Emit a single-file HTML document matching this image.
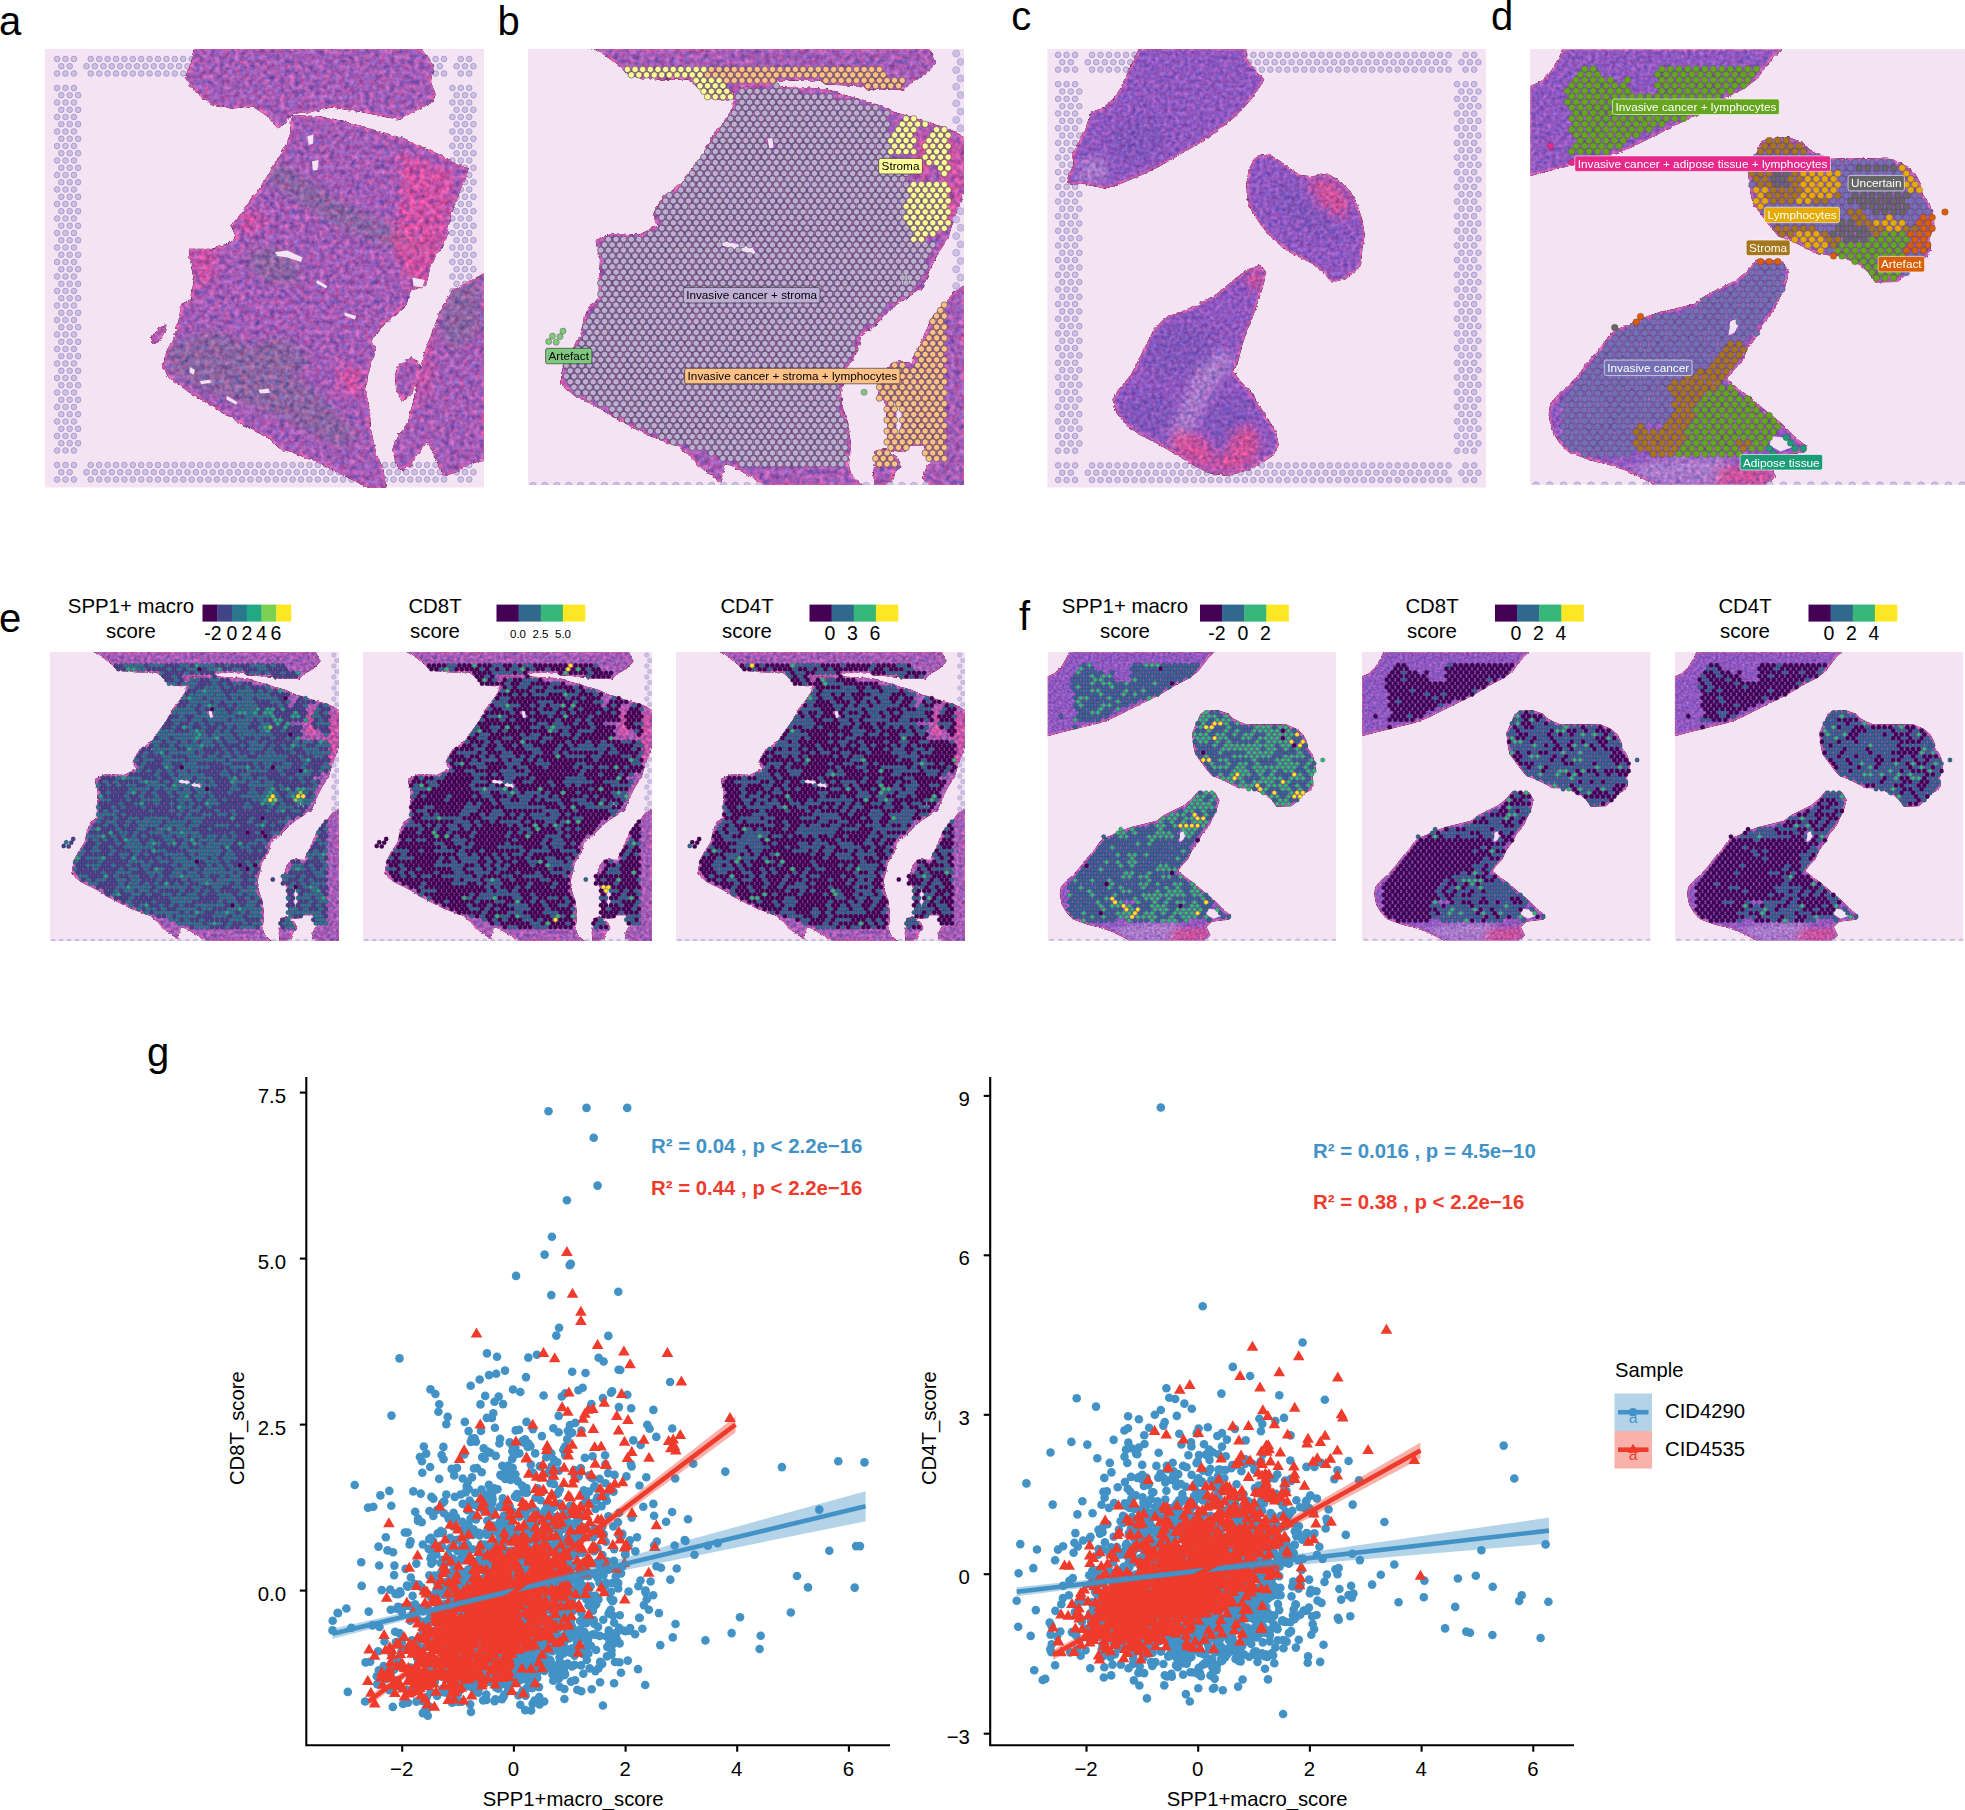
<!DOCTYPE html><html><head><meta charset="utf-8"><title>figure</title><style>html,body{margin:0;padding:0;background:#fff}svg{display:block}</style></head><body><svg width="1965" height="1810" viewBox="0 0 1965 1810" font-family="'Liberation Sans', sans-serif">
<defs>
<filter id="tis" x="-2%" y="-2%" width="104%" height="104%" color-interpolation-filters="sRGB">
<feTurbulence type="fractalNoise" baseFrequency="0.2" numOctaves="2" seed="4" result="n"/>
<feDisplacementMap in="SourceGraphic" in2="n" scale="4" xChannelSelector="R" yChannelSelector="B" result="d"/>
<feColorMatrix in="n" type="matrix" values="0.8 0.7 0 0 -0.25  0 0.9 0 0 0.05  -0.15 0.5 0 0 0.325  0 0 0 0 1" result="c"/>
<feComposite in="d" in2="c" operator="arithmetic" k1="1" k2="0.5" k3="0" k4="0"/>
</filter>
<filter id="tis2" x="-2%" y="-2%" width="104%" height="104%" color-interpolation-filters="sRGB">
<feTurbulence type="fractalNoise" baseFrequency="0.25" numOctaves="2" seed="9" result="n"/>
<feDisplacementMap in="SourceGraphic" in2="n" scale="3" xChannelSelector="R" yChannelSelector="B" result="d"/>
<feColorMatrix in="n" type="matrix" values="0.6 0.6 0 0 -0.1  0 0.8 0 0 0.1  -0.1 0.4 0 0 0.35  0 0 0 0 1" result="c"/>
<feComposite in="d" in2="c" operator="arithmetic" k1="1" k2="0.5" k3="0" k4="0"/>
</filter>
<filter id="bl" x="-10%" y="-10%" width="120%" height="120%"><feGaussianBlur stdDeviation="5"/></filter>
<marker id="mf" markerUnits="userSpaceOnUse" markerWidth="7.6" markerHeight="7.6" refX="3.8" refY="3.8"><circle cx="3.8" cy="3.8" r="2.8" fill="#cdc2e4" stroke="#a595cc" stroke-width="0.9"/></marker>
<marker id="mg" markerUnits="userSpaceOnUse" markerWidth="9" markerHeight="9" refX="4.5" refY="4.5"><circle cx="4.5" cy="4.5" r="3.5" fill="#cbbfe3" stroke="#b3a4d6" stroke-width="0.8"/></marker>
<marker id="m1" markerUnits="userSpaceOnUse" markerWidth="8.3" markerHeight="8.3" refX="4.15" refY="4.15"><circle cx="4.15" cy="4.15" r="3.15" fill="#BEAED4" stroke="#2a2a2a" stroke-width="0.5"/></marker>
<marker id="m2" markerUnits="userSpaceOnUse" markerWidth="8.3" markerHeight="8.3" refX="4.15" refY="4.15"><circle cx="4.15" cy="4.15" r="3.15" fill="#FFFF99" stroke="#2a2a2a" stroke-width="0.5"/></marker>
<marker id="m3" markerUnits="userSpaceOnUse" markerWidth="8.3" markerHeight="8.3" refX="4.15" refY="4.15"><circle cx="4.15" cy="4.15" r="3.15" fill="#FDC086" stroke="#2a2a2a" stroke-width="0.5"/></marker>
<marker id="n0" markerUnits="userSpaceOnUse" markerWidth="8.6" markerHeight="8.6" refX="4.3" refY="4.3"><circle cx="4.3" cy="4.3" r="3.3" fill="#66A61E" stroke="#333" stroke-width="0.25"/></marker>
<marker id="n1" markerUnits="userSpaceOnUse" markerWidth="8.6" markerHeight="8.6" refX="4.3" refY="4.3"><circle cx="4.3" cy="4.3" r="3.3" fill="#A6761D" stroke="#333" stroke-width="0.25"/></marker>
<marker id="n2" markerUnits="userSpaceOnUse" markerWidth="8.6" markerHeight="8.6" refX="4.3" refY="4.3"><circle cx="4.3" cy="4.3" r="3.3" fill="#7570B3" stroke="#333" stroke-width="0.25"/></marker>
<marker id="n3" markerUnits="userSpaceOnUse" markerWidth="8.6" markerHeight="8.6" refX="4.3" refY="4.3"><circle cx="4.3" cy="4.3" r="3.3" fill="#666666" stroke="#333" stroke-width="0.25"/></marker>
<marker id="n4" markerUnits="userSpaceOnUse" markerWidth="8.6" markerHeight="8.6" refX="4.3" refY="4.3"><circle cx="4.3" cy="4.3" r="3.3" fill="#E6AB02" stroke="#333" stroke-width="0.25"/></marker>
<marker id="n5" markerUnits="userSpaceOnUse" markerWidth="8.6" markerHeight="8.6" refX="4.3" refY="4.3"><circle cx="4.3" cy="4.3" r="3.3" fill="#D95F02" stroke="#333" stroke-width="0.25"/></marker>
<marker id="n6" markerUnits="userSpaceOnUse" markerWidth="8.6" markerHeight="8.6" refX="4.3" refY="4.3"><circle cx="4.3" cy="4.3" r="3.3" fill="#E7298A" stroke="#333" stroke-width="0.25"/></marker>
<marker id="n7" markerUnits="userSpaceOnUse" markerWidth="8.6" markerHeight="8.6" refX="4.3" refY="4.3"><circle cx="4.3" cy="4.3" r="3.3" fill="#1B9E77" stroke="#333" stroke-width="0.25"/></marker>
<marker id="v60" markerUnits="userSpaceOnUse" markerWidth="8.6" markerHeight="8.6" refX="4.3" refY="4.3"><circle cx="4.3" cy="4.3" r="3.3" fill="#440154" stroke="#1a1030" stroke-width="0.3"/></marker>
<marker id="v61" markerUnits="userSpaceOnUse" markerWidth="8.6" markerHeight="8.6" refX="4.3" refY="4.3"><circle cx="4.3" cy="4.3" r="3.3" fill="#414487" stroke="#1a1030" stroke-width="0.3"/></marker>
<marker id="v62" markerUnits="userSpaceOnUse" markerWidth="8.6" markerHeight="8.6" refX="4.3" refY="4.3"><circle cx="4.3" cy="4.3" r="3.3" fill="#2A788E" stroke="#1a1030" stroke-width="0.3"/></marker>
<marker id="v63" markerUnits="userSpaceOnUse" markerWidth="8.6" markerHeight="8.6" refX="4.3" refY="4.3"><circle cx="4.3" cy="4.3" r="3.3" fill="#22A884" stroke="#1a1030" stroke-width="0.3"/></marker>
<marker id="v64" markerUnits="userSpaceOnUse" markerWidth="8.6" markerHeight="8.6" refX="4.3" refY="4.3"><circle cx="4.3" cy="4.3" r="3.3" fill="#7AD151" stroke="#1a1030" stroke-width="0.3"/></marker>
<marker id="v65" markerUnits="userSpaceOnUse" markerWidth="8.6" markerHeight="8.6" refX="4.3" refY="4.3"><circle cx="4.3" cy="4.3" r="3.3" fill="#FDE725" stroke="#1a1030" stroke-width="0.3"/></marker>
<marker id="v40" markerUnits="userSpaceOnUse" markerWidth="8.6" markerHeight="8.6" refX="4.3" refY="4.3"><circle cx="4.3" cy="4.3" r="3.3" fill="#440154" stroke="#1a1030" stroke-width="0.3"/></marker>
<marker id="v41" markerUnits="userSpaceOnUse" markerWidth="8.6" markerHeight="8.6" refX="4.3" refY="4.3"><circle cx="4.3" cy="4.3" r="3.3" fill="#31688E" stroke="#1a1030" stroke-width="0.3"/></marker>
<marker id="v42" markerUnits="userSpaceOnUse" markerWidth="8.6" markerHeight="8.6" refX="4.3" refY="4.3"><circle cx="4.3" cy="4.3" r="3.3" fill="#35B779" stroke="#1a1030" stroke-width="0.3"/></marker>
<marker id="v43" markerUnits="userSpaceOnUse" markerWidth="8.6" markerHeight="8.6" refX="4.3" refY="4.3"><circle cx="4.3" cy="4.3" r="3.3" fill="#FDE725" stroke="#1a1030" stroke-width="0.3"/></marker>
<marker id="gb" markerUnits="userSpaceOnUse" markerWidth="10.6" markerHeight="10.6" refX="5.3" refY="5.3"><circle cx="5.3" cy="5.3" r="4.3" fill="#4292C6"/></marker>
<marker id="gr" markerUnits="userSpaceOnUse" markerWidth="12" markerHeight="12" refX="6" refY="6.3"><path d="M6,0.3L11.8,10.3H0.2Z" fill="#EF3B2C"/></marker>
<style>polyline{fill:none;stroke:none}.mf{marker:url(#mf)}.mg{marker:url(#mg)}.m1{marker:url(#m1)}.m2{marker:url(#m2)}.m3{marker:url(#m3)}.n0{marker:url(#n0)}.n1{marker:url(#n1)}.n2{marker:url(#n2)}.n3{marker:url(#n3)}.n4{marker:url(#n4)}.n5{marker:url(#n5)}.n6{marker:url(#n6)}.n7{marker:url(#n7)}.v60{marker:url(#v60)}.v61{marker:url(#v61)}.v62{marker:url(#v62)}.v63{marker:url(#v63)}.v64{marker:url(#v64)}.v65{marker:url(#v65)}.v40{marker:url(#v40)}.v41{marker:url(#v41)}.v42{marker:url(#v42)}.v43{marker:url(#v43)}.gb{marker:url(#gb)}.gr{marker:url(#gr)}</style>
</defs>
<text x="-1" y="35" font-size="40">a</text>
<text x="497.5" y="35" font-size="40">b</text>
<text x="1011.2" y="30" font-size="40">c</text>
<text x="1491" y="30" font-size="40">d</text>
<text x="-1" y="632" font-size="40">e</text>
<text x="1019" y="629.5" font-size="40">f</text>
<text x="147" y="1065.7" font-size="40">g</text>
<clipPath id="cpa"><rect x="45" y="49" width="439" height="438.5"/></clipPath>
<rect x="45" y="49" width="439" height="438.5" fill="#f4e3f2"/>
<g clip-path="url(#cpa)">
<polyline class="mf" points="57.1,59 65.5,59 73.9,59 90.7,59 99.2,59 107.6,59 116,59 124.4,59 132.8,59 141.2,59 149.6,59 158,59 166.4,59 174.8,59 183.2,59 191.7,59 200.1,59 208.5,59 216.9,59 225.3,59 233.7,59 242.1,59 250.5,59 258.9,59 267.4,59 275.8,59 284.2,59 292.6,59 301,59 309.4,59 317.8,59 326.2,59 334.6,59 343,59 351.5,59 359.9,59 368.3,59 376.7,59 385.1,59 393.5,59 401.9,59 410.3,59 418.7,59 427.1,59 435.6,59 444,59 460.8,59 469.2,59 61.3,66.2 69.7,66.2 86.5,66.2 94.9,66.2 103.4,66.2 111.8,66.2 120.2,66.2 128.6,66.2 137,66.2 145.4,66.2 153.8,66.2 162.2,66.2 170.6,66.2 179,66.2 187.5,66.2 195.9,66.2 204.3,66.2 212.7,66.2 221.1,66.2 229.5,66.2 237.9,66.2 246.3,66.2 254.7,66.2 263.1,66.2 271.6,66.2 280,66.2 288.4,66.2 296.8,66.2 305.2,66.2 313.6,66.2 322,66.2 330.4,66.2 338.8,66.2 347.2,66.2 355.7,66.2 364.1,66.2 372.5,66.2 380.9,66.2 389.3,66.2 397.7,66.2 406.1,66.2 414.5,66.2 422.9,66.2 431.3,66.2 439.8,66.2 456.6,66.2 465,66.2 473.4,66.2 57.1,73.5 65.5,73.5 73.9,73.5 90.7,73.5 99.2,73.5 107.6,73.5 116,73.5 124.4,73.5 132.8,73.5 141.2,73.5 149.6,73.5 158,73.5 166.4,73.5 174.8,73.5 183.2,73.5 191.7,73.5 200.1,73.5 208.5,73.5 216.9,73.5 225.3,73.5 233.7,73.5 242.1,73.5 250.5,73.5 258.9,73.5 267.4,73.5 275.8,73.5 284.2,73.5 292.6,73.5 301,73.5 309.4,73.5 317.8,73.5 326.2,73.5 334.6,73.5 343,73.5 351.5,73.5 359.9,73.5 368.3,73.5 376.7,73.5 385.1,73.5 393.5,73.5 401.9,73.5 410.3,73.5 418.7,73.5 427.1,73.5 435.6,73.5 444,73.5 460.8,73.5 469.2,73.5 57.1,88 65.5,88 73.9,88 452.4,88 460.8,88 469.2,88 61.3,95.2 69.7,95.2 78.1,95.2 456.6,95.2 465,95.2 473.4,95.2 57.1,102.5 65.5,102.5 73.9,102.5 452.4,102.5 460.8,102.5 469.2,102.5 61.3,109.8 69.7,109.8 78.1,109.8 456.6,109.8 465,109.8 473.4,109.8 57.1,117 65.5,117 73.9,117 452.4,117 460.8,117 469.2,117 61.3,124.2 69.7,124.2 78.1,124.2 456.6,124.2 465,124.2 473.4,124.2 57.1,131.5 65.5,131.5 73.9,131.5 452.4,131.5 460.8,131.5 469.2,131.5 61.3,138.8 69.7,138.8 78.1,138.8 456.6,138.8 465,138.8 473.4,138.8 57.1,146 65.5,146 73.9,146 452.4,146 460.8,146 469.2,146 61.3,153.2 69.7,153.2 78.1,153.2 456.6,153.2 465,153.2 473.4,153.2 57.1,160.5 65.5,160.5 73.9,160.5 452.4,160.5 460.8,160.5 469.2,160.5 61.3,167.8 69.7,167.8 78.1,167.8 456.6,167.8 465,167.8 473.4,167.8 57.1,175 65.5,175 73.9,175 452.4,175 460.8,175 469.2,175 61.3,182.2 69.7,182.2 78.1,182.2 456.6,182.2 465,182.2 473.4,182.2 57.1,189.5 65.5,189.5 73.9,189.5 452.4,189.5 460.8,189.5 469.2,189.5 61.3,196.8 69.7,196.8 78.1,196.8 456.6,196.8 465,196.8 473.4,196.8 57.1,204 65.5,204 73.9,204 452.4,204 460.8,204 469.2,204 61.3,211.2 69.7,211.2 78.1,211.2 456.6,211.2 465,211.2 473.4,211.2 57.1,218.5 65.5,218.5 73.9,218.5 452.4,218.5 460.8,218.5 469.2,218.5 61.3,225.8 69.7,225.8 78.1,225.8 456.6,225.8 465,225.8 473.4,225.8 57.1,233 65.5,233 73.9,233 452.4,233 460.8,233 469.2,233 61.3,240.2 69.7,240.2 78.1,240.2 456.6,240.2 465,240.2 473.4,240.2 57.1,247.5 65.5,247.5 73.9,247.5 452.4,247.5 460.8,247.5 469.2,247.5 61.3,254.8 69.7,254.8 78.1,254.8 456.6,254.8 465,254.8 473.4,254.8 57.1,262 65.5,262 73.9,262 452.4,262 460.8,262 469.2,262 61.3,269.2 69.7,269.2 78.1,269.2 456.6,269.2 465,269.2 473.4,269.2 57.1,276.5 65.5,276.5 73.9,276.5 452.4,276.5 460.8,276.5 469.2,276.5 61.3,283.8 69.7,283.8 78.1,283.8 456.6,283.8 465,283.8 473.4,283.8 57.1,291 65.5,291 73.9,291 452.4,291 460.8,291 469.2,291 61.3,298.2 69.7,298.2 78.1,298.2 456.6,298.2 465,298.2 473.4,298.2 57.1,305.5 65.5,305.5 73.9,305.5 452.4,305.5 460.8,305.5 469.2,305.5 61.3,312.8 69.7,312.8 78.1,312.8 456.6,312.8 465,312.8 473.4,312.8 57.1,320 65.5,320 73.9,320 452.4,320 460.8,320 469.2,320 61.3,327.2 69.7,327.2 78.1,327.2 456.6,327.2 465,327.2 473.4,327.2 57.1,334.5 65.5,334.5 73.9,334.5 452.4,334.5 460.8,334.5 469.2,334.5 61.3,341.8 69.7,341.8 78.1,341.8 456.6,341.8 465,341.8 473.4,341.8 57.1,349 65.5,349 73.9,349 452.4,349 460.8,349 469.2,349 61.3,356.2 69.7,356.2 78.1,356.2 456.6,356.2 465,356.2 473.4,356.2 57.1,363.5 65.5,363.5 73.9,363.5 452.4,363.5 460.8,363.5 469.2,363.5 61.3,370.8 69.7,370.8 78.1,370.8 456.6,370.8 465,370.8 473.4,370.8 57.1,378 65.5,378 73.9,378 452.4,378 460.8,378 469.2,378 61.3,385.2 69.7,385.2 78.1,385.2 456.6,385.2 465,385.2 473.4,385.2 57.1,392.5 65.5,392.5 73.9,392.5 452.4,392.5 460.8,392.5 469.2,392.5 61.3,399.8 69.7,399.8 78.1,399.8 456.6,399.8 465,399.8 473.4,399.8 57.1,407 65.5,407 73.9,407 452.4,407 460.8,407 469.2,407 61.3,414.2 69.7,414.2 78.1,414.2 456.6,414.2 465,414.2 473.4,414.2 57.1,421.5 65.5,421.5 73.9,421.5 452.4,421.5 460.8,421.5 469.2,421.5 61.3,428.8 69.7,428.8 78.1,428.8 456.6,428.8 465,428.8 473.4,428.8 57.1,436 65.5,436 73.9,436 452.4,436 460.8,436 469.2,436 61.3,443.2 69.7,443.2 78.1,443.2 456.6,443.2 465,443.2 473.4,443.2 57.1,450.5 65.5,450.5 73.9,450.5 452.4,450.5 460.8,450.5 469.2,450.5 57.1,465 65.5,465 73.9,465 90.7,465 99.2,465 107.6,465 116,465 124.4,465 132.8,465 141.2,465 149.6,465 158,465 166.4,465 174.8,465 183.2,465 191.7,465 200.1,465 208.5,465 216.9,465 225.3,465 233.7,465 242.1,465 250.5,465 258.9,465 267.4,465 275.8,465 284.2,465 292.6,465 301,465 309.4,465 317.8,465 326.2,465 334.6,465 343,465 351.5,465 359.9,465 368.3,465 376.7,465 385.1,465 393.5,465 401.9,465 410.3,465 418.7,465 427.1,465 435.6,465 444,465 460.8,465 469.2,465 61.3,472.2 69.7,472.2 86.5,472.2 94.9,472.2 103.4,472.2 111.8,472.2 120.2,472.2 128.6,472.2 137,472.2 145.4,472.2 153.8,472.2 162.2,472.2 170.6,472.2 179,472.2 187.5,472.2 195.9,472.2 204.3,472.2 212.7,472.2 221.1,472.2 229.5,472.2 237.9,472.2 246.3,472.2 254.7,472.2 263.1,472.2 271.6,472.2 280,472.2 288.4,472.2 296.8,472.2 305.2,472.2 313.6,472.2 322,472.2 330.4,472.2 338.8,472.2 347.2,472.2 355.7,472.2 364.1,472.2 372.5,472.2 380.9,472.2 389.3,472.2 397.7,472.2 406.1,472.2 414.5,472.2 422.9,472.2 431.3,472.2 439.8,472.2 456.6,472.2 465,472.2 473.4,472.2 57.1,479.5 65.5,479.5 73.9,479.5 90.7,479.5 99.2,479.5 107.6,479.5 116,479.5 124.4,479.5 132.8,479.5 141.2,479.5 149.6,479.5 158,479.5 166.4,479.5 174.8,479.5 183.2,479.5 191.7,479.5 200.1,479.5 208.5,479.5 216.9,479.5 225.3,479.5 233.7,479.5 242.1,479.5 250.5,479.5 258.9,479.5 267.4,479.5 275.8,479.5 284.2,479.5 292.6,479.5 301,479.5 309.4,479.5 317.8,479.5 326.2,479.5 334.6,479.5 343,479.5 351.5,479.5 359.9,479.5 368.3,479.5 376.7,479.5 385.1,479.5 393.5,479.5 401.9,479.5 410.3,479.5 418.7,479.5 427.1,479.5 435.6,479.5 444,479.5 460.8,479.5 469.2,479.5"/>
<g id="tA" filter="url(#tis)"><clipPath id="tAc"><path d="M194.9,48.7 192.4,62.5 186.2,77.5 194.9,90 209.9,102.5 232.4,107.5 252.4,105 267.4,115 277.4,126.2 284.9,122.5 291.1,112.5 307.4,111.2 332.3,106.2 369.8,112.5 399.8,118.7 409.8,112.5 429.8,102.5 434.8,95 429.8,82.5 432.3,65 419.8,48.7ZM292.4,116.2 319.9,117.5 344.8,122.5 369.8,130 404.8,140 432.3,152.4 467.3,169.9 462.3,184.9 454.8,199.9 449.8,214.9 444.8,239.9 429.8,264.9 424.8,284.9 409.8,289.9 404.8,304.9 379.8,327.4 369.8,339.9 374.8,349.8 367.3,372.3 364.8,389.8 368.6,409.8 369.8,429.8 374.8,452.3 382.3,469.8 384.8,487.3 369.8,487.3 344.8,474.8 319.9,462.3 294.9,452.3 282.4,449.8 269.9,437.3 244.9,424.8 219.9,409.8 194.9,394.8 169.9,377.3 163.7,367.3 167.4,352.3 174.9,337.4 179.9,319.9 182.4,304.9 192.4,299.9 194.9,279.9 191.2,259.9 189.9,249.9 209.9,249.9 227.4,244.9 237.4,237.4 232.4,226.2 244.9,209.9 259.9,189.9 272.4,169.9 284.9,149.9 291.1,135ZM484,274.9 469.8,282.4 454.8,289.9 444.8,304.9 439.8,314.9 432.3,334.9 424.8,354.8 419.8,374.8 414.8,399.8 409.8,419.8 404.8,429.8 397.3,437.3 393.6,449.8 397.3,464.8 402.3,469.8 409.8,464.8 419.8,449.8 427.3,439.8 432.3,449.8 439.8,464.8 444.8,474.8 459.8,469.8 469.8,462.3 484,459.8ZM399.8,364.8 412.3,358.6 418.6,364.8 417.3,379.8 409.8,394.8 402.3,399.8 397.3,389.8 396.1,374.8ZM152.4,337.4 159.9,327.4 164.9,326.1 163.7,332.4 157.4,341.1 153.7,342.3Z"/></clipPath><path d="M194.9,48.7 192.4,62.5 186.2,77.5 194.9,90 209.9,102.5 232.4,107.5 252.4,105 267.4,115 277.4,126.2 284.9,122.5 291.1,112.5 307.4,111.2 332.3,106.2 369.8,112.5 399.8,118.7 409.8,112.5 429.8,102.5 434.8,95 429.8,82.5 432.3,65 419.8,48.7ZM292.4,116.2 319.9,117.5 344.8,122.5 369.8,130 404.8,140 432.3,152.4 467.3,169.9 462.3,184.9 454.8,199.9 449.8,214.9 444.8,239.9 429.8,264.9 424.8,284.9 409.8,289.9 404.8,304.9 379.8,327.4 369.8,339.9 374.8,349.8 367.3,372.3 364.8,389.8 368.6,409.8 369.8,429.8 374.8,452.3 382.3,469.8 384.8,487.3 369.8,487.3 344.8,474.8 319.9,462.3 294.9,452.3 282.4,449.8 269.9,437.3 244.9,424.8 219.9,409.8 194.9,394.8 169.9,377.3 163.7,367.3 167.4,352.3 174.9,337.4 179.9,319.9 182.4,304.9 192.4,299.9 194.9,279.9 191.2,259.9 189.9,249.9 209.9,249.9 227.4,244.9 237.4,237.4 232.4,226.2 244.9,209.9 259.9,189.9 272.4,169.9 284.9,149.9 291.1,135ZM484,274.9 469.8,282.4 454.8,289.9 444.8,304.9 439.8,314.9 432.3,334.9 424.8,354.8 419.8,374.8 414.8,399.8 409.8,419.8 404.8,429.8 397.3,437.3 393.6,449.8 397.3,464.8 402.3,469.8 409.8,464.8 419.8,449.8 427.3,439.8 432.3,449.8 439.8,464.8 444.8,474.8 459.8,469.8 469.8,462.3 484,459.8ZM399.8,364.8 412.3,358.6 418.6,364.8 417.3,379.8 409.8,394.8 402.3,399.8 397.3,389.8 396.1,374.8ZM152.4,337.4 159.9,327.4 164.9,326.1 163.7,332.4 157.4,341.1 153.7,342.3Z" fill="#a25cb6" stroke="#c45cb0" stroke-width="2.5"/><g clip-path="url(#tAc)" filter="url(#bl)"><path d="M263.4,169.3 284.3,163 338.9,200.8 391.4,225.9 431.3,242.7 427.1,255.3 380.9,244.8 328.4,221.7 275.9,188.2Z" fill="#7d6a94" opacity=".6"/><path d="M166.8,345.6 213,330.9 267.5,351.9 317.9,393.9 359.9,435.9 338.9,446.3 275.9,414.9 213,393.9 171,372.9Z" fill="#7d6a94" opacity=".6"/><path d="M250.8,251.1 275.9,246.9 301.1,263.7 296.9,284.7 267.5,280.5 248.7,267.9Z" fill="#7d6a94" opacity=".6"/><path d="M255,341.4 284.3,337.2 309.5,356.1 301.1,372.9 271.7,364.5Z" fill="#7d6a94" opacity=".6"/><path d="M443.9,288.9 480,276.3 480,330.9 454.4,351.9 439.7,330.9Z" fill="#7d6a94" opacity=".6"/><path d="M397.7,152.5 454.4,169.3 448.1,225.9 429.2,284.7 412.4,288.9 391.4,246.9 401.9,194.5Z" fill="#d9509f" opacity=".75"/><path d="M192,251.1 219.3,246.9 213,278.4 196.2,288.9Z" fill="#d9509f" opacity=".75"/><path d="M238.2,217.5 259.2,209.2 267.5,225.9 242.4,234.3Z" fill="#d9509f" opacity=".75"/><path d="M338.9,362.4 364.1,372.9 359.9,398.1 338.9,389.7Z" fill="#d9509f" opacity=".75"/><path d="M420.8,341.4 431.3,330.9 429.2,383.4 418.7,414.9Z" fill="#d9509f" opacity=".75"/></g></g><g id="tAh"><path d="M307.4,136.2 313.6,134.5 312.9,143.7 308.6,144.9Z" fill="#f4e3f2"/><path d="M311.9,161.2 318.6,159.9 317.4,169.9 312.9,170.4Z" fill="#f4e3f2"/><path d="M274.9,251.9 287.4,250.4 302.4,257.4 301.1,261.9 287.4,257.4 277.4,256.1Z" fill="#f4e3f2"/><path d="M317.4,279.9 327.3,286.1 326.1,288.6 316.1,282.9Z" fill="#f4e3f2"/><path d="M344.8,312.4 356.1,316.1 354.8,319.4 344.3,315.4Z" fill="#f4e3f2"/><path d="M189.9,367.3 194.9,369.8 193.7,374.8 189.4,372.3Z" fill="#f4e3f2"/><path d="M199.9,381.1 209.9,379.8 211.2,382.8 201.2,384.3Z" fill="#f4e3f2"/><path d="M258.6,389.8 268.6,388.6 269.9,392.8 259.9,393.6Z" fill="#f4e3f2"/><path d="M227.4,396.1 237.4,402.3 236.1,404.8 226.1,399.3Z" fill="#f4e3f2"/><path d="M412.3,277.4 424.8,279.9 422.3,287.4 413.6,286.1Z" fill="#f4e3f2"/></g>
</g>
<clipPath id="cpc"><rect x="1047.5" y="49" width="438.5" height="438.5"/></clipPath>
<rect x="1047.5" y="49" width="438.5" height="438.5" fill="#f4e3f2"/>
<g clip-path="url(#cpc)">
<polyline class="mf" points="1058.1,54.9 1066.6,54.9 1075.1,54.9 1092.1,54.9 1100.5,54.9 1109,54.9 1117.5,54.9 1126,54.9 1134.5,54.9 1143,54.9 1151.5,54.9 1160,54.9 1168.5,54.9 1177,54.9 1185.4,54.9 1193.9,54.9 1202.4,54.9 1210.9,54.9 1219.4,54.9 1227.9,54.9 1236.4,54.9 1244.9,54.9 1253.4,54.9 1261.9,54.9 1270.3,54.9 1278.8,54.9 1287.3,54.9 1295.8,54.9 1304.3,54.9 1312.8,54.9 1321.3,54.9 1329.8,54.9 1338.3,54.9 1346.8,54.9 1355.2,54.9 1363.7,54.9 1372.2,54.9 1380.7,54.9 1389.2,54.9 1397.7,54.9 1406.2,54.9 1414.7,54.9 1423.2,54.9 1431.7,54.9 1440.1,54.9 1448.6,54.9 1465.6,54.9 1474.1,54.9 1062.3,62.2 1070.8,62.2 1087.8,62.2 1096.3,62.2 1104.8,62.2 1113.3,62.2 1121.8,62.2 1130.3,62.2 1138.8,62.2 1147.2,62.2 1155.7,62.2 1164.2,62.2 1172.7,62.2 1181.2,62.2 1189.7,62.2 1198.2,62.2 1206.7,62.2 1215.2,62.2 1223.7,62.2 1232.1,62.2 1240.6,62.2 1249.1,62.2 1257.6,62.2 1266.1,62.2 1274.6,62.2 1283.1,62.2 1291.6,62.2 1300.1,62.2 1308.6,62.2 1317,62.2 1325.5,62.2 1334,62.2 1342.5,62.2 1351,62.2 1359.5,62.2 1368,62.2 1376.5,62.2 1385,62.2 1393.5,62.2 1401.9,62.2 1410.4,62.2 1418.9,62.2 1427.4,62.2 1435.9,62.2 1444.4,62.2 1461.4,62.2 1469.9,62.2 1478.4,62.2 1058.1,69.6 1066.6,69.6 1075.1,69.6 1092.1,69.6 1100.5,69.6 1109,69.6 1117.5,69.6 1126,69.6 1134.5,69.6 1143,69.6 1151.5,69.6 1160,69.6 1168.5,69.6 1177,69.6 1185.4,69.6 1193.9,69.6 1202.4,69.6 1210.9,69.6 1219.4,69.6 1227.9,69.6 1236.4,69.6 1244.9,69.6 1253.4,69.6 1261.9,69.6 1270.3,69.6 1278.8,69.6 1287.3,69.6 1295.8,69.6 1304.3,69.6 1312.8,69.6 1321.3,69.6 1329.8,69.6 1338.3,69.6 1346.8,69.6 1355.2,69.6 1363.7,69.6 1372.2,69.6 1380.7,69.6 1389.2,69.6 1397.7,69.6 1406.2,69.6 1414.7,69.6 1423.2,69.6 1431.7,69.6 1440.1,69.6 1448.6,69.6 1465.6,69.6 1474.1,69.6 1058.1,84.2 1066.6,84.2 1075.1,84.2 1457.1,84.2 1465.6,84.2 1474.1,84.2 1062.3,91.5 1070.8,91.5 1079.3,91.5 1461.4,91.5 1469.9,91.5 1478.4,91.5 1058.1,98.9 1066.6,98.9 1075.1,98.9 1457.1,98.9 1465.6,98.9 1474.1,98.9 1062.3,106.2 1070.8,106.2 1079.3,106.2 1461.4,106.2 1469.9,106.2 1478.4,106.2 1058.1,113.5 1066.6,113.5 1075.1,113.5 1457.1,113.5 1465.6,113.5 1474.1,113.5 1062.3,120.9 1070.8,120.9 1079.3,120.9 1461.4,120.9 1469.9,120.9 1478.4,120.9 1058.1,128.2 1066.6,128.2 1075.1,128.2 1457.1,128.2 1465.6,128.2 1474.1,128.2 1062.3,135.5 1070.8,135.5 1079.3,135.5 1461.4,135.5 1469.9,135.5 1478.4,135.5 1058.1,142.9 1066.6,142.9 1075.1,142.9 1457.1,142.9 1465.6,142.9 1474.1,142.9 1062.3,150.2 1070.8,150.2 1079.3,150.2 1461.4,150.2 1469.9,150.2 1478.4,150.2 1058.1,157.5 1066.6,157.5 1075.1,157.5 1457.1,157.5 1465.6,157.5 1474.1,157.5 1062.3,164.8 1070.8,164.8 1079.3,164.8 1461.4,164.8 1469.9,164.8 1478.4,164.8 1058.1,172.2 1066.6,172.2 1075.1,172.2 1457.1,172.2 1465.6,172.2 1474.1,172.2 1062.3,179.5 1070.8,179.5 1079.3,179.5 1461.4,179.5 1469.9,179.5 1478.4,179.5 1058.1,186.8 1066.6,186.8 1075.1,186.8 1457.1,186.8 1465.6,186.8 1474.1,186.8 1062.3,194.2 1070.8,194.2 1079.3,194.2 1461.4,194.2 1469.9,194.2 1478.4,194.2 1058.1,201.5 1066.6,201.5 1075.1,201.5 1457.1,201.5 1465.6,201.5 1474.1,201.5 1062.3,208.8 1070.8,208.8 1079.3,208.8 1461.4,208.8 1469.9,208.8 1478.4,208.8 1058.1,216.2 1066.6,216.2 1075.1,216.2 1457.1,216.2 1465.6,216.2 1474.1,216.2 1062.3,223.5 1070.8,223.5 1079.3,223.5 1461.4,223.5 1469.9,223.5 1478.4,223.5 1058.1,230.8 1066.6,230.8 1075.1,230.8 1457.1,230.8 1465.6,230.8 1474.1,230.8 1062.3,238.2 1070.8,238.2 1079.3,238.2 1461.4,238.2 1469.9,238.2 1478.4,238.2 1058.1,245.5 1066.6,245.5 1075.1,245.5 1457.1,245.5 1465.6,245.5 1474.1,245.5 1062.3,252.8 1070.8,252.8 1079.3,252.8 1461.4,252.8 1469.9,252.8 1478.4,252.8 1058.1,260.1 1066.6,260.1 1075.1,260.1 1457.1,260.1 1465.6,260.1 1474.1,260.1 1062.3,267.5 1070.8,267.5 1079.3,267.5 1461.4,267.5 1469.9,267.5 1478.4,267.5 1058.1,274.8 1066.6,274.8 1075.1,274.8 1457.1,274.8 1465.6,274.8 1474.1,274.8 1062.3,282.1 1070.8,282.1 1079.3,282.1 1461.4,282.1 1469.9,282.1 1478.4,282.1 1058.1,289.5 1066.6,289.5 1075.1,289.5 1457.1,289.5 1465.6,289.5 1474.1,289.5 1062.3,296.8 1070.8,296.8 1079.3,296.8 1461.4,296.8 1469.9,296.8 1478.4,296.8 1058.1,304.1 1066.6,304.1 1075.1,304.1 1457.1,304.1 1465.6,304.1 1474.1,304.1 1062.3,311.4 1070.8,311.4 1079.3,311.4 1461.4,311.4 1469.9,311.4 1478.4,311.4 1058.1,318.8 1066.6,318.8 1075.1,318.8 1457.1,318.8 1465.6,318.8 1474.1,318.8 1062.3,326.1 1070.8,326.1 1079.3,326.1 1461.4,326.1 1469.9,326.1 1478.4,326.1 1058.1,333.4 1066.6,333.4 1075.1,333.4 1457.1,333.4 1465.6,333.4 1474.1,333.4 1062.3,340.8 1070.8,340.8 1079.3,340.8 1461.4,340.8 1469.9,340.8 1478.4,340.8 1058.1,348.1 1066.6,348.1 1075.1,348.1 1457.1,348.1 1465.6,348.1 1474.1,348.1 1062.3,355.4 1070.8,355.4 1079.3,355.4 1461.4,355.4 1469.9,355.4 1478.4,355.4 1058.1,362.8 1066.6,362.8 1075.1,362.8 1457.1,362.8 1465.6,362.8 1474.1,362.8 1062.3,370.1 1070.8,370.1 1079.3,370.1 1461.4,370.1 1469.9,370.1 1478.4,370.1 1058.1,377.4 1066.6,377.4 1075.1,377.4 1457.1,377.4 1465.6,377.4 1474.1,377.4 1062.3,384.8 1070.8,384.8 1079.3,384.8 1461.4,384.8 1469.9,384.8 1478.4,384.8 1058.1,392.1 1066.6,392.1 1075.1,392.1 1457.1,392.1 1465.6,392.1 1474.1,392.1 1062.3,399.4 1070.8,399.4 1079.3,399.4 1461.4,399.4 1469.9,399.4 1478.4,399.4 1058.1,406.7 1066.6,406.7 1075.1,406.7 1457.1,406.7 1465.6,406.7 1474.1,406.7 1062.3,414.1 1070.8,414.1 1079.3,414.1 1461.4,414.1 1469.9,414.1 1478.4,414.1 1058.1,421.4 1066.6,421.4 1075.1,421.4 1457.1,421.4 1465.6,421.4 1474.1,421.4 1062.3,428.7 1070.8,428.7 1079.3,428.7 1461.4,428.7 1469.9,428.7 1478.4,428.7 1058.1,436.1 1066.6,436.1 1075.1,436.1 1457.1,436.1 1465.6,436.1 1474.1,436.1 1062.3,443.4 1070.8,443.4 1079.3,443.4 1461.4,443.4 1469.9,443.4 1478.4,443.4 1058.1,450.7 1066.6,450.7 1075.1,450.7 1457.1,450.7 1465.6,450.7 1474.1,450.7 1058.1,465.4 1066.6,465.4 1075.1,465.4 1092.1,465.4 1100.5,465.4 1109,465.4 1117.5,465.4 1126,465.4 1134.5,465.4 1143,465.4 1151.5,465.4 1160,465.4 1168.5,465.4 1177,465.4 1185.4,465.4 1193.9,465.4 1202.4,465.4 1210.9,465.4 1219.4,465.4 1227.9,465.4 1236.4,465.4 1244.9,465.4 1253.4,465.4 1261.9,465.4 1270.3,465.4 1278.8,465.4 1287.3,465.4 1295.8,465.4 1304.3,465.4 1312.8,465.4 1321.3,465.4 1329.8,465.4 1338.3,465.4 1346.8,465.4 1355.2,465.4 1363.7,465.4 1372.2,465.4 1380.7,465.4 1389.2,465.4 1397.7,465.4 1406.2,465.4 1414.7,465.4 1423.2,465.4 1431.7,465.4 1440.1,465.4 1448.6,465.4 1465.6,465.4 1474.1,465.4 1062.3,472.7 1070.8,472.7 1087.8,472.7 1096.3,472.7 1104.8,472.7 1113.3,472.7 1121.8,472.7 1130.3,472.7 1138.8,472.7 1147.2,472.7 1155.7,472.7 1164.2,472.7 1172.7,472.7 1181.2,472.7 1189.7,472.7 1198.2,472.7 1206.7,472.7 1215.2,472.7 1223.7,472.7 1232.1,472.7 1240.6,472.7 1249.1,472.7 1257.6,472.7 1266.1,472.7 1274.6,472.7 1283.1,472.7 1291.6,472.7 1300.1,472.7 1308.6,472.7 1317,472.7 1325.5,472.7 1334,472.7 1342.5,472.7 1351,472.7 1359.5,472.7 1368,472.7 1376.5,472.7 1385,472.7 1393.5,472.7 1401.9,472.7 1410.4,472.7 1418.9,472.7 1427.4,472.7 1435.9,472.7 1444.4,472.7 1461.4,472.7 1469.9,472.7 1478.4,472.7 1058.1,480 1066.6,480 1075.1,480 1092.1,480 1100.5,480 1109,480 1117.5,480 1126,480 1134.5,480 1143,480 1151.5,480 1160,480 1168.5,480 1177,480 1185.4,480 1193.9,480 1202.4,480 1210.9,480 1219.4,480 1227.9,480 1236.4,480 1244.9,480 1253.4,480 1261.9,480 1270.3,480 1278.8,480 1287.3,480 1295.8,480 1304.3,480 1312.8,480 1321.3,480 1329.8,480 1338.3,480 1346.8,480 1355.2,480 1363.7,480 1372.2,480 1380.7,480 1389.2,480 1397.7,480 1406.2,480 1414.7,480 1423.2,480 1431.7,480 1440.1,480 1448.6,480 1465.6,480 1474.1,480"/>
<g id="tC" filter="url(#tis2)"><clipPath id="tCc"><path d="M1139.9,49.2 1244.9,49.2 1246.1,60 1257.4,75 1263.6,78.7 1254.9,92.5 1244.9,105 1232.4,117.5 1219.9,127.5 1204.9,138.7 1189.9,147.4 1174.9,156.2 1159.9,164.9 1144.9,172.4 1129.9,178.7 1117.5,183.7 1105,187.4 1092.5,184.9 1082.5,182.4 1070,183.7 1068.7,177.4 1075,164.9 1073.7,154.9 1080,142.4 1087.5,127.5 1091.2,112.5 1102.5,110 1115,98.7 1122.4,87.5 1127.4,75 1133.7,62.5ZM1261.1,155.4 1269.9,156.2 1279.9,162.4 1289.9,169.9 1299.9,176.2 1312.4,177.4 1327.3,174.9 1339.8,182.4 1349.8,192.4 1356.1,204.9 1361.1,219.9 1363.6,234.9 1361.1,249.9 1359.8,264.9 1352.3,272.4 1342.3,278.6 1332.3,281.1 1324.8,272.4 1312.4,262.4 1297.4,254.9 1284.9,247.4 1272.4,237.4 1262.4,224.9 1253.6,212.4 1248.6,199.9 1247.4,184.9 1249.9,169.9 1254.9,159.9ZM1259.9,266.1 1264.9,272.4 1262.4,284.9 1257.4,299.9 1252.4,314.9 1246.1,329.9 1241.1,344.8 1237.4,359.8 1232.4,372.3 1239.9,382.3 1249.9,392.3 1257.4,404.8 1267.4,419.8 1274.9,432.3 1277.4,444.8 1272.4,454.8 1259.9,462.3 1244.9,469.8 1227.4,474.8 1209.9,472.3 1194.9,464.8 1182.4,457.3 1169.9,449.8 1157.4,442.3 1142.4,434.8 1127.4,424.8 1117.5,412.3 1113.7,399.8 1120,389.8 1132.4,374.8 1139.9,359.8 1147.4,344.8 1154.9,329.9 1167.4,317.4 1182.4,312.4 1199.9,304.9 1217.4,294.9 1232.4,282.4 1244.9,272.4Z"/></clipPath><path d="M1139.9,49.2 1244.9,49.2 1246.1,60 1257.4,75 1263.6,78.7 1254.9,92.5 1244.9,105 1232.4,117.5 1219.9,127.5 1204.9,138.7 1189.9,147.4 1174.9,156.2 1159.9,164.9 1144.9,172.4 1129.9,178.7 1117.5,183.7 1105,187.4 1092.5,184.9 1082.5,182.4 1070,183.7 1068.7,177.4 1075,164.9 1073.7,154.9 1080,142.4 1087.5,127.5 1091.2,112.5 1102.5,110 1115,98.7 1122.4,87.5 1127.4,75 1133.7,62.5ZM1261.1,155.4 1269.9,156.2 1279.9,162.4 1289.9,169.9 1299.9,176.2 1312.4,177.4 1327.3,174.9 1339.8,182.4 1349.8,192.4 1356.1,204.9 1361.1,219.9 1363.6,234.9 1361.1,249.9 1359.8,264.9 1352.3,272.4 1342.3,278.6 1332.3,281.1 1324.8,272.4 1312.4,262.4 1297.4,254.9 1284.9,247.4 1272.4,237.4 1262.4,224.9 1253.6,212.4 1248.6,199.9 1247.4,184.9 1249.9,169.9 1254.9,159.9ZM1259.9,266.1 1264.9,272.4 1262.4,284.9 1257.4,299.9 1252.4,314.9 1246.1,329.9 1241.1,344.8 1237.4,359.8 1232.4,372.3 1239.9,382.3 1249.9,392.3 1257.4,404.8 1267.4,419.8 1274.9,432.3 1277.4,444.8 1272.4,454.8 1259.9,462.3 1244.9,469.8 1227.4,474.8 1209.9,472.3 1194.9,464.8 1182.4,457.3 1169.9,449.8 1157.4,442.3 1142.4,434.8 1127.4,424.8 1117.5,412.3 1113.7,399.8 1120,389.8 1132.4,374.8 1139.9,359.8 1147.4,344.8 1154.9,329.9 1167.4,317.4 1182.4,312.4 1199.9,304.9 1217.4,294.9 1232.4,282.4 1244.9,272.4Z" fill="#8f58c0" stroke="#c45cb0" stroke-width="2.5"/><g clip-path="url(#tCc)" filter="url(#bl)"><path d="M1277.4,187.4 1294.9,184.9 1307.4,199.9 1319.9,214.9 1339.8,229.9 1344.8,239.9 1324.8,237.4 1302.4,224.9 1284.9,212.4 1274.9,199.9Z" fill="#7a55b8" opacity=".6"/><path d="M1154.9,332.4 1194.9,322.4 1214.9,339.9 1209.9,364.8 1189.9,374.8 1159.9,374.8 1144.9,359.8Z" fill="#7a55b8" opacity=".6"/><path d="M1209.9,404.8 1239.9,394.8 1257.4,414.8 1244.9,439.8 1219.9,449.8 1202.4,429.8Z" fill="#7a55b8" opacity=".6"/><path d="M1120,399.8 1159.9,389.8 1179.9,414.8 1159.9,437.3 1129.9,424.8Z" fill="#7a55b8" opacity=".6"/><path d="M1110,132.5 1149.9,115 1169.9,135 1144.9,159.9 1115,164.9Z" fill="#7a55b8" opacity=".6"/><path d="M1194.9,372.3 1224.9,347.3 1234.9,359.8 1209.9,394.8 1194.9,424.8 1179.9,449.8 1167.4,444.8 1179.9,409.8Z" fill="#b994d2" opacity=".55"/><path d="M1085,157.4 1105,157.4 1107.5,179.9 1090,182.4 1073.7,179.9Z" fill="#b994d2" opacity=".55"/><path d="M1234.9,429.8 1252.4,424.8 1259.9,439.8 1257.4,459.8 1239.9,469.8 1219.9,472.3 1209.9,464.8 1227.4,449.8Z" fill="#e0508f" opacity=".75"/><path d="M1252.4,267.4 1263.6,271.1 1259.9,289.9 1252.4,289.9 1244.9,279.9Z" fill="#e0508f" opacity=".75"/><path d="M1307.4,179.9 1332.3,179.9 1349.8,199.9 1344.8,219.9 1319.9,204.9Z" fill="#e0508f" opacity=".75"/><path d="M1174.9,429.8 1199.9,434.8 1214.9,449.8 1209.9,469.8 1189.9,462.3 1169.9,447.3Z" fill="#e0508f" opacity=".75"/></g></g>
</g>
<clipPath id="cpb"><rect x="528" y="49" width="436" height="436"/></clipPath>
<rect x="528" y="49" width="436" height="436" fill="#f4e3f2"/>
<g clip-path="url(#cpb)">
<g id="tB" filter="url(#tis)"><clipPath id="tBc"><path d="M596.3,49.2 609.9,57.5 623.1,68.2 630,76 661.1,78.6 688.8,78.6 699.2,87.3 711.3,97.6 726.9,99.7 733.8,89.3 740.7,85 773.6,83.3 777.1,79.8 820.3,79 825.5,83.3 863.6,85 868.8,88.5 903.4,88.5 910.3,81.5 924.2,73.8 934.6,63 927.6,49.2ZM734.7,89.3 775.4,84.1 780.5,87.3 825.5,89.9 837.6,94.2 856.7,99.4 884.4,108 899.9,114.9 906.9,116.7 927.6,123.6 946.7,128.8 963.1,137.4 963.5,189.9 958.5,204.9 952.3,219.9 947.3,237.4 937.3,252.4 928.5,269.9 924.8,279.9 921.3,287.4 894.1,304.9 877.1,321.6 859.6,336.6 857.1,350.1 846.1,367.1 844.3,377.8 839.8,395.3 842.3,410.3 847.3,425.3 849.8,445.3 847.8,464.8 849.8,474.8 859.8,484.8 764.9,484.8 749.9,474.8 732.4,464.8 724.9,462.3 719.9,479.8 704.9,469.8 689.9,454.8 679.9,446 649.9,434.8 624.9,422.3 600,407.3 575,394.8 562.5,383.6 562.5,369.3 571.2,351.8 581.2,336.9 585,319.4 590,306.4 600,299.9 600,279.9 601.2,259.9 597,241.4 612.4,234.4 639.9,235.7 658.9,226.2 653.9,214.9 663.9,197.4 673.9,190.7 686.4,179.4 696.4,164.4 706.4,150.7 713.9,135.7 723.9,123.2 733.9,108.7ZM963.7,285.8 954.4,292.8 948.6,300.9 941.7,307.9 933.6,317.1 928.9,326.4 925.4,334.5 922,345 916.1,354.3 912.7,363.6 904.5,363.6 898.7,361.2 888.3,368.2 881.3,384.4 879,396 884.8,400.7 888.3,407.7 887.1,419.3 888.3,430.9 889.5,442.5 892.9,449.4 902.2,450.6 910.3,444.8 925.4,444.8 926.6,454.1 931.2,461 926.6,470.3 924.3,479.6 926.6,484.8 963.7,484.8ZM876.7,451.8 884.8,450.6 896.4,457.6 899.9,465.7 894.1,470.3 892.9,477.3 889.5,484.8 875.5,484.8 874.4,471.5 876.7,461Z"/></clipPath><path d="M596.3,49.2 609.9,57.5 623.1,68.2 630,76 661.1,78.6 688.8,78.6 699.2,87.3 711.3,97.6 726.9,99.7 733.8,89.3 740.7,85 773.6,83.3 777.1,79.8 820.3,79 825.5,83.3 863.6,85 868.8,88.5 903.4,88.5 910.3,81.5 924.2,73.8 934.6,63 927.6,49.2ZM734.7,89.3 775.4,84.1 780.5,87.3 825.5,89.9 837.6,94.2 856.7,99.4 884.4,108 899.9,114.9 906.9,116.7 927.6,123.6 946.7,128.8 963.1,137.4 963.5,189.9 958.5,204.9 952.3,219.9 947.3,237.4 937.3,252.4 928.5,269.9 924.8,279.9 921.3,287.4 894.1,304.9 877.1,321.6 859.6,336.6 857.1,350.1 846.1,367.1 844.3,377.8 839.8,395.3 842.3,410.3 847.3,425.3 849.8,445.3 847.8,464.8 849.8,474.8 859.8,484.8 764.9,484.8 749.9,474.8 732.4,464.8 724.9,462.3 719.9,479.8 704.9,469.8 689.9,454.8 679.9,446 649.9,434.8 624.9,422.3 600,407.3 575,394.8 562.5,383.6 562.5,369.3 571.2,351.8 581.2,336.9 585,319.4 590,306.4 600,299.9 600,279.9 601.2,259.9 597,241.4 612.4,234.4 639.9,235.7 658.9,226.2 653.9,214.9 663.9,197.4 673.9,190.7 686.4,179.4 696.4,164.4 706.4,150.7 713.9,135.7 723.9,123.2 733.9,108.7ZM963.7,285.8 954.4,292.8 948.6,300.9 941.7,307.9 933.6,317.1 928.9,326.4 925.4,334.5 922,345 916.1,354.3 912.7,363.6 904.5,363.6 898.7,361.2 888.3,368.2 881.3,384.4 879,396 884.8,400.7 888.3,407.7 887.1,419.3 888.3,430.9 889.5,442.5 892.9,449.4 902.2,450.6 910.3,444.8 925.4,444.8 926.6,454.1 931.2,461 926.6,470.3 924.3,479.6 926.6,484.8 963.7,484.8ZM876.7,451.8 884.8,450.6 896.4,457.6 899.9,465.7 894.1,470.3 892.9,477.3 889.5,484.8 875.5,484.8 874.4,471.5 876.7,461Z" fill="#a25cb6" stroke="#c45cb0" stroke-width="2.5"/><g clip-path="url(#tBc)" filter="url(#bl)"><path d="M914.8,132.5 929.8,135 929.8,179.9 914.8,179.9Z" fill="#d9509f" opacity=".75"/><path d="M944.8,135 963.5,144.9 963.5,189.9 949.8,229.9 944.8,214.9Z" fill="#d9509f" opacity=".75"/></g></g><g id="tBh"><path d="M767.4,138.7 772.4,137.5 773.6,147.4 769.4,148.7Z" fill="#f4e3f2"/><path d="M718.6,239.9 734.9,243.6 752.4,247.4 757.4,254.9 747.4,252.4 732.4,248.6 719.9,244.9Z" fill="#f4e3f2"/><path d="M899.8,272.4 909.8,274.9 912.3,283.6 902.3,284.9Z" fill="#f4e3f2"/><path d="M893.5,403 899.9,404.8 901.6,413.5 901.1,425.1 898.2,434.3 895.8,435.5 896.4,425.1 896.4,413.5Z" fill="#f4e3f2"/><polyline class="mg" points="533,485.7 544.9,485.7 556.8,485.7 568.7,485.7 580.6,485.7 592.5,485.7 604.4,485.7 616.3,485.7 628.2,485.7 640.1,485.7 652,485.7 663.9,485.7 675.8,485.7 687.7,485.7 699.6,485.7 711.5,485.7 723.4,485.7 735.3,485.7 747.2,485.7 759.1,485.7 866.2,485.7 890,485.7 901.9,485.7 913.8,485.7 925.7,485.7 956.2,53.5 960.6,61.8 956.2,70.1 960.6,78.4 956.2,86.7 960.6,95 956.2,103.3 960.6,111.6 956.2,119.9 960.6,128.2 960.6,211.2 956.2,219.5 960.6,227.8 956.2,236.1 960.6,244.4 956.2,252.7 960.6,261 956.2,269.3 960.6,277.6 956.2,285.9"/></g>
<polyline class="m1" points="776.3,85.8 742,91.3 749.6,91.3 757.2,91.3 764.9,91.3 772.5,91.3 780.1,91.3 787.8,91.3 795.4,91.3 738.2,96.8 745.8,96.8 753.4,96.8 761.1,96.8 768.7,96.8 776.3,96.8 784,96.8 791.6,96.8 799.2,96.8 806.9,96.8 814.5,96.8 822.1,96.8 829.8,96.8 742,102.3 749.6,102.3 757.2,102.3 764.9,102.3 772.5,102.3 780.1,102.3 787.8,102.3 795.4,102.3 803,102.3 810.7,102.3 818.3,102.3 825.9,102.3 833.6,102.3 841.2,102.3 848.8,102.3 856.5,102.3 738.2,107.8 745.8,107.8 753.4,107.8 761.1,107.8 768.7,107.8 776.3,107.8 784,107.8 791.6,107.8 799.2,107.8 806.9,107.8 814.5,107.8 822.1,107.8 829.8,107.8 837.4,107.8 845,107.8 852.7,107.8 860.3,107.8 867.9,107.8 875.6,107.8 734.3,113.2 742,113.2 749.6,113.2 757.2,113.2 764.9,113.2 772.5,113.2 780.1,113.2 787.8,113.2 795.4,113.2 803,113.2 810.7,113.2 818.3,113.2 825.9,113.2 833.6,113.2 841.2,113.2 848.8,113.2 856.5,113.2 864.1,113.2 871.7,113.2 879.4,113.2 887,113.2 730.5,118.7 738.2,118.7 745.8,118.7 753.4,118.7 761.1,118.7 768.7,118.7 776.3,118.7 784,118.7 791.6,118.7 799.2,118.7 806.9,118.7 814.5,118.7 822.1,118.7 829.8,118.7 837.4,118.7 845,118.7 852.7,118.7 860.3,118.7 867.9,118.7 875.6,118.7 883.2,118.7 726.7,124.2 734.3,124.2 742,124.2 749.6,124.2 757.2,124.2 764.9,124.2 772.5,124.2 780.1,124.2 787.8,124.2 795.4,124.2 803,124.2 810.7,124.2 818.3,124.2 825.9,124.2 833.6,124.2 841.2,124.2 848.8,124.2 856.5,124.2 864.1,124.2 871.7,124.2 879.4,124.2 887,124.2 722.9,129.7 730.5,129.7 738.2,129.7 745.8,129.7 753.4,129.7 761.1,129.7 768.7,129.7 776.3,129.7 784,129.7 791.6,129.7 799.2,129.7 806.9,129.7 814.5,129.7 822.1,129.7 829.8,129.7 837.4,129.7 845,129.7 852.7,129.7 860.3,129.7 867.9,129.7 875.6,129.7 883.2,129.7 719.1,135.2 726.7,135.2 734.3,135.2 742,135.2 749.6,135.2 757.2,135.2 764.9,135.2 772.5,135.2 780.1,135.2 787.8,135.2 795.4,135.2 803,135.2 810.7,135.2 818.3,135.2 825.9,135.2 833.6,135.2 841.2,135.2 848.8,135.2 856.5,135.2 864.1,135.2 871.7,135.2 879.4,135.2 887,135.2 715.3,140.6 722.9,140.6 730.5,140.6 738.2,140.6 745.8,140.6 753.4,140.6 761.1,140.6 776.3,140.6 784,140.6 791.6,140.6 799.2,140.6 806.9,140.6 814.5,140.6 822.1,140.6 829.8,140.6 837.4,140.6 845,140.6 852.7,140.6 860.3,140.6 867.9,140.6 875.6,140.6 883.2,140.6 711.4,146.1 719.1,146.1 726.7,146.1 734.3,146.1 742,146.1 749.6,146.1 757.2,146.1 764.9,146.1 780.1,146.1 787.8,146.1 795.4,146.1 803,146.1 810.7,146.1 818.3,146.1 825.9,146.1 833.6,146.1 841.2,146.1 848.8,146.1 856.5,146.1 864.1,146.1 871.7,146.1 879.4,146.1 887,146.1 707.6,151.6 715.3,151.6 722.9,151.6 730.5,151.6 738.2,151.6 745.8,151.6 753.4,151.6 761.1,151.6 768.7,151.6 776.3,151.6 784,151.6 791.6,151.6 799.2,151.6 806.9,151.6 814.5,151.6 822.1,151.6 829.8,151.6 837.4,151.6 845,151.6 852.7,151.6 860.3,151.6 867.9,151.6 875.6,151.6 883.2,151.6 703.8,157.1 711.4,157.1 719.1,157.1 726.7,157.1 734.3,157.1 742,157.1 749.6,157.1 757.2,157.1 764.9,157.1 772.5,157.1 780.1,157.1 787.8,157.1 795.4,157.1 803,157.1 810.7,157.1 818.3,157.1 825.9,157.1 833.6,157.1 841.2,157.1 848.8,157.1 856.5,157.1 864.1,157.1 871.7,157.1 879.4,157.1 887,157.1 700,162.6 707.6,162.6 715.3,162.6 722.9,162.6 730.5,162.6 738.2,162.6 745.8,162.6 753.4,162.6 761.1,162.6 768.7,162.6 776.3,162.6 784,162.6 791.6,162.6 799.2,162.6 806.9,162.6 814.5,162.6 822.1,162.6 829.8,162.6 837.4,162.6 845,162.6 852.7,162.6 860.3,162.6 867.9,162.6 875.6,162.6 883.2,162.6 890.8,162.6 898.5,162.6 906.1,162.6 696.2,168 703.8,168 711.4,168 719.1,168 726.7,168 734.3,168 742,168 749.6,168 757.2,168 764.9,168 772.5,168 780.1,168 787.8,168 795.4,168 803,168 810.7,168 818.3,168 825.9,168 833.6,168 841.2,168 848.8,168 856.5,168 864.1,168 871.7,168 879.4,168 887,168 894.6,168 902.3,168 692.3,173.5 700,173.5 707.6,173.5 715.3,173.5 722.9,173.5 730.5,173.5 738.2,173.5 745.8,173.5 753.4,173.5 761.1,173.5 768.7,173.5 776.3,173.5 784,173.5 791.6,173.5 799.2,173.5 806.9,173.5 814.5,173.5 822.1,173.5 829.8,173.5 837.4,173.5 845,173.5 852.7,173.5 860.3,173.5 867.9,173.5 875.6,173.5 883.2,173.5 890.8,173.5 898.5,173.5 906.1,173.5 688.5,179 696.2,179 703.8,179 711.4,179 719.1,179 726.7,179 734.3,179 742,179 749.6,179 757.2,179 764.9,179 772.5,179 780.1,179 787.8,179 795.4,179 803,179 810.7,179 818.3,179 825.9,179 833.6,179 841.2,179 848.8,179 856.5,179 864.1,179 871.7,179 879.4,179 887,179 894.6,179 902.3,179 684.7,184.5 692.3,184.5 700,184.5 707.6,184.5 715.3,184.5 722.9,184.5 730.5,184.5 738.2,184.5 745.8,184.5 753.4,184.5 761.1,184.5 768.7,184.5 776.3,184.5 784,184.5 791.6,184.5 799.2,184.5 806.9,184.5 814.5,184.5 822.1,184.5 829.8,184.5 837.4,184.5 845,184.5 852.7,184.5 860.3,184.5 867.9,184.5 875.6,184.5 883.2,184.5 890.8,184.5 898.5,184.5 906.1,184.5 680.9,190 688.5,190 696.2,190 703.8,190 711.4,190 719.1,190 726.7,190 734.3,190 742,190 749.6,190 757.2,190 764.9,190 772.5,190 780.1,190 787.8,190 795.4,190 803,190 810.7,190 818.3,190 825.9,190 833.6,190 841.2,190 848.8,190 856.5,190 864.1,190 871.7,190 879.4,190 887,190 894.6,190 902.3,190 669.4,195.4 677.1,195.4 684.7,195.4 692.3,195.4 700,195.4 707.6,195.4 715.3,195.4 722.9,195.4 730.5,195.4 738.2,195.4 745.8,195.4 753.4,195.4 761.1,195.4 768.7,195.4 776.3,195.4 784,195.4 791.6,195.4 799.2,195.4 806.9,195.4 814.5,195.4 822.1,195.4 829.8,195.4 837.4,195.4 845,195.4 852.7,195.4 860.3,195.4 867.9,195.4 875.6,195.4 883.2,195.4 890.8,195.4 898.5,195.4 906.1,195.4 665.6,200.9 673.3,200.9 680.9,200.9 688.5,200.9 696.2,200.9 703.8,200.9 711.4,200.9 719.1,200.9 726.7,200.9 734.3,200.9 742,200.9 749.6,200.9 757.2,200.9 764.9,200.9 772.5,200.9 780.1,200.9 787.8,200.9 795.4,200.9 803,200.9 810.7,200.9 818.3,200.9 825.9,200.9 833.6,200.9 841.2,200.9 848.8,200.9 856.5,200.9 864.1,200.9 871.7,200.9 879.4,200.9 887,200.9 894.6,200.9 902.3,200.9 661.8,206.4 669.4,206.4 677.1,206.4 684.7,206.4 692.3,206.4 700,206.4 707.6,206.4 715.3,206.4 722.9,206.4 730.5,206.4 738.2,206.4 745.8,206.4 753.4,206.4 761.1,206.4 768.7,206.4 776.3,206.4 784,206.4 791.6,206.4 799.2,206.4 806.9,206.4 814.5,206.4 822.1,206.4 829.8,206.4 837.4,206.4 845,206.4 852.7,206.4 860.3,206.4 867.9,206.4 875.6,206.4 883.2,206.4 890.8,206.4 898.5,206.4 658,211.9 665.6,211.9 673.3,211.9 680.9,211.9 688.5,211.9 696.2,211.9 703.8,211.9 711.4,211.9 719.1,211.9 726.7,211.9 734.3,211.9 742,211.9 749.6,211.9 757.2,211.9 764.9,211.9 772.5,211.9 780.1,211.9 787.8,211.9 795.4,211.9 803,211.9 810.7,211.9 818.3,211.9 825.9,211.9 833.6,211.9 841.2,211.9 848.8,211.9 856.5,211.9 864.1,211.9 871.7,211.9 879.4,211.9 887,211.9 894.6,211.9 902.3,211.9 661.8,217.4 669.4,217.4 677.1,217.4 684.7,217.4 692.3,217.4 700,217.4 707.6,217.4 715.3,217.4 722.9,217.4 730.5,217.4 738.2,217.4 745.8,217.4 753.4,217.4 761.1,217.4 768.7,217.4 776.3,217.4 784,217.4 791.6,217.4 799.2,217.4 806.9,217.4 814.5,217.4 822.1,217.4 829.8,217.4 837.4,217.4 845,217.4 852.7,217.4 860.3,217.4 867.9,217.4 875.6,217.4 883.2,217.4 890.8,217.4 898.5,217.4 665.6,222.8 673.3,222.8 680.9,222.8 688.5,222.8 696.2,222.8 703.8,222.8 711.4,222.8 719.1,222.8 726.7,222.8 734.3,222.8 742,222.8 749.6,222.8 757.2,222.8 764.9,222.8 772.5,222.8 780.1,222.8 787.8,222.8 795.4,222.8 803,222.8 810.7,222.8 818.3,222.8 825.9,222.8 833.6,222.8 841.2,222.8 848.8,222.8 856.5,222.8 864.1,222.8 871.7,222.8 879.4,222.8 887,222.8 894.6,222.8 902.3,222.8 661.8,228.3 669.4,228.3 677.1,228.3 684.7,228.3 692.3,228.3 700,228.3 707.6,228.3 715.3,228.3 722.9,228.3 730.5,228.3 738.2,228.3 745.8,228.3 753.4,228.3 761.1,228.3 768.7,228.3 776.3,228.3 784,228.3 791.6,228.3 799.2,228.3 806.9,228.3 814.5,228.3 822.1,228.3 829.8,228.3 837.4,228.3 845,228.3 852.7,228.3 860.3,228.3 867.9,228.3 875.6,228.3 883.2,228.3 890.8,228.3 898.5,228.3 906.1,228.3 650.4,233.8 658,233.8 665.6,233.8 673.3,233.8 680.9,233.8 688.5,233.8 696.2,233.8 703.8,233.8 711.4,233.8 719.1,233.8 726.7,233.8 734.3,233.8 742,233.8 749.6,233.8 757.2,233.8 764.9,233.8 772.5,233.8 780.1,233.8 787.8,233.8 795.4,233.8 803,233.8 810.7,233.8 818.3,233.8 825.9,233.8 833.6,233.8 841.2,233.8 848.8,233.8 856.5,233.8 864.1,233.8 871.7,233.8 879.4,233.8 887,233.8 894.6,233.8 902.3,233.8 909.9,233.8 608.4,239.3 616,239.3 623.6,239.3 631.3,239.3 638.9,239.3 646.5,239.3 654.2,239.3 661.8,239.3 669.4,239.3 677.1,239.3 684.7,239.3 692.3,239.3 700,239.3 707.6,239.3 715.3,239.3 722.9,239.3 730.5,239.3 738.2,239.3 745.8,239.3 753.4,239.3 761.1,239.3 768.7,239.3 776.3,239.3 784,239.3 791.6,239.3 799.2,239.3 806.9,239.3 814.5,239.3 822.1,239.3 829.8,239.3 837.4,239.3 845,239.3 852.7,239.3 860.3,239.3 867.9,239.3 875.6,239.3 883.2,239.3 890.8,239.3 898.5,239.3 906.1,239.3 604.6,244.8 612.2,244.8 619.8,244.8 627.5,244.8 635.1,244.8 642.7,244.8 650.4,244.8 658,244.8 665.6,244.8 673.3,244.8 680.9,244.8 688.5,244.8 696.2,244.8 703.8,244.8 711.4,244.8 719.1,244.8 742,244.8 749.6,244.8 757.2,244.8 764.9,244.8 772.5,244.8 780.1,244.8 787.8,244.8 795.4,244.8 803,244.8 810.7,244.8 818.3,244.8 825.9,244.8 833.6,244.8 841.2,244.8 848.8,244.8 856.5,244.8 864.1,244.8 871.7,244.8 879.4,244.8 887,244.8 894.6,244.8 902.3,244.8 909.9,244.8 917.6,244.8 925.2,244.8 932.8,244.8 600.7,250.2 608.4,250.2 616,250.2 623.6,250.2 631.3,250.2 638.9,250.2 646.5,250.2 654.2,250.2 661.8,250.2 669.4,250.2 677.1,250.2 684.7,250.2 692.3,250.2 700,250.2 707.6,250.2 715.3,250.2 722.9,250.2 730.5,250.2 738.2,250.2 761.1,250.2 768.7,250.2 776.3,250.2 784,250.2 791.6,250.2 799.2,250.2 806.9,250.2 814.5,250.2 822.1,250.2 829.8,250.2 837.4,250.2 845,250.2 852.7,250.2 860.3,250.2 867.9,250.2 875.6,250.2 883.2,250.2 890.8,250.2 898.5,250.2 906.1,250.2 913.7,250.2 921.4,250.2 929,250.2 604.6,255.7 612.2,255.7 619.8,255.7 627.5,255.7 635.1,255.7 642.7,255.7 650.4,255.7 658,255.7 665.6,255.7 673.3,255.7 680.9,255.7 688.5,255.7 696.2,255.7 703.8,255.7 711.4,255.7 719.1,255.7 726.7,255.7 734.3,255.7 742,255.7 749.6,255.7 757.2,255.7 764.9,255.7 772.5,255.7 780.1,255.7 787.8,255.7 795.4,255.7 803,255.7 810.7,255.7 818.3,255.7 825.9,255.7 833.6,255.7 841.2,255.7 848.8,255.7 856.5,255.7 864.1,255.7 871.7,255.7 879.4,255.7 887,255.7 894.6,255.7 902.3,255.7 909.9,255.7 917.6,255.7 925.2,255.7 608.4,261.2 616,261.2 623.6,261.2 631.3,261.2 638.9,261.2 646.5,261.2 654.2,261.2 661.8,261.2 669.4,261.2 677.1,261.2 684.7,261.2 692.3,261.2 700,261.2 707.6,261.2 715.3,261.2 722.9,261.2 730.5,261.2 738.2,261.2 745.8,261.2 753.4,261.2 761.1,261.2 768.7,261.2 776.3,261.2 784,261.2 791.6,261.2 799.2,261.2 806.9,261.2 814.5,261.2 822.1,261.2 829.8,261.2 837.4,261.2 845,261.2 852.7,261.2 860.3,261.2 867.9,261.2 875.6,261.2 883.2,261.2 890.8,261.2 898.5,261.2 906.1,261.2 913.7,261.2 921.4,261.2 604.6,266.7 612.2,266.7 619.8,266.7 627.5,266.7 635.1,266.7 642.7,266.7 650.4,266.7 658,266.7 665.6,266.7 673.3,266.7 680.9,266.7 688.5,266.7 696.2,266.7 703.8,266.7 711.4,266.7 719.1,266.7 726.7,266.7 734.3,266.7 742,266.7 749.6,266.7 757.2,266.7 764.9,266.7 772.5,266.7 780.1,266.7 787.8,266.7 795.4,266.7 803,266.7 810.7,266.7 818.3,266.7 825.9,266.7 833.6,266.7 841.2,266.7 848.8,266.7 856.5,266.7 864.1,266.7 871.7,266.7 879.4,266.7 887,266.7 894.6,266.7 902.3,266.7 909.9,266.7 917.6,266.7 925.2,266.7 608.4,272.2 616,272.2 623.6,272.2 631.3,272.2 638.9,272.2 646.5,272.2 654.2,272.2 661.8,272.2 669.4,272.2 677.1,272.2 684.7,272.2 692.3,272.2 700,272.2 707.6,272.2 715.3,272.2 722.9,272.2 730.5,272.2 738.2,272.2 745.8,272.2 753.4,272.2 761.1,272.2 768.7,272.2 776.3,272.2 784,272.2 791.6,272.2 799.2,272.2 806.9,272.2 814.5,272.2 822.1,272.2 829.8,272.2 837.4,272.2 845,272.2 852.7,272.2 860.3,272.2 867.9,272.2 875.6,272.2 883.2,272.2 890.8,272.2 898.5,272.2 906.1,272.2 913.7,272.2 921.4,272.2 604.6,277.6 612.2,277.6 619.8,277.6 627.5,277.6 635.1,277.6 642.7,277.6 650.4,277.6 658,277.6 665.6,277.6 673.3,277.6 680.9,277.6 688.5,277.6 696.2,277.6 703.8,277.6 711.4,277.6 719.1,277.6 726.7,277.6 734.3,277.6 742,277.6 749.6,277.6 757.2,277.6 764.9,277.6 772.5,277.6 780.1,277.6 787.8,277.6 795.4,277.6 803,277.6 810.7,277.6 818.3,277.6 825.9,277.6 833.6,277.6 841.2,277.6 848.8,277.6 856.5,277.6 864.1,277.6 871.7,277.6 879.4,277.6 887,277.6 894.6,277.6 902.3,277.6 909.9,277.6 917.6,277.6 600.7,283.1 608.4,283.1 616,283.1 623.6,283.1 631.3,283.1 638.9,283.1 646.5,283.1 654.2,283.1 661.8,283.1 669.4,283.1 677.1,283.1 684.7,283.1 692.3,283.1 700,283.1 707.6,283.1 715.3,283.1 722.9,283.1 730.5,283.1 738.2,283.1 745.8,283.1 753.4,283.1 761.1,283.1 768.7,283.1 776.3,283.1 784,283.1 791.6,283.1 799.2,283.1 806.9,283.1 814.5,283.1 822.1,283.1 829.8,283.1 837.4,283.1 845,283.1 852.7,283.1 860.3,283.1 867.9,283.1 875.6,283.1 883.2,283.1 890.8,283.1 898.5,283.1 906.1,283.1 913.7,283.1 604.6,288.6 612.2,288.6 619.8,288.6 627.5,288.6 635.1,288.6 642.7,288.6 650.4,288.6 658,288.6 665.6,288.6 673.3,288.6 680.9,288.6 688.5,288.6 696.2,288.6 703.8,288.6 711.4,288.6 719.1,288.6 726.7,288.6 734.3,288.6 742,288.6 749.6,288.6 757.2,288.6 764.9,288.6 772.5,288.6 780.1,288.6 787.8,288.6 795.4,288.6 803,288.6 810.7,288.6 818.3,288.6 825.9,288.6 833.6,288.6 841.2,288.6 848.8,288.6 856.5,288.6 864.1,288.6 871.7,288.6 879.4,288.6 887,288.6 894.6,288.6 902.3,288.6 909.9,288.6 600.7,294.1 608.4,294.1 616,294.1 623.6,294.1 631.3,294.1 638.9,294.1 646.5,294.1 654.2,294.1 661.8,294.1 669.4,294.1 677.1,294.1 684.7,294.1 692.3,294.1 700,294.1 707.6,294.1 715.3,294.1 722.9,294.1 730.5,294.1 738.2,294.1 745.8,294.1 753.4,294.1 761.1,294.1 768.7,294.1 776.3,294.1 784,294.1 791.6,294.1 799.2,294.1 806.9,294.1 814.5,294.1 822.1,294.1 829.8,294.1 837.4,294.1 845,294.1 852.7,294.1 860.3,294.1 867.9,294.1 875.6,294.1 883.2,294.1 890.8,294.1 898.5,294.1 906.1,294.1 604.6,299.6 612.2,299.6 619.8,299.6 627.5,299.6 635.1,299.6 642.7,299.6 650.4,299.6 658,299.6 665.6,299.6 673.3,299.6 680.9,299.6 688.5,299.6 696.2,299.6 703.8,299.6 711.4,299.6 719.1,299.6 726.7,299.6 734.3,299.6 742,299.6 749.6,299.6 757.2,299.6 764.9,299.6 772.5,299.6 780.1,299.6 787.8,299.6 795.4,299.6 803,299.6 810.7,299.6 818.3,299.6 825.9,299.6 833.6,299.6 841.2,299.6 848.8,299.6 856.5,299.6 864.1,299.6 871.7,299.6 879.4,299.6 887,299.6 894.6,299.6 600.7,305 608.4,305 616,305 623.6,305 631.3,305 638.9,305 646.5,305 654.2,305 661.8,305 669.4,305 677.1,305 684.7,305 692.3,305 700,305 707.6,305 715.3,305 722.9,305 730.5,305 738.2,305 745.8,305 753.4,305 761.1,305 768.7,305 776.3,305 784,305 791.6,305 799.2,305 806.9,305 814.5,305 822.1,305 829.8,305 837.4,305 845,305 852.7,305 860.3,305 867.9,305 875.6,305 883.2,305 596.9,310.5 604.6,310.5 612.2,310.5 619.8,310.5 627.5,310.5 635.1,310.5 642.7,310.5 650.4,310.5 658,310.5 665.6,310.5 673.3,310.5 680.9,310.5 688.5,310.5 696.2,310.5 703.8,310.5 711.4,310.5 719.1,310.5 726.7,310.5 734.3,310.5 742,310.5 749.6,310.5 757.2,310.5 764.9,310.5 772.5,310.5 780.1,310.5 787.8,310.5 795.4,310.5 803,310.5 810.7,310.5 818.3,310.5 825.9,310.5 833.6,310.5 841.2,310.5 848.8,310.5 856.5,310.5 864.1,310.5 871.7,310.5 879.4,310.5 593.1,316 600.7,316 608.4,316 616,316 623.6,316 631.3,316 638.9,316 646.5,316 654.2,316 661.8,316 669.4,316 677.1,316 684.7,316 692.3,316 700,316 707.6,316 715.3,316 722.9,316 730.5,316 738.2,316 745.8,316 753.4,316 761.1,316 768.7,316 776.3,316 784,316 791.6,316 799.2,316 806.9,316 814.5,316 822.1,316 829.8,316 837.4,316 845,316 852.7,316 860.3,316 867.9,316 875.6,316 589.3,321.5 596.9,321.5 604.6,321.5 612.2,321.5 619.8,321.5 627.5,321.5 635.1,321.5 642.7,321.5 650.4,321.5 658,321.5 665.6,321.5 673.3,321.5 680.9,321.5 688.5,321.5 696.2,321.5 703.8,321.5 711.4,321.5 719.1,321.5 726.7,321.5 734.3,321.5 742,321.5 749.6,321.5 757.2,321.5 764.9,321.5 772.5,321.5 780.1,321.5 787.8,321.5 795.4,321.5 803,321.5 810.7,321.5 818.3,321.5 825.9,321.5 833.6,321.5 841.2,321.5 848.8,321.5 856.5,321.5 864.1,321.5 871.7,321.5 585.5,327 593.1,327 600.7,327 608.4,327 616,327 623.6,327 631.3,327 638.9,327 646.5,327 654.2,327 661.8,327 669.4,327 677.1,327 684.7,327 692.3,327 700,327 707.6,327 715.3,327 722.9,327 730.5,327 738.2,327 745.8,327 753.4,327 761.1,327 768.7,327 776.3,327 784,327 791.6,327 799.2,327 806.9,327 814.5,327 822.1,327 829.8,327 837.4,327 845,327 852.7,327 860.3,327 589.3,332.4 596.9,332.4 604.6,332.4 612.2,332.4 619.8,332.4 627.5,332.4 635.1,332.4 642.7,332.4 650.4,332.4 658,332.4 665.6,332.4 673.3,332.4 680.9,332.4 688.5,332.4 696.2,332.4 703.8,332.4 711.4,332.4 719.1,332.4 726.7,332.4 734.3,332.4 742,332.4 749.6,332.4 757.2,332.4 764.9,332.4 772.5,332.4 780.1,332.4 787.8,332.4 795.4,332.4 803,332.4 810.7,332.4 818.3,332.4 825.9,332.4 833.6,332.4 841.2,332.4 848.8,332.4 856.5,332.4 585.5,337.9 593.1,337.9 600.7,337.9 608.4,337.9 616,337.9 623.6,337.9 631.3,337.9 638.9,337.9 646.5,337.9 654.2,337.9 661.8,337.9 669.4,337.9 677.1,337.9 684.7,337.9 692.3,337.9 700,337.9 707.6,337.9 715.3,337.9 722.9,337.9 730.5,337.9 738.2,337.9 745.8,337.9 753.4,337.9 761.1,337.9 768.7,337.9 776.3,337.9 784,337.9 791.6,337.9 799.2,337.9 806.9,337.9 814.5,337.9 822.1,337.9 829.8,337.9 837.4,337.9 845,337.9 852.7,337.9 581.7,343.4 589.3,343.4 596.9,343.4 604.6,343.4 612.2,343.4 619.8,343.4 627.5,343.4 635.1,343.4 642.7,343.4 650.4,343.4 658,343.4 665.6,343.4 673.3,343.4 680.9,343.4 688.5,343.4 696.2,343.4 703.8,343.4 711.4,343.4 719.1,343.4 726.7,343.4 734.3,343.4 742,343.4 749.6,343.4 757.2,343.4 764.9,343.4 772.5,343.4 780.1,343.4 787.8,343.4 795.4,343.4 803,343.4 810.7,343.4 818.3,343.4 825.9,343.4 833.6,343.4 841.2,343.4 848.8,343.4 577.8,348.9 585.5,348.9 593.1,348.9 600.7,348.9 608.4,348.9 616,348.9 623.6,348.9 631.3,348.9 638.9,348.9 646.5,348.9 654.2,348.9 661.8,348.9 669.4,348.9 677.1,348.9 684.7,348.9 692.3,348.9 700,348.9 707.6,348.9 715.3,348.9 722.9,348.9 730.5,348.9 738.2,348.9 745.8,348.9 753.4,348.9 761.1,348.9 768.7,348.9 776.3,348.9 784,348.9 791.6,348.9 799.2,348.9 806.9,348.9 814.5,348.9 822.1,348.9 829.8,348.9 837.4,348.9 845,348.9 852.7,348.9 574,354.4 581.7,354.4 589.3,354.4 596.9,354.4 604.6,354.4 612.2,354.4 619.8,354.4 627.5,354.4 635.1,354.4 642.7,354.4 650.4,354.4 658,354.4 665.6,354.4 673.3,354.4 680.9,354.4 688.5,354.4 696.2,354.4 703.8,354.4 711.4,354.4 719.1,354.4 726.7,354.4 734.3,354.4 742,354.4 749.6,354.4 757.2,354.4 764.9,354.4 772.5,354.4 780.1,354.4 787.8,354.4 795.4,354.4 803,354.4 810.7,354.4 818.3,354.4 825.9,354.4 833.6,354.4 841.2,354.4 848.8,354.4 570.2,359.8 577.8,359.8 585.5,359.8 593.1,359.8 600.7,359.8 608.4,359.8 616,359.8 623.6,359.8 631.3,359.8 638.9,359.8 646.5,359.8 654.2,359.8 661.8,359.8 669.4,359.8 677.1,359.8 684.7,359.8 692.3,359.8 700,359.8 707.6,359.8 715.3,359.8 722.9,359.8 730.5,359.8 738.2,359.8 745.8,359.8 753.4,359.8 761.1,359.8 768.7,359.8 776.3,359.8 784,359.8 791.6,359.8 799.2,359.8 806.9,359.8 814.5,359.8 822.1,359.8 829.8,359.8 837.4,359.8 845,359.8 566.4,365.3 574,365.3 581.7,365.3 589.3,365.3 596.9,365.3 604.6,365.3 612.2,365.3 619.8,365.3 627.5,365.3 635.1,365.3 642.7,365.3 650.4,365.3 658,365.3 665.6,365.3 673.3,365.3 680.9,365.3 688.5,365.3 696.2,365.3 703.8,365.3 711.4,365.3 719.1,365.3 726.7,365.3 734.3,365.3 742,365.3 749.6,365.3 757.2,365.3 764.9,365.3 772.5,365.3 780.1,365.3 787.8,365.3 795.4,365.3 803,365.3 810.7,365.3 818.3,365.3 825.9,365.3 833.6,365.3 841.2,365.3 570.2,370.8 577.8,370.8 585.5,370.8 593.1,370.8 600.7,370.8 608.4,370.8 616,370.8 623.6,370.8 631.3,370.8 638.9,370.8 646.5,370.8 654.2,370.8 661.8,370.8 669.4,370.8 677.1,370.8 684.7,370.8 692.3,370.8 700,370.8 707.6,370.8 715.3,370.8 722.9,370.8 730.5,370.8 738.2,370.8 745.8,370.8 753.4,370.8 761.1,370.8 768.7,370.8 776.3,370.8 784,370.8 791.6,370.8 799.2,370.8 806.9,370.8 814.5,370.8 822.1,370.8 829.8,370.8 837.4,370.8 566.4,376.3 574,376.3 581.7,376.3 589.3,376.3 596.9,376.3 604.6,376.3 612.2,376.3 619.8,376.3 627.5,376.3 635.1,376.3 642.7,376.3 650.4,376.3 658,376.3 665.6,376.3 673.3,376.3 680.9,376.3 688.5,376.3 696.2,376.3 703.8,376.3 711.4,376.3 719.1,376.3 726.7,376.3 734.3,376.3 742,376.3 749.6,376.3 757.2,376.3 764.9,376.3 772.5,376.3 780.1,376.3 787.8,376.3 795.4,376.3 803,376.3 810.7,376.3 818.3,376.3 825.9,376.3 833.6,376.3 841.2,376.3 570.2,381.8 577.8,381.8 585.5,381.8 593.1,381.8 600.7,381.8 608.4,381.8 616,381.8 623.6,381.8 631.3,381.8 638.9,381.8 646.5,381.8 654.2,381.8 661.8,381.8 669.4,381.8 677.1,381.8 684.7,381.8 692.3,381.8 700,381.8 707.6,381.8 715.3,381.8 722.9,381.8 730.5,381.8 738.2,381.8 745.8,381.8 753.4,381.8 761.1,381.8 768.7,381.8 776.3,381.8 784,381.8 791.6,381.8 799.2,381.8 806.9,381.8 814.5,381.8 822.1,381.8 829.8,381.8 837.4,381.8 574,387.2 581.7,387.2 589.3,387.2 596.9,387.2 604.6,387.2 612.2,387.2 619.8,387.2 627.5,387.2 635.1,387.2 642.7,387.2 650.4,387.2 658,387.2 665.6,387.2 673.3,387.2 680.9,387.2 688.5,387.2 696.2,387.2 703.8,387.2 711.4,387.2 719.1,387.2 726.7,387.2 734.3,387.2 742,387.2 749.6,387.2 757.2,387.2 764.9,387.2 772.5,387.2 780.1,387.2 787.8,387.2 795.4,387.2 803,387.2 810.7,387.2 818.3,387.2 825.9,387.2 833.6,387.2 577.8,392.7 585.5,392.7 593.1,392.7 600.7,392.7 608.4,392.7 616,392.7 623.6,392.7 631.3,392.7 638.9,392.7 646.5,392.7 654.2,392.7 661.8,392.7 669.4,392.7 677.1,392.7 684.7,392.7 692.3,392.7 700,392.7 707.6,392.7 715.3,392.7 722.9,392.7 730.5,392.7 738.2,392.7 745.8,392.7 753.4,392.7 761.1,392.7 768.7,392.7 776.3,392.7 784,392.7 791.6,392.7 799.2,392.7 806.9,392.7 814.5,392.7 822.1,392.7 829.8,392.7 837.4,392.7 589.3,398.2 596.9,398.2 604.6,398.2 612.2,398.2 619.8,398.2 627.5,398.2 635.1,398.2 642.7,398.2 650.4,398.2 658,398.2 665.6,398.2 673.3,398.2 680.9,398.2 688.5,398.2 696.2,398.2 703.8,398.2 711.4,398.2 719.1,398.2 726.7,398.2 734.3,398.2 742,398.2 749.6,398.2 757.2,398.2 764.9,398.2 772.5,398.2 780.1,398.2 787.8,398.2 795.4,398.2 803,398.2 810.7,398.2 818.3,398.2 825.9,398.2 833.6,398.2 600.7,403.7 608.4,403.7 616,403.7 623.6,403.7 631.3,403.7 638.9,403.7 646.5,403.7 654.2,403.7 661.8,403.7 669.4,403.7 677.1,403.7 684.7,403.7 692.3,403.7 700,403.7 707.6,403.7 715.3,403.7 722.9,403.7 730.5,403.7 738.2,403.7 745.8,403.7 753.4,403.7 761.1,403.7 768.7,403.7 776.3,403.7 784,403.7 791.6,403.7 799.2,403.7 806.9,403.7 814.5,403.7 822.1,403.7 829.8,403.7 837.4,403.7 612.2,409.2 619.8,409.2 627.5,409.2 635.1,409.2 642.7,409.2 650.4,409.2 658,409.2 665.6,409.2 673.3,409.2 680.9,409.2 688.5,409.2 696.2,409.2 703.8,409.2 711.4,409.2 719.1,409.2 726.7,409.2 734.3,409.2 742,409.2 749.6,409.2 757.2,409.2 764.9,409.2 772.5,409.2 780.1,409.2 787.8,409.2 795.4,409.2 803,409.2 810.7,409.2 818.3,409.2 825.9,409.2 833.6,409.2 616,414.6 623.6,414.6 631.3,414.6 638.9,414.6 646.5,414.6 654.2,414.6 661.8,414.6 669.4,414.6 677.1,414.6 684.7,414.6 692.3,414.6 700,414.6 707.6,414.6 715.3,414.6 722.9,414.6 730.5,414.6 738.2,414.6 745.8,414.6 753.4,414.6 761.1,414.6 768.7,414.6 776.3,414.6 784,414.6 791.6,414.6 799.2,414.6 806.9,414.6 814.5,414.6 822.1,414.6 829.8,414.6 837.4,414.6 627.5,420.1 635.1,420.1 642.7,420.1 650.4,420.1 658,420.1 665.6,420.1 673.3,420.1 680.9,420.1 688.5,420.1 696.2,420.1 703.8,420.1 711.4,420.1 719.1,420.1 726.7,420.1 734.3,420.1 742,420.1 749.6,420.1 757.2,420.1 764.9,420.1 772.5,420.1 780.1,420.1 787.8,420.1 795.4,420.1 803,420.1 810.7,420.1 818.3,420.1 825.9,420.1 833.6,420.1 841.2,420.1 638.9,425.6 646.5,425.6 654.2,425.6 661.8,425.6 669.4,425.6 677.1,425.6 684.7,425.6 692.3,425.6 700,425.6 707.6,425.6 715.3,425.6 722.9,425.6 730.5,425.6 738.2,425.6 745.8,425.6 753.4,425.6 761.1,425.6 768.7,425.6 776.3,425.6 784,425.6 791.6,425.6 799.2,425.6 806.9,425.6 814.5,425.6 822.1,425.6 829.8,425.6 837.4,425.6 845,425.6 650.4,431.1 658,431.1 665.6,431.1 673.3,431.1 680.9,431.1 688.5,431.1 696.2,431.1 703.8,431.1 711.4,431.1 719.1,431.1 726.7,431.1 734.3,431.1 742,431.1 749.6,431.1 757.2,431.1 764.9,431.1 772.5,431.1 780.1,431.1 787.8,431.1 795.4,431.1 803,431.1 810.7,431.1 818.3,431.1 825.9,431.1 833.6,431.1 841.2,431.1 661.8,436.6 669.4,436.6 677.1,436.6 684.7,436.6 692.3,436.6 700,436.6 707.6,436.6 715.3,436.6 722.9,436.6 730.5,436.6 738.2,436.6 745.8,436.6 753.4,436.6 761.1,436.6 768.7,436.6 776.3,436.6 784,436.6 791.6,436.6 799.2,436.6 806.9,436.6 814.5,436.6 822.1,436.6 829.8,436.6 837.4,436.6 845,436.6 673.3,442 680.9,442 688.5,442 696.2,442 703.8,442 711.4,442 719.1,442 726.7,442 734.3,442 742,442 749.6,442 757.2,442 764.9,442 772.5,442 780.1,442 787.8,442 795.4,442 803,442 810.7,442 818.3,442 825.9,442 833.6,442 841.2,442 692.3,447.5 700,447.5 707.6,447.5 715.3,447.5 722.9,447.5 730.5,447.5 738.2,447.5 745.8,447.5 753.4,447.5 761.1,447.5 768.7,447.5 776.3,447.5 784,447.5 791.6,447.5 799.2,447.5 806.9,447.5 814.5,447.5 822.1,447.5 829.8,447.5 837.4,447.5 845,447.5 711.4,453 719.1,453 726.7,453 734.3,453 742,453 749.6,453 757.2,453 764.9,453 772.5,453 780.1,453 787.8,453 795.4,453 803,453 810.7,453 818.3,453 825.9,453 833.6,453 841.2,453 722.9,458.5 730.5,458.5 738.2,458.5 745.8,458.5 753.4,458.5 761.1,458.5 768.7,458.5 776.3,458.5 784,458.5 791.6,458.5 799.2,458.5 806.9,458.5 814.5,458.5 822.1,458.5 829.8,458.5 837.4,458.5 845,458.5 742,464 749.6,464 757.2,464 764.9,464 772.5,464 780.1,464 787.8,464 795.4,464 803,464 810.7,464 818.3,464 825.9,464 833.6,464 841.2,464"/>
<polyline class="m2" points="627.5,69.4 635.1,69.4 642.7,69.4 650.4,69.4 658,69.4 665.6,69.4 673.3,69.4 680.9,69.4 688.5,69.4 696.2,69.4 703.8,69.4 631.3,74.9 638.9,74.9 646.5,74.9 654.2,74.9 661.8,74.9 669.4,74.9 677.1,74.9 684.7,74.9 692.3,74.9 700,74.9 696.2,80.4 703.8,80.4 711.4,80.4 719.1,80.4 700,85.8 707.6,85.8 715.3,85.8 722.9,85.8 703.8,91.3 711.4,91.3 719.1,91.3 726.7,91.3 707.6,96.8 715.3,96.8 722.9,96.8 730.5,96.8 906.1,118.7 913.7,118.7 902.3,124.2 909.9,124.2 917.6,124.2 925.2,124.2 898.5,129.7 906.1,129.7 913.7,129.7 936.6,129.7 944.3,129.7 894.6,135.2 902.3,135.2 909.9,135.2 932.8,135.2 940.5,135.2 948.1,135.2 890.8,140.6 898.5,140.6 906.1,140.6 913.7,140.6 929,140.6 936.6,140.6 944.3,140.6 894.6,146.1 902.3,146.1 909.9,146.1 925.2,146.1 932.8,146.1 940.5,146.1 948.1,146.1 890.8,151.6 898.5,151.6 906.1,151.6 913.7,151.6 929,151.6 936.6,151.6 944.3,151.6 925.2,157.1 932.8,157.1 940.5,157.1 948.1,157.1 929,162.6 936.6,162.6 944.3,162.6 940.5,168 948.1,168 944.3,173.5 913.7,184.5 921.4,184.5 929,184.5 936.6,184.5 944.3,184.5 909.9,190 917.6,190 925.2,190 932.8,190 940.5,190 948.1,190 913.7,195.4 921.4,195.4 929,195.4 936.6,195.4 944.3,195.4 909.9,200.9 917.6,200.9 925.2,200.9 932.8,200.9 940.5,200.9 948.1,200.9 906.1,206.4 913.7,206.4 921.4,206.4 929,206.4 936.6,206.4 944.3,206.4 909.9,211.9 917.6,211.9 925.2,211.9 932.8,211.9 940.5,211.9 948.1,211.9 906.1,217.4 913.7,217.4 921.4,217.4 929,217.4 936.6,217.4 944.3,217.4 909.9,222.8 917.6,222.8 925.2,222.8 932.8,222.8 940.5,222.8 948.1,222.8 913.7,228.3 921.4,228.3 929,228.3 936.6,228.3 944.3,228.3 917.6,233.8 925.2,233.8 932.8,233.8 913.7,239.3 921.4,239.3"/>
<polyline class="m3" points="711.4,69.4 719.1,69.4 726.7,69.4 734.3,69.4 742,69.4 749.6,69.4 757.2,69.4 764.9,69.4 772.5,69.4 780.1,69.4 787.8,69.4 795.4,69.4 803,69.4 810.7,69.4 818.3,69.4 825.9,69.4 833.6,69.4 841.2,69.4 848.8,69.4 856.5,69.4 864.1,69.4 871.7,69.4 879.4,69.4 707.6,74.9 715.3,74.9 722.9,74.9 730.5,74.9 738.2,74.9 745.8,74.9 753.4,74.9 761.1,74.9 768.7,74.9 776.3,74.9 784,74.9 791.6,74.9 799.2,74.9 806.9,74.9 814.5,74.9 822.1,74.9 829.8,74.9 837.4,74.9 845,74.9 852.7,74.9 860.3,74.9 867.9,74.9 875.6,74.9 883.2,74.9 726.7,80.4 734.3,80.4 742,80.4 749.6,80.4 757.2,80.4 764.9,80.4 772.5,80.4 825.9,80.4 833.6,80.4 841.2,80.4 848.8,80.4 856.5,80.4 864.1,80.4 871.7,80.4 879.4,80.4 887,80.4 894.6,80.4 902.3,80.4 867.9,85.8 875.6,85.8 883.2,85.8 890.8,85.8 898.5,85.8 944.3,305 940.5,310.5 936.6,316 944.3,316 932.8,321.5 940.5,321.5 936.6,327 944.3,327 932.8,332.4 940.5,332.4 929,337.9 936.6,337.9 944.3,337.9 925.2,343.4 932.8,343.4 940.5,343.4 921.4,348.9 929,348.9 936.6,348.9 944.3,348.9 917.6,354.4 925.2,354.4 932.8,354.4 940.5,354.4 921.4,359.8 929,359.8 936.6,359.8 944.3,359.8 894.6,365.3 902.3,365.3 917.6,365.3 925.2,365.3 932.8,365.3 940.5,365.3 898.5,370.8 906.1,370.8 913.7,370.8 921.4,370.8 929,370.8 936.6,370.8 944.3,370.8 894.6,376.3 902.3,376.3 909.9,376.3 917.6,376.3 925.2,376.3 932.8,376.3 940.5,376.3 890.8,381.8 898.5,381.8 906.1,381.8 913.7,381.8 921.4,381.8 929,381.8 936.6,381.8 944.3,381.8 879.4,387.2 887,387.2 894.6,387.2 902.3,387.2 909.9,387.2 917.6,387.2 925.2,387.2 932.8,387.2 940.5,387.2 883.2,392.7 890.8,392.7 898.5,392.7 906.1,392.7 913.7,392.7 921.4,392.7 929,392.7 936.6,392.7 944.3,392.7 879.4,398.2 887,398.2 894.6,398.2 902.3,398.2 909.9,398.2 917.6,398.2 925.2,398.2 932.8,398.2 940.5,398.2 890.8,403.7 898.5,403.7 906.1,403.7 913.7,403.7 921.4,403.7 929,403.7 936.6,403.7 944.3,403.7 887,409.2 894.6,409.2 902.3,409.2 909.9,409.2 917.6,409.2 925.2,409.2 932.8,409.2 940.5,409.2 890.8,414.6 906.1,414.6 913.7,414.6 921.4,414.6 929,414.6 936.6,414.6 944.3,414.6 887,420.1 894.6,420.1 902.3,420.1 909.9,420.1 917.6,420.1 925.2,420.1 932.8,420.1 940.5,420.1 890.8,425.6 906.1,425.6 913.7,425.6 921.4,425.6 929,425.6 936.6,425.6 944.3,425.6 887,431.1 894.6,431.1 902.3,431.1 909.9,431.1 917.6,431.1 925.2,431.1 932.8,431.1 940.5,431.1 890.8,436.6 898.5,436.6 906.1,436.6 913.7,436.6 921.4,436.6 929,436.6 936.6,436.6 944.3,436.6 887,442 894.6,442 902.3,442 909.9,442 917.6,442 925.2,442 932.8,442 940.5,442 890.8,447.5 898.5,447.5 906.1,447.5 929,447.5 936.6,447.5 944.3,447.5 879.4,453 887,453 925.2,453 932.8,453 940.5,453 875.6,458.5 883.2,458.5 890.8,458.5 929,458.5 936.6,458.5 944.3,458.5 879.4,464 887,464 894.6,464"/>
<circle cx="548.7" cy="341.6" r="3.05" fill="#7FC97F" stroke="#333" stroke-width=".35"/>
<circle cx="552.5" cy="336.1" r="3.05" fill="#7FC97F" stroke="#333" stroke-width=".35"/>
<circle cx="556.2" cy="342.3" r="3.05" fill="#7FC97F" stroke="#333" stroke-width=".35"/>
<circle cx="560" cy="336.6" r="3.05" fill="#7FC97F" stroke="#333" stroke-width=".35"/>
<circle cx="563" cy="331.1" r="3.05" fill="#7FC97F" stroke="#333" stroke-width=".35"/>
<circle cx="864.1" cy="392.3" r="3.05" fill="#7FC97F" stroke="#333" stroke-width=".35"/>
</g>
<rect x="878.7" y="158.4" width="43.7" height="15.5" rx="2" fill="#FFFF99" stroke="#222" stroke-width=".6"/><text x="900.5" y="170.4" font-size="11.75" text-anchor="middle" fill="#000">Stroma</text>
<rect x="683.3" y="287.4" width="136.7" height="15.5" rx="2" fill="#BEAED4" stroke="#222" stroke-width=".6"/><text x="751.6" y="299.3" font-size="11.75" text-anchor="middle" fill="#000">Invasive cancer + stroma</text>
<rect x="545.6" y="348.3" width="46.3" height="15.5" rx="2" fill="#7FC97F" stroke="#222" stroke-width=".6"/><text x="568.7" y="360.3" font-size="11.75" text-anchor="middle" fill="#000">Artefact</text>
<rect x="684.6" y="368.3" width="215.4" height="15.5" rx="2" fill="#FDC086" stroke="#222" stroke-width=".6"/><text x="792.4" y="380.3" font-size="11.75" text-anchor="middle" fill="#000">Invasive cancer + stroma + lymphocytes</text>
<clipPath id="cpd"><rect x="1530.2" y="49.2" width="434.8" height="435.5"/></clipPath>
<rect x="1530.2" y="49.2" width="434.8" height="435.5" fill="#f4e3f2"/>
<g clip-path="url(#cpd)">
<g id="tD" filter="url(#tis2)"><clipPath id="tDc"><path d="M1564,49.2 1780.1,49.2 1773.9,55 1763.9,67.5 1756.4,77.5 1743.9,87.5 1723.9,97.5 1698.9,112.5 1673.9,125 1648.9,137.5 1628.9,147.4 1608.9,154.9 1588.9,159.9 1569,164.9 1549,169.9 1530.2,174.9 1530.2,87.5 1541.5,82.5 1551.5,72.5 1559,60ZM1757.5,153.9 1761.1,144.4 1768.3,139 1787.4,138.4 1801.8,143.2 1808.9,150.3 1818.5,155.1 1830.5,159.9 1849.6,159.3 1890.2,159.9 1904.6,165.9 1914.2,174.2 1920.1,185 1921.3,194.6 1928.5,204.1 1932.1,216.1 1933.3,225.7 1928.5,237.6 1929.7,250.8 1926.1,256.8 1916.6,261.5 1907,272.3 1897.4,280.7 1875.9,281.3 1869.9,272.3 1860.4,263.9 1849.6,259.2 1837.6,254.4 1825.7,253.2 1818.5,253.2 1806.5,247.2 1792.2,240 1779,235.2 1770.7,225.7 1761.1,212.5 1753.9,202.9 1751.5,192.2 1750.3,180.2 1749.1,173.1 1752.7,163.5ZM1757.5,260.7 1781.9,262.2 1788,272.9 1783.4,288.2 1777.3,300.4 1772.7,311.1 1762.1,323.3 1756,335.5 1746.8,347.7 1740.7,361.5 1731.5,370.6 1725.4,379.8 1733.1,385.9 1751.4,399.6 1765.1,411.8 1780.4,424 1792.6,436.3 1804.8,446.9 1803.3,451.5 1789.5,453.1 1777.3,454.6 1768.2,463.7 1774.3,476 1765.1,485.1 1656.7,485.1 1646,479 1627.7,469.8 1609.4,463.7 1591.1,459.2 1569.7,451.5 1560.5,442.4 1552.9,430.2 1549.8,414.9 1551.4,404.2 1560.5,393.5 1571.2,384.4 1581.9,372.1 1591.1,359.9 1601.8,347.7 1609.4,337 1615.5,330.9 1627.7,326.3 1639.9,320.2 1656.7,314.1 1676.6,309.5 1694.9,305 1707.1,295.8 1722.4,288.2 1737.6,280.5 1748.3,271.4Z"/></clipPath><path d="M1564,49.2 1780.1,49.2 1773.9,55 1763.9,67.5 1756.4,77.5 1743.9,87.5 1723.9,97.5 1698.9,112.5 1673.9,125 1648.9,137.5 1628.9,147.4 1608.9,154.9 1588.9,159.9 1569,164.9 1549,169.9 1530.2,174.9 1530.2,87.5 1541.5,82.5 1551.5,72.5 1559,60ZM1757.5,153.9 1761.1,144.4 1768.3,139 1787.4,138.4 1801.8,143.2 1808.9,150.3 1818.5,155.1 1830.5,159.9 1849.6,159.3 1890.2,159.9 1904.6,165.9 1914.2,174.2 1920.1,185 1921.3,194.6 1928.5,204.1 1932.1,216.1 1933.3,225.7 1928.5,237.6 1929.7,250.8 1926.1,256.8 1916.6,261.5 1907,272.3 1897.4,280.7 1875.9,281.3 1869.9,272.3 1860.4,263.9 1849.6,259.2 1837.6,254.4 1825.7,253.2 1818.5,253.2 1806.5,247.2 1792.2,240 1779,235.2 1770.7,225.7 1761.1,212.5 1753.9,202.9 1751.5,192.2 1750.3,180.2 1749.1,173.1 1752.7,163.5ZM1757.5,260.7 1781.9,262.2 1788,272.9 1783.4,288.2 1777.3,300.4 1772.7,311.1 1762.1,323.3 1756,335.5 1746.8,347.7 1740.7,361.5 1731.5,370.6 1725.4,379.8 1733.1,385.9 1751.4,399.6 1765.1,411.8 1780.4,424 1792.6,436.3 1804.8,446.9 1803.3,451.5 1789.5,453.1 1777.3,454.6 1768.2,463.7 1774.3,476 1765.1,485.1 1656.7,485.1 1646,479 1627.7,469.8 1609.4,463.7 1591.1,459.2 1569.7,451.5 1560.5,442.4 1552.9,430.2 1549.8,414.9 1551.4,404.2 1560.5,393.5 1571.2,384.4 1581.9,372.1 1591.1,359.9 1601.8,347.7 1609.4,337 1615.5,330.9 1627.7,326.3 1639.9,320.2 1656.7,314.1 1676.6,309.5 1694.9,305 1707.1,295.8 1722.4,288.2 1737.6,280.5 1748.3,271.4Z" fill="#8f58c0" stroke="#c45cb0" stroke-width="2.5"/><g clip-path="url(#tDc)" filter="url(#bl)"><path d="M1627.7,469.8 1646,460.7 1682.7,457.6 1728.5,456.1 1728.5,485.1 1656.7,485.1 1646,479Z" fill="#bd98d2" opacity=".55"/><path d="M1720.8,466.8 1768.2,463.7 1774.3,476 1765.1,485.1 1713.2,485.1Z" fill="#e0508f" opacity=".75"/></g></g><g id="tDh"><path d="M1730,321.8 1737.6,317.2 1739.2,323.3 1734.6,332.4 1728.5,335.5Z" fill="#f4e3f2"/><path d="M1771.2,436.3 1786.5,437.8 1792.6,446.9 1780.4,451.5 1769.7,445.4Z" fill="#f4e3f2"/><polyline class="mg" points="1536,485.3 1549.8,485.3 1563.5,485.3 1577.2,485.3 1591,485.3 1604.8,485.3 1618.5,485.3 1632.2,485.3 1646,485.3 1769.8,485.3 1783.5,485.3 1797.2,485.3 1811,485.3 1824.8,485.3 1838.5,485.3 1852.2,485.3 1866,485.3 1879.8,485.3 1893.5,485.3 1907.2,485.3 1921,485.3 1934.8,485.3 1948.5,485.3 1962.2,485.3"/></g>
<polyline class="n0" points="1584.7,69 1593.3,69 1661.9,69 1670.5,69 1679.1,69 1687.6,69 1696.2,69 1704.8,69 1713.4,69 1722,69 1730.5,69 1739.1,69 1747.7,69 1756.3,69 1580.4,74.5 1589,74.5 1597.5,74.5 1657.6,74.5 1666.2,74.5 1674.8,74.5 1683.4,74.5 1691.9,74.5 1700.5,74.5 1709.1,74.5 1717.7,74.5 1726.2,74.5 1734.8,74.5 1743.4,74.5 1752,74.5 1576.1,80 1584.7,80 1593.3,80 1601.8,80 1610.4,80 1627.6,80 1661.9,80 1670.5,80 1679.1,80 1687.6,80 1696.2,80 1704.8,80 1713.4,80 1722,80 1730.5,80 1739.1,80 1747.7,80 1571.8,85.5 1580.4,85.5 1589,85.5 1597.5,85.5 1606.1,85.5 1614.7,85.5 1623.3,85.5 1657.6,85.5 1666.2,85.5 1674.8,85.5 1683.4,85.5 1691.9,85.5 1700.5,85.5 1709.1,85.5 1717.7,85.5 1726.2,85.5 1734.8,85.5 1743.4,85.5 1567.5,91 1576.1,91 1584.7,91 1593.3,91 1601.8,91 1610.4,91 1619,91 1627.6,91 1661.9,91 1670.5,91 1679.1,91 1687.6,91 1696.2,91 1704.8,91 1713.4,91 1722,91 1730.5,91 1571.8,96.5 1580.4,96.5 1589,96.5 1597.5,96.5 1606.1,96.5 1614.7,96.5 1623.3,96.5 1631.9,96.5 1640.5,96.5 1649,96.5 1657.6,96.5 1666.2,96.5 1674.8,96.5 1683.4,96.5 1691.9,96.5 1700.5,96.5 1709.1,96.5 1717.7,96.5 1567.5,102 1576.1,102 1584.7,102 1593.3,102 1601.8,102 1610.4,102 1619,102 1627.6,102 1636.2,102 1644.7,102 1653.3,102 1661.9,102 1670.5,102 1679.1,102 1687.6,102 1696.2,102 1704.8,102 1713.4,102 1571.8,107.5 1580.4,107.5 1589,107.5 1597.5,107.5 1606.1,107.5 1614.7,107.5 1623.3,107.5 1631.9,107.5 1640.5,107.5 1649,107.5 1657.6,107.5 1666.2,107.5 1674.8,107.5 1683.4,107.5 1691.9,107.5 1700.5,107.5 1576.1,113 1584.7,113 1593.3,113 1601.8,113 1610.4,113 1619,113 1627.6,113 1636.2,113 1644.7,113 1653.3,113 1661.9,113 1670.5,113 1679.1,113 1687.6,113 1696.2,113 1571.8,118.5 1580.4,118.5 1589,118.5 1597.5,118.5 1606.1,118.5 1614.7,118.5 1623.3,118.5 1631.9,118.5 1640.5,118.5 1649,118.5 1657.6,118.5 1666.2,118.5 1674.8,118.5 1683.4,118.5 1576.1,124 1584.7,124 1593.3,124 1601.8,124 1610.4,124 1619,124 1627.6,124 1636.2,124 1644.7,124 1653.3,124 1661.9,124 1571.8,129.5 1580.4,129.5 1589,129.5 1597.5,129.5 1606.1,129.5 1614.7,129.5 1623.3,129.5 1631.9,129.5 1640.5,129.5 1649,129.5 1576.1,135 1584.7,135 1593.3,135 1601.8,135 1610.4,135 1619,135 1627.6,135 1636.2,135 1580.4,140.5 1589,140.5 1597.5,140.5 1606.1,140.5 1614.7,140.5 1623.3,140.5 1576.1,146 1584.7,146 1593.3,146 1601.8,146 1610.4,146 1619,146 1571.8,151.5 1580.4,151.5 1589,151.5 1597.5,151.5 1606.1,151.5 1885,234 1893.6,234 1902.1,234 1872.1,239.5 1880.7,239.5 1889.3,239.5 1897.9,239.5 1906.4,239.5 1842.1,245 1850.7,245 1859.2,245 1867.8,245 1876.4,245 1885,245 1893.6,245 1902.1,245 1837.8,250.5 1846.4,250.5 1855,250.5 1863.5,250.5 1872.1,250.5 1880.7,250.5 1889.3,250.5 1897.9,250.5 1842.1,256 1850.7,256 1859.2,256 1867.8,256 1876.4,256 1885,256 1893.6,256 1902.1,256 1855,261.5 1863.5,261.5 1872.1,261.5 1880.7,261.5 1889.3,261.5 1897.9,261.5 1867.8,267 1876.4,267 1885,267 1893.6,267 1902.1,267 1872.1,272.5 1880.7,272.5 1889.3,272.5 1897.9,272.5 1876.4,278 1885,278 1893.6,278 1722,388 1730.5,388 1709.1,393.5 1717.7,393.5 1726.2,393.5 1734.8,393.5 1704.8,399 1713.4,399 1722,399 1730.5,399 1739.1,399 1747.7,399 1700.5,404.5 1709.1,404.5 1717.7,404.5 1726.2,404.5 1734.8,404.5 1743.4,404.5 1752,404.5 1696.2,410 1704.8,410 1713.4,410 1722,410 1730.5,410 1739.1,410 1747.7,410 1756.3,410 1700.5,415.5 1709.1,415.5 1717.7,415.5 1726.2,415.5 1734.8,415.5 1743.4,415.5 1752,415.5 1760.6,415.5 1769.2,415.5 1696.2,421 1704.8,421 1713.4,421 1722,421 1730.5,421 1739.1,421 1747.7,421 1756.3,421 1764.9,421 1773.4,421 1691.9,426.5 1700.5,426.5 1709.1,426.5 1717.7,426.5 1726.2,426.5 1734.8,426.5 1743.4,426.5 1752,426.5 1760.6,426.5 1769.2,426.5 1777.7,426.5 1687.6,432 1696.2,432 1704.8,432 1713.4,432 1722,432 1730.5,432 1739.1,432 1747.7,432 1756.3,432 1764.9,432 1773.4,432 1691.9,437.5 1700.5,437.5 1709.1,437.5 1717.7,437.5 1726.2,437.5 1734.8,437.5 1743.4,437.5 1752,437.5 1760.6,437.5 1769.2,437.5 1687.6,443 1696.2,443 1704.8,443 1713.4,443 1722,443 1730.5,443 1756.3,443 1764.9,443 1683.4,448.5 1691.9,448.5 1700.5,448.5 1709.1,448.5 1717.7,448.5 1726.2,448.5 1734.8,448.5 1752,448.5 1760.6,448.5 1679.1,454 1687.6,454 1696.2,454 1704.8,454 1713.4,454 1722,454 1730.5,454 1739.1,454"/>
<polyline class="n1" points="1769.2,140.5 1777.7,140.5 1786.3,140.5 1764.9,146 1773.4,146 1782,146 1790.6,146 1799.2,146 1760.6,151.5 1769.2,151.5 1777.7,151.5 1786.3,151.5 1794.9,151.5 1803.5,151.5 1752,173.5 1760.6,173.5 1769.2,173.5 1794.9,173.5 1756.3,179 1764.9,179 1790.6,179 1799.2,179 1760.6,184.5 1769.2,184.5 1794.9,184.5 1773.4,190 1782,190 1790.6,190 1799.2,190 1769.2,195.5 1777.7,195.5 1786.3,195.5 1794.9,195.5 1837.8,195.5 1773.4,201 1782,201 1790.6,201 1816.3,201 1824.9,201 1850.7,212 1859.2,212 1855,217.5 1863.5,217.5 1859.2,223 1867.8,223 1777.7,228.5 1786.3,228.5 1794.9,228.5 1803.5,228.5 1812.1,228.5 1872.1,228.5 1880.7,228.5 1906.4,228.5 1915,228.5 1782,234 1790.6,234 1824.9,234 1876.4,234 1829.2,239.5 1837.8,239.5 1833.5,245 1730.5,344 1739.1,344 1726.2,349.5 1734.8,349.5 1743.4,349.5 1722,355 1730.5,355 1739.1,355 1717.7,360.5 1726.2,360.5 1734.8,360.5 1713.4,366 1722,366 1730.5,366 1700.5,371.5 1709.1,371.5 1717.7,371.5 1726.2,371.5 1687.6,377 1696.2,377 1704.8,377 1713.4,377 1722,377 1674.8,382.5 1683.4,382.5 1691.9,382.5 1700.5,382.5 1709.1,382.5 1717.7,382.5 1670.5,388 1679.1,388 1687.6,388 1696.2,388 1704.8,388 1713.4,388 1674.8,393.5 1683.4,393.5 1691.9,393.5 1700.5,393.5 1679.1,399 1687.6,399 1696.2,399 1674.8,404.5 1683.4,404.5 1691.9,404.5 1679.1,410 1687.6,410 1674.8,415.5 1683.4,415.5 1691.9,415.5 1670.5,421 1679.1,421 1687.6,421 1640.5,426.5 1666.2,426.5 1674.8,426.5 1683.4,426.5 1636.2,432 1644.7,432 1653.3,432 1661.9,432 1670.5,432 1679.1,432 1640.5,437.5 1649,437.5 1657.6,437.5 1666.2,437.5 1674.8,437.5 1683.4,437.5 1636.2,443 1644.7,443 1653.3,443 1661.9,443 1670.5,443 1679.1,443 1739.1,443 1747.7,443 1640.5,448.5 1649,448.5 1657.6,448.5 1666.2,448.5 1674.8,448.5 1743.4,448.5 1653.3,454 1661.9,454 1670.5,454"/>
<polyline class="n2" points="1756.3,157 1764.9,157 1773.4,157 1782,157 1790.6,157 1799.2,157 1807.8,157 1816.3,157 1760.6,162.5 1769.2,162.5 1777.7,162.5 1786.3,162.5 1794.9,162.5 1803.5,162.5 1812.1,162.5 1820.6,162.5 1829.2,162.5 1837.8,162.5 1846.4,162.5 1855,162.5 1863.5,162.5 1872.1,162.5 1880.7,162.5 1889.3,162.5 1756.3,168 1764.9,168 1773.4,168 1782,168 1790.6,168 1799.2,168 1807.8,168 1816.3,168 1824.9,168 1833.5,168 1842.1,168 1850.7,168 1846.4,173.5 1855,173.5 1863.5,173.5 1872.1,173.5 1880.7,173.5 1889.3,173.5 1897.9,173.5 1842.1,179 1850.7,179 1859.2,179 1867.8,179 1876.4,179 1885,179 1893.6,179 1902.1,179 1752,184.5 1846.4,184.5 1855,184.5 1863.5,184.5 1872.1,184.5 1880.7,184.5 1889.3,184.5 1897.9,184.5 1842.1,190 1850.7,190 1859.2,190 1867.8,190 1876.4,190 1885,190 1893.6,190 1902.1,190 1846.4,195.5 1915,195.5 1833.5,201 1842.1,201 1910.7,201 1919.3,201 1769.2,206.5 1777.7,206.5 1786.3,206.5 1794.9,206.5 1803.5,206.5 1812.1,206.5 1820.6,206.5 1829.2,206.5 1837.8,206.5 1846.4,206.5 1855,206.5 1915,206.5 1923.6,206.5 1764.9,212 1773.4,212 1782,212 1790.6,212 1799.2,212 1807.8,212 1816.3,212 1824.9,212 1833.5,212 1842.1,212 1867.8,212 1910.7,212 1919.3,212 1927.9,212 1769.2,217.5 1777.7,217.5 1786.3,217.5 1794.9,217.5 1803.5,217.5 1812.1,217.5 1820.6,217.5 1829.2,217.5 1837.8,217.5 1846.4,217.5 1872.1,217.5 1880.7,217.5 1897.9,217.5 1906.4,217.5 1915,217.5 1773.4,223 1782,223 1790.6,223 1799.2,223 1807.8,223 1816.3,223 1824.9,223 1833.5,223 1910.7,223 1820.6,228.5 1829.2,228.5 1829.2,250.5 1910.7,256 1919.3,256 1906.4,261.5 1915,261.5 1756.3,267 1764.9,267 1773.4,267 1782,267 1910.7,267 1752,272.5 1760.6,272.5 1769.2,272.5 1777.7,272.5 1906.4,272.5 1747.7,278 1756.3,278 1764.9,278 1773.4,278 1782,278 1743.4,283.5 1752,283.5 1760.6,283.5 1769.2,283.5 1777.7,283.5 1730.5,289 1739.1,289 1747.7,289 1756.3,289 1764.9,289 1773.4,289 1782,289 1717.7,294.5 1726.2,294.5 1734.8,294.5 1743.4,294.5 1752,294.5 1760.6,294.5 1769.2,294.5 1777.7,294.5 1704.8,300 1713.4,300 1722,300 1730.5,300 1739.1,300 1747.7,300 1756.3,300 1764.9,300 1773.4,300 1700.5,305.5 1709.1,305.5 1717.7,305.5 1726.2,305.5 1734.8,305.5 1743.4,305.5 1752,305.5 1760.6,305.5 1769.2,305.5 1687.6,311 1696.2,311 1704.8,311 1713.4,311 1722,311 1730.5,311 1739.1,311 1747.7,311 1756.3,311 1764.9,311 1657.6,316.5 1666.2,316.5 1674.8,316.5 1683.4,316.5 1691.9,316.5 1700.5,316.5 1709.1,316.5 1717.7,316.5 1726.2,316.5 1734.8,316.5 1743.4,316.5 1752,316.5 1760.6,316.5 1644.7,322 1653.3,322 1661.9,322 1670.5,322 1679.1,322 1687.6,322 1696.2,322 1704.8,322 1713.4,322 1722,322 1739.1,322 1747.7,322 1756.3,322 1631.9,327.5 1640.5,327.5 1649,327.5 1657.6,327.5 1666.2,327.5 1674.8,327.5 1683.4,327.5 1691.9,327.5 1700.5,327.5 1709.1,327.5 1717.7,327.5 1726.2,327.5 1743.4,327.5 1752,327.5 1619,333 1627.6,333 1636.2,333 1644.7,333 1653.3,333 1661.9,333 1670.5,333 1679.1,333 1687.6,333 1696.2,333 1704.8,333 1713.4,333 1722,333 1739.1,333 1747.7,333 1756.3,333 1614.7,338.5 1623.3,338.5 1631.9,338.5 1640.5,338.5 1649,338.5 1657.6,338.5 1666.2,338.5 1674.8,338.5 1683.4,338.5 1691.9,338.5 1700.5,338.5 1709.1,338.5 1717.7,338.5 1726.2,338.5 1734.8,338.5 1743.4,338.5 1610.4,344 1619,344 1627.6,344 1636.2,344 1644.7,344 1653.3,344 1661.9,344 1670.5,344 1679.1,344 1687.6,344 1696.2,344 1704.8,344 1713.4,344 1722,344 1606.1,349.5 1614.7,349.5 1623.3,349.5 1631.9,349.5 1640.5,349.5 1649,349.5 1657.6,349.5 1666.2,349.5 1674.8,349.5 1683.4,349.5 1691.9,349.5 1700.5,349.5 1709.1,349.5 1717.7,349.5 1601.8,355 1610.4,355 1619,355 1627.6,355 1636.2,355 1644.7,355 1653.3,355 1661.9,355 1670.5,355 1679.1,355 1687.6,355 1696.2,355 1704.8,355 1713.4,355 1597.5,360.5 1606.1,360.5 1614.7,360.5 1623.3,360.5 1631.9,360.5 1640.5,360.5 1649,360.5 1657.6,360.5 1666.2,360.5 1674.8,360.5 1683.4,360.5 1691.9,360.5 1700.5,360.5 1709.1,360.5 1593.3,366 1601.8,366 1610.4,366 1619,366 1627.6,366 1636.2,366 1644.7,366 1653.3,366 1661.9,366 1670.5,366 1679.1,366 1687.6,366 1696.2,366 1704.8,366 1589,371.5 1597.5,371.5 1606.1,371.5 1614.7,371.5 1623.3,371.5 1631.9,371.5 1640.5,371.5 1649,371.5 1657.6,371.5 1666.2,371.5 1674.8,371.5 1683.4,371.5 1691.9,371.5 1584.7,377 1593.3,377 1601.8,377 1610.4,377 1619,377 1627.6,377 1636.2,377 1644.7,377 1653.3,377 1661.9,377 1670.5,377 1679.1,377 1580.4,382.5 1589,382.5 1597.5,382.5 1606.1,382.5 1614.7,382.5 1623.3,382.5 1631.9,382.5 1640.5,382.5 1649,382.5 1657.6,382.5 1666.2,382.5 1576.1,388 1584.7,388 1593.3,388 1601.8,388 1610.4,388 1619,388 1627.6,388 1636.2,388 1644.7,388 1653.3,388 1661.9,388 1571.8,393.5 1580.4,393.5 1589,393.5 1597.5,393.5 1606.1,393.5 1614.7,393.5 1623.3,393.5 1631.9,393.5 1640.5,393.5 1649,393.5 1657.6,393.5 1666.2,393.5 1567.5,399 1576.1,399 1584.7,399 1593.3,399 1601.8,399 1610.4,399 1619,399 1627.6,399 1636.2,399 1644.7,399 1653.3,399 1661.9,399 1670.5,399 1563.2,404.5 1571.8,404.5 1580.4,404.5 1589,404.5 1597.5,404.5 1606.1,404.5 1614.7,404.5 1623.3,404.5 1631.9,404.5 1640.5,404.5 1649,404.5 1657.6,404.5 1666.2,404.5 1567.5,410 1576.1,410 1584.7,410 1593.3,410 1601.8,410 1610.4,410 1619,410 1627.6,410 1636.2,410 1644.7,410 1653.3,410 1661.9,410 1670.5,410 1563.2,415.5 1571.8,415.5 1580.4,415.5 1589,415.5 1597.5,415.5 1606.1,415.5 1614.7,415.5 1623.3,415.5 1631.9,415.5 1640.5,415.5 1649,415.5 1657.6,415.5 1666.2,415.5 1567.5,421 1576.1,421 1584.7,421 1593.3,421 1601.8,421 1610.4,421 1619,421 1627.6,421 1636.2,421 1644.7,421 1653.3,421 1661.9,421 1563.2,426.5 1571.8,426.5 1580.4,426.5 1589,426.5 1597.5,426.5 1606.1,426.5 1614.7,426.5 1623.3,426.5 1631.9,426.5 1567.5,432 1576.1,432 1584.7,432 1593.3,432 1601.8,432 1610.4,432 1619,432 1627.6,432 1563.2,437.5 1571.8,437.5 1580.4,437.5 1589,437.5 1597.5,437.5 1606.1,437.5 1614.7,437.5 1623.3,437.5 1631.9,437.5 1567.5,443 1576.1,443 1584.7,443 1593.3,443 1601.8,443 1610.4,443 1619,443 1627.6,443 1571.8,448.5 1580.4,448.5 1589,448.5 1597.5,448.5 1606.1,448.5 1614.7,448.5 1623.3,448.5 1631.9,448.5 1584.7,454 1593.3,454 1601.8,454 1610.4,454 1619,454 1627.6,454"/>
<polyline class="n3" points="1859.2,168 1867.8,168 1876.4,168 1885,168 1893.6,168 1777.7,173.5 1786.3,173.5 1773.4,179 1782,179 1777.7,184.5 1786.3,184.5 1855,195.5 1863.5,195.5 1872.1,195.5 1880.7,195.5 1889.3,195.5 1897.9,195.5 1906.4,195.5 1850.7,201 1859.2,201 1867.8,201 1876.4,201 1885,201 1893.6,201 1902.1,201 1863.5,206.5 1872.1,206.5 1880.7,206.5 1889.3,206.5 1897.9,206.5 1906.4,206.5 1876.4,212 1885,212 1893.6,212 1902.1,212 1842.1,223 1850.7,223 1837.8,228.5 1846.4,228.5 1855,228.5 1863.5,228.5 1833.5,234 1842.1,234 1850.7,234 1859.2,234 1867.8,234 1846.4,239.5 1855,239.5 1863.5,239.5 1614.7,327.5"/>
<polyline class="n4" points="1902.1,168 1803.5,173.5 1812.1,173.5 1820.6,173.5 1829.2,173.5 1837.8,173.5 1906.4,173.5 1807.8,179 1816.3,179 1824.9,179 1833.5,179 1910.7,179 1803.5,184.5 1812.1,184.5 1820.6,184.5 1829.2,184.5 1837.8,184.5 1906.4,184.5 1915,184.5 1756.3,190 1764.9,190 1807.8,190 1816.3,190 1824.9,190 1833.5,190 1910.7,190 1919.3,190 1760.6,195.5 1803.5,195.5 1812.1,195.5 1820.6,195.5 1829.2,195.5 1756.3,201 1764.9,201 1799.2,201 1807.8,201 1760.6,206.5 1889.3,217.5 1876.4,223 1885,223 1893.6,223 1902.1,223 1889.3,228.5 1897.9,228.5 1799.2,234 1807.8,234 1816.3,234 1794.9,239.5 1803.5,239.5 1812.1,239.5 1820.6,239.5 1807.8,245 1816.3,245 1824.9,245 1820.6,250.5"/>
<polyline class="n5" points="1923.6,217.5 1932.2,217.5 1919.3,223 1927.9,223 1923.6,228.5 1932.2,228.5 1910.7,234 1919.3,234 1927.9,234 1915,239.5 1923.6,239.5 1910.7,245 1919.3,245 1927.9,245 1906.4,250.5 1915,250.5 1923.6,250.5 1945,212 1833.5,256 1760.6,261.5 1769.2,261.5 1777.7,261.5 1640.5,316.5 1636.2,322"/>
<polyline class="n6" points="1550.4,146 1571.8,162.5"/>
<polyline class="n7" points="1786.3,437.5 1790.6,443 1794.9,448.5 1803.5,448.5 1769.2,448.5 1773.4,454"/>
</g>
<rect x="1612.5" y="99" width="166.8" height="15.5" rx="2" fill="#66A61E" stroke="#fff" stroke-width=".6"/><text x="1695.9" y="110.9" font-size="11.8" text-anchor="middle" fill="#fff">Invasive cancer + lymphocytes</text>
<rect x="1574.8" y="155.9" width="255.7" height="15.5" rx="2" fill="#E7298A" stroke="#fff" stroke-width=".6"/><text x="1702.6" y="167.9" font-size="11.8" text-anchor="middle" fill="#fff">Invasive cancer + adipose tissue + lymphocytes</text>
<rect x="1848.1" y="175.4" width="56.3" height="15.5" rx="2" fill="#666666" stroke="#fff" stroke-width=".6"/><text x="1876.3" y="187.4" font-size="11.8" text-anchor="middle" fill="#fff">Uncertain</text>
<rect x="1764.6" y="207.2" width="74.9" height="15.5" rx="2" fill="#E6AB02" stroke="#fff" stroke-width=".6"/><text x="1802.1" y="219.1" font-size="11.8" text-anchor="middle" fill="#fff">Lymphocytes</text>
<rect x="1746.2" y="240.1" width="43.8" height="15.5" rx="2" fill="#A6761D" stroke="#fff" stroke-width=".6"/><text x="1768.1" y="252.1" font-size="11.8" text-anchor="middle" fill="#fff">Stroma</text>
<rect x="1878.1" y="256.4" width="46.5" height="15.5" rx="2" fill="#D95F02" stroke="#fff" stroke-width=".6"/><text x="1901.3" y="268.3" font-size="11.8" text-anchor="middle" fill="#fff">Artefact</text>
<rect x="1604.3" y="360.1" width="87.8" height="15.5" rx="2" fill="#7570B3" stroke="#fff" stroke-width=".6"/><text x="1648.2" y="372" font-size="11.8" text-anchor="middle" fill="#fff">Invasive cancer</text>
<rect x="1740.1" y="454.5" width="82.5" height="15.5" rx="2" fill="#1B9E77" stroke="#fff" stroke-width=".6"/><text x="1781.3" y="466.5" font-size="11.8" text-anchor="middle" fill="#fff">Adipose tissue</text>
<g transform="translate(50,652) scale(0.662844) translate(-528,-49)"><g clip-path="url(#cpb)"><rect x="528" y="49" width="440" height="440" fill="#f4e3f2"/><use href="#tB"/><use href="#tBh"/><polyline class="v60" points="753.4,74.9 883.2,118.7 772.5,135.2 890.8,173.5 726.7,222.8 864.1,222.8 906.1,228.3 764.9,255.7 848.8,299.6 825.9,321.5 848.8,321.5 852.7,327 749.6,365.3 814.5,370.8 837.4,370.8 825.9,376.3 898.5,403.7 803,431.1"/><polyline class="v61" points="627.5,69.4 635.1,69.4 673.3,69.4 703.8,69.4 711.4,69.4 719.1,69.4 742,69.4 780.1,69.4 787.8,69.4 803,69.4 810.7,69.4 818.3,69.4 825.9,69.4 856.5,69.4 871.7,69.4 879.4,69.4 631.3,74.9 638.9,74.9 677.1,74.9 684.7,74.9 692.3,74.9 700,74.9 715.3,74.9 730.5,74.9 761.1,74.9 791.6,74.9 799.2,74.9 822.1,74.9 829.8,74.9 837.4,74.9 860.3,74.9 867.9,74.9 875.6,74.9 883.2,74.9 703.8,80.4 711.4,80.4 719.1,80.4 726.7,80.4 742,80.4 757.2,80.4 764.9,80.4 772.5,80.4 825.9,80.4 848.8,80.4 864.1,80.4 871.7,80.4 887,80.4 894.6,80.4 700,85.8 707.6,85.8 722.9,85.8 776.3,85.8 867.9,85.8 875.6,85.8 883.2,85.8 890.8,85.8 898.5,85.8 703.8,91.3 711.4,91.3 726.7,91.3 757.2,91.3 764.9,91.3 787.8,91.3 795.4,91.3 722.9,96.8 753.4,96.8 761.1,96.8 768.7,96.8 784,96.8 799.2,96.8 822.1,96.8 829.8,96.8 749.6,102.3 757.2,102.3 787.8,102.3 803,102.3 810.7,102.3 818.3,102.3 833.6,102.3 841.2,102.3 848.8,102.3 738.2,107.8 745.8,107.8 791.6,107.8 799.2,107.8 806.9,107.8 837.4,107.8 852.7,107.8 867.9,107.8 734.3,113.2 795.4,113.2 864.1,113.2 871.7,113.2 879.4,113.2 887,113.2 761.1,118.7 799.2,118.7 814.5,118.7 837.4,118.7 875.6,118.7 906.1,118.7 726.7,124.2 734.3,124.2 772.5,124.2 787.8,124.2 841.2,124.2 848.8,124.2 856.5,124.2 879.4,124.2 902.3,124.2 909.9,124.2 917.6,124.2 925.2,124.2 722.9,129.7 730.5,129.7 753.4,129.7 784,129.7 791.6,129.7 806.9,129.7 845,129.7 852.7,129.7 860.3,129.7 867.9,129.7 883.2,129.7 898.5,129.7 906.1,129.7 936.6,129.7 749.6,135.2 764.9,135.2 795.4,135.2 803,135.2 848.8,135.2 871.7,135.2 887,135.2 894.6,135.2 902.3,135.2 909.9,135.2 940.5,135.2 948.1,135.2 753.4,140.6 799.2,140.6 845,140.6 867.9,140.6 875.6,140.6 883.2,140.6 890.8,140.6 906.1,140.6 913.7,140.6 936.6,140.6 711.4,146.1 719.1,146.1 734.3,146.1 742,146.1 810.7,146.1 818.3,146.1 871.7,146.1 879.4,146.1 887,146.1 909.9,146.1 940.5,146.1 948.1,146.1 707.6,151.6 738.2,151.6 761.1,151.6 799.2,151.6 837.4,151.6 852.7,151.6 860.3,151.6 883.2,151.6 890.8,151.6 898.5,151.6 906.1,151.6 929,151.6 944.3,151.6 703.8,157.1 711.4,157.1 726.7,157.1 734.3,157.1 749.6,157.1 764.9,157.1 780.1,157.1 787.8,157.1 833.6,157.1 841.2,157.1 864.1,157.1 879.4,157.1 925.2,157.1 700,162.6 707.6,162.6 722.9,162.6 745.8,162.6 753.4,162.6 768.7,162.6 776.3,162.6 791.6,162.6 806.9,162.6 829.8,162.6 837.4,162.6 867.9,162.6 875.6,162.6 890.8,162.6 898.5,162.6 906.1,162.6 929,162.6 936.6,162.6 944.3,162.6 719.1,168 726.7,168 734.3,168 764.9,168 772.5,168 787.8,168 803,168 841.2,168 864.1,168 871.7,168 887,168 894.6,168 902.3,168 940.5,168 948.1,168 768.7,173.5 806.9,173.5 867.9,173.5 875.6,173.5 883.2,173.5 898.5,173.5 906.1,173.5 688.5,179 711.4,179 787.8,179 810.7,179 825.9,179 833.6,179 848.8,179 856.5,179 871.7,179 879.4,179 894.6,179 700,184.5 722.9,184.5 738.2,184.5 753.4,184.5 776.3,184.5 791.6,184.5 814.5,184.5 822.1,184.5 845,184.5 860.3,184.5 867.9,184.5 875.6,184.5 883.2,184.5 890.8,184.5 906.1,184.5 929,184.5 680.9,190 696.2,190 703.8,190 719.1,190 780.1,190 795.4,190 803,190 810.7,190 825.9,190 856.5,190 871.7,190 887,190 917.6,190 925.2,190 669.4,195.4 677.1,195.4 722.9,195.4 730.5,195.4 761.1,195.4 768.7,195.4 776.3,195.4 784,195.4 799.2,195.4 814.5,195.4 822.1,195.4 852.7,195.4 867.9,195.4 875.6,195.4 898.5,195.4 906.1,195.4 936.6,195.4 944.3,195.4 665.6,200.9 680.9,200.9 703.8,200.9 749.6,200.9 764.9,200.9 772.5,200.9 787.8,200.9 803,200.9 818.3,200.9 825.9,200.9 841.2,200.9 848.8,200.9 871.7,200.9 879.4,200.9 887,200.9 902.3,200.9 909.9,200.9 661.8,206.4 677.1,206.4 684.7,206.4 692.3,206.4 715.3,206.4 722.9,206.4 730.5,206.4 761.1,206.4 784,206.4 806.9,206.4 829.8,206.4 837.4,206.4 890.8,206.4 898.5,206.4 913.7,206.4 921.4,206.4 944.3,206.4 665.6,211.9 688.5,211.9 696.2,211.9 734.3,211.9 795.4,211.9 887,211.9 894.6,211.9 902.3,211.9 925.2,211.9 932.8,211.9 940.5,211.9 948.1,211.9 661.8,217.4 677.1,217.4 684.7,217.4 692.3,217.4 715.3,217.4 722.9,217.4 753.4,217.4 761.1,217.4 768.7,217.4 776.3,217.4 784,217.4 806.9,217.4 814.5,217.4 822.1,217.4 829.8,217.4 845,217.4 867.9,217.4 875.6,217.4 898.5,217.4 906.1,217.4 921.4,217.4 929,217.4 936.6,217.4 673.3,222.8 680.9,222.8 688.5,222.8 696.2,222.8 719.1,222.8 772.5,222.8 780.1,222.8 787.8,222.8 795.4,222.8 833.6,222.8 848.8,222.8 894.6,222.8 902.3,222.8 917.6,222.8 925.2,222.8 932.8,222.8 669.4,228.3 684.7,228.3 700,228.3 715.3,228.3 738.2,228.3 753.4,228.3 761.1,228.3 768.7,228.3 776.3,228.3 784,228.3 799.2,228.3 814.5,228.3 822.1,228.3 860.3,228.3 867.9,228.3 883.2,228.3 890.8,228.3 898.5,228.3 929,228.3 944.3,228.3 650.4,233.8 658,233.8 665.6,233.8 673.3,233.8 680.9,233.8 696.2,233.8 703.8,233.8 719.1,233.8 764.9,233.8 772.5,233.8 780.1,233.8 803,233.8 810.7,233.8 833.6,233.8 841.2,233.8 848.8,233.8 856.5,233.8 864.1,233.8 871.7,233.8 887,233.8 894.6,233.8 925.2,233.8 932.8,233.8 608.4,239.3 616,239.3 623.6,239.3 669.4,239.3 677.1,239.3 684.7,239.3 700,239.3 707.6,239.3 745.8,239.3 776.3,239.3 784,239.3 791.6,239.3 814.5,239.3 837.4,239.3 860.3,239.3 867.9,239.3 875.6,239.3 883.2,239.3 898.5,239.3 913.7,239.3 921.4,239.3 604.6,244.8 619.8,244.8 635.1,244.8 642.7,244.8 650.4,244.8 658,244.8 696.2,244.8 711.4,244.8 742,244.8 764.9,244.8 780.1,244.8 787.8,244.8 795.4,244.8 825.9,244.8 848.8,244.8 871.7,244.8 879.4,244.8 887,244.8 894.6,244.8 902.3,244.8 917.6,244.8 932.8,244.8 608.4,250.2 623.6,250.2 638.9,250.2 661.8,250.2 669.4,250.2 707.6,250.2 784,250.2 791.6,250.2 799.2,250.2 814.5,250.2 822.1,250.2 867.9,250.2 883.2,250.2 890.8,250.2 898.5,250.2 906.1,250.2 913.7,250.2 921.4,250.2 604.6,255.7 612.2,255.7 619.8,255.7 627.5,255.7 635.1,255.7 642.7,255.7 680.9,255.7 696.2,255.7 726.7,255.7 742,255.7 772.5,255.7 780.1,255.7 787.8,255.7 795.4,255.7 818.3,255.7 825.9,255.7 841.2,255.7 848.8,255.7 871.7,255.7 894.6,255.7 608.4,261.2 623.6,261.2 631.3,261.2 638.9,261.2 661.8,261.2 677.1,261.2 692.3,261.2 700,261.2 715.3,261.2 745.8,261.2 776.3,261.2 784,261.2 791.6,261.2 806.9,261.2 814.5,261.2 822.1,261.2 845,261.2 875.6,261.2 883.2,261.2 921.4,261.2 612.2,266.7 619.8,266.7 627.5,266.7 635.1,266.7 650.4,266.7 658,266.7 673.3,266.7 680.9,266.7 696.2,266.7 703.8,266.7 719.1,266.7 742,266.7 764.9,266.7 780.1,266.7 787.8,266.7 795.4,266.7 803,266.7 810.7,266.7 879.4,266.7 917.6,266.7 623.6,272.2 631.3,272.2 638.9,272.2 654.2,272.2 661.8,272.2 700,272.2 707.6,272.2 715.3,272.2 745.8,272.2 761.1,272.2 784,272.2 799.2,272.2 806.9,272.2 814.5,272.2 822.1,272.2 829.8,272.2 883.2,272.2 890.8,272.2 604.6,277.6 612.2,277.6 619.8,277.6 627.5,277.6 642.7,277.6 650.4,277.6 673.3,277.6 680.9,277.6 696.2,277.6 703.8,277.6 719.1,277.6 734.3,277.6 749.6,277.6 757.2,277.6 787.8,277.6 795.4,277.6 803,277.6 810.7,277.6 818.3,277.6 833.6,277.6 841.2,277.6 871.7,277.6 887,277.6 894.6,277.6 608.4,283.1 616,283.1 631.3,283.1 646.5,283.1 654.2,283.1 661.8,283.1 677.1,283.1 684.7,283.1 692.3,283.1 700,283.1 707.6,283.1 715.3,283.1 745.8,283.1 761.1,283.1 776.3,283.1 784,283.1 791.6,283.1 799.2,283.1 806.9,283.1 814.5,283.1 837.4,283.1 845,283.1 852.7,283.1 867.9,283.1 898.5,283.1 906.1,283.1 913.7,283.1 604.6,288.6 619.8,288.6 635.1,288.6 642.7,288.6 650.4,288.6 658,288.6 665.6,288.6 673.3,288.6 688.5,288.6 696.2,288.6 703.8,288.6 719.1,288.6 734.3,288.6 757.2,288.6 764.9,288.6 772.5,288.6 787.8,288.6 795.4,288.6 810.7,288.6 818.3,288.6 825.9,288.6 833.6,288.6 841.2,288.6 848.8,288.6 864.1,288.6 887,288.6 909.9,288.6 631.3,294.1 646.5,294.1 654.2,294.1 661.8,294.1 669.4,294.1 677.1,294.1 684.7,294.1 692.3,294.1 700,294.1 707.6,294.1 715.3,294.1 730.5,294.1 745.8,294.1 753.4,294.1 776.3,294.1 799.2,294.1 814.5,294.1 822.1,294.1 829.8,294.1 837.4,294.1 845,294.1 852.7,294.1 860.3,294.1 867.9,294.1 875.6,294.1 883.2,294.1 890.8,294.1 898.5,294.1 906.1,294.1 612.2,299.6 619.8,299.6 635.1,299.6 642.7,299.6 665.6,299.6 711.4,299.6 719.1,299.6 726.7,299.6 764.9,299.6 772.5,299.6 780.1,299.6 787.8,299.6 795.4,299.6 810.7,299.6 818.3,299.6 825.9,299.6 841.2,299.6 856.5,299.6 864.1,299.6 871.7,299.6 879.4,299.6 894.6,299.6 608.4,305 631.3,305 638.9,305 654.2,305 700,305 738.2,305 761.1,305 768.7,305 776.3,305 784,305 791.6,305 799.2,305 806.9,305 814.5,305 822.1,305 837.4,305 845,305 860.3,305 867.9,305 944.3,305 596.9,310.5 604.6,310.5 619.8,310.5 635.1,310.5 650.4,310.5 658,310.5 696.2,310.5 734.3,310.5 757.2,310.5 764.9,310.5 772.5,310.5 803,310.5 818.3,310.5 825.9,310.5 833.6,310.5 856.5,310.5 871.7,310.5 879.4,310.5 940.5,310.5 608.4,316 616,316 623.6,316 638.9,316 646.5,316 654.2,316 677.1,316 684.7,316 715.3,316 745.8,316 753.4,316 761.1,316 776.3,316 784,316 791.6,316 799.2,316 806.9,316 814.5,316 822.1,316 829.8,316 837.4,316 845,316 852.7,316 860.3,316 867.9,316 875.6,316 936.6,316 589.3,321.5 596.9,321.5 604.6,321.5 612.2,321.5 627.5,321.5 650.4,321.5 665.6,321.5 673.3,321.5 703.8,321.5 757.2,321.5 764.9,321.5 772.5,321.5 780.1,321.5 787.8,321.5 795.4,321.5 810.7,321.5 818.3,321.5 833.6,321.5 856.5,321.5 940.5,321.5 616,327 631.3,327 646.5,327 661.8,327 677.1,327 684.7,327 692.3,327 715.3,327 738.2,327 761.1,327 784,327 799.2,327 814.5,327 822.1,327 829.8,327 837.4,327 845,327 860.3,327 936.6,327 944.3,327 589.3,332.4 604.6,332.4 619.8,332.4 635.1,332.4 665.6,332.4 673.3,332.4 688.5,332.4 696.2,332.4 719.1,332.4 726.7,332.4 749.6,332.4 780.1,332.4 810.7,332.4 818.3,332.4 825.9,332.4 833.6,332.4 856.5,332.4 940.5,332.4 585.5,337.9 593.1,337.9 608.4,337.9 616,337.9 623.6,337.9 638.9,337.9 669.4,337.9 700,337.9 722.9,337.9 738.2,337.9 761.1,337.9 806.9,337.9 822.1,337.9 845,337.9 929,337.9 581.7,343.4 589.3,343.4 604.6,343.4 612.2,343.4 627.5,343.4 635.1,343.4 688.5,343.4 696.2,343.4 703.8,343.4 711.4,343.4 719.1,343.4 742,343.4 749.6,343.4 787.8,343.4 803,343.4 810.7,343.4 833.6,343.4 841.2,343.4 848.8,343.4 925.2,343.4 932.8,343.4 940.5,343.4 585.5,348.9 608.4,348.9 616,348.9 631.3,348.9 638.9,348.9 646.5,348.9 669.4,348.9 677.1,348.9 707.6,348.9 715.3,348.9 722.9,348.9 730.5,348.9 791.6,348.9 806.9,348.9 814.5,348.9 822.1,348.9 837.4,348.9 852.7,348.9 921.4,348.9 936.6,348.9 581.7,354.4 589.3,354.4 596.9,354.4 604.6,354.4 612.2,354.4 627.5,354.4 650.4,354.4 665.6,354.4 680.9,354.4 688.5,354.4 696.2,354.4 734.3,354.4 749.6,354.4 787.8,354.4 810.7,354.4 818.3,354.4 825.9,354.4 833.6,354.4 841.2,354.4 848.8,354.4 577.8,359.8 616,359.8 623.6,359.8 631.3,359.8 646.5,359.8 661.8,359.8 669.4,359.8 677.1,359.8 684.7,359.8 700,359.8 707.6,359.8 738.2,359.8 768.7,359.8 784,359.8 814.5,359.8 822.1,359.8 829.8,359.8 837.4,359.8 845,359.8 929,359.8 944.3,359.8 574,365.3 581.7,365.3 589.3,365.3 596.9,365.3 612.2,365.3 619.8,365.3 627.5,365.3 635.1,365.3 642.7,365.3 673.3,365.3 688.5,365.3 711.4,365.3 757.2,365.3 787.8,365.3 803,365.3 810.7,365.3 818.3,365.3 833.6,365.3 894.6,365.3 902.3,365.3 917.6,365.3 925.2,365.3 932.8,365.3 570.2,370.8 577.8,370.8 608.4,370.8 616,370.8 631.3,370.8 638.9,370.8 654.2,370.8 661.8,370.8 684.7,370.8 692.3,370.8 700,370.8 707.6,370.8 722.9,370.8 753.4,370.8 761.1,370.8 776.3,370.8 791.6,370.8 806.9,370.8 822.1,370.8 913.7,370.8 929,370.8 936.6,370.8 574,376.3 581.7,376.3 589.3,376.3 604.6,376.3 612.2,376.3 619.8,376.3 627.5,376.3 642.7,376.3 665.6,376.3 680.9,376.3 703.8,376.3 711.4,376.3 742,376.3 757.2,376.3 795.4,376.3 818.3,376.3 841.2,376.3 917.6,376.3 932.8,376.3 570.2,381.8 577.8,381.8 585.5,381.8 593.1,381.8 600.7,381.8 616,381.8 623.6,381.8 654.2,381.8 661.8,381.8 669.4,381.8 700,381.8 707.6,381.8 730.5,381.8 753.4,381.8 806.9,381.8 822.1,381.8 837.4,381.8 890.8,381.8 898.5,381.8 906.1,381.8 913.7,381.8 921.4,381.8 944.3,381.8 589.3,387.2 596.9,387.2 604.6,387.2 619.8,387.2 635.1,387.2 642.7,387.2 665.6,387.2 673.3,387.2 688.5,387.2 703.8,387.2 757.2,387.2 772.5,387.2 780.1,387.2 795.4,387.2 818.3,387.2 825.9,387.2 833.6,387.2 902.3,387.2 917.6,387.2 925.2,387.2 577.8,392.7 593.1,392.7 616,392.7 623.6,392.7 646.5,392.7 669.4,392.7 677.1,392.7 684.7,392.7 700,392.7 707.6,392.7 715.3,392.7 722.9,392.7 738.2,392.7 776.3,392.7 822.1,392.7 890.8,392.7 898.5,392.7 913.7,392.7 929,392.7 936.6,392.7 944.3,392.7 604.6,398.2 612.2,398.2 619.8,398.2 627.5,398.2 642.7,398.2 665.6,398.2 680.9,398.2 696.2,398.2 711.4,398.2 726.7,398.2 742,398.2 749.6,398.2 803,398.2 818.3,398.2 825.9,398.2 833.6,398.2 879.4,398.2 887,398.2 902.3,398.2 917.6,398.2 600.7,403.7 608.4,403.7 616,403.7 623.6,403.7 684.7,403.7 738.2,403.7 761.1,403.7 768.7,403.7 791.6,403.7 799.2,403.7 822.1,403.7 906.1,403.7 936.6,403.7 944.3,403.7 612.2,409.2 619.8,409.2 635.1,409.2 658,409.2 680.9,409.2 696.2,409.2 703.8,409.2 711.4,409.2 719.1,409.2 734.3,409.2 742,409.2 757.2,409.2 772.5,409.2 787.8,409.2 795.4,409.2 803,409.2 810.7,409.2 887,409.2 894.6,409.2 909.9,409.2 917.6,409.2 940.5,409.2 616,414.6 638.9,414.6 646.5,414.6 669.4,414.6 684.7,414.6 692.3,414.6 715.3,414.6 730.5,414.6 753.4,414.6 768.7,414.6 776.3,414.6 806.9,414.6 822.1,414.6 890.8,414.6 906.1,414.6 944.3,414.6 627.5,420.1 635.1,420.1 642.7,420.1 658,420.1 665.6,420.1 673.3,420.1 680.9,420.1 688.5,420.1 696.2,420.1 703.8,420.1 757.2,420.1 764.9,420.1 772.5,420.1 780.1,420.1 810.7,420.1 818.3,420.1 833.6,420.1 894.6,420.1 925.2,420.1 638.9,425.6 654.2,425.6 661.8,425.6 669.4,425.6 677.1,425.6 692.3,425.6 700,425.6 707.6,425.6 745.8,425.6 753.4,425.6 761.1,425.6 768.7,425.6 776.3,425.6 791.6,425.6 814.5,425.6 822.1,425.6 845,425.6 890.8,425.6 906.1,425.6 913.7,425.6 929,425.6 658,431.1 680.9,431.1 688.5,431.1 703.8,431.1 719.1,431.1 734.3,431.1 742,431.1 795.4,431.1 818.3,431.1 841.2,431.1 887,431.1 894.6,431.1 902.3,431.1 925.2,431.1 940.5,431.1 669.4,436.6 692.3,436.6 707.6,436.6 715.3,436.6 753.4,436.6 776.3,436.6 784,436.6 791.6,436.6 906.1,436.6 921.4,436.6 929,436.6 944.3,436.6 680.9,442 726.7,442 742,442 764.9,442 772.5,442 810.7,442 825.9,442 940.5,442 692.3,447.5 700,447.5 715.3,447.5 753.4,447.5 761.1,447.5 768.7,447.5 799.2,447.5 822.1,447.5 898.5,447.5 906.1,447.5 944.3,447.5 726.7,453 742,453 749.6,453 764.9,453 772.5,453 780.1,453 787.8,453 795.4,453 825.9,453 833.6,453 841.2,453 879.4,453 925.2,453 761.1,458.5 791.6,458.5 806.9,458.5 814.5,458.5 829.8,458.5 875.6,458.5 742,464 772.5,464 780.1,464 787.8,464 803,464 810.7,464 841.2,464 879.4,464 548.7,341.6 556.2,342.3 560,336.6 563,331.1 864.1,392.3"/><polyline class="v62" points="642.7,69.4 650.4,69.4 658,69.4 665.6,69.4 680.9,69.4 688.5,69.4 696.2,69.4 726.7,69.4 734.3,69.4 757.2,69.4 764.9,69.4 772.5,69.4 795.4,69.4 833.6,69.4 841.2,69.4 848.8,69.4 864.1,69.4 661.8,74.9 669.4,74.9 707.6,74.9 722.9,74.9 738.2,74.9 745.8,74.9 768.7,74.9 776.3,74.9 806.9,74.9 814.5,74.9 845,74.9 852.7,74.9 696.2,80.4 734.3,80.4 749.6,80.4 833.6,80.4 841.2,80.4 856.5,80.4 879.4,80.4 715.3,85.8 719.1,91.3 742,91.3 749.6,91.3 772.5,91.3 780.1,91.3 707.6,96.8 715.3,96.8 730.5,96.8 738.2,96.8 745.8,96.8 776.3,96.8 791.6,96.8 806.9,96.8 814.5,96.8 742,102.3 764.9,102.3 772.5,102.3 780.1,102.3 795.4,102.3 825.9,102.3 856.5,102.3 753.4,107.8 768.7,107.8 776.3,107.8 784,107.8 814.5,107.8 822.1,107.8 829.8,107.8 845,107.8 860.3,107.8 742,113.2 749.6,113.2 757.2,113.2 764.9,113.2 772.5,113.2 780.1,113.2 787.8,113.2 803,113.2 810.7,113.2 818.3,113.2 825.9,113.2 833.6,113.2 841.2,113.2 848.8,113.2 856.5,113.2 730.5,118.7 745.8,118.7 753.4,118.7 768.7,118.7 776.3,118.7 784,118.7 791.6,118.7 806.9,118.7 822.1,118.7 829.8,118.7 845,118.7 852.7,118.7 860.3,118.7 867.9,118.7 913.7,118.7 742,124.2 749.6,124.2 757.2,124.2 764.9,124.2 780.1,124.2 795.4,124.2 803,124.2 810.7,124.2 818.3,124.2 825.9,124.2 833.6,124.2 864.1,124.2 871.7,124.2 887,124.2 738.2,129.7 745.8,129.7 761.1,129.7 776.3,129.7 799.2,129.7 814.5,129.7 822.1,129.7 829.8,129.7 837.4,129.7 875.6,129.7 913.7,129.7 944.3,129.7 719.1,135.2 726.7,135.2 734.3,135.2 742,135.2 757.2,135.2 780.1,135.2 787.8,135.2 810.7,135.2 818.3,135.2 825.9,135.2 833.6,135.2 932.8,135.2 715.3,140.6 722.9,140.6 730.5,140.6 738.2,140.6 745.8,140.6 761.1,140.6 776.3,140.6 784,140.6 791.6,140.6 806.9,140.6 829.8,140.6 929,140.6 944.3,140.6 726.7,146.1 749.6,146.1 757.2,146.1 764.9,146.1 780.1,146.1 787.8,146.1 795.4,146.1 803,146.1 825.9,146.1 833.6,146.1 841.2,146.1 848.8,146.1 856.5,146.1 925.2,146.1 932.8,146.1 715.3,151.6 722.9,151.6 730.5,151.6 745.8,151.6 753.4,151.6 768.7,151.6 776.3,151.6 784,151.6 791.6,151.6 806.9,151.6 814.5,151.6 822.1,151.6 829.8,151.6 845,151.6 936.6,151.6 719.1,157.1 742,157.1 757.2,157.1 772.5,157.1 795.4,157.1 803,157.1 810.7,157.1 818.3,157.1 825.9,157.1 848.8,157.1 856.5,157.1 932.8,157.1 940.5,157.1 948.1,157.1 715.3,162.6 738.2,162.6 761.1,162.6 784,162.6 799.2,162.6 814.5,162.6 822.1,162.6 845,162.6 696.2,168 703.8,168 711.4,168 742,168 757.2,168 780.1,168 795.4,168 810.7,168 818.3,168 825.9,168 833.6,168 848.8,168 879.4,168 692.3,173.5 700,173.5 707.6,173.5 715.3,173.5 722.9,173.5 730.5,173.5 738.2,173.5 745.8,173.5 761.1,173.5 776.3,173.5 784,173.5 791.6,173.5 799.2,173.5 814.5,173.5 822.1,173.5 829.8,173.5 837.4,173.5 845,173.5 852.7,173.5 860.3,173.5 944.3,173.5 696.2,179 703.8,179 719.1,179 726.7,179 734.3,179 742,179 757.2,179 764.9,179 772.5,179 795.4,179 803,179 818.3,179 841.2,179 864.1,179 887,179 684.7,184.5 692.3,184.5 707.6,184.5 715.3,184.5 730.5,184.5 745.8,184.5 761.1,184.5 768.7,184.5 784,184.5 799.2,184.5 806.9,184.5 829.8,184.5 837.4,184.5 852.7,184.5 898.5,184.5 913.7,184.5 921.4,184.5 944.3,184.5 688.5,190 711.4,190 726.7,190 734.3,190 742,190 749.6,190 764.9,190 772.5,190 787.8,190 818.3,190 833.6,190 841.2,190 848.8,190 864.1,190 879.4,190 902.3,190 909.9,190 932.8,190 940.5,190 948.1,190 684.7,195.4 692.3,195.4 700,195.4 707.6,195.4 715.3,195.4 745.8,195.4 753.4,195.4 791.6,195.4 806.9,195.4 829.8,195.4 837.4,195.4 845,195.4 860.3,195.4 883.2,195.4 890.8,195.4 913.7,195.4 921.4,195.4 929,195.4 673.3,200.9 688.5,200.9 711.4,200.9 719.1,200.9 726.7,200.9 734.3,200.9 742,200.9 757.2,200.9 780.1,200.9 795.4,200.9 810.7,200.9 833.6,200.9 856.5,200.9 864.1,200.9 894.6,200.9 917.6,200.9 925.2,200.9 932.8,200.9 940.5,200.9 948.1,200.9 669.4,206.4 700,206.4 707.6,206.4 738.2,206.4 745.8,206.4 753.4,206.4 768.7,206.4 776.3,206.4 791.6,206.4 799.2,206.4 814.5,206.4 822.1,206.4 845,206.4 852.7,206.4 860.3,206.4 867.9,206.4 875.6,206.4 883.2,206.4 906.1,206.4 929,206.4 936.6,206.4 658,211.9 673.3,211.9 680.9,211.9 703.8,211.9 711.4,211.9 719.1,211.9 726.7,211.9 742,211.9 749.6,211.9 757.2,211.9 764.9,211.9 772.5,211.9 780.1,211.9 787.8,211.9 803,211.9 810.7,211.9 818.3,211.9 825.9,211.9 833.6,211.9 841.2,211.9 848.8,211.9 856.5,211.9 864.1,211.9 871.7,211.9 879.4,211.9 909.9,211.9 669.4,217.4 700,217.4 707.6,217.4 730.5,217.4 738.2,217.4 745.8,217.4 791.6,217.4 799.2,217.4 837.4,217.4 852.7,217.4 860.3,217.4 883.2,217.4 890.8,217.4 913.7,217.4 944.3,217.4 665.6,222.8 711.4,222.8 734.3,222.8 742,222.8 749.6,222.8 757.2,222.8 764.9,222.8 803,222.8 810.7,222.8 818.3,222.8 841.2,222.8 856.5,222.8 871.7,222.8 879.4,222.8 887,222.8 909.9,222.8 940.5,222.8 948.1,222.8 661.8,228.3 677.1,228.3 692.3,228.3 707.6,228.3 722.9,228.3 730.5,228.3 745.8,228.3 791.6,228.3 806.9,228.3 829.8,228.3 837.4,228.3 845,228.3 852.7,228.3 875.6,228.3 921.4,228.3 936.6,228.3 688.5,233.8 711.4,233.8 726.7,233.8 734.3,233.8 742,233.8 749.6,233.8 757.2,233.8 787.8,233.8 795.4,233.8 818.3,233.8 825.9,233.8 879.4,233.8 902.3,233.8 909.9,233.8 917.6,233.8 631.3,239.3 646.5,239.3 654.2,239.3 661.8,239.3 692.3,239.3 715.3,239.3 722.9,239.3 730.5,239.3 738.2,239.3 753.4,239.3 761.1,239.3 768.7,239.3 799.2,239.3 822.1,239.3 829.8,239.3 845,239.3 852.7,239.3 890.8,239.3 906.1,239.3 612.2,244.8 627.5,244.8 665.6,244.8 680.9,244.8 688.5,244.8 703.8,244.8 719.1,244.8 749.6,244.8 757.2,244.8 772.5,244.8 810.7,244.8 818.3,244.8 833.6,244.8 841.2,244.8 856.5,244.8 864.1,244.8 909.9,244.8 925.2,244.8 600.7,250.2 616,250.2 631.3,250.2 646.5,250.2 654.2,250.2 677.1,250.2 684.7,250.2 692.3,250.2 700,250.2 722.9,250.2 730.5,250.2 738.2,250.2 761.1,250.2 768.7,250.2 776.3,250.2 806.9,250.2 829.8,250.2 837.4,250.2 845,250.2 852.7,250.2 860.3,250.2 875.6,250.2 929,250.2 650.4,255.7 658,255.7 665.6,255.7 673.3,255.7 688.5,255.7 703.8,255.7 711.4,255.7 719.1,255.7 734.3,255.7 749.6,255.7 757.2,255.7 803,255.7 810.7,255.7 833.6,255.7 856.5,255.7 879.4,255.7 917.6,255.7 925.2,255.7 616,261.2 646.5,261.2 669.4,261.2 684.7,261.2 707.6,261.2 722.9,261.2 730.5,261.2 738.2,261.2 753.4,261.2 761.1,261.2 768.7,261.2 799.2,261.2 829.8,261.2 837.4,261.2 852.7,261.2 867.9,261.2 890.8,261.2 898.5,261.2 913.7,261.2 642.7,266.7 665.6,266.7 688.5,266.7 711.4,266.7 726.7,266.7 749.6,266.7 757.2,266.7 772.5,266.7 818.3,266.7 825.9,266.7 833.6,266.7 841.2,266.7 848.8,266.7 871.7,266.7 887,266.7 925.2,266.7 608.4,272.2 616,272.2 646.5,272.2 669.4,272.2 677.1,272.2 684.7,272.2 692.3,272.2 722.9,272.2 730.5,272.2 738.2,272.2 753.4,272.2 768.7,272.2 776.3,272.2 791.6,272.2 837.4,272.2 845,272.2 875.6,272.2 913.7,272.2 921.4,272.2 635.1,277.6 658,277.6 688.5,277.6 711.4,277.6 726.7,277.6 742,277.6 772.5,277.6 780.1,277.6 825.9,277.6 856.5,277.6 879.4,277.6 902.3,277.6 909.9,277.6 917.6,277.6 600.7,283.1 623.6,283.1 638.9,283.1 669.4,283.1 730.5,283.1 738.2,283.1 753.4,283.1 768.7,283.1 822.1,283.1 829.8,283.1 860.3,283.1 875.6,283.1 883.2,283.1 890.8,283.1 612.2,288.6 627.5,288.6 680.9,288.6 711.4,288.6 726.7,288.6 742,288.6 749.6,288.6 780.1,288.6 803,288.6 856.5,288.6 871.7,288.6 894.6,288.6 902.3,288.6 600.7,294.1 608.4,294.1 616,294.1 623.6,294.1 638.9,294.1 722.9,294.1 738.2,294.1 761.1,294.1 768.7,294.1 784,294.1 791.6,294.1 806.9,294.1 604.6,299.6 627.5,299.6 650.4,299.6 658,299.6 673.3,299.6 680.9,299.6 688.5,299.6 696.2,299.6 703.8,299.6 734.3,299.6 742,299.6 749.6,299.6 757.2,299.6 833.6,299.6 887,299.6 600.7,305 616,305 623.6,305 646.5,305 661.8,305 669.4,305 677.1,305 684.7,305 692.3,305 707.6,305 715.3,305 722.9,305 730.5,305 745.8,305 753.4,305 829.8,305 852.7,305 875.6,305 883.2,305 612.2,310.5 627.5,310.5 642.7,310.5 665.6,310.5 673.3,310.5 680.9,310.5 688.5,310.5 703.8,310.5 711.4,310.5 719.1,310.5 726.7,310.5 742,310.5 749.6,310.5 780.1,310.5 787.8,310.5 795.4,310.5 810.7,310.5 841.2,310.5 864.1,310.5 593.1,316 631.3,316 661.8,316 669.4,316 692.3,316 700,316 722.9,316 730.5,316 738.2,316 768.7,316 944.3,316 635.1,321.5 642.7,321.5 658,321.5 680.9,321.5 688.5,321.5 696.2,321.5 711.4,321.5 719.1,321.5 734.3,321.5 742,321.5 749.6,321.5 803,321.5 841.2,321.5 864.1,321.5 871.7,321.5 932.8,321.5 585.5,327 593.1,327 600.7,327 623.6,327 638.9,327 654.2,327 669.4,327 700,327 707.6,327 722.9,327 730.5,327 745.8,327 753.4,327 768.7,327 776.3,327 791.6,327 806.9,327 596.9,332.4 612.2,332.4 627.5,332.4 650.4,332.4 658,332.4 680.9,332.4 703.8,332.4 711.4,332.4 734.3,332.4 757.2,332.4 764.9,332.4 772.5,332.4 787.8,332.4 795.4,332.4 803,332.4 841.2,332.4 848.8,332.4 932.8,332.4 600.7,337.9 631.3,337.9 646.5,337.9 654.2,337.9 661.8,337.9 677.1,337.9 692.3,337.9 707.6,337.9 730.5,337.9 753.4,337.9 768.7,337.9 776.3,337.9 784,337.9 791.6,337.9 799.2,337.9 829.8,337.9 837.4,337.9 852.7,337.9 936.6,337.9 944.3,337.9 596.9,343.4 619.8,343.4 642.7,343.4 650.4,343.4 658,343.4 665.6,343.4 673.3,343.4 680.9,343.4 726.7,343.4 734.3,343.4 757.2,343.4 764.9,343.4 772.5,343.4 780.1,343.4 818.3,343.4 825.9,343.4 577.8,348.9 593.1,348.9 600.7,348.9 623.6,348.9 654.2,348.9 661.8,348.9 692.3,348.9 700,348.9 738.2,348.9 745.8,348.9 753.4,348.9 761.1,348.9 768.7,348.9 776.3,348.9 784,348.9 799.2,348.9 829.8,348.9 845,348.9 929,348.9 944.3,348.9 574,354.4 619.8,354.4 635.1,354.4 642.7,354.4 658,354.4 673.3,354.4 703.8,354.4 711.4,354.4 719.1,354.4 726.7,354.4 742,354.4 757.2,354.4 764.9,354.4 772.5,354.4 780.1,354.4 795.4,354.4 803,354.4 917.6,354.4 925.2,354.4 932.8,354.4 585.5,359.8 593.1,359.8 600.7,359.8 638.9,359.8 692.3,359.8 715.3,359.8 722.9,359.8 730.5,359.8 745.8,359.8 753.4,359.8 761.1,359.8 776.3,359.8 791.6,359.8 799.2,359.8 806.9,359.8 921.4,359.8 936.6,359.8 566.4,365.3 604.6,365.3 650.4,365.3 658,365.3 665.6,365.3 680.9,365.3 696.2,365.3 703.8,365.3 719.1,365.3 726.7,365.3 734.3,365.3 742,365.3 764.9,365.3 772.5,365.3 780.1,365.3 795.4,365.3 825.9,365.3 841.2,365.3 940.5,365.3 585.5,370.8 593.1,370.8 600.7,370.8 623.6,370.8 646.5,370.8 669.4,370.8 677.1,370.8 715.3,370.8 730.5,370.8 738.2,370.8 745.8,370.8 768.7,370.8 784,370.8 799.2,370.8 829.8,370.8 898.5,370.8 906.1,370.8 921.4,370.8 944.3,370.8 566.4,376.3 596.9,376.3 635.1,376.3 650.4,376.3 658,376.3 673.3,376.3 696.2,376.3 719.1,376.3 726.7,376.3 734.3,376.3 749.6,376.3 764.9,376.3 772.5,376.3 780.1,376.3 787.8,376.3 803,376.3 810.7,376.3 833.6,376.3 894.6,376.3 909.9,376.3 925.2,376.3 940.5,376.3 608.4,381.8 631.3,381.8 638.9,381.8 646.5,381.8 677.1,381.8 684.7,381.8 692.3,381.8 715.3,381.8 722.9,381.8 738.2,381.8 745.8,381.8 761.1,381.8 768.7,381.8 776.3,381.8 784,381.8 791.6,381.8 799.2,381.8 814.5,381.8 829.8,381.8 929,381.8 936.6,381.8 574,387.2 581.7,387.2 627.5,387.2 650.4,387.2 658,387.2 680.9,387.2 696.2,387.2 711.4,387.2 719.1,387.2 734.3,387.2 742,387.2 749.6,387.2 764.9,387.2 787.8,387.2 803,387.2 810.7,387.2 879.4,387.2 887,387.2 894.6,387.2 909.9,387.2 932.8,387.2 940.5,387.2 585.5,392.7 600.7,392.7 608.4,392.7 631.3,392.7 638.9,392.7 654.2,392.7 661.8,392.7 692.3,392.7 730.5,392.7 745.8,392.7 753.4,392.7 761.1,392.7 768.7,392.7 784,392.7 791.6,392.7 799.2,392.7 806.9,392.7 814.5,392.7 829.8,392.7 837.4,392.7 883.2,392.7 906.1,392.7 921.4,392.7 589.3,398.2 596.9,398.2 635.1,398.2 650.4,398.2 658,398.2 673.3,398.2 688.5,398.2 719.1,398.2 734.3,398.2 757.2,398.2 772.5,398.2 780.1,398.2 787.8,398.2 795.4,398.2 810.7,398.2 894.6,398.2 909.9,398.2 925.2,398.2 932.8,398.2 940.5,398.2 631.3,403.7 638.9,403.7 654.2,403.7 661.8,403.7 669.4,403.7 677.1,403.7 692.3,403.7 700,403.7 707.6,403.7 715.3,403.7 722.9,403.7 730.5,403.7 745.8,403.7 753.4,403.7 776.3,403.7 784,403.7 806.9,403.7 814.5,403.7 829.8,403.7 837.4,403.7 890.8,403.7 913.7,403.7 929,403.7 627.5,409.2 642.7,409.2 650.4,409.2 665.6,409.2 673.3,409.2 688.5,409.2 726.7,409.2 749.6,409.2 764.9,409.2 780.1,409.2 818.3,409.2 825.9,409.2 833.6,409.2 902.3,409.2 925.2,409.2 623.6,414.6 654.2,414.6 661.8,414.6 677.1,414.6 700,414.6 707.6,414.6 722.9,414.6 738.2,414.6 745.8,414.6 761.1,414.6 784,414.6 791.6,414.6 799.2,414.6 814.5,414.6 829.8,414.6 837.4,414.6 913.7,414.6 921.4,414.6 929,414.6 936.6,414.6 650.4,420.1 711.4,420.1 719.1,420.1 726.7,420.1 734.3,420.1 742,420.1 749.6,420.1 787.8,420.1 795.4,420.1 803,420.1 825.9,420.1 841.2,420.1 887,420.1 902.3,420.1 909.9,420.1 917.6,420.1 932.8,420.1 646.5,425.6 684.7,425.6 715.3,425.6 722.9,425.6 730.5,425.6 738.2,425.6 784,425.6 799.2,425.6 806.9,425.6 829.8,425.6 837.4,425.6 921.4,425.6 936.6,425.6 944.3,425.6 650.4,431.1 665.6,431.1 696.2,431.1 711.4,431.1 726.7,431.1 749.6,431.1 757.2,431.1 764.9,431.1 772.5,431.1 780.1,431.1 787.8,431.1 810.7,431.1 825.9,431.1 833.6,431.1 909.9,431.1 917.6,431.1 932.8,431.1 661.8,436.6 677.1,436.6 684.7,436.6 700,436.6 722.9,436.6 730.5,436.6 738.2,436.6 745.8,436.6 761.1,436.6 768.7,436.6 799.2,436.6 806.9,436.6 822.1,436.6 829.8,436.6 837.4,436.6 845,436.6 890.8,436.6 898.5,436.6 913.7,436.6 936.6,436.6 673.3,442 688.5,442 696.2,442 703.8,442 711.4,442 719.1,442 734.3,442 757.2,442 780.1,442 787.8,442 803,442 818.3,442 833.6,442 841.2,442 887,442 894.6,442 902.3,442 909.9,442 917.6,442 925.2,442 932.8,442 707.6,447.5 722.9,447.5 730.5,447.5 738.2,447.5 745.8,447.5 776.3,447.5 784,447.5 791.6,447.5 806.9,447.5 814.5,447.5 829.8,447.5 837.4,447.5 845,447.5 890.8,447.5 929,447.5 936.6,447.5 711.4,453 719.1,453 734.3,453 757.2,453 803,453 810.7,453 818.3,453 887,453 932.8,453 940.5,453 722.9,458.5 730.5,458.5 738.2,458.5 745.8,458.5 753.4,458.5 768.7,458.5 784,458.5 799.2,458.5 822.1,458.5 837.4,458.5 845,458.5 883.2,458.5 890.8,458.5 929,458.5 936.6,458.5 944.3,458.5 749.6,464 757.2,464 764.9,464 795.4,464 818.3,464 825.9,464 833.6,464 887,464 894.6,464 552.5,336.1"/><polyline class="v63" points="749.6,69.4 646.5,74.9 654.2,74.9 784,74.9 902.3,80.4 761.1,107.8 875.6,107.8 738.2,118.7 768.7,129.7 841.2,135.2 856.5,135.2 864.1,135.2 879.4,135.2 814.5,140.6 822.1,140.6 837.4,140.6 852.7,140.6 860.3,140.6 898.5,140.6 864.1,146.1 894.6,146.1 902.3,146.1 867.9,151.6 875.6,151.6 913.7,151.6 871.7,157.1 887,157.1 730.5,162.6 852.7,162.6 883.2,162.6 749.6,168 856.5,168 753.4,173.5 749.6,179 780.1,179 902.3,179 936.6,184.5 757.2,190 894.6,190 738.2,195.4 696.2,200.9 917.6,211.9 703.8,222.8 825.9,222.8 913.7,228.3 638.9,239.3 806.9,239.3 673.3,244.8 803,244.8 715.3,250.2 864.1,255.7 887,255.7 902.3,255.7 909.9,255.7 654.2,261.2 860.3,261.2 604.6,266.7 734.3,266.7 856.5,266.7 894.6,266.7 852.7,272.2 906.1,272.2 665.6,277.6 764.9,277.6 848.8,277.6 864.1,277.6 722.9,283.1 879.4,288.6 803,299.6 848.8,310.5 600.7,316 707.6,316 619.8,321.5 726.7,321.5 608.4,327 642.7,332.4 742,332.4 684.7,337.9 715.3,337.9 745.8,337.9 814.5,337.9 795.4,343.4 684.7,348.9 940.5,354.4 570.2,359.8 608.4,359.8 654.2,359.8 688.5,376.3 902.3,376.3 612.2,387.2 726.7,387.2 703.8,398.2 764.9,398.2 646.5,403.7 921.4,403.7 932.8,409.2 631.3,414.6 940.5,420.1 673.3,431.1 814.5,436.6 749.6,442 795.4,442 776.3,458.5"/><polyline class="v64" points="860.3,162.6 906.1,261.2 867.9,272.2 898.5,272.2"/><polyline class="v65" points="864.1,266.7 902.3,266.7 909.9,266.7 860.3,272.2"/></g></g>
<g transform="translate(363,652) scale(0.662844) translate(-528,-49)"><g clip-path="url(#cpb)"><rect x="528" y="49" width="440" height="440" fill="#f4e3f2"/><use href="#tB"/><use href="#tBh"/><polyline class="v40" points="627.5,69.4 635.1,69.4 642.7,69.4 650.4,69.4 673.3,69.4 680.9,69.4 688.5,69.4 703.8,69.4 711.4,69.4 719.1,69.4 742,69.4 749.6,69.4 764.9,69.4 787.8,69.4 795.4,69.4 803,69.4 810.7,69.4 818.3,69.4 825.9,69.4 833.6,69.4 848.8,69.4 856.5,69.4 864.1,69.4 871.7,69.4 631.3,74.9 638.9,74.9 669.4,74.9 677.1,74.9 684.7,74.9 692.3,74.9 700,74.9 715.3,74.9 730.5,74.9 745.8,74.9 776.3,74.9 791.6,74.9 799.2,74.9 814.5,74.9 822.1,74.9 829.8,74.9 845,74.9 860.3,74.9 875.6,74.9 883.2,74.9 696.2,80.4 703.8,80.4 711.4,80.4 719.1,80.4 757.2,80.4 772.5,80.4 825.9,80.4 841.2,80.4 848.8,80.4 856.5,80.4 864.1,80.4 879.4,80.4 887,80.4 894.6,80.4 902.3,80.4 700,85.8 707.6,85.8 722.9,85.8 776.3,85.8 875.6,85.8 883.2,85.8 890.8,85.8 898.5,85.8 703.8,91.3 719.1,91.3 742,91.3 757.2,91.3 764.9,91.3 795.4,91.3 707.6,96.8 715.3,96.8 722.9,96.8 730.5,96.8 738.2,96.8 753.4,96.8 761.1,96.8 784,96.8 791.6,96.8 799.2,96.8 806.9,96.8 829.8,96.8 742,102.3 757.2,102.3 780.1,102.3 803,102.3 818.3,102.3 825.9,102.3 833.6,102.3 841.2,102.3 856.5,102.3 753.4,107.8 761.1,107.8 768.7,107.8 776.3,107.8 791.6,107.8 799.2,107.8 837.4,107.8 845,107.8 860.3,107.8 734.3,113.2 742,113.2 749.6,113.2 764.9,113.2 780.1,113.2 810.7,113.2 818.3,113.2 825.9,113.2 856.5,113.2 864.1,113.2 871.7,113.2 887,113.2 730.5,118.7 753.4,118.7 761.1,118.7 768.7,118.7 776.3,118.7 784,118.7 791.6,118.7 799.2,118.7 806.9,118.7 814.5,118.7 822.1,118.7 829.8,118.7 845,118.7 852.7,118.7 867.9,118.7 875.6,118.7 883.2,118.7 913.7,118.7 749.6,124.2 757.2,124.2 764.9,124.2 772.5,124.2 780.1,124.2 787.8,124.2 818.3,124.2 825.9,124.2 833.6,124.2 841.2,124.2 856.5,124.2 864.1,124.2 871.7,124.2 902.3,124.2 909.9,124.2 917.6,124.2 925.2,124.2 722.9,129.7 768.7,129.7 776.3,129.7 791.6,129.7 806.9,129.7 837.4,129.7 852.7,129.7 860.3,129.7 867.9,129.7 875.6,129.7 883.2,129.7 898.5,129.7 913.7,129.7 944.3,129.7 726.7,135.2 734.3,135.2 757.2,135.2 764.9,135.2 772.5,135.2 780.1,135.2 787.8,135.2 803,135.2 810.7,135.2 825.9,135.2 833.6,135.2 848.8,135.2 864.1,135.2 871.7,135.2 879.4,135.2 887,135.2 902.3,135.2 909.9,135.2 932.8,135.2 940.5,135.2 715.3,140.6 722.9,140.6 730.5,140.6 738.2,140.6 745.8,140.6 761.1,140.6 776.3,140.6 791.6,140.6 822.1,140.6 837.4,140.6 852.7,140.6 860.3,140.6 867.9,140.6 875.6,140.6 890.8,140.6 898.5,140.6 913.7,140.6 929,140.6 936.6,140.6 944.3,140.6 711.4,146.1 749.6,146.1 757.2,146.1 764.9,146.1 780.1,146.1 787.8,146.1 795.4,146.1 803,146.1 818.3,146.1 825.9,146.1 841.2,146.1 848.8,146.1 856.5,146.1 864.1,146.1 879.4,146.1 887,146.1 894.6,146.1 902.3,146.1 909.9,146.1 925.2,146.1 932.8,146.1 940.5,146.1 948.1,146.1 715.3,151.6 722.9,151.6 730.5,151.6 745.8,151.6 761.1,151.6 768.7,151.6 776.3,151.6 791.6,151.6 799.2,151.6 806.9,151.6 814.5,151.6 829.8,151.6 837.4,151.6 845,151.6 860.3,151.6 875.6,151.6 883.2,151.6 890.8,151.6 898.5,151.6 906.1,151.6 913.7,151.6 929,151.6 936.6,151.6 944.3,151.6 703.8,157.1 711.4,157.1 719.1,157.1 726.7,157.1 734.3,157.1 742,157.1 749.6,157.1 757.2,157.1 764.9,157.1 772.5,157.1 780.1,157.1 787.8,157.1 810.7,157.1 833.6,157.1 841.2,157.1 856.5,157.1 864.1,157.1 879.4,157.1 887,157.1 925.2,157.1 932.8,157.1 707.6,162.6 715.3,162.6 738.2,162.6 753.4,162.6 768.7,162.6 776.3,162.6 799.2,162.6 845,162.6 852.7,162.6 860.3,162.6 867.9,162.6 883.2,162.6 890.8,162.6 898.5,162.6 906.1,162.6 929,162.6 936.6,162.6 944.3,162.6 711.4,168 719.1,168 734.3,168 749.6,168 757.2,168 764.9,168 772.5,168 780.1,168 787.8,168 795.4,168 803,168 825.9,168 841.2,168 848.8,168 879.4,168 887,168 894.6,168 902.3,168 948.1,168 700,173.5 722.9,173.5 730.5,173.5 738.2,173.5 745.8,173.5 753.4,173.5 761.1,173.5 776.3,173.5 799.2,173.5 806.9,173.5 814.5,173.5 822.1,173.5 845,173.5 860.3,173.5 867.9,173.5 875.6,173.5 883.2,173.5 890.8,173.5 898.5,173.5 906.1,173.5 944.3,173.5 688.5,179 696.2,179 719.1,179 726.7,179 734.3,179 757.2,179 764.9,179 795.4,179 818.3,179 825.9,179 833.6,179 841.2,179 856.5,179 864.1,179 871.7,179 879.4,179 887,179 894.6,179 692.3,184.5 700,184.5 707.6,184.5 722.9,184.5 738.2,184.5 745.8,184.5 753.4,184.5 761.1,184.5 776.3,184.5 784,184.5 791.6,184.5 806.9,184.5 814.5,184.5 822.1,184.5 829.8,184.5 845,184.5 852.7,184.5 860.3,184.5 875.6,184.5 883.2,184.5 898.5,184.5 906.1,184.5 913.7,184.5 936.6,184.5 680.9,190 688.5,190 703.8,190 719.1,190 726.7,190 742,190 749.6,190 764.9,190 787.8,190 795.4,190 803,190 810.7,190 818.3,190 833.6,190 848.8,190 879.4,190 909.9,190 917.6,190 925.2,190 932.8,190 669.4,195.4 677.1,195.4 684.7,195.4 692.3,195.4 715.3,195.4 722.9,195.4 745.8,195.4 753.4,195.4 761.1,195.4 768.7,195.4 799.2,195.4 806.9,195.4 814.5,195.4 829.8,195.4 837.4,195.4 898.5,195.4 913.7,195.4 921.4,195.4 929,195.4 944.3,195.4 665.6,200.9 703.8,200.9 719.1,200.9 726.7,200.9 734.3,200.9 757.2,200.9 764.9,200.9 772.5,200.9 780.1,200.9 803,200.9 810.7,200.9 825.9,200.9 841.2,200.9 848.8,200.9 856.5,200.9 864.1,200.9 871.7,200.9 879.4,200.9 894.6,200.9 917.6,200.9 925.2,200.9 932.8,200.9 940.5,200.9 661.8,206.4 669.4,206.4 677.1,206.4 692.3,206.4 700,206.4 715.3,206.4 730.5,206.4 761.1,206.4 776.3,206.4 791.6,206.4 799.2,206.4 806.9,206.4 814.5,206.4 829.8,206.4 867.9,206.4 890.8,206.4 898.5,206.4 906.1,206.4 913.7,206.4 936.6,206.4 665.6,211.9 673.3,211.9 680.9,211.9 688.5,211.9 703.8,211.9 734.3,211.9 749.6,211.9 772.5,211.9 787.8,211.9 803,211.9 810.7,211.9 818.3,211.9 825.9,211.9 833.6,211.9 841.2,211.9 848.8,211.9 856.5,211.9 864.1,211.9 871.7,211.9 887,211.9 894.6,211.9 902.3,211.9 909.9,211.9 917.6,211.9 925.2,211.9 948.1,211.9 661.8,217.4 684.7,217.4 715.3,217.4 722.9,217.4 730.5,217.4 738.2,217.4 768.7,217.4 776.3,217.4 784,217.4 814.5,217.4 822.1,217.4 829.8,217.4 837.4,217.4 845,217.4 867.9,217.4 875.6,217.4 883.2,217.4 890.8,217.4 898.5,217.4 906.1,217.4 913.7,217.4 921.4,217.4 929,217.4 665.6,222.8 673.3,222.8 680.9,222.8 688.5,222.8 696.2,222.8 719.1,222.8 726.7,222.8 734.3,222.8 742,222.8 757.2,222.8 780.1,222.8 787.8,222.8 795.4,222.8 810.7,222.8 818.3,222.8 825.9,222.8 833.6,222.8 841.2,222.8 856.5,222.8 879.4,222.8 902.3,222.8 917.6,222.8 932.8,222.8 940.5,222.8 948.1,222.8 669.4,228.3 677.1,228.3 700,228.3 707.6,228.3 715.3,228.3 722.9,228.3 730.5,228.3 761.1,228.3 768.7,228.3 784,228.3 791.6,228.3 799.2,228.3 806.9,228.3 814.5,228.3 822.1,228.3 829.8,228.3 837.4,228.3 845,228.3 852.7,228.3 867.9,228.3 875.6,228.3 883.2,228.3 890.8,228.3 898.5,228.3 906.1,228.3 913.7,228.3 921.4,228.3 929,228.3 936.6,228.3 944.3,228.3 658,233.8 665.6,233.8 673.3,233.8 680.9,233.8 688.5,233.8 719.1,233.8 734.3,233.8 780.1,233.8 787.8,233.8 795.4,233.8 803,233.8 810.7,233.8 818.3,233.8 825.9,233.8 833.6,233.8 841.2,233.8 848.8,233.8 864.1,233.8 871.7,233.8 879.4,233.8 894.6,233.8 902.3,233.8 909.9,233.8 925.2,233.8 608.4,239.3 623.6,239.3 631.3,239.3 654.2,239.3 661.8,239.3 669.4,239.3 677.1,239.3 684.7,239.3 692.3,239.3 707.6,239.3 715.3,239.3 722.9,239.3 730.5,239.3 738.2,239.3 761.1,239.3 768.7,239.3 776.3,239.3 791.6,239.3 799.2,239.3 806.9,239.3 814.5,239.3 822.1,239.3 829.8,239.3 867.9,239.3 875.6,239.3 883.2,239.3 890.8,239.3 898.5,239.3 906.1,239.3 921.4,239.3 604.6,244.8 612.2,244.8 619.8,244.8 642.7,244.8 650.4,244.8 658,244.8 665.6,244.8 673.3,244.8 680.9,244.8 688.5,244.8 719.1,244.8 757.2,244.8 764.9,244.8 787.8,244.8 795.4,244.8 803,244.8 818.3,244.8 825.9,244.8 879.4,244.8 887,244.8 917.6,244.8 925.2,244.8 600.7,250.2 623.6,250.2 646.5,250.2 654.2,250.2 661.8,250.2 669.4,250.2 677.1,250.2 684.7,250.2 700,250.2 707.6,250.2 715.3,250.2 730.5,250.2 738.2,250.2 761.1,250.2 768.7,250.2 776.3,250.2 784,250.2 791.6,250.2 799.2,250.2 806.9,250.2 822.1,250.2 829.8,250.2 845,250.2 860.3,250.2 867.9,250.2 875.6,250.2 883.2,250.2 890.8,250.2 898.5,250.2 635.1,255.7 642.7,255.7 650.4,255.7 658,255.7 665.6,255.7 673.3,255.7 680.9,255.7 688.5,255.7 749.6,255.7 764.9,255.7 772.5,255.7 780.1,255.7 787.8,255.7 803,255.7 810.7,255.7 818.3,255.7 825.9,255.7 833.6,255.7 841.2,255.7 848.8,255.7 856.5,255.7 864.1,255.7 879.4,255.7 894.6,255.7 902.3,255.7 909.9,255.7 917.6,255.7 925.2,255.7 616,261.2 623.6,261.2 631.3,261.2 638.9,261.2 646.5,261.2 654.2,261.2 661.8,261.2 669.4,261.2 677.1,261.2 684.7,261.2 692.3,261.2 700,261.2 722.9,261.2 730.5,261.2 768.7,261.2 799.2,261.2 814.5,261.2 822.1,261.2 837.4,261.2 845,261.2 860.3,261.2 867.9,261.2 875.6,261.2 883.2,261.2 890.8,261.2 898.5,261.2 612.2,266.7 627.5,266.7 635.1,266.7 642.7,266.7 650.4,266.7 665.6,266.7 673.3,266.7 680.9,266.7 688.5,266.7 703.8,266.7 726.7,266.7 734.3,266.7 742,266.7 757.2,266.7 787.8,266.7 810.7,266.7 825.9,266.7 833.6,266.7 841.2,266.7 848.8,266.7 856.5,266.7 871.7,266.7 887,266.7 894.6,266.7 902.3,266.7 608.4,272.2 616,272.2 623.6,272.2 631.3,272.2 638.9,272.2 646.5,272.2 661.8,272.2 669.4,272.2 677.1,272.2 684.7,272.2 692.3,272.2 700,272.2 707.6,272.2 715.3,272.2 730.5,272.2 753.4,272.2 761.1,272.2 784,272.2 799.2,272.2 829.8,272.2 837.4,272.2 867.9,272.2 875.6,272.2 883.2,272.2 898.5,272.2 906.1,272.2 913.7,272.2 604.6,277.6 612.2,277.6 619.8,277.6 627.5,277.6 635.1,277.6 642.7,277.6 650.4,277.6 658,277.6 665.6,277.6 673.3,277.6 680.9,277.6 696.2,277.6 711.4,277.6 719.1,277.6 734.3,277.6 780.1,277.6 787.8,277.6 795.4,277.6 803,277.6 810.7,277.6 818.3,277.6 833.6,277.6 841.2,277.6 848.8,277.6 879.4,277.6 894.6,277.6 917.6,277.6 600.7,283.1 608.4,283.1 616,283.1 638.9,283.1 646.5,283.1 654.2,283.1 661.8,283.1 669.4,283.1 677.1,283.1 707.6,283.1 715.3,283.1 722.9,283.1 730.5,283.1 738.2,283.1 806.9,283.1 814.5,283.1 822.1,283.1 837.4,283.1 852.7,283.1 860.3,283.1 906.1,283.1 913.7,283.1 604.6,288.6 627.5,288.6 635.1,288.6 642.7,288.6 650.4,288.6 658,288.6 665.6,288.6 673.3,288.6 703.8,288.6 711.4,288.6 719.1,288.6 742,288.6 749.6,288.6 757.2,288.6 764.9,288.6 772.5,288.6 780.1,288.6 787.8,288.6 795.4,288.6 825.9,288.6 833.6,288.6 841.2,288.6 856.5,288.6 864.1,288.6 871.7,288.6 879.4,288.6 887,288.6 894.6,288.6 608.4,294.1 616,294.1 631.3,294.1 646.5,294.1 654.2,294.1 661.8,294.1 669.4,294.1 692.3,294.1 700,294.1 715.3,294.1 745.8,294.1 761.1,294.1 776.3,294.1 806.9,294.1 829.8,294.1 845,294.1 852.7,294.1 860.3,294.1 867.9,294.1 875.6,294.1 883.2,294.1 890.8,294.1 898.5,294.1 604.6,299.6 612.2,299.6 680.9,299.6 688.5,299.6 696.2,299.6 703.8,299.6 734.3,299.6 742,299.6 749.6,299.6 757.2,299.6 772.5,299.6 780.1,299.6 825.9,299.6 833.6,299.6 841.2,299.6 864.1,299.6 871.7,299.6 879.4,299.6 887,299.6 894.6,299.6 608.4,305 616,305 623.6,305 631.3,305 638.9,305 646.5,305 654.2,305 661.8,305 692.3,305 707.6,305 715.3,305 730.5,305 768.7,305 784,305 791.6,305 799.2,305 822.1,305 845,305 860.3,305 867.9,305 875.6,305 883.2,305 944.3,305 619.8,310.5 635.1,310.5 650.4,310.5 673.3,310.5 696.2,310.5 711.4,310.5 719.1,310.5 726.7,310.5 734.3,310.5 742,310.5 757.2,310.5 772.5,310.5 780.1,310.5 795.4,310.5 810.7,310.5 833.6,310.5 841.2,310.5 848.8,310.5 856.5,310.5 864.1,310.5 871.7,310.5 879.4,310.5 940.5,310.5 593.1,316 600.7,316 608.4,316 623.6,316 631.3,316 646.5,316 654.2,316 677.1,316 692.3,316 700,316 707.6,316 715.3,316 722.9,316 730.5,316 738.2,316 745.8,316 753.4,316 761.1,316 784,316 799.2,316 806.9,316 814.5,316 829.8,316 845,316 860.3,316 867.9,316 875.6,316 936.6,316 944.3,316 589.3,321.5 596.9,321.5 604.6,321.5 619.8,321.5 627.5,321.5 642.7,321.5 650.4,321.5 665.6,321.5 673.3,321.5 680.9,321.5 688.5,321.5 703.8,321.5 711.4,321.5 719.1,321.5 726.7,321.5 734.3,321.5 742,321.5 757.2,321.5 772.5,321.5 787.8,321.5 795.4,321.5 803,321.5 810.7,321.5 818.3,321.5 833.6,321.5 841.2,321.5 848.8,321.5 856.5,321.5 864.1,321.5 871.7,321.5 932.8,321.5 940.5,321.5 585.5,327 593.1,327 600.7,327 608.4,327 616,327 623.6,327 631.3,327 646.5,327 661.8,327 677.1,327 684.7,327 700,327 707.6,327 715.3,327 722.9,327 730.5,327 738.2,327 753.4,327 761.1,327 768.7,327 784,327 791.6,327 799.2,327 829.8,327 845,327 852.7,327 860.3,327 936.6,327 944.3,327 589.3,332.4 604.6,332.4 627.5,332.4 635.1,332.4 642.7,332.4 650.4,332.4 658,332.4 688.5,332.4 696.2,332.4 703.8,332.4 711.4,332.4 719.1,332.4 726.7,332.4 734.3,332.4 742,332.4 749.6,332.4 764.9,332.4 772.5,332.4 780.1,332.4 787.8,332.4 795.4,332.4 810.7,332.4 833.6,332.4 841.2,332.4 848.8,332.4 856.5,332.4 940.5,332.4 585.5,337.9 593.1,337.9 600.7,337.9 608.4,337.9 616,337.9 623.6,337.9 631.3,337.9 654.2,337.9 661.8,337.9 684.7,337.9 700,337.9 707.6,337.9 715.3,337.9 722.9,337.9 730.5,337.9 738.2,337.9 753.4,337.9 761.1,337.9 768.7,337.9 776.3,337.9 784,337.9 791.6,337.9 806.9,337.9 837.4,337.9 852.7,337.9 581.7,343.4 589.3,343.4 596.9,343.4 604.6,343.4 612.2,343.4 619.8,343.4 627.5,343.4 635.1,343.4 642.7,343.4 658,343.4 665.6,343.4 673.3,343.4 696.2,343.4 703.8,343.4 711.4,343.4 719.1,343.4 726.7,343.4 772.5,343.4 780.1,343.4 787.8,343.4 795.4,343.4 810.7,343.4 833.6,343.4 841.2,343.4 848.8,343.4 925.2,343.4 940.5,343.4 600.7,348.9 608.4,348.9 623.6,348.9 631.3,348.9 669.4,348.9 684.7,348.9 692.3,348.9 700,348.9 715.3,348.9 722.9,348.9 730.5,348.9 738.2,348.9 745.8,348.9 753.4,348.9 761.1,348.9 776.3,348.9 814.5,348.9 822.1,348.9 852.7,348.9 921.4,348.9 936.6,348.9 944.3,348.9 574,354.4 581.7,354.4 596.9,354.4 604.6,354.4 612.2,354.4 619.8,354.4 627.5,354.4 635.1,354.4 642.7,354.4 650.4,354.4 658,354.4 665.6,354.4 688.5,354.4 703.8,354.4 711.4,354.4 719.1,354.4 734.3,354.4 749.6,354.4 772.5,354.4 787.8,354.4 795.4,354.4 803,354.4 810.7,354.4 818.3,354.4 825.9,354.4 833.6,354.4 841.2,354.4 917.6,354.4 932.8,354.4 577.8,359.8 608.4,359.8 616,359.8 623.6,359.8 631.3,359.8 638.9,359.8 654.2,359.8 669.4,359.8 707.6,359.8 722.9,359.8 738.2,359.8 753.4,359.8 761.1,359.8 768.7,359.8 784,359.8 791.6,359.8 799.2,359.8 822.1,359.8 829.8,359.8 845,359.8 929,359.8 936.6,359.8 944.3,359.8 566.4,365.3 574,365.3 581.7,365.3 589.3,365.3 596.9,365.3 604.6,365.3 612.2,365.3 619.8,365.3 627.5,365.3 635.1,365.3 650.4,365.3 658,365.3 673.3,365.3 703.8,365.3 711.4,365.3 726.7,365.3 742,365.3 749.6,365.3 764.9,365.3 772.5,365.3 803,365.3 833.6,365.3 894.6,365.3 917.6,365.3 925.2,365.3 932.8,365.3 940.5,365.3 570.2,370.8 577.8,370.8 593.1,370.8 600.7,370.8 608.4,370.8 616,370.8 623.6,370.8 631.3,370.8 684.7,370.8 692.3,370.8 707.6,370.8 722.9,370.8 738.2,370.8 753.4,370.8 761.1,370.8 768.7,370.8 776.3,370.8 791.6,370.8 799.2,370.8 898.5,370.8 906.1,370.8 921.4,370.8 929,370.8 936.6,370.8 944.3,370.8 581.7,376.3 596.9,376.3 604.6,376.3 619.8,376.3 627.5,376.3 635.1,376.3 642.7,376.3 650.4,376.3 658,376.3 680.9,376.3 711.4,376.3 726.7,376.3 749.6,376.3 757.2,376.3 764.9,376.3 772.5,376.3 780.1,376.3 787.8,376.3 795.4,376.3 803,376.3 818.3,376.3 825.9,376.3 894.6,376.3 917.6,376.3 925.2,376.3 932.8,376.3 940.5,376.3 570.2,381.8 577.8,381.8 593.1,381.8 608.4,381.8 616,381.8 623.6,381.8 631.3,381.8 646.5,381.8 654.2,381.8 661.8,381.8 684.7,381.8 692.3,381.8 722.9,381.8 738.2,381.8 745.8,381.8 753.4,381.8 768.7,381.8 776.3,381.8 784,381.8 799.2,381.8 806.9,381.8 837.4,381.8 890.8,381.8 921.4,381.8 929,381.8 944.3,381.8 574,387.2 581.7,387.2 596.9,387.2 612.2,387.2 635.1,387.2 642.7,387.2 696.2,387.2 711.4,387.2 719.1,387.2 726.7,387.2 734.3,387.2 757.2,387.2 764.9,387.2 803,387.2 810.7,387.2 818.3,387.2 825.9,387.2 879.4,387.2 887,387.2 894.6,387.2 902.3,387.2 909.9,387.2 917.6,387.2 925.2,387.2 932.8,387.2 940.5,387.2 577.8,392.7 585.5,392.7 593.1,392.7 600.7,392.7 608.4,392.7 616,392.7 623.6,392.7 631.3,392.7 638.9,392.7 646.5,392.7 654.2,392.7 661.8,392.7 677.1,392.7 707.6,392.7 738.2,392.7 745.8,392.7 761.1,392.7 768.7,392.7 776.3,392.7 784,392.7 791.6,392.7 814.5,392.7 822.1,392.7 829.8,392.7 837.4,392.7 883.2,392.7 898.5,392.7 906.1,392.7 921.4,392.7 929,392.7 936.6,392.7 589.3,398.2 596.9,398.2 604.6,398.2 612.2,398.2 627.5,398.2 635.1,398.2 642.7,398.2 650.4,398.2 658,398.2 688.5,398.2 696.2,398.2 711.4,398.2 742,398.2 749.6,398.2 757.2,398.2 764.9,398.2 772.5,398.2 787.8,398.2 795.4,398.2 803,398.2 810.7,398.2 825.9,398.2 833.6,398.2 879.4,398.2 887,398.2 894.6,398.2 902.3,398.2 917.6,398.2 925.2,398.2 932.8,398.2 940.5,398.2 600.7,403.7 608.4,403.7 623.6,403.7 631.3,403.7 638.9,403.7 646.5,403.7 654.2,403.7 661.8,403.7 669.4,403.7 677.1,403.7 684.7,403.7 692.3,403.7 700,403.7 707.6,403.7 722.9,403.7 738.2,403.7 745.8,403.7 753.4,403.7 768.7,403.7 784,403.7 791.6,403.7 799.2,403.7 806.9,403.7 822.1,403.7 829.8,403.7 837.4,403.7 906.1,403.7 913.7,403.7 921.4,403.7 929,403.7 936.6,403.7 944.3,403.7 612.2,409.2 642.7,409.2 650.4,409.2 658,409.2 665.6,409.2 673.3,409.2 680.9,409.2 688.5,409.2 696.2,409.2 703.8,409.2 711.4,409.2 726.7,409.2 749.6,409.2 764.9,409.2 772.5,409.2 780.1,409.2 787.8,409.2 795.4,409.2 803,409.2 810.7,409.2 818.3,409.2 825.9,409.2 833.6,409.2 887,409.2 917.6,409.2 932.8,409.2 623.6,414.6 631.3,414.6 638.9,414.6 646.5,414.6 654.2,414.6 661.8,414.6 669.4,414.6 677.1,414.6 684.7,414.6 700,414.6 768.7,414.6 776.3,414.6 791.6,414.6 799.2,414.6 806.9,414.6 814.5,414.6 822.1,414.6 829.8,414.6 837.4,414.6 890.8,414.6 906.1,414.6 913.7,414.6 929,414.6 936.6,414.6 635.1,420.1 642.7,420.1 650.4,420.1 658,420.1 665.6,420.1 673.3,420.1 696.2,420.1 734.3,420.1 742,420.1 749.6,420.1 772.5,420.1 780.1,420.1 795.4,420.1 803,420.1 825.9,420.1 841.2,420.1 902.3,420.1 909.9,420.1 940.5,420.1 638.9,425.6 646.5,425.6 661.8,425.6 669.4,425.6 677.1,425.6 684.7,425.6 692.3,425.6 707.6,425.6 715.3,425.6 722.9,425.6 745.8,425.6 753.4,425.6 768.7,425.6 776.3,425.6 791.6,425.6 806.9,425.6 814.5,425.6 822.1,425.6 829.8,425.6 845,425.6 890.8,425.6 921.4,425.6 929,425.6 936.6,425.6 650.4,431.1 658,431.1 665.6,431.1 673.3,431.1 680.9,431.1 696.2,431.1 703.8,431.1 711.4,431.1 726.7,431.1 734.3,431.1 742,431.1 780.1,431.1 787.8,431.1 795.4,431.1 810.7,431.1 818.3,431.1 841.2,431.1 887,431.1 894.6,431.1 902.3,431.1 909.9,431.1 925.2,431.1 932.8,431.1 661.8,436.6 669.4,436.6 677.1,436.6 684.7,436.6 707.6,436.6 722.9,436.6 738.2,436.6 745.8,436.6 753.4,436.6 784,436.6 791.6,436.6 799.2,436.6 814.5,436.6 822.1,436.6 829.8,436.6 837.4,436.6 890.8,436.6 906.1,436.6 913.7,436.6 921.4,436.6 929,436.6 944.3,436.6 673.3,442 680.9,442 688.5,442 696.2,442 703.8,442 719.1,442 726.7,442 734.3,442 742,442 772.5,442 780.1,442 787.8,442 795.4,442 825.9,442 833.6,442 841.2,442 887,442 894.6,442 902.3,442 909.9,442 925.2,442 932.8,442 940.5,442 700,447.5 715.3,447.5 722.9,447.5 753.4,447.5 784,447.5 791.6,447.5 799.2,447.5 806.9,447.5 837.4,447.5 890.8,447.5 898.5,447.5 906.1,447.5 719.1,453 734.3,453 749.6,453 757.2,453 764.9,453 787.8,453 803,453 810.7,453 825.9,453 833.6,453 841.2,453 879.4,453 940.5,453 722.9,458.5 738.2,458.5 745.8,458.5 753.4,458.5 761.1,458.5 768.7,458.5 776.3,458.5 799.2,458.5 814.5,458.5 822.1,458.5 829.8,458.5 845,458.5 875.6,458.5 929,458.5 742,464 764.9,464 772.5,464 780.1,464 810.7,464 818.3,464 825.9,464 833.6,464 841.2,464 887,464 894.6,464 548.7,341.6 552.5,336.1 556.2,342.3 560,336.6 563,331.1"/><polyline class="v41" points="658,69.4 665.6,69.4 726.7,69.4 734.3,69.4 757.2,69.4 772.5,69.4 780.1,69.4 879.4,69.4 646.5,74.9 661.8,74.9 707.6,74.9 722.9,74.9 738.2,74.9 753.4,74.9 761.1,74.9 784,74.9 806.9,74.9 867.9,74.9 726.7,80.4 734.3,80.4 742,80.4 749.6,80.4 764.9,80.4 871.7,80.4 715.3,85.8 867.9,85.8 726.7,91.3 749.6,91.3 772.5,91.3 780.1,91.3 787.8,91.3 745.8,96.8 768.7,96.8 776.3,96.8 814.5,96.8 822.1,96.8 749.6,102.3 764.9,102.3 772.5,102.3 787.8,102.3 795.4,102.3 810.7,102.3 848.8,102.3 738.2,107.8 784,107.8 806.9,107.8 814.5,107.8 822.1,107.8 829.8,107.8 852.7,107.8 867.9,107.8 875.6,107.8 757.2,113.2 772.5,113.2 787.8,113.2 795.4,113.2 803,113.2 841.2,113.2 848.8,113.2 879.4,113.2 738.2,118.7 745.8,118.7 837.4,118.7 860.3,118.7 906.1,118.7 726.7,124.2 734.3,124.2 742,124.2 795.4,124.2 803,124.2 810.7,124.2 848.8,124.2 879.4,124.2 887,124.2 730.5,129.7 738.2,129.7 753.4,129.7 761.1,129.7 784,129.7 799.2,129.7 814.5,129.7 822.1,129.7 906.1,129.7 936.6,129.7 719.1,135.2 742,135.2 749.6,135.2 795.4,135.2 818.3,135.2 841.2,135.2 856.5,135.2 894.6,135.2 948.1,135.2 753.4,140.6 784,140.6 799.2,140.6 806.9,140.6 814.5,140.6 829.8,140.6 845,140.6 883.2,140.6 906.1,140.6 719.1,146.1 726.7,146.1 742,146.1 810.7,146.1 871.7,146.1 707.6,151.6 738.2,151.6 753.4,151.6 784,151.6 822.1,151.6 852.7,151.6 867.9,151.6 795.4,157.1 803,157.1 818.3,157.1 825.9,157.1 848.8,157.1 871.7,157.1 940.5,157.1 948.1,157.1 700,162.6 722.9,162.6 730.5,162.6 761.1,162.6 784,162.6 791.6,162.6 806.9,162.6 822.1,162.6 829.8,162.6 837.4,162.6 875.6,162.6 696.2,168 726.7,168 742,168 818.3,168 833.6,168 856.5,168 864.1,168 871.7,168 940.5,168 692.3,173.5 707.6,173.5 715.3,173.5 768.7,173.5 784,173.5 791.6,173.5 829.8,173.5 837.4,173.5 852.7,173.5 703.8,179 711.4,179 742,179 749.6,179 772.5,179 780.1,179 787.8,179 803,179 810.7,179 848.8,179 684.7,184.5 715.3,184.5 730.5,184.5 799.2,184.5 837.4,184.5 867.9,184.5 890.8,184.5 921.4,184.5 929,184.5 944.3,184.5 696.2,190 711.4,190 734.3,190 757.2,190 772.5,190 780.1,190 825.9,190 841.2,190 856.5,190 864.1,190 871.7,190 887,190 894.6,190 902.3,190 940.5,190 948.1,190 700,195.4 707.6,195.4 730.5,195.4 738.2,195.4 776.3,195.4 784,195.4 791.6,195.4 822.1,195.4 845,195.4 852.7,195.4 860.3,195.4 867.9,195.4 875.6,195.4 883.2,195.4 890.8,195.4 906.1,195.4 936.6,195.4 673.3,200.9 680.9,200.9 688.5,200.9 696.2,200.9 711.4,200.9 742,200.9 749.6,200.9 787.8,200.9 795.4,200.9 818.3,200.9 833.6,200.9 887,200.9 902.3,200.9 909.9,200.9 948.1,200.9 684.7,206.4 707.6,206.4 722.9,206.4 738.2,206.4 745.8,206.4 753.4,206.4 768.7,206.4 784,206.4 837.4,206.4 845,206.4 852.7,206.4 860.3,206.4 875.6,206.4 883.2,206.4 921.4,206.4 929,206.4 944.3,206.4 658,211.9 696.2,211.9 711.4,211.9 719.1,211.9 726.7,211.9 742,211.9 757.2,211.9 764.9,211.9 780.1,211.9 795.4,211.9 879.4,211.9 940.5,211.9 669.4,217.4 692.3,217.4 700,217.4 707.6,217.4 745.8,217.4 753.4,217.4 761.1,217.4 791.6,217.4 799.2,217.4 806.9,217.4 852.7,217.4 860.3,217.4 936.6,217.4 944.3,217.4 703.8,222.8 711.4,222.8 749.6,222.8 764.9,222.8 772.5,222.8 803,222.8 848.8,222.8 864.1,222.8 871.7,222.8 887,222.8 894.6,222.8 925.2,222.8 661.8,228.3 684.7,228.3 692.3,228.3 738.2,228.3 745.8,228.3 753.4,228.3 776.3,228.3 860.3,228.3 650.4,233.8 696.2,233.8 703.8,233.8 711.4,233.8 726.7,233.8 742,233.8 749.6,233.8 757.2,233.8 764.9,233.8 772.5,233.8 856.5,233.8 887,233.8 917.6,233.8 932.8,233.8 616,239.3 638.9,239.3 646.5,239.3 700,239.3 745.8,239.3 753.4,239.3 784,239.3 837.4,239.3 845,239.3 852.7,239.3 860.3,239.3 627.5,244.8 635.1,244.8 696.2,244.8 703.8,244.8 711.4,244.8 742,244.8 749.6,244.8 772.5,244.8 780.1,244.8 810.7,244.8 833.6,244.8 841.2,244.8 848.8,244.8 856.5,244.8 864.1,244.8 871.7,244.8 894.6,244.8 902.3,244.8 909.9,244.8 932.8,244.8 608.4,250.2 631.3,250.2 638.9,250.2 692.3,250.2 722.9,250.2 814.5,250.2 837.4,250.2 852.7,250.2 906.1,250.2 913.7,250.2 921.4,250.2 929,250.2 604.6,255.7 612.2,255.7 619.8,255.7 696.2,255.7 703.8,255.7 719.1,255.7 726.7,255.7 734.3,255.7 757.2,255.7 871.7,255.7 608.4,261.2 707.6,261.2 715.3,261.2 738.2,261.2 745.8,261.2 761.1,261.2 776.3,261.2 784,261.2 791.6,261.2 806.9,261.2 852.7,261.2 906.1,261.2 921.4,261.2 604.6,266.7 619.8,266.7 658,266.7 696.2,266.7 711.4,266.7 719.1,266.7 749.6,266.7 764.9,266.7 772.5,266.7 780.1,266.7 795.4,266.7 803,266.7 818.3,266.7 864.1,266.7 879.4,266.7 909.9,266.7 917.6,266.7 654.2,272.2 722.9,272.2 738.2,272.2 745.8,272.2 768.7,272.2 776.3,272.2 791.6,272.2 806.9,272.2 814.5,272.2 822.1,272.2 845,272.2 852.7,272.2 860.3,272.2 890.8,272.2 921.4,272.2 688.5,277.6 703.8,277.6 726.7,277.6 742,277.6 749.6,277.6 757.2,277.6 764.9,277.6 772.5,277.6 825.9,277.6 856.5,277.6 864.1,277.6 871.7,277.6 902.3,277.6 909.9,277.6 623.6,283.1 631.3,283.1 684.7,283.1 692.3,283.1 700,283.1 745.8,283.1 753.4,283.1 761.1,283.1 768.7,283.1 776.3,283.1 784,283.1 791.6,283.1 799.2,283.1 829.8,283.1 867.9,283.1 875.6,283.1 883.2,283.1 890.8,283.1 898.5,283.1 612.2,288.6 619.8,288.6 680.9,288.6 688.5,288.6 696.2,288.6 726.7,288.6 734.3,288.6 803,288.6 810.7,288.6 818.3,288.6 848.8,288.6 902.3,288.6 909.9,288.6 600.7,294.1 623.6,294.1 638.9,294.1 677.1,294.1 684.7,294.1 707.6,294.1 722.9,294.1 730.5,294.1 738.2,294.1 753.4,294.1 768.7,294.1 784,294.1 791.6,294.1 799.2,294.1 814.5,294.1 822.1,294.1 837.4,294.1 906.1,294.1 619.8,299.6 627.5,299.6 635.1,299.6 650.4,299.6 658,299.6 665.6,299.6 673.3,299.6 711.4,299.6 719.1,299.6 726.7,299.6 764.9,299.6 787.8,299.6 795.4,299.6 803,299.6 810.7,299.6 818.3,299.6 848.8,299.6 856.5,299.6 600.7,305 669.4,305 677.1,305 684.7,305 700,305 722.9,305 738.2,305 745.8,305 753.4,305 761.1,305 776.3,305 806.9,305 814.5,305 829.8,305 596.9,310.5 604.6,310.5 612.2,310.5 627.5,310.5 642.7,310.5 658,310.5 665.6,310.5 680.9,310.5 688.5,310.5 703.8,310.5 749.6,310.5 764.9,310.5 803,310.5 825.9,310.5 616,316 638.9,316 661.8,316 669.4,316 684.7,316 768.7,316 776.3,316 822.1,316 837.4,316 852.7,316 612.2,321.5 658,321.5 696.2,321.5 749.6,321.5 764.9,321.5 780.1,321.5 825.9,321.5 669.4,327 692.3,327 745.8,327 806.9,327 814.5,327 822.1,327 837.4,327 596.9,332.4 612.2,332.4 619.8,332.4 665.6,332.4 673.3,332.4 680.9,332.4 757.2,332.4 803,332.4 818.3,332.4 825.9,332.4 932.8,332.4 638.9,337.9 646.5,337.9 669.4,337.9 677.1,337.9 692.3,337.9 745.8,337.9 799.2,337.9 814.5,337.9 822.1,337.9 829.8,337.9 845,337.9 929,337.9 944.3,337.9 650.4,343.4 680.9,343.4 688.5,343.4 734.3,343.4 742,343.4 749.6,343.4 757.2,343.4 764.9,343.4 803,343.4 818.3,343.4 825.9,343.4 932.8,343.4 577.8,348.9 585.5,348.9 593.1,348.9 616,348.9 638.9,348.9 646.5,348.9 654.2,348.9 661.8,348.9 677.1,348.9 707.6,348.9 768.7,348.9 784,348.9 791.6,348.9 799.2,348.9 806.9,348.9 829.8,348.9 837.4,348.9 845,348.9 929,348.9 589.3,354.4 673.3,354.4 680.9,354.4 696.2,354.4 726.7,354.4 742,354.4 757.2,354.4 764.9,354.4 780.1,354.4 848.8,354.4 925.2,354.4 940.5,354.4 570.2,359.8 585.5,359.8 593.1,359.8 600.7,359.8 646.5,359.8 661.8,359.8 677.1,359.8 684.7,359.8 692.3,359.8 700,359.8 715.3,359.8 730.5,359.8 745.8,359.8 776.3,359.8 806.9,359.8 814.5,359.8 837.4,359.8 921.4,359.8 642.7,365.3 665.6,365.3 680.9,365.3 688.5,365.3 696.2,365.3 719.1,365.3 734.3,365.3 757.2,365.3 780.1,365.3 787.8,365.3 810.7,365.3 818.3,365.3 825.9,365.3 841.2,365.3 902.3,365.3 585.5,370.8 638.9,370.8 646.5,370.8 654.2,370.8 661.8,370.8 669.4,370.8 677.1,370.8 700,370.8 715.3,370.8 730.5,370.8 745.8,370.8 784,370.8 814.5,370.8 822.1,370.8 829.8,370.8 837.4,370.8 913.7,370.8 566.4,376.3 574,376.3 589.3,376.3 612.2,376.3 665.6,376.3 673.3,376.3 688.5,376.3 696.2,376.3 703.8,376.3 719.1,376.3 734.3,376.3 742,376.3 810.7,376.3 833.6,376.3 841.2,376.3 902.3,376.3 909.9,376.3 585.5,381.8 600.7,381.8 638.9,381.8 669.4,381.8 677.1,381.8 700,381.8 707.6,381.8 715.3,381.8 730.5,381.8 761.1,381.8 791.6,381.8 814.5,381.8 822.1,381.8 829.8,381.8 898.5,381.8 906.1,381.8 913.7,381.8 589.3,387.2 604.6,387.2 619.8,387.2 627.5,387.2 650.4,387.2 658,387.2 665.6,387.2 673.3,387.2 680.9,387.2 688.5,387.2 703.8,387.2 742,387.2 749.6,387.2 772.5,387.2 780.1,387.2 787.8,387.2 795.4,387.2 833.6,387.2 669.4,392.7 684.7,392.7 692.3,392.7 700,392.7 715.3,392.7 730.5,392.7 753.4,392.7 799.2,392.7 806.9,392.7 890.8,392.7 944.3,392.7 619.8,398.2 665.6,398.2 673.3,398.2 680.9,398.2 703.8,398.2 719.1,398.2 726.7,398.2 734.3,398.2 780.1,398.2 818.3,398.2 909.9,398.2 616,403.7 715.3,403.7 730.5,403.7 761.1,403.7 776.3,403.7 814.5,403.7 619.8,409.2 627.5,409.2 635.1,409.2 719.1,409.2 734.3,409.2 742,409.2 757.2,409.2 902.3,409.2 909.9,409.2 925.2,409.2 940.5,409.2 616,414.6 692.3,414.6 707.6,414.6 715.3,414.6 722.9,414.6 730.5,414.6 738.2,414.6 745.8,414.6 753.4,414.6 761.1,414.6 784,414.6 921.4,414.6 944.3,414.6 627.5,420.1 688.5,420.1 703.8,420.1 711.4,420.1 719.1,420.1 757.2,420.1 764.9,420.1 787.8,420.1 810.7,420.1 818.3,420.1 833.6,420.1 887,420.1 894.6,420.1 917.6,420.1 925.2,420.1 654.2,425.6 700,425.6 730.5,425.6 738.2,425.6 784,425.6 799.2,425.6 837.4,425.6 906.1,425.6 913.7,425.6 944.3,425.6 688.5,431.1 719.1,431.1 749.6,431.1 757.2,431.1 764.9,431.1 772.5,431.1 803,431.1 825.9,431.1 833.6,431.1 917.6,431.1 940.5,431.1 692.3,436.6 700,436.6 715.3,436.6 730.5,436.6 761.1,436.6 768.7,436.6 776.3,436.6 806.9,436.6 845,436.6 898.5,436.6 936.6,436.6 711.4,442 749.6,442 757.2,442 764.9,442 803,442 810.7,442 818.3,442 917.6,442 692.3,447.5 707.6,447.5 738.2,447.5 745.8,447.5 768.7,447.5 776.3,447.5 814.5,447.5 829.8,447.5 929,447.5 936.6,447.5 944.3,447.5 711.4,453 726.7,453 742,453 772.5,453 780.1,453 795.4,453 887,453 925.2,453 932.8,453 730.5,458.5 784,458.5 791.6,458.5 837.4,458.5 883.2,458.5 890.8,458.5 936.6,458.5 944.3,458.5 749.6,464 757.2,464 787.8,464 795.4,464 803,464 879.4,464 864.1,392.3"/><polyline class="v42" points="696.2,69.4 654.2,74.9 768.7,74.9 852.7,74.9 833.6,80.4 711.4,91.3 745.8,107.8 833.6,113.2 745.8,129.7 829.8,129.7 845,129.7 734.3,146.1 833.6,146.1 745.8,162.6 814.5,162.6 703.8,168 810.7,168 902.3,179 768.7,184.5 822.1,206.4 932.8,211.9 677.1,217.4 909.9,222.8 913.7,239.3 616,250.2 627.5,255.7 711.4,255.7 742,255.7 795.4,255.7 887,255.7 753.4,261.2 829.8,261.2 913.7,261.2 925.2,266.7 887,277.6 845,283.1 642.7,299.6 837.4,305 852.7,305 787.8,310.5 818.3,310.5 791.6,316 635.1,321.5 638.9,327 654.2,327 776.3,327 936.6,337.9 795.4,365.3 806.9,370.8 936.6,381.8 722.9,392.7 913.7,392.7 680.9,420.1 726.7,420.1 932.8,420.1 761.1,425.6 730.5,447.5 761.1,447.5 822.1,447.5 845,447.5 806.9,458.5"/><polyline class="v43" points="841.2,69.4 837.4,74.9 890.8,403.7 898.5,403.7 894.6,409.2 818.3,453"/></g></g>
<g transform="translate(676,652) scale(0.662844) translate(-528,-49)"><g clip-path="url(#cpb)"><rect x="528" y="49" width="440" height="440" fill="#f4e3f2"/><use href="#tB"/><use href="#tBh"/><polyline class="v40" points="627.5,69.4 650.4,69.4 665.6,69.4 673.3,69.4 680.9,69.4 688.5,69.4 696.2,69.4 749.6,69.4 757.2,69.4 764.9,69.4 772.5,69.4 787.8,69.4 795.4,69.4 803,69.4 810.7,69.4 818.3,69.4 833.6,69.4 841.2,69.4 848.8,69.4 856.5,69.4 879.4,69.4 631.3,74.9 638.9,74.9 654.2,74.9 661.8,74.9 677.1,74.9 684.7,74.9 692.3,74.9 700,74.9 715.3,74.9 722.9,74.9 738.2,74.9 753.4,74.9 768.7,74.9 776.3,74.9 784,74.9 791.6,74.9 799.2,74.9 806.9,74.9 814.5,74.9 829.8,74.9 837.4,74.9 852.7,74.9 860.3,74.9 867.9,74.9 703.8,80.4 726.7,80.4 734.3,80.4 772.5,80.4 825.9,80.4 833.6,80.4 841.2,80.4 879.4,80.4 887,80.4 894.6,80.4 902.3,80.4 707.6,85.8 722.9,85.8 776.3,85.8 875.6,85.8 890.8,85.8 703.8,91.3 711.4,91.3 726.7,91.3 742,91.3 772.5,91.3 780.1,91.3 787.8,91.3 795.4,91.3 707.6,96.8 715.3,96.8 730.5,96.8 738.2,96.8 745.8,96.8 784,96.8 791.6,96.8 799.2,96.8 806.9,96.8 814.5,96.8 822.1,96.8 829.8,96.8 742,102.3 749.6,102.3 757.2,102.3 764.9,102.3 772.5,102.3 803,102.3 810.7,102.3 825.9,102.3 833.6,102.3 745.8,107.8 806.9,107.8 837.4,107.8 867.9,107.8 742,113.2 764.9,113.2 780.1,113.2 795.4,113.2 803,113.2 810.7,113.2 818.3,113.2 856.5,113.2 864.1,113.2 871.7,113.2 745.8,118.7 768.7,118.7 776.3,118.7 799.2,118.7 806.9,118.7 829.8,118.7 852.7,118.7 860.3,118.7 875.6,118.7 883.2,118.7 913.7,118.7 742,124.2 749.6,124.2 757.2,124.2 772.5,124.2 780.1,124.2 787.8,124.2 803,124.2 818.3,124.2 833.6,124.2 856.5,124.2 871.7,124.2 879.4,124.2 902.3,124.2 917.6,124.2 925.2,124.2 722.9,129.7 738.2,129.7 745.8,129.7 753.4,129.7 761.1,129.7 784,129.7 799.2,129.7 822.1,129.7 867.9,129.7 875.6,129.7 906.1,129.7 913.7,129.7 936.6,129.7 749.6,135.2 757.2,135.2 764.9,135.2 780.1,135.2 810.7,135.2 848.8,135.2 856.5,135.2 864.1,135.2 879.4,135.2 887,135.2 940.5,135.2 948.1,135.2 715.3,140.6 730.5,140.6 738.2,140.6 753.4,140.6 761.1,140.6 776.3,140.6 791.6,140.6 799.2,140.6 814.5,140.6 837.4,140.6 852.7,140.6 867.9,140.6 906.1,140.6 913.7,140.6 936.6,140.6 944.3,140.6 719.1,146.1 734.3,146.1 749.6,146.1 757.2,146.1 764.9,146.1 780.1,146.1 810.7,146.1 818.3,146.1 841.2,146.1 856.5,146.1 864.1,146.1 909.9,146.1 925.2,146.1 932.8,146.1 940.5,146.1 738.2,151.6 745.8,151.6 768.7,151.6 791.6,151.6 806.9,151.6 852.7,151.6 860.3,151.6 883.2,151.6 890.8,151.6 898.5,151.6 913.7,151.6 929,151.6 936.6,151.6 944.3,151.6 742,157.1 749.6,157.1 757.2,157.1 764.9,157.1 772.5,157.1 795.4,157.1 810.7,157.1 818.3,157.1 833.6,157.1 841.2,157.1 948.1,157.1 707.6,162.6 715.3,162.6 738.2,162.6 753.4,162.6 761.1,162.6 768.7,162.6 784,162.6 791.6,162.6 806.9,162.6 814.5,162.6 822.1,162.6 837.4,162.6 852.7,162.6 867.9,162.6 883.2,162.6 898.5,162.6 929,162.6 944.3,162.6 696.2,168 719.1,168 726.7,168 734.3,168 742,168 749.6,168 757.2,168 764.9,168 772.5,168 780.1,168 787.8,168 818.3,168 825.9,168 841.2,168 848.8,168 856.5,168 864.1,168 871.7,168 887,168 940.5,168 948.1,168 692.3,173.5 730.5,173.5 738.2,173.5 745.8,173.5 753.4,173.5 768.7,173.5 784,173.5 791.6,173.5 814.5,173.5 837.4,173.5 852.7,173.5 860.3,173.5 890.8,173.5 906.1,173.5 944.3,173.5 688.5,179 719.1,179 734.3,179 742,179 749.6,179 757.2,179 764.9,179 772.5,179 780.1,179 803,179 810.7,179 818.3,179 825.9,179 833.6,179 841.2,179 848.8,179 856.5,179 864.1,179 879.4,179 887,179 894.6,179 902.3,179 700,184.5 715.3,184.5 722.9,184.5 730.5,184.5 738.2,184.5 745.8,184.5 753.4,184.5 768.7,184.5 791.6,184.5 799.2,184.5 814.5,184.5 822.1,184.5 829.8,184.5 837.4,184.5 852.7,184.5 860.3,184.5 883.2,184.5 890.8,184.5 913.7,184.5 921.4,184.5 929,184.5 936.6,184.5 719.1,190 726.7,190 734.3,190 749.6,190 757.2,190 764.9,190 772.5,190 787.8,190 803,190 818.3,190 833.6,190 841.2,190 848.8,190 864.1,190 879.4,190 894.6,190 902.3,190 909.9,190 917.6,190 925.2,190 932.8,190 940.5,190 948.1,190 677.1,195.4 684.7,195.4 700,195.4 715.3,195.4 730.5,195.4 738.2,195.4 753.4,195.4 761.1,195.4 776.3,195.4 784,195.4 791.6,195.4 799.2,195.4 822.1,195.4 829.8,195.4 837.4,195.4 852.7,195.4 875.6,195.4 883.2,195.4 906.1,195.4 921.4,195.4 929,195.4 936.6,195.4 944.3,195.4 665.6,200.9 673.3,200.9 719.1,200.9 726.7,200.9 742,200.9 764.9,200.9 772.5,200.9 795.4,200.9 803,200.9 810.7,200.9 825.9,200.9 833.6,200.9 841.2,200.9 848.8,200.9 879.4,200.9 894.6,200.9 917.6,200.9 925.2,200.9 932.8,200.9 940.5,200.9 948.1,200.9 661.8,206.4 677.1,206.4 684.7,206.4 700,206.4 715.3,206.4 730.5,206.4 738.2,206.4 745.8,206.4 753.4,206.4 761.1,206.4 776.3,206.4 791.6,206.4 814.5,206.4 822.1,206.4 829.8,206.4 837.4,206.4 845,206.4 852.7,206.4 860.3,206.4 898.5,206.4 906.1,206.4 913.7,206.4 921.4,206.4 929,206.4 936.6,206.4 944.3,206.4 658,211.9 665.6,211.9 673.3,211.9 680.9,211.9 688.5,211.9 696.2,211.9 703.8,211.9 719.1,211.9 734.3,211.9 742,211.9 749.6,211.9 757.2,211.9 764.9,211.9 772.5,211.9 780.1,211.9 787.8,211.9 818.3,211.9 825.9,211.9 833.6,211.9 841.2,211.9 848.8,211.9 856.5,211.9 871.7,211.9 879.4,211.9 894.6,211.9 909.9,211.9 917.6,211.9 925.2,211.9 932.8,211.9 940.5,211.9 661.8,217.4 692.3,217.4 707.6,217.4 715.3,217.4 730.5,217.4 738.2,217.4 745.8,217.4 753.4,217.4 768.7,217.4 776.3,217.4 799.2,217.4 806.9,217.4 822.1,217.4 837.4,217.4 845,217.4 852.7,217.4 860.3,217.4 867.9,217.4 875.6,217.4 883.2,217.4 921.4,217.4 936.6,217.4 944.3,217.4 673.3,222.8 688.5,222.8 703.8,222.8 711.4,222.8 719.1,222.8 726.7,222.8 734.3,222.8 742,222.8 749.6,222.8 757.2,222.8 764.9,222.8 780.1,222.8 787.8,222.8 795.4,222.8 818.3,222.8 825.9,222.8 833.6,222.8 879.4,222.8 894.6,222.8 909.9,222.8 917.6,222.8 925.2,222.8 932.8,222.8 948.1,222.8 669.4,228.3 677.1,228.3 684.7,228.3 692.3,228.3 722.9,228.3 730.5,228.3 738.2,228.3 745.8,228.3 753.4,228.3 768.7,228.3 784,228.3 791.6,228.3 799.2,228.3 806.9,228.3 822.1,228.3 829.8,228.3 845,228.3 852.7,228.3 898.5,228.3 929,228.3 944.3,228.3 673.3,233.8 688.5,233.8 696.2,233.8 719.1,233.8 726.7,233.8 734.3,233.8 742,233.8 749.6,233.8 787.8,233.8 795.4,233.8 803,233.8 810.7,233.8 818.3,233.8 825.9,233.8 833.6,233.8 841.2,233.8 848.8,233.8 871.7,233.8 879.4,233.8 887,233.8 894.6,233.8 902.3,233.8 925.2,233.8 608.4,239.3 616,239.3 623.6,239.3 638.9,239.3 646.5,239.3 677.1,239.3 692.3,239.3 700,239.3 707.6,239.3 715.3,239.3 722.9,239.3 730.5,239.3 738.2,239.3 753.4,239.3 761.1,239.3 768.7,239.3 776.3,239.3 784,239.3 791.6,239.3 799.2,239.3 806.9,239.3 822.1,239.3 829.8,239.3 845,239.3 852.7,239.3 860.3,239.3 867.9,239.3 890.8,239.3 898.5,239.3 906.1,239.3 913.7,239.3 921.4,239.3 604.6,244.8 612.2,244.8 658,244.8 665.6,244.8 680.9,244.8 688.5,244.8 703.8,244.8 711.4,244.8 742,244.8 757.2,244.8 772.5,244.8 803,244.8 818.3,244.8 825.9,244.8 841.2,244.8 848.8,244.8 856.5,244.8 871.7,244.8 879.4,244.8 894.6,244.8 902.3,244.8 909.9,244.8 917.6,244.8 925.2,244.8 932.8,244.8 600.7,250.2 608.4,250.2 616,250.2 623.6,250.2 638.9,250.2 646.5,250.2 654.2,250.2 677.1,250.2 684.7,250.2 700,250.2 707.6,250.2 715.3,250.2 722.9,250.2 730.5,250.2 761.1,250.2 768.7,250.2 776.3,250.2 791.6,250.2 806.9,250.2 814.5,250.2 822.1,250.2 829.8,250.2 845,250.2 852.7,250.2 867.9,250.2 898.5,250.2 906.1,250.2 929,250.2 604.6,255.7 612.2,255.7 619.8,255.7 635.1,255.7 642.7,255.7 650.4,255.7 658,255.7 673.3,255.7 688.5,255.7 703.8,255.7 719.1,255.7 726.7,255.7 734.3,255.7 742,255.7 749.6,255.7 757.2,255.7 780.1,255.7 795.4,255.7 810.7,255.7 818.3,255.7 833.6,255.7 871.7,255.7 894.6,255.7 902.3,255.7 909.9,255.7 917.6,255.7 925.2,255.7 608.4,261.2 616,261.2 623.6,261.2 638.9,261.2 646.5,261.2 661.8,261.2 669.4,261.2 692.3,261.2 700,261.2 707.6,261.2 715.3,261.2 722.9,261.2 730.5,261.2 738.2,261.2 761.1,261.2 768.7,261.2 776.3,261.2 784,261.2 791.6,261.2 799.2,261.2 822.1,261.2 829.8,261.2 860.3,261.2 890.8,261.2 898.5,261.2 906.1,261.2 913.7,261.2 921.4,261.2 604.6,266.7 612.2,266.7 619.8,266.7 635.1,266.7 658,266.7 673.3,266.7 680.9,266.7 688.5,266.7 703.8,266.7 711.4,266.7 719.1,266.7 726.7,266.7 734.3,266.7 742,266.7 757.2,266.7 764.9,266.7 772.5,266.7 787.8,266.7 795.4,266.7 825.9,266.7 848.8,266.7 856.5,266.7 879.4,266.7 894.6,266.7 902.3,266.7 909.9,266.7 925.2,266.7 608.4,272.2 616,272.2 623.6,272.2 646.5,272.2 669.4,272.2 684.7,272.2 692.3,272.2 707.6,272.2 715.3,272.2 722.9,272.2 738.2,272.2 799.2,272.2 806.9,272.2 822.1,272.2 829.8,272.2 860.3,272.2 867.9,272.2 875.6,272.2 883.2,272.2 890.8,272.2 898.5,272.2 604.6,277.6 612.2,277.6 619.8,277.6 627.5,277.6 642.7,277.6 658,277.6 688.5,277.6 696.2,277.6 719.1,277.6 749.6,277.6 757.2,277.6 764.9,277.6 780.1,277.6 795.4,277.6 810.7,277.6 818.3,277.6 841.2,277.6 856.5,277.6 864.1,277.6 879.4,277.6 902.3,277.6 909.9,277.6 917.6,277.6 608.4,283.1 616,283.1 631.3,283.1 677.1,283.1 700,283.1 707.6,283.1 730.5,283.1 738.2,283.1 745.8,283.1 761.1,283.1 776.3,283.1 791.6,283.1 814.5,283.1 822.1,283.1 829.8,283.1 837.4,283.1 860.3,283.1 867.9,283.1 883.2,283.1 890.8,283.1 913.7,283.1 612.2,288.6 619.8,288.6 627.5,288.6 635.1,288.6 642.7,288.6 650.4,288.6 665.6,288.6 673.3,288.6 680.9,288.6 688.5,288.6 703.8,288.6 711.4,288.6 719.1,288.6 734.3,288.6 749.6,288.6 757.2,288.6 764.9,288.6 772.5,288.6 787.8,288.6 803,288.6 810.7,288.6 818.3,288.6 841.2,288.6 848.8,288.6 856.5,288.6 864.1,288.6 894.6,288.6 902.3,288.6 909.9,288.6 600.7,294.1 616,294.1 623.6,294.1 631.3,294.1 638.9,294.1 669.4,294.1 677.1,294.1 684.7,294.1 692.3,294.1 700,294.1 707.6,294.1 715.3,294.1 722.9,294.1 730.5,294.1 776.3,294.1 784,294.1 799.2,294.1 806.9,294.1 814.5,294.1 845,294.1 890.8,294.1 604.6,299.6 612.2,299.6 619.8,299.6 658,299.6 680.9,299.6 688.5,299.6 696.2,299.6 703.8,299.6 711.4,299.6 742,299.6 780.1,299.6 787.8,299.6 795.4,299.6 803,299.6 818.3,299.6 841.2,299.6 848.8,299.6 887,299.6 894.6,299.6 616,305 631.3,305 669.4,305 677.1,305 684.7,305 700,305 707.6,305 715.3,305 722.9,305 730.5,305 738.2,305 761.1,305 768.7,305 791.6,305 799.2,305 806.9,305 814.5,305 822.1,305 837.4,305 845,305 604.6,310.5 619.8,310.5 627.5,310.5 635.1,310.5 642.7,310.5 650.4,310.5 658,310.5 680.9,310.5 688.5,310.5 703.8,310.5 711.4,310.5 726.7,310.5 749.6,310.5 757.2,310.5 780.1,310.5 787.8,310.5 795.4,310.5 810.7,310.5 841.2,310.5 856.5,310.5 864.1,310.5 879.4,310.5 940.5,310.5 600.7,316 623.6,316 646.5,316 661.8,316 669.4,316 677.1,316 684.7,316 700,316 707.6,316 776.3,316 806.9,316 814.5,316 822.1,316 944.3,316 589.3,321.5 604.6,321.5 627.5,321.5 673.3,321.5 680.9,321.5 688.5,321.5 696.2,321.5 703.8,321.5 772.5,321.5 780.1,321.5 787.8,321.5 795.4,321.5 803,321.5 810.7,321.5 818.3,321.5 833.6,321.5 848.8,321.5 856.5,321.5 864.1,321.5 871.7,321.5 932.8,321.5 940.5,321.5 585.5,327 593.1,327 616,327 623.6,327 669.4,327 692.3,327 707.6,327 715.3,327 730.5,327 745.8,327 753.4,327 768.7,327 776.3,327 791.6,327 799.2,327 806.9,327 814.5,327 837.4,327 944.3,327 589.3,332.4 596.9,332.4 658,332.4 673.3,332.4 680.9,332.4 688.5,332.4 696.2,332.4 703.8,332.4 711.4,332.4 719.1,332.4 726.7,332.4 734.3,332.4 749.6,332.4 757.2,332.4 764.9,332.4 780.1,332.4 787.8,332.4 795.4,332.4 803,332.4 810.7,332.4 825.9,332.4 833.6,332.4 848.8,332.4 856.5,332.4 932.8,332.4 940.5,332.4 585.5,337.9 593.1,337.9 600.7,337.9 608.4,337.9 616,337.9 661.8,337.9 669.4,337.9 684.7,337.9 692.3,337.9 700,337.9 707.6,337.9 730.5,337.9 761.1,337.9 768.7,337.9 799.2,337.9 806.9,337.9 829.8,337.9 845,337.9 852.7,337.9 929,337.9 936.6,337.9 944.3,337.9 589.3,343.4 596.9,343.4 604.6,343.4 635.1,343.4 673.3,343.4 680.9,343.4 688.5,343.4 703.8,343.4 711.4,343.4 749.6,343.4 772.5,343.4 810.7,343.4 818.3,343.4 833.6,343.4 841.2,343.4 932.8,343.4 940.5,343.4 577.8,348.9 600.7,348.9 608.4,348.9 616,348.9 638.9,348.9 661.8,348.9 669.4,348.9 677.1,348.9 684.7,348.9 692.3,348.9 700,348.9 730.5,348.9 745.8,348.9 768.7,348.9 776.3,348.9 784,348.9 799.2,348.9 814.5,348.9 829.8,348.9 837.4,348.9 852.7,348.9 921.4,348.9 581.7,354.4 589.3,354.4 596.9,354.4 627.5,354.4 642.7,354.4 658,354.4 665.6,354.4 688.5,354.4 696.2,354.4 703.8,354.4 711.4,354.4 719.1,354.4 726.7,354.4 742,354.4 749.6,354.4 764.9,354.4 795.4,354.4 833.6,354.4 841.2,354.4 925.2,354.4 940.5,354.4 570.2,359.8 577.8,359.8 585.5,359.8 600.7,359.8 654.2,359.8 669.4,359.8 677.1,359.8 684.7,359.8 692.3,359.8 700,359.8 707.6,359.8 715.3,359.8 722.9,359.8 730.5,359.8 738.2,359.8 745.8,359.8 761.1,359.8 768.7,359.8 799.2,359.8 814.5,359.8 822.1,359.8 837.4,359.8 845,359.8 929,359.8 944.3,359.8 566.4,365.3 574,365.3 581.7,365.3 612.2,365.3 627.5,365.3 642.7,365.3 650.4,365.3 658,365.3 680.9,365.3 696.2,365.3 703.8,365.3 711.4,365.3 719.1,365.3 726.7,365.3 742,365.3 749.6,365.3 757.2,365.3 764.9,365.3 772.5,365.3 780.1,365.3 787.8,365.3 795.4,365.3 803,365.3 818.3,365.3 825.9,365.3 833.6,365.3 894.6,365.3 902.3,365.3 917.6,365.3 940.5,365.3 570.2,370.8 577.8,370.8 600.7,370.8 616,370.8 631.3,370.8 646.5,370.8 654.2,370.8 661.8,370.8 669.4,370.8 677.1,370.8 692.3,370.8 700,370.8 707.6,370.8 715.3,370.8 722.9,370.8 730.5,370.8 745.8,370.8 753.4,370.8 761.1,370.8 768.7,370.8 784,370.8 799.2,370.8 837.4,370.8 906.1,370.8 913.7,370.8 921.4,370.8 929,370.8 944.3,370.8 566.4,376.3 574,376.3 581.7,376.3 619.8,376.3 635.1,376.3 642.7,376.3 650.4,376.3 665.6,376.3 680.9,376.3 688.5,376.3 696.2,376.3 711.4,376.3 719.1,376.3 734.3,376.3 757.2,376.3 764.9,376.3 772.5,376.3 780.1,376.3 795.4,376.3 833.6,376.3 841.2,376.3 894.6,376.3 909.9,376.3 570.2,381.8 577.8,381.8 585.5,381.8 608.4,381.8 616,381.8 623.6,381.8 646.5,381.8 654.2,381.8 669.4,381.8 684.7,381.8 692.3,381.8 700,381.8 715.3,381.8 730.5,381.8 738.2,381.8 745.8,381.8 753.4,381.8 761.1,381.8 768.7,381.8 776.3,381.8 784,381.8 791.6,381.8 806.9,381.8 814.5,381.8 829.8,381.8 898.5,381.8 913.7,381.8 921.4,381.8 929,381.8 574,387.2 589.3,387.2 596.9,387.2 604.6,387.2 619.8,387.2 627.5,387.2 635.1,387.2 650.4,387.2 665.6,387.2 673.3,387.2 680.9,387.2 688.5,387.2 703.8,387.2 711.4,387.2 726.7,387.2 749.6,387.2 757.2,387.2 764.9,387.2 772.5,387.2 787.8,387.2 795.4,387.2 833.6,387.2 879.4,387.2 887,387.2 917.6,387.2 925.2,387.2 932.8,387.2 940.5,387.2 577.8,392.7 585.5,392.7 600.7,392.7 623.6,392.7 646.5,392.7 654.2,392.7 669.4,392.7 677.1,392.7 684.7,392.7 700,392.7 707.6,392.7 715.3,392.7 730.5,392.7 738.2,392.7 745.8,392.7 753.4,392.7 768.7,392.7 776.3,392.7 784,392.7 799.2,392.7 814.5,392.7 829.8,392.7 837.4,392.7 883.2,392.7 890.8,392.7 898.5,392.7 913.7,392.7 929,392.7 936.6,392.7 589.3,398.2 596.9,398.2 604.6,398.2 612.2,398.2 627.5,398.2 635.1,398.2 642.7,398.2 650.4,398.2 658,398.2 673.3,398.2 680.9,398.2 696.2,398.2 703.8,398.2 726.7,398.2 742,398.2 749.6,398.2 757.2,398.2 764.9,398.2 772.5,398.2 780.1,398.2 795.4,398.2 825.9,398.2 833.6,398.2 879.4,398.2 887,398.2 894.6,398.2 909.9,398.2 932.8,398.2 940.5,398.2 600.7,403.7 608.4,403.7 623.6,403.7 631.3,403.7 646.5,403.7 654.2,403.7 669.4,403.7 677.1,403.7 692.3,403.7 730.5,403.7 738.2,403.7 745.8,403.7 753.4,403.7 768.7,403.7 776.3,403.7 784,403.7 791.6,403.7 806.9,403.7 814.5,403.7 829.8,403.7 837.4,403.7 906.1,403.7 921.4,403.7 936.6,403.7 944.3,403.7 619.8,409.2 627.5,409.2 635.1,409.2 650.4,409.2 658,409.2 665.6,409.2 673.3,409.2 680.9,409.2 688.5,409.2 703.8,409.2 711.4,409.2 726.7,409.2 742,409.2 749.6,409.2 757.2,409.2 780.1,409.2 787.8,409.2 795.4,409.2 825.9,409.2 894.6,409.2 902.3,409.2 909.9,409.2 925.2,409.2 932.8,409.2 940.5,409.2 623.6,414.6 631.3,414.6 638.9,414.6 646.5,414.6 654.2,414.6 669.4,414.6 684.7,414.6 692.3,414.6 700,414.6 707.6,414.6 722.9,414.6 730.5,414.6 738.2,414.6 745.8,414.6 761.1,414.6 784,414.6 791.6,414.6 806.9,414.6 829.8,414.6 890.8,414.6 921.4,414.6 929,414.6 944.3,414.6 627.5,420.1 635.1,420.1 658,420.1 665.6,420.1 673.3,420.1 680.9,420.1 688.5,420.1 711.4,420.1 719.1,420.1 726.7,420.1 734.3,420.1 742,420.1 749.6,420.1 757.2,420.1 764.9,420.1 787.8,420.1 795.4,420.1 818.3,420.1 841.2,420.1 902.3,420.1 917.6,420.1 932.8,420.1 940.5,420.1 638.9,425.6 646.5,425.6 661.8,425.6 669.4,425.6 684.7,425.6 715.3,425.6 722.9,425.6 730.5,425.6 738.2,425.6 745.8,425.6 753.4,425.6 768.7,425.6 776.3,425.6 784,425.6 799.2,425.6 814.5,425.6 822.1,425.6 837.4,425.6 845,425.6 890.8,425.6 913.7,425.6 929,425.6 936.6,425.6 944.3,425.6 650.4,431.1 658,431.1 665.6,431.1 673.3,431.1 688.5,431.1 711.4,431.1 719.1,431.1 726.7,431.1 734.3,431.1 742,431.1 749.6,431.1 764.9,431.1 772.5,431.1 787.8,431.1 810.7,431.1 818.3,431.1 833.6,431.1 841.2,431.1 887,431.1 909.9,431.1 917.6,431.1 940.5,431.1 661.8,436.6 669.4,436.6 677.1,436.6 684.7,436.6 700,436.6 707.6,436.6 715.3,436.6 722.9,436.6 730.5,436.6 745.8,436.6 753.4,436.6 768.7,436.6 791.6,436.6 814.5,436.6 829.8,436.6 837.4,436.6 921.4,436.6 944.3,436.6 680.9,442 711.4,442 719.1,442 726.7,442 749.6,442 764.9,442 818.3,442 825.9,442 833.6,442 902.3,442 917.6,442 925.2,442 692.3,447.5 722.9,447.5 730.5,447.5 745.8,447.5 753.4,447.5 768.7,447.5 776.3,447.5 784,447.5 791.6,447.5 799.2,447.5 806.9,447.5 814.5,447.5 822.1,447.5 829.8,447.5 837.4,447.5 845,447.5 890.8,447.5 898.5,447.5 929,447.5 936.6,447.5 944.3,447.5 711.4,453 734.3,453 742,453 749.6,453 764.9,453 795.4,453 803,453 810.7,453 825.9,453 841.2,453 925.2,453 932.8,453 940.5,453 730.5,458.5 738.2,458.5 745.8,458.5 761.1,458.5 776.3,458.5 784,458.5 791.6,458.5 799.2,458.5 814.5,458.5 829.8,458.5 845,458.5 929,458.5 936.6,458.5 944.3,458.5 772.5,464 787.8,464 810.7,464 818.3,464 833.6,464 841.2,464 887,464 894.6,464 552.5,336.1 556.2,342.3 560,336.6 563,331.1 864.1,392.3"/><polyline class="v41" points="635.1,69.4 658,69.4 711.4,69.4 719.1,69.4 726.7,69.4 734.3,69.4 742,69.4 780.1,69.4 825.9,69.4 864.1,69.4 871.7,69.4 646.5,74.9 669.4,74.9 707.6,74.9 730.5,74.9 745.8,74.9 761.1,74.9 822.1,74.9 845,74.9 875.6,74.9 883.2,74.9 696.2,80.4 711.4,80.4 719.1,80.4 742,80.4 749.6,80.4 757.2,80.4 764.9,80.4 848.8,80.4 856.5,80.4 864.1,80.4 871.7,80.4 700,85.8 715.3,85.8 867.9,85.8 883.2,85.8 898.5,85.8 719.1,91.3 757.2,91.3 764.9,91.3 722.9,96.8 761.1,96.8 768.7,96.8 776.3,96.8 780.1,102.3 787.8,102.3 795.4,102.3 818.3,102.3 841.2,102.3 848.8,102.3 856.5,102.3 738.2,107.8 753.4,107.8 761.1,107.8 768.7,107.8 776.3,107.8 784,107.8 791.6,107.8 799.2,107.8 814.5,107.8 822.1,107.8 829.8,107.8 845,107.8 852.7,107.8 860.3,107.8 875.6,107.8 734.3,113.2 749.6,113.2 757.2,113.2 772.5,113.2 787.8,113.2 825.9,113.2 833.6,113.2 841.2,113.2 848.8,113.2 879.4,113.2 887,113.2 738.2,118.7 753.4,118.7 761.1,118.7 784,118.7 791.6,118.7 814.5,118.7 822.1,118.7 837.4,118.7 845,118.7 867.9,118.7 906.1,118.7 726.7,124.2 734.3,124.2 764.9,124.2 795.4,124.2 810.7,124.2 825.9,124.2 841.2,124.2 848.8,124.2 864.1,124.2 887,124.2 909.9,124.2 730.5,129.7 768.7,129.7 776.3,129.7 791.6,129.7 806.9,129.7 814.5,129.7 829.8,129.7 837.4,129.7 845,129.7 852.7,129.7 860.3,129.7 883.2,129.7 898.5,129.7 944.3,129.7 719.1,135.2 726.7,135.2 734.3,135.2 742,135.2 772.5,135.2 787.8,135.2 795.4,135.2 803,135.2 818.3,135.2 825.9,135.2 833.6,135.2 841.2,135.2 871.7,135.2 894.6,135.2 902.3,135.2 909.9,135.2 932.8,135.2 722.9,140.6 745.8,140.6 784,140.6 806.9,140.6 822.1,140.6 829.8,140.6 845,140.6 860.3,140.6 875.6,140.6 883.2,140.6 890.8,140.6 898.5,140.6 929,140.6 711.4,146.1 726.7,146.1 742,146.1 787.8,146.1 795.4,146.1 803,146.1 825.9,146.1 833.6,146.1 848.8,146.1 871.7,146.1 879.4,146.1 887,146.1 894.6,146.1 902.3,146.1 948.1,146.1 707.6,151.6 715.3,151.6 722.9,151.6 730.5,151.6 753.4,151.6 761.1,151.6 776.3,151.6 784,151.6 799.2,151.6 814.5,151.6 822.1,151.6 829.8,151.6 837.4,151.6 845,151.6 867.9,151.6 875.6,151.6 906.1,151.6 703.8,157.1 711.4,157.1 719.1,157.1 726.7,157.1 734.3,157.1 780.1,157.1 787.8,157.1 803,157.1 825.9,157.1 848.8,157.1 856.5,157.1 864.1,157.1 871.7,157.1 879.4,157.1 887,157.1 925.2,157.1 932.8,157.1 940.5,157.1 700,162.6 722.9,162.6 730.5,162.6 745.8,162.6 776.3,162.6 799.2,162.6 829.8,162.6 845,162.6 860.3,162.6 875.6,162.6 890.8,162.6 906.1,162.6 936.6,162.6 711.4,168 795.4,168 803,168 810.7,168 833.6,168 879.4,168 894.6,168 902.3,168 700,173.5 707.6,173.5 715.3,173.5 722.9,173.5 761.1,173.5 776.3,173.5 799.2,173.5 806.9,173.5 822.1,173.5 829.8,173.5 845,173.5 867.9,173.5 875.6,173.5 883.2,173.5 898.5,173.5 696.2,179 703.8,179 711.4,179 726.7,179 787.8,179 795.4,179 684.7,184.5 692.3,184.5 707.6,184.5 761.1,184.5 776.3,184.5 784,184.5 806.9,184.5 845,184.5 867.9,184.5 875.6,184.5 898.5,184.5 906.1,184.5 944.3,184.5 680.9,190 688.5,190 696.2,190 703.8,190 711.4,190 742,190 780.1,190 795.4,190 810.7,190 825.9,190 856.5,190 871.7,190 887,190 669.4,195.4 692.3,195.4 707.6,195.4 722.9,195.4 745.8,195.4 768.7,195.4 806.9,195.4 814.5,195.4 845,195.4 860.3,195.4 867.9,195.4 890.8,195.4 898.5,195.4 913.7,195.4 680.9,200.9 688.5,200.9 696.2,200.9 703.8,200.9 711.4,200.9 734.3,200.9 749.6,200.9 757.2,200.9 780.1,200.9 787.8,200.9 818.3,200.9 856.5,200.9 864.1,200.9 871.7,200.9 887,200.9 902.3,200.9 909.9,200.9 669.4,206.4 692.3,206.4 707.6,206.4 722.9,206.4 768.7,206.4 784,206.4 799.2,206.4 806.9,206.4 867.9,206.4 875.6,206.4 883.2,206.4 890.8,206.4 711.4,211.9 795.4,211.9 803,211.9 864.1,211.9 887,211.9 902.3,211.9 669.4,217.4 677.1,217.4 684.7,217.4 700,217.4 722.9,217.4 761.1,217.4 784,217.4 791.6,217.4 814.5,217.4 829.8,217.4 890.8,217.4 906.1,217.4 913.7,217.4 929,217.4 665.6,222.8 680.9,222.8 696.2,222.8 772.5,222.8 803,222.8 810.7,222.8 841.2,222.8 848.8,222.8 856.5,222.8 864.1,222.8 871.7,222.8 887,222.8 902.3,222.8 940.5,222.8 661.8,228.3 700,228.3 707.6,228.3 715.3,228.3 761.1,228.3 776.3,228.3 814.5,228.3 860.3,228.3 867.9,228.3 875.6,228.3 883.2,228.3 890.8,228.3 906.1,228.3 913.7,228.3 921.4,228.3 936.6,228.3 650.4,233.8 658,233.8 665.6,233.8 680.9,233.8 703.8,233.8 711.4,233.8 757.2,233.8 772.5,233.8 780.1,233.8 856.5,233.8 864.1,233.8 909.9,233.8 917.6,233.8 932.8,233.8 631.3,239.3 654.2,239.3 661.8,239.3 669.4,239.3 684.7,239.3 745.8,239.3 814.5,239.3 837.4,239.3 875.6,239.3 883.2,239.3 619.8,244.8 627.5,244.8 635.1,244.8 642.7,244.8 650.4,244.8 673.3,244.8 696.2,244.8 719.1,244.8 749.6,244.8 764.9,244.8 780.1,244.8 787.8,244.8 795.4,244.8 810.7,244.8 833.6,244.8 864.1,244.8 887,244.8 631.3,250.2 661.8,250.2 669.4,250.2 692.3,250.2 738.2,250.2 784,250.2 799.2,250.2 860.3,250.2 875.6,250.2 883.2,250.2 890.8,250.2 913.7,250.2 921.4,250.2 627.5,255.7 665.6,255.7 680.9,255.7 696.2,255.7 711.4,255.7 764.9,255.7 772.5,255.7 803,255.7 825.9,255.7 856.5,255.7 864.1,255.7 879.4,255.7 887,255.7 631.3,261.2 654.2,261.2 677.1,261.2 684.7,261.2 745.8,261.2 753.4,261.2 806.9,261.2 814.5,261.2 845,261.2 852.7,261.2 867.9,261.2 875.6,261.2 883.2,261.2 627.5,266.7 642.7,266.7 650.4,266.7 665.6,266.7 749.6,266.7 780.1,266.7 803,266.7 810.7,266.7 818.3,266.7 833.6,266.7 841.2,266.7 864.1,266.7 871.7,266.7 887,266.7 631.3,272.2 638.9,272.2 654.2,272.2 661.8,272.2 677.1,272.2 700,272.2 730.5,272.2 745.8,272.2 753.4,272.2 761.1,272.2 768.7,272.2 776.3,272.2 784,272.2 791.6,272.2 837.4,272.2 852.7,272.2 906.1,272.2 921.4,272.2 635.1,277.6 650.4,277.6 665.6,277.6 673.3,277.6 680.9,277.6 703.8,277.6 711.4,277.6 726.7,277.6 734.3,277.6 742,277.6 772.5,277.6 787.8,277.6 803,277.6 825.9,277.6 833.6,277.6 848.8,277.6 871.7,277.6 887,277.6 894.6,277.6 600.7,283.1 623.6,283.1 638.9,283.1 646.5,283.1 654.2,283.1 661.8,283.1 669.4,283.1 684.7,283.1 715.3,283.1 722.9,283.1 753.4,283.1 768.7,283.1 784,283.1 799.2,283.1 806.9,283.1 845,283.1 852.7,283.1 875.6,283.1 898.5,283.1 906.1,283.1 604.6,288.6 658,288.6 696.2,288.6 726.7,288.6 742,288.6 780.1,288.6 795.4,288.6 825.9,288.6 833.6,288.6 871.7,288.6 879.4,288.6 887,288.6 608.4,294.1 646.5,294.1 654.2,294.1 661.8,294.1 738.2,294.1 745.8,294.1 753.4,294.1 761.1,294.1 768.7,294.1 791.6,294.1 822.1,294.1 829.8,294.1 837.4,294.1 852.7,294.1 860.3,294.1 867.9,294.1 875.6,294.1 883.2,294.1 898.5,294.1 906.1,294.1 627.5,299.6 635.1,299.6 642.7,299.6 650.4,299.6 665.6,299.6 673.3,299.6 719.1,299.6 726.7,299.6 734.3,299.6 749.6,299.6 757.2,299.6 764.9,299.6 772.5,299.6 810.7,299.6 825.9,299.6 833.6,299.6 864.1,299.6 871.7,299.6 879.4,299.6 600.7,305 608.4,305 623.6,305 638.9,305 646.5,305 654.2,305 661.8,305 692.3,305 745.8,305 753.4,305 776.3,305 784,305 829.8,305 852.7,305 860.3,305 867.9,305 875.6,305 883.2,305 944.3,305 596.9,310.5 612.2,310.5 665.6,310.5 673.3,310.5 696.2,310.5 719.1,310.5 734.3,310.5 742,310.5 764.9,310.5 772.5,310.5 803,310.5 818.3,310.5 825.9,310.5 833.6,310.5 848.8,310.5 871.7,310.5 593.1,316 608.4,316 616,316 638.9,316 654.2,316 692.3,316 715.3,316 722.9,316 730.5,316 738.2,316 745.8,316 753.4,316 761.1,316 768.7,316 784,316 791.6,316 799.2,316 829.8,316 837.4,316 845,316 852.7,316 860.3,316 867.9,316 875.6,316 936.6,316 596.9,321.5 612.2,321.5 619.8,321.5 635.1,321.5 642.7,321.5 650.4,321.5 658,321.5 665.6,321.5 711.4,321.5 719.1,321.5 726.7,321.5 734.3,321.5 742,321.5 749.6,321.5 757.2,321.5 764.9,321.5 825.9,321.5 841.2,321.5 600.7,327 608.4,327 631.3,327 638.9,327 646.5,327 661.8,327 677.1,327 684.7,327 700,327 722.9,327 738.2,327 761.1,327 784,327 822.1,327 829.8,327 845,327 852.7,327 860.3,327 936.6,327 604.6,332.4 612.2,332.4 619.8,332.4 627.5,332.4 635.1,332.4 642.7,332.4 650.4,332.4 742,332.4 772.5,332.4 818.3,332.4 841.2,332.4 623.6,337.9 631.3,337.9 638.9,337.9 646.5,337.9 654.2,337.9 677.1,337.9 715.3,337.9 722.9,337.9 738.2,337.9 745.8,337.9 753.4,337.9 776.3,337.9 784,337.9 791.6,337.9 814.5,337.9 822.1,337.9 837.4,337.9 581.7,343.4 612.2,343.4 619.8,343.4 627.5,343.4 642.7,343.4 650.4,343.4 658,343.4 665.6,343.4 696.2,343.4 719.1,343.4 726.7,343.4 734.3,343.4 742,343.4 757.2,343.4 764.9,343.4 780.1,343.4 787.8,343.4 795.4,343.4 803,343.4 825.9,343.4 848.8,343.4 925.2,343.4 593.1,348.9 623.6,348.9 631.3,348.9 646.5,348.9 654.2,348.9 707.6,348.9 715.3,348.9 722.9,348.9 738.2,348.9 753.4,348.9 761.1,348.9 791.6,348.9 806.9,348.9 822.1,348.9 845,348.9 929,348.9 936.6,348.9 944.3,348.9 574,354.4 604.6,354.4 612.2,354.4 619.8,354.4 635.1,354.4 650.4,354.4 673.3,354.4 734.3,354.4 757.2,354.4 772.5,354.4 780.1,354.4 787.8,354.4 803,354.4 810.7,354.4 818.3,354.4 825.9,354.4 848.8,354.4 917.6,354.4 932.8,354.4 593.1,359.8 608.4,359.8 616,359.8 631.3,359.8 638.9,359.8 646.5,359.8 661.8,359.8 753.4,359.8 776.3,359.8 784,359.8 791.6,359.8 806.9,359.8 829.8,359.8 921.4,359.8 936.6,359.8 589.3,365.3 596.9,365.3 604.6,365.3 635.1,365.3 673.3,365.3 734.3,365.3 810.7,365.3 841.2,365.3 925.2,365.3 932.8,365.3 585.5,370.8 593.1,370.8 608.4,370.8 623.6,370.8 638.9,370.8 684.7,370.8 738.2,370.8 776.3,370.8 791.6,370.8 806.9,370.8 814.5,370.8 822.1,370.8 829.8,370.8 898.5,370.8 936.6,370.8 589.3,376.3 596.9,376.3 604.6,376.3 612.2,376.3 627.5,376.3 658,376.3 673.3,376.3 726.7,376.3 742,376.3 749.6,376.3 787.8,376.3 810.7,376.3 818.3,376.3 825.9,376.3 902.3,376.3 917.6,376.3 925.2,376.3 932.8,376.3 940.5,376.3 593.1,381.8 600.7,381.8 631.3,381.8 638.9,381.8 661.8,381.8 677.1,381.8 707.6,381.8 722.9,381.8 799.2,381.8 822.1,381.8 837.4,381.8 890.8,381.8 906.1,381.8 944.3,381.8 581.7,387.2 642.7,387.2 658,387.2 696.2,387.2 719.1,387.2 734.3,387.2 742,387.2 780.1,387.2 803,387.2 810.7,387.2 818.3,387.2 825.9,387.2 894.6,387.2 909.9,387.2 593.1,392.7 608.4,392.7 616,392.7 631.3,392.7 638.9,392.7 661.8,392.7 692.3,392.7 722.9,392.7 761.1,392.7 791.6,392.7 806.9,392.7 822.1,392.7 906.1,392.7 921.4,392.7 944.3,392.7 619.8,398.2 665.6,398.2 688.5,398.2 711.4,398.2 719.1,398.2 734.3,398.2 787.8,398.2 803,398.2 810.7,398.2 818.3,398.2 902.3,398.2 917.6,398.2 925.2,398.2 616,403.7 638.9,403.7 661.8,403.7 684.7,403.7 700,403.7 707.6,403.7 715.3,403.7 722.9,403.7 761.1,403.7 799.2,403.7 822.1,403.7 890.8,403.7 898.5,403.7 913.7,403.7 929,403.7 612.2,409.2 642.7,409.2 696.2,409.2 719.1,409.2 734.3,409.2 772.5,409.2 803,409.2 810.7,409.2 818.3,409.2 833.6,409.2 887,409.2 917.6,409.2 616,414.6 677.1,414.6 715.3,414.6 753.4,414.6 776.3,414.6 799.2,414.6 814.5,414.6 822.1,414.6 837.4,414.6 906.1,414.6 913.7,414.6 936.6,414.6 696.2,420.1 703.8,420.1 772.5,420.1 780.1,420.1 803,420.1 810.7,420.1 825.9,420.1 833.6,420.1 887,420.1 894.6,420.1 925.2,420.1 654.2,425.6 677.1,425.6 692.3,425.6 700,425.6 707.6,425.6 761.1,425.6 791.6,425.6 806.9,425.6 829.8,425.6 906.1,425.6 921.4,425.6 680.9,431.1 696.2,431.1 703.8,431.1 757.2,431.1 780.1,431.1 795.4,431.1 803,431.1 825.9,431.1 894.6,431.1 902.3,431.1 925.2,431.1 932.8,431.1 692.3,436.6 738.2,436.6 761.1,436.6 776.3,436.6 784,436.6 799.2,436.6 806.9,436.6 822.1,436.6 845,436.6 890.8,436.6 898.5,436.6 906.1,436.6 913.7,436.6 929,436.6 936.6,436.6 673.3,442 688.5,442 696.2,442 703.8,442 734.3,442 742,442 757.2,442 772.5,442 780.1,442 787.8,442 795.4,442 803,442 810.7,442 841.2,442 887,442 894.6,442 909.9,442 932.8,442 940.5,442 700,447.5 707.6,447.5 715.3,447.5 738.2,447.5 761.1,447.5 906.1,447.5 719.1,453 726.7,453 757.2,453 772.5,453 780.1,453 787.8,453 818.3,453 833.6,453 879.4,453 887,453 722.9,458.5 753.4,458.5 768.7,458.5 822.1,458.5 837.4,458.5 875.6,458.5 883.2,458.5 890.8,458.5 742,464 749.6,464 757.2,464 764.9,464 780.1,464 795.4,464 803,464 825.9,464 879.4,464 548.7,341.6"/><polyline class="v42" points="703.8,69.4 749.6,91.3 753.4,96.8 730.5,118.7 703.8,168 871.7,179 726.7,211.9 810.7,211.9 948.1,211.9 898.5,217.4 837.4,228.3 764.9,233.8 837.4,250.2 787.8,255.7 841.2,255.7 848.8,255.7 837.4,261.2 696.2,266.7 917.6,266.7 814.5,272.2 845,272.2 913.7,272.2 692.3,283.1 856.5,299.6 631.3,316 654.2,327 665.6,332.4 585.5,348.9 680.9,354.4 623.6,359.8 619.8,365.3 665.6,365.3 688.5,365.3 703.8,376.3 803,376.3 936.6,381.8 612.2,387.2 902.3,387.2 764.9,409.2 661.8,414.6 768.7,414.6 642.7,420.1 650.4,420.1 909.9,420.1 806.9,458.5"/><polyline class="v43" points="642.7,69.4 642.7,69.4"/></g></g>
<g transform="translate(1047.6,652) scale(0.663218) translate(-1530.2,-49.2)"><g clip-path="url(#cpd)"><rect x="1530.2" y="49.2" width="440" height="440" fill="#f4e3f2"/><use href="#tD"/><use href="#tDh"/><polyline class="v40" points="1700.5,74.5 1717.7,96.5 1885,168 1885,179 1902.1,190 1764.9,201 1756.3,333 1589,371.5 1717.7,382.5 1619,399 1730.5,432 1610.4,443"/><polyline class="v41" points="1584.7,69 1661.9,69 1670.5,69 1704.8,69 1713.4,69 1722,69 1730.5,69 1739.1,69 1747.7,69 1756.3,69 1589,74.5 1597.5,74.5 1657.6,74.5 1666.2,74.5 1674.8,74.5 1683.4,74.5 1691.9,74.5 1709.1,74.5 1717.7,74.5 1726.2,74.5 1734.8,74.5 1743.4,74.5 1752,74.5 1584.7,80 1593.3,80 1601.8,80 1610.4,80 1627.6,80 1661.9,80 1670.5,80 1679.1,80 1687.6,80 1696.2,80 1704.8,80 1713.4,80 1722,80 1730.5,80 1739.1,80 1747.7,80 1571.8,85.5 1580.4,85.5 1589,85.5 1606.1,85.5 1657.6,85.5 1666.2,85.5 1674.8,85.5 1683.4,85.5 1691.9,85.5 1700.5,85.5 1709.1,85.5 1717.7,85.5 1726.2,85.5 1734.8,85.5 1743.4,85.5 1567.5,91 1576.1,91 1584.7,91 1593.3,91 1619,91 1627.6,91 1670.5,91 1679.1,91 1687.6,91 1696.2,91 1704.8,91 1713.4,91 1722,91 1730.5,91 1571.8,96.5 1580.4,96.5 1589,96.5 1606.1,96.5 1631.9,96.5 1640.5,96.5 1657.6,96.5 1666.2,96.5 1674.8,96.5 1683.4,96.5 1700.5,96.5 1709.1,96.5 1567.5,102 1584.7,102 1593.3,102 1601.8,102 1610.4,102 1619,102 1636.2,102 1644.7,102 1653.3,102 1661.9,102 1670.5,102 1679.1,102 1687.6,102 1696.2,102 1704.8,102 1713.4,102 1571.8,107.5 1580.4,107.5 1589,107.5 1614.7,107.5 1623.3,107.5 1631.9,107.5 1640.5,107.5 1657.6,107.5 1666.2,107.5 1683.4,107.5 1691.9,107.5 1700.5,107.5 1576.1,113 1584.7,113 1593.3,113 1601.8,113 1619,113 1627.6,113 1636.2,113 1653.3,113 1670.5,113 1679.1,113 1687.6,113 1696.2,113 1571.8,118.5 1597.5,118.5 1606.1,118.5 1614.7,118.5 1631.9,118.5 1640.5,118.5 1649,118.5 1657.6,118.5 1666.2,118.5 1674.8,118.5 1584.7,124 1593.3,124 1601.8,124 1610.4,124 1619,124 1627.6,124 1644.7,124 1653.3,124 1661.9,124 1571.8,129.5 1589,129.5 1597.5,129.5 1606.1,129.5 1631.9,129.5 1640.5,129.5 1649,129.5 1576.1,135 1584.7,135 1593.3,135 1601.8,135 1619,135 1627.6,135 1580.4,140.5 1589,140.5 1614.7,140.5 1623.3,140.5 1777.7,140.5 1786.3,140.5 1576.1,146 1584.7,146 1593.3,146 1601.8,146 1610.4,146 1619,146 1790.6,146 1580.4,151.5 1589,151.5 1597.5,151.5 1606.1,151.5 1777.7,151.5 1756.3,157 1773.4,157 1807.8,157 1786.3,162.5 1794.9,162.5 1812.1,162.5 1820.6,162.5 1829.2,162.5 1837.8,162.5 1872.1,162.5 1756.3,168 1764.9,168 1782,168 1790.6,168 1807.8,168 1824.9,168 1833.5,168 1902.1,168 1777.7,173.5 1803.5,173.5 1820.6,173.5 1846.4,173.5 1855,173.5 1807.8,179 1816.3,179 1842.1,179 1902.1,179 1910.7,179 1752,184.5 1777.7,184.5 1794.9,184.5 1812.1,184.5 1820.6,184.5 1829.2,184.5 1837.8,184.5 1855,184.5 1906.4,184.5 1756.3,190 1764.9,190 1773.4,190 1790.6,190 1876.4,190 1919.3,190 1760.6,195.5 1769.2,195.5 1777.7,195.5 1786.3,195.5 1855,195.5 1880.7,195.5 1897.9,195.5 1915,195.5 1756.3,201 1773.4,201 1782,201 1799.2,201 1807.8,201 1816.3,201 1824.9,201 1876.4,201 1885,201 1893.6,201 1902.1,201 1919.3,201 1760.6,206.5 1777.7,206.5 1786.3,206.5 1794.9,206.5 1803.5,206.5 1872.1,206.5 1880.7,206.5 1923.6,206.5 1782,212 1807.8,212 1816.3,212 1824.9,212 1833.5,212 1850.7,212 1859.2,212 1867.8,212 1902.1,212 1910.7,212 1919.3,212 1769.2,217.5 1786.3,217.5 1794.9,217.5 1812.1,217.5 1837.8,217.5 1855,217.5 1863.5,217.5 1872.1,217.5 1915,217.5 1932.2,217.5 1773.4,223 1807.8,223 1833.5,223 1910.7,223 1927.9,223 1777.7,228.5 1786.3,228.5 1794.9,228.5 1803.5,228.5 1837.8,228.5 1863.5,228.5 1880.7,228.5 1906.4,228.5 1915,228.5 1782,234 1799.2,234 1842.1,234 1859.2,234 1876.4,234 1885,234 1893.6,234 1919.3,234 1829.2,239.5 1837.8,239.5 1846.4,239.5 1889.3,239.5 1923.6,239.5 1816.3,245 1833.5,245 1876.4,245 1902.1,245 1910.7,245 1919.3,245 1855,250.5 1897.9,250.5 1915,250.5 1842.1,256 1867.8,256 1876.4,256 1902.1,256 1919.3,256 1863.5,261.5 1880.7,261.5 1889.3,261.5 1773.4,267 1885,267 1769.2,272.5 1872.1,272.5 1897.9,272.5 1906.4,272.5 1782,278 1730.5,289 1756.3,289 1773.4,289 1782,289 1743.4,294.5 1760.6,294.5 1777.7,294.5 1730.5,300 1773.4,300 1709.1,305.5 1726.2,305.5 1743.4,305.5 1687.6,311 1713.4,311 1666.2,316.5 1674.8,316.5 1683.4,316.5 1691.9,316.5 1709.1,316.5 1717.7,316.5 1726.2,316.5 1760.6,316.5 1653.3,322 1670.5,322 1679.1,322 1687.6,322 1722,322 1756.3,322 1631.9,327.5 1657.6,327.5 1666.2,327.5 1674.8,327.5 1726.2,327.5 1752,327.5 1619,333 1627.6,333 1636.2,333 1644.7,333 1653.3,333 1661.9,333 1670.5,333 1679.1,333 1696.2,333 1704.8,333 1713.4,333 1722,333 1739.1,333 1747.7,333 1614.7,338.5 1623.3,338.5 1631.9,338.5 1640.5,338.5 1649,338.5 1657.6,338.5 1674.8,338.5 1691.9,338.5 1700.5,338.5 1709.1,338.5 1717.7,338.5 1726.2,338.5 1734.8,338.5 1743.4,338.5 1610.4,344 1619,344 1636.2,344 1644.7,344 1653.3,344 1661.9,344 1670.5,344 1679.1,344 1687.6,344 1696.2,344 1704.8,344 1713.4,344 1722,344 1730.5,344 1739.1,344 1606.1,349.5 1614.7,349.5 1623.3,349.5 1631.9,349.5 1640.5,349.5 1649,349.5 1657.6,349.5 1666.2,349.5 1674.8,349.5 1683.4,349.5 1691.9,349.5 1700.5,349.5 1709.1,349.5 1717.7,349.5 1726.2,349.5 1743.4,349.5 1601.8,355 1610.4,355 1619,355 1627.6,355 1644.7,355 1670.5,355 1687.6,355 1696.2,355 1704.8,355 1713.4,355 1722,355 1730.5,355 1739.1,355 1597.5,360.5 1606.1,360.5 1614.7,360.5 1623.3,360.5 1631.9,360.5 1640.5,360.5 1649,360.5 1666.2,360.5 1674.8,360.5 1683.4,360.5 1691.9,360.5 1700.5,360.5 1709.1,360.5 1717.7,360.5 1734.8,360.5 1593.3,366 1601.8,366 1610.4,366 1627.6,366 1644.7,366 1670.5,366 1679.1,366 1687.6,366 1696.2,366 1704.8,366 1713.4,366 1722,366 1730.5,366 1597.5,371.5 1606.1,371.5 1614.7,371.5 1623.3,371.5 1631.9,371.5 1649,371.5 1666.2,371.5 1674.8,371.5 1683.4,371.5 1691.9,371.5 1717.7,371.5 1726.2,371.5 1584.7,377 1593.3,377 1601.8,377 1619,377 1627.6,377 1636.2,377 1644.7,377 1653.3,377 1661.9,377 1670.5,377 1679.1,377 1687.6,377 1580.4,382.5 1589,382.5 1597.5,382.5 1606.1,382.5 1614.7,382.5 1623.3,382.5 1631.9,382.5 1640.5,382.5 1666.2,382.5 1674.8,382.5 1691.9,382.5 1700.5,382.5 1709.1,382.5 1576.1,388 1584.7,388 1593.3,388 1601.8,388 1610.4,388 1619,388 1627.6,388 1636.2,388 1661.9,388 1687.6,388 1696.2,388 1722,388 1580.4,393.5 1589,393.5 1606.1,393.5 1614.7,393.5 1631.9,393.5 1640.5,393.5 1649,393.5 1657.6,393.5 1666.2,393.5 1674.8,393.5 1691.9,393.5 1700.5,393.5 1709.1,393.5 1717.7,393.5 1726.2,393.5 1734.8,393.5 1567.5,399 1576.1,399 1584.7,399 1593.3,399 1601.8,399 1610.4,399 1636.2,399 1644.7,399 1653.3,399 1661.9,399 1687.6,399 1704.8,399 1713.4,399 1739.1,399 1563.2,404.5 1571.8,404.5 1589,404.5 1597.5,404.5 1606.1,404.5 1614.7,404.5 1631.9,404.5 1649,404.5 1657.6,404.5 1666.2,404.5 1683.4,404.5 1691.9,404.5 1700.5,404.5 1717.7,404.5 1734.8,404.5 1743.4,404.5 1567.5,410 1576.1,410 1584.7,410 1601.8,410 1610.4,410 1619,410 1627.6,410 1636.2,410 1661.9,410 1670.5,410 1679.1,410 1687.6,410 1704.8,410 1739.1,410 1571.8,415.5 1580.4,415.5 1589,415.5 1606.1,415.5 1614.7,415.5 1623.3,415.5 1640.5,415.5 1649,415.5 1657.6,415.5 1666.2,415.5 1743.4,415.5 1769.2,415.5 1567.5,421 1576.1,421 1584.7,421 1593.3,421 1601.8,421 1610.4,421 1636.2,421 1644.7,421 1653.3,421 1670.5,421 1704.8,421 1722,421 1730.5,421 1739.1,421 1747.7,421 1756.3,421 1773.4,421 1563.2,426.5 1571.8,426.5 1580.4,426.5 1589,426.5 1597.5,426.5 1614.7,426.5 1623.3,426.5 1674.8,426.5 1683.4,426.5 1700.5,426.5 1717.7,426.5 1743.4,426.5 1760.6,426.5 1777.7,426.5 1567.5,432 1576.1,432 1584.7,432 1593.3,432 1601.8,432 1619,432 1661.9,432 1670.5,432 1679.1,432 1713.4,432 1722,432 1739.1,432 1764.9,432 1773.4,432 1563.2,437.5 1571.8,437.5 1580.4,437.5 1589,437.5 1597.5,437.5 1606.1,437.5 1623.3,437.5 1631.9,437.5 1640.5,437.5 1674.8,437.5 1683.4,437.5 1717.7,437.5 1769.2,437.5 1567.5,443 1576.1,443 1593.3,443 1601.8,443 1619,443 1627.6,443 1670.5,443 1696.2,443 1713.4,443 1764.9,443 1571.8,448.5 1580.4,448.5 1589,448.5 1606.1,448.5 1623.3,448.5 1631.9,448.5 1700.5,448.5 1709.1,448.5 1726.2,448.5 1760.6,448.5 1593.3,454 1601.8,454 1610.4,454 1619,454 1627.6,454 1661.9,454 1670.5,454 1679.1,454 1696.2,454 1730.5,454 1550.4,146 1571.8,162.5 1760.6,261.5 1614.7,327.5 1790.6,443 1794.9,448.5 1803.5,448.5 1773.4,454"/><polyline class="v42" points="1593.3,69 1679.1,69 1687.6,69 1696.2,69 1580.4,74.5 1576.1,80 1597.5,85.5 1614.7,85.5 1623.3,85.5 1601.8,91 1610.4,91 1661.9,91 1597.5,96.5 1614.7,96.5 1623.3,96.5 1649,96.5 1691.9,96.5 1576.1,102 1627.6,102 1597.5,107.5 1606.1,107.5 1649,107.5 1674.8,107.5 1610.4,113 1644.7,113 1661.9,113 1580.4,118.5 1589,118.5 1623.3,118.5 1683.4,118.5 1576.1,124 1636.2,124 1580.4,129.5 1614.7,129.5 1623.3,129.5 1610.4,135 1636.2,135 1597.5,140.5 1606.1,140.5 1769.2,140.5 1764.9,146 1773.4,146 1782,146 1799.2,146 1571.8,151.5 1760.6,151.5 1769.2,151.5 1786.3,151.5 1794.9,151.5 1803.5,151.5 1764.9,157 1799.2,157 1816.3,157 1760.6,162.5 1803.5,162.5 1846.4,162.5 1855,162.5 1863.5,162.5 1880.7,162.5 1889.3,162.5 1773.4,168 1799.2,168 1816.3,168 1842.1,168 1850.7,168 1859.2,168 1867.8,168 1876.4,168 1893.6,168 1752,173.5 1760.6,173.5 1769.2,173.5 1786.3,173.5 1794.9,173.5 1812.1,173.5 1829.2,173.5 1837.8,173.5 1863.5,173.5 1872.1,173.5 1880.7,173.5 1889.3,173.5 1897.9,173.5 1756.3,179 1764.9,179 1773.4,179 1790.6,179 1799.2,179 1824.9,179 1833.5,179 1850.7,179 1859.2,179 1867.8,179 1876.4,179 1893.6,179 1760.6,184.5 1769.2,184.5 1786.3,184.5 1803.5,184.5 1846.4,184.5 1863.5,184.5 1872.1,184.5 1880.7,184.5 1889.3,184.5 1782,190 1799.2,190 1807.8,190 1816.3,190 1824.9,190 1833.5,190 1842.1,190 1850.7,190 1859.2,190 1867.8,190 1885,190 1893.6,190 1794.9,195.5 1803.5,195.5 1812.1,195.5 1820.6,195.5 1829.2,195.5 1837.8,195.5 1846.4,195.5 1863.5,195.5 1872.1,195.5 1889.3,195.5 1906.4,195.5 1790.6,201 1833.5,201 1842.1,201 1850.7,201 1859.2,201 1867.8,201 1910.7,201 1769.2,206.5 1812.1,206.5 1820.6,206.5 1829.2,206.5 1837.8,206.5 1846.4,206.5 1855,206.5 1863.5,206.5 1889.3,206.5 1897.9,206.5 1906.4,206.5 1915,206.5 1790.6,212 1799.2,212 1842.1,212 1876.4,212 1885,212 1893.6,212 1927.9,212 1777.7,217.5 1803.5,217.5 1820.6,217.5 1829.2,217.5 1846.4,217.5 1880.7,217.5 1889.3,217.5 1897.9,217.5 1906.4,217.5 1923.6,217.5 1782,223 1790.6,223 1799.2,223 1816.3,223 1824.9,223 1842.1,223 1850.7,223 1859.2,223 1867.8,223 1876.4,223 1885,223 1893.6,223 1902.1,223 1919.3,223 1812.1,228.5 1820.6,228.5 1829.2,228.5 1846.4,228.5 1855,228.5 1872.1,228.5 1889.3,228.5 1897.9,228.5 1923.6,228.5 1932.2,228.5 1790.6,234 1807.8,234 1824.9,234 1833.5,234 1850.7,234 1867.8,234 1910.7,234 1927.9,234 1794.9,239.5 1803.5,239.5 1820.6,239.5 1855,239.5 1863.5,239.5 1872.1,239.5 1880.7,239.5 1897.9,239.5 1906.4,239.5 1915,239.5 1807.8,245 1824.9,245 1842.1,245 1850.7,245 1859.2,245 1867.8,245 1893.6,245 1927.9,245 1820.6,250.5 1829.2,250.5 1837.8,250.5 1863.5,250.5 1872.1,250.5 1880.7,250.5 1889.3,250.5 1906.4,250.5 1923.6,250.5 1859.2,256 1885,256 1893.6,256 1910.7,256 1855,261.5 1897.9,261.5 1756.3,267 1764.9,267 1782,267 1867.8,267 1876.4,267 1893.6,267 1752,272.5 1760.6,272.5 1777.7,272.5 1880.7,272.5 1889.3,272.5 1747.7,278 1756.3,278 1764.9,278 1773.4,278 1876.4,278 1885,278 1893.6,278 1743.4,283.5 1752,283.5 1760.6,283.5 1769.2,283.5 1777.7,283.5 1739.1,289 1747.7,289 1764.9,289 1717.7,294.5 1726.2,294.5 1734.8,294.5 1769.2,294.5 1704.8,300 1713.4,300 1722,300 1739.1,300 1747.7,300 1700.5,305.5 1717.7,305.5 1734.8,305.5 1752,305.5 1760.6,305.5 1769.2,305.5 1696.2,311 1704.8,311 1722,311 1764.9,311 1657.6,316.5 1700.5,316.5 1734.8,316.5 1743.4,316.5 1752,316.5 1644.7,322 1661.9,322 1696.2,322 1704.8,322 1713.4,322 1739.1,322 1747.7,322 1640.5,327.5 1649,327.5 1683.4,327.5 1691.9,327.5 1700.5,327.5 1709.1,327.5 1717.7,327.5 1743.4,327.5 1687.6,333 1666.2,338.5 1683.4,338.5 1627.6,344 1734.8,349.5 1636.2,355 1653.3,355 1661.9,355 1679.1,355 1657.6,360.5 1726.2,360.5 1619,366 1636.2,366 1653.3,366 1661.9,366 1640.5,371.5 1657.6,371.5 1700.5,371.5 1709.1,371.5 1610.4,377 1696.2,377 1704.8,377 1713.4,377 1722,377 1649,382.5 1657.6,382.5 1683.4,382.5 1644.7,388 1653.3,388 1670.5,388 1679.1,388 1704.8,388 1713.4,388 1730.5,388 1571.8,393.5 1597.5,393.5 1623.3,393.5 1683.4,393.5 1627.6,399 1670.5,399 1679.1,399 1696.2,399 1722,399 1730.5,399 1747.7,399 1580.4,404.5 1623.3,404.5 1640.5,404.5 1674.8,404.5 1709.1,404.5 1726.2,404.5 1752,404.5 1593.3,410 1644.7,410 1653.3,410 1696.2,410 1713.4,410 1722,410 1730.5,410 1747.7,410 1756.3,410 1563.2,415.5 1597.5,415.5 1631.9,415.5 1674.8,415.5 1683.4,415.5 1691.9,415.5 1700.5,415.5 1709.1,415.5 1717.7,415.5 1726.2,415.5 1734.8,415.5 1752,415.5 1760.6,415.5 1619,421 1661.9,421 1679.1,421 1687.6,421 1696.2,421 1713.4,421 1764.9,421 1606.1,426.5 1640.5,426.5 1666.2,426.5 1691.9,426.5 1709.1,426.5 1726.2,426.5 1734.8,426.5 1752,426.5 1610.4,432 1627.6,432 1636.2,432 1653.3,432 1687.6,432 1696.2,432 1704.8,432 1747.7,432 1756.3,432 1614.7,437.5 1657.6,437.5 1691.9,437.5 1700.5,437.5 1709.1,437.5 1726.2,437.5 1734.8,437.5 1743.4,437.5 1752,437.5 1760.6,437.5 1584.7,443 1636.2,443 1644.7,443 1653.3,443 1679.1,443 1687.6,443 1704.8,443 1722,443 1730.5,443 1739.1,443 1747.7,443 1597.5,448.5 1614.7,448.5 1640.5,448.5 1649,448.5 1666.2,448.5 1674.8,448.5 1683.4,448.5 1691.9,448.5 1717.7,448.5 1734.8,448.5 1743.4,448.5 1752,448.5 1584.7,454 1653.3,454 1687.6,454 1704.8,454 1713.4,454 1722,454 1739.1,454 1945,212 1833.5,256 1769.2,261.5 1777.7,261.5 1640.5,316.5 1636.2,322 1786.3,437.5 1769.2,448.5"/><polyline class="v43" points="1782,157 1790.6,157 1769.2,162.5 1777.7,162.5 1906.4,173.5 1782,179 1897.9,184.5 1915,184.5 1910.7,190 1764.9,212 1773.4,212 1816.3,234 1902.1,234 1812.1,239.5 1885,245 1846.4,250.5 1850.7,256 1872.1,261.5 1906.4,261.5 1915,261.5 1902.1,267 1910.7,267 1752,294.5 1756.3,300 1764.9,300 1730.5,311 1739.1,311 1747.7,311 1756.3,311 1627.6,421 1631.9,426.5 1769.2,426.5 1644.7,432 1649,437.5 1666.2,437.5 1661.9,443 1756.3,443 1657.6,448.5"/></g></g>
<g transform="translate(1362,652) scale(0.663218) translate(-1530.2,-49.2)"><g clip-path="url(#cpd)"><rect x="1530.2" y="49.2" width="440" height="440" fill="#f4e3f2"/><use href="#tD"/><use href="#tDh"/><polyline class="v40" points="1584.7,69 1593.3,69 1670.5,69 1679.1,69 1687.6,69 1696.2,69 1704.8,69 1713.4,69 1722,69 1730.5,69 1739.1,69 1747.7,69 1756.3,69 1580.4,74.5 1589,74.5 1597.5,74.5 1657.6,74.5 1666.2,74.5 1674.8,74.5 1683.4,74.5 1691.9,74.5 1700.5,74.5 1709.1,74.5 1717.7,74.5 1726.2,74.5 1734.8,74.5 1743.4,74.5 1752,74.5 1576.1,80 1584.7,80 1601.8,80 1610.4,80 1627.6,80 1661.9,80 1670.5,80 1679.1,80 1687.6,80 1696.2,80 1704.8,80 1713.4,80 1722,80 1730.5,80 1739.1,80 1747.7,80 1571.8,85.5 1580.4,85.5 1589,85.5 1597.5,85.5 1606.1,85.5 1614.7,85.5 1623.3,85.5 1657.6,85.5 1666.2,85.5 1674.8,85.5 1683.4,85.5 1691.9,85.5 1700.5,85.5 1709.1,85.5 1717.7,85.5 1726.2,85.5 1734.8,85.5 1743.4,85.5 1567.5,91 1576.1,91 1584.7,91 1601.8,91 1610.4,91 1619,91 1627.6,91 1661.9,91 1670.5,91 1679.1,91 1687.6,91 1696.2,91 1704.8,91 1713.4,91 1730.5,91 1571.8,96.5 1580.4,96.5 1589,96.5 1597.5,96.5 1606.1,96.5 1614.7,96.5 1623.3,96.5 1631.9,96.5 1640.5,96.5 1649,96.5 1657.6,96.5 1666.2,96.5 1674.8,96.5 1683.4,96.5 1691.9,96.5 1700.5,96.5 1709.1,96.5 1717.7,96.5 1567.5,102 1576.1,102 1584.7,102 1593.3,102 1601.8,102 1610.4,102 1619,102 1627.6,102 1636.2,102 1644.7,102 1653.3,102 1661.9,102 1670.5,102 1679.1,102 1687.6,102 1696.2,102 1704.8,102 1713.4,102 1571.8,107.5 1580.4,107.5 1589,107.5 1597.5,107.5 1614.7,107.5 1623.3,107.5 1631.9,107.5 1640.5,107.5 1649,107.5 1657.6,107.5 1666.2,107.5 1674.8,107.5 1683.4,107.5 1691.9,107.5 1576.1,113 1584.7,113 1593.3,113 1601.8,113 1610.4,113 1619,113 1636.2,113 1644.7,113 1661.9,113 1670.5,113 1679.1,113 1687.6,113 1696.2,113 1571.8,118.5 1580.4,118.5 1589,118.5 1597.5,118.5 1606.1,118.5 1614.7,118.5 1623.3,118.5 1631.9,118.5 1649,118.5 1657.6,118.5 1666.2,118.5 1674.8,118.5 1683.4,118.5 1576.1,124 1593.3,124 1601.8,124 1610.4,124 1619,124 1627.6,124 1636.2,124 1644.7,124 1653.3,124 1661.9,124 1571.8,129.5 1580.4,129.5 1589,129.5 1597.5,129.5 1606.1,129.5 1614.7,129.5 1623.3,129.5 1631.9,129.5 1640.5,129.5 1576.1,135 1584.7,135 1593.3,135 1601.8,135 1610.4,135 1619,135 1627.6,135 1636.2,135 1580.4,140.5 1589,140.5 1597.5,140.5 1606.1,140.5 1614.7,140.5 1623.3,140.5 1777.7,140.5 1576.1,146 1584.7,146 1593.3,146 1610.4,146 1619,146 1773.4,146 1782,146 1790.6,146 1799.2,146 1571.8,151.5 1580.4,151.5 1589,151.5 1597.5,151.5 1606.1,151.5 1777.7,151.5 1794.9,151.5 1773.4,157 1782,157 1807.8,157 1760.6,162.5 1777.7,162.5 1786.3,162.5 1863.5,162.5 1889.3,162.5 1764.9,168 1816.3,168 1842.1,168 1850.7,168 1867.8,168 1885,168 1893.6,168 1902.1,168 1769.2,173.5 1777.7,173.5 1812.1,173.5 1829.2,173.5 1846.4,173.5 1897.9,173.5 1764.9,179 1773.4,179 1790.6,179 1816.3,179 1885,179 1893.6,179 1910.7,179 1752,184.5 1786.3,184.5 1820.6,184.5 1846.4,184.5 1863.5,184.5 1889.3,184.5 1897.9,184.5 1807.8,190 1824.9,190 1842.1,190 1876.4,190 1893.6,190 1820.6,195.5 1829.2,195.5 1846.4,195.5 1880.7,195.5 1897.9,195.5 1906.4,195.5 1915,195.5 1764.9,201 1782,201 1799.2,201 1807.8,201 1910.7,201 1919.3,201 1760.6,206.5 1769.2,206.5 1820.6,206.5 1837.8,206.5 1906.4,206.5 1915,206.5 1923.6,206.5 1764.9,212 1816.3,212 1833.5,212 1910.7,212 1919.3,212 1927.9,212 1769.2,217.5 1777.7,217.5 1786.3,217.5 1837.8,217.5 1846.4,217.5 1880.7,217.5 1915,217.5 1932.2,217.5 1782,223 1807.8,223 1803.5,228.5 1855,228.5 1872.1,228.5 1880.7,228.5 1897.9,228.5 1906.4,228.5 1915,228.5 1923.6,228.5 1932.2,228.5 1842.1,234 1859.2,234 1885,234 1902.1,234 1919.3,234 1927.9,234 1859.2,245 1876.4,245 1893.6,245 1846.4,250.5 1915,250.5 1923.6,250.5 1850.7,256 1885,256 1910.7,256 1919.3,256 1855,261.5 1880.7,261.5 1889.3,261.5 1897.9,261.5 1915,261.5 1756.3,267 1773.4,267 1782,267 1867.8,267 1876.4,267 1885,267 1893.6,267 1902.1,267 1910.7,267 1760.6,272.5 1769.2,272.5 1906.4,272.5 1747.7,278 1756.3,278 1764.9,278 1773.4,278 1782,278 1893.6,278 1743.4,283.5 1739.1,289 1747.7,289 1764.9,289 1726.2,294.5 1734.8,294.5 1743.4,294.5 1713.4,300 1756.3,300 1773.4,300 1700.5,305.5 1709.1,305.5 1717.7,305.5 1743.4,305.5 1752,305.5 1769.2,305.5 1747.7,311 1756.3,311 1657.6,316.5 1674.8,316.5 1683.4,316.5 1726.2,316.5 1644.7,322 1696.2,322 1704.8,322 1739.1,322 1756.3,322 1631.9,327.5 1649,327.5 1674.8,327.5 1709.1,327.5 1743.4,327.5 1752,327.5 1619,333 1627.6,333 1636.2,333 1644.7,333 1653.3,333 1661.9,333 1670.5,333 1679.1,333 1687.6,333 1696.2,333 1704.8,333 1713.4,333 1722,333 1747.7,333 1756.3,333 1614.7,338.5 1623.3,338.5 1631.9,338.5 1640.5,338.5 1649,338.5 1657.6,338.5 1666.2,338.5 1674.8,338.5 1683.4,338.5 1691.9,338.5 1700.5,338.5 1709.1,338.5 1717.7,338.5 1726.2,338.5 1734.8,338.5 1743.4,338.5 1610.4,344 1619,344 1627.6,344 1636.2,344 1644.7,344 1653.3,344 1661.9,344 1670.5,344 1679.1,344 1687.6,344 1696.2,344 1704.8,344 1722,344 1606.1,349.5 1614.7,349.5 1623.3,349.5 1631.9,349.5 1640.5,349.5 1649,349.5 1657.6,349.5 1666.2,349.5 1674.8,349.5 1683.4,349.5 1691.9,349.5 1709.1,349.5 1717.7,349.5 1734.8,349.5 1743.4,349.5 1601.8,355 1610.4,355 1619,355 1627.6,355 1636.2,355 1644.7,355 1653.3,355 1661.9,355 1670.5,355 1679.1,355 1687.6,355 1696.2,355 1704.8,355 1713.4,355 1722,355 1597.5,360.5 1606.1,360.5 1614.7,360.5 1623.3,360.5 1631.9,360.5 1640.5,360.5 1649,360.5 1657.6,360.5 1666.2,360.5 1674.8,360.5 1683.4,360.5 1691.9,360.5 1700.5,360.5 1709.1,360.5 1726.2,360.5 1734.8,360.5 1593.3,366 1601.8,366 1610.4,366 1619,366 1627.6,366 1636.2,366 1644.7,366 1653.3,366 1661.9,366 1670.5,366 1679.1,366 1687.6,366 1696.2,366 1704.8,366 1589,371.5 1597.5,371.5 1606.1,371.5 1614.7,371.5 1623.3,371.5 1631.9,371.5 1640.5,371.5 1649,371.5 1657.6,371.5 1666.2,371.5 1674.8,371.5 1683.4,371.5 1691.9,371.5 1717.7,371.5 1584.7,377 1593.3,377 1601.8,377 1610.4,377 1619,377 1627.6,377 1636.2,377 1644.7,377 1653.3,377 1661.9,377 1670.5,377 1679.1,377 1687.6,377 1696.2,377 1713.4,377 1580.4,382.5 1589,382.5 1597.5,382.5 1606.1,382.5 1614.7,382.5 1623.3,382.5 1631.9,382.5 1640.5,382.5 1649,382.5 1657.6,382.5 1666.2,382.5 1674.8,382.5 1691.9,382.5 1717.7,382.5 1576.1,388 1584.7,388 1593.3,388 1601.8,388 1610.4,388 1619,388 1627.6,388 1636.2,388 1644.7,388 1653.3,388 1661.9,388 1704.8,388 1713.4,388 1730.5,388 1571.8,393.5 1580.4,393.5 1589,393.5 1597.5,393.5 1606.1,393.5 1614.7,393.5 1623.3,393.5 1631.9,393.5 1640.5,393.5 1649,393.5 1666.2,393.5 1717.7,393.5 1726.2,393.5 1567.5,399 1576.1,399 1584.7,399 1593.3,399 1601.8,399 1610.4,399 1619,399 1627.6,399 1636.2,399 1644.7,399 1661.9,399 1670.5,399 1687.6,399 1704.8,399 1563.2,404.5 1571.8,404.5 1580.4,404.5 1589,404.5 1597.5,404.5 1606.1,404.5 1614.7,404.5 1623.3,404.5 1631.9,404.5 1640.5,404.5 1657.6,404.5 1683.4,404.5 1567.5,410 1576.1,410 1584.7,410 1593.3,410 1601.8,410 1610.4,410 1619,410 1627.6,410 1636.2,410 1653.3,410 1670.5,410 1696.2,410 1713.4,410 1563.2,415.5 1571.8,415.5 1580.4,415.5 1589,415.5 1597.5,415.5 1606.1,415.5 1614.7,415.5 1623.3,415.5 1631.9,415.5 1640.5,415.5 1657.6,415.5 1666.2,415.5 1683.4,415.5 1691.9,415.5 1567.5,421 1576.1,421 1584.7,421 1593.3,421 1601.8,421 1610.4,421 1619,421 1627.6,421 1636.2,421 1644.7,421 1661.9,421 1713.4,421 1756.3,421 1764.9,421 1563.2,426.5 1571.8,426.5 1580.4,426.5 1589,426.5 1597.5,426.5 1606.1,426.5 1614.7,426.5 1623.3,426.5 1631.9,426.5 1666.2,426.5 1683.4,426.5 1691.9,426.5 1709.1,426.5 1717.7,426.5 1734.8,426.5 1760.6,426.5 1769.2,426.5 1567.5,432 1576.1,432 1584.7,432 1593.3,432 1601.8,432 1610.4,432 1619,432 1627.6,432 1653.3,432 1696.2,432 1563.2,437.5 1571.8,437.5 1580.4,437.5 1589,437.5 1597.5,437.5 1606.1,437.5 1614.7,437.5 1623.3,437.5 1631.9,437.5 1640.5,437.5 1709.1,437.5 1726.2,437.5 1769.2,437.5 1567.5,443 1576.1,443 1584.7,443 1593.3,443 1601.8,443 1610.4,443 1619,443 1627.6,443 1644.7,443 1704.8,443 1730.5,443 1571.8,448.5 1580.4,448.5 1589,448.5 1597.5,448.5 1606.1,448.5 1614.7,448.5 1623.3,448.5 1631.9,448.5 1717.7,448.5 1734.8,448.5 1752,448.5 1584.7,454 1593.3,454 1601.8,454 1610.4,454 1619,454 1627.6,454 1696.2,454 1713.4,454 1550.4,146 1571.8,162.5 1769.2,261.5 1794.9,448.5"/><polyline class="v41" points="1661.9,69 1593.3,80 1593.3,91 1722,91 1606.1,107.5 1700.5,107.5 1627.6,113 1653.3,113 1640.5,118.5 1584.7,124 1649,129.5 1769.2,140.5 1786.3,140.5 1601.8,146 1760.6,151.5 1769.2,151.5 1803.5,151.5 1756.3,157 1790.6,157 1799.2,157 1816.3,157 1769.2,162.5 1794.9,162.5 1803.5,162.5 1812.1,162.5 1820.6,162.5 1829.2,162.5 1846.4,162.5 1855,162.5 1872.1,162.5 1880.7,162.5 1756.3,168 1773.4,168 1782,168 1790.6,168 1799.2,168 1807.8,168 1859.2,168 1876.4,168 1752,173.5 1760.6,173.5 1786.3,173.5 1794.9,173.5 1803.5,173.5 1820.6,173.5 1837.8,173.5 1855,173.5 1872.1,173.5 1889.3,173.5 1906.4,173.5 1782,179 1799.2,179 1807.8,179 1824.9,179 1833.5,179 1842.1,179 1850.7,179 1859.2,179 1867.8,179 1876.4,179 1777.7,184.5 1794.9,184.5 1803.5,184.5 1812.1,184.5 1829.2,184.5 1837.8,184.5 1855,184.5 1872.1,184.5 1880.7,184.5 1906.4,184.5 1915,184.5 1756.3,190 1764.9,190 1773.4,190 1782,190 1799.2,190 1816.3,190 1833.5,190 1859.2,190 1885,190 1902.1,190 1910.7,190 1919.3,190 1760.6,195.5 1769.2,195.5 1777.7,195.5 1786.3,195.5 1794.9,195.5 1803.5,195.5 1812.1,195.5 1837.8,195.5 1855,195.5 1863.5,195.5 1872.1,195.5 1889.3,195.5 1773.4,201 1790.6,201 1816.3,201 1824.9,201 1842.1,201 1850.7,201 1867.8,201 1876.4,201 1885,201 1893.6,201 1902.1,201 1777.7,206.5 1803.5,206.5 1812.1,206.5 1829.2,206.5 1846.4,206.5 1855,206.5 1863.5,206.5 1872.1,206.5 1880.7,206.5 1889.3,206.5 1897.9,206.5 1773.4,212 1782,212 1790.6,212 1799.2,212 1807.8,212 1824.9,212 1842.1,212 1867.8,212 1876.4,212 1885,212 1893.6,212 1902.1,212 1794.9,217.5 1803.5,217.5 1812.1,217.5 1820.6,217.5 1829.2,217.5 1855,217.5 1863.5,217.5 1872.1,217.5 1889.3,217.5 1897.9,217.5 1906.4,217.5 1923.6,217.5 1773.4,223 1790.6,223 1816.3,223 1824.9,223 1833.5,223 1842.1,223 1850.7,223 1859.2,223 1867.8,223 1876.4,223 1893.6,223 1902.1,223 1910.7,223 1927.9,223 1777.7,228.5 1786.3,228.5 1794.9,228.5 1812.1,228.5 1820.6,228.5 1846.4,228.5 1889.3,228.5 1782,234 1790.6,234 1807.8,234 1816.3,234 1833.5,234 1867.8,234 1876.4,234 1893.6,234 1910.7,234 1794.9,239.5 1803.5,239.5 1812.1,239.5 1820.6,239.5 1829.2,239.5 1837.8,239.5 1855,239.5 1863.5,239.5 1872.1,239.5 1880.7,239.5 1889.3,239.5 1897.9,239.5 1906.4,239.5 1915,239.5 1923.6,239.5 1807.8,245 1816.3,245 1824.9,245 1833.5,245 1842.1,245 1850.7,245 1867.8,245 1885,245 1902.1,245 1910.7,245 1919.3,245 1927.9,245 1829.2,250.5 1837.8,250.5 1855,250.5 1863.5,250.5 1872.1,250.5 1880.7,250.5 1889.3,250.5 1897.9,250.5 1906.4,250.5 1867.8,256 1876.4,256 1902.1,256 1863.5,261.5 1906.4,261.5 1764.9,267 1777.7,272.5 1872.1,272.5 1880.7,272.5 1889.3,272.5 1897.9,272.5 1876.4,278 1885,278 1760.6,283.5 1769.2,283.5 1777.7,283.5 1730.5,289 1756.3,289 1773.4,289 1782,289 1717.7,294.5 1769.2,294.5 1777.7,294.5 1704.8,300 1722,300 1730.5,300 1739.1,300 1764.9,300 1726.2,305.5 1734.8,305.5 1760.6,305.5 1687.6,311 1696.2,311 1704.8,311 1713.4,311 1722,311 1730.5,311 1739.1,311 1764.9,311 1666.2,316.5 1691.9,316.5 1700.5,316.5 1709.1,316.5 1717.7,316.5 1734.8,316.5 1743.4,316.5 1752,316.5 1760.6,316.5 1653.3,322 1661.9,322 1670.5,322 1679.1,322 1687.6,322 1713.4,322 1722,322 1747.7,322 1657.6,327.5 1666.2,327.5 1683.4,327.5 1691.9,327.5 1700.5,327.5 1717.7,327.5 1726.2,327.5 1739.1,333 1713.4,344 1730.5,344 1739.1,344 1700.5,349.5 1730.5,355 1739.1,355 1717.7,360.5 1713.4,366 1722,366 1730.5,366 1700.5,371.5 1709.1,371.5 1726.2,371.5 1704.8,377 1722,377 1683.4,382.5 1709.1,382.5 1670.5,388 1679.1,388 1687.6,388 1696.2,388 1722,388 1657.6,393.5 1674.8,393.5 1734.8,393.5 1653.3,399 1679.1,399 1713.4,399 1722,399 1730.5,399 1739.1,399 1747.7,399 1649,404.5 1666.2,404.5 1691.9,404.5 1700.5,404.5 1717.7,404.5 1726.2,404.5 1734.8,404.5 1743.4,404.5 1752,404.5 1644.7,410 1661.9,410 1679.1,410 1687.6,410 1704.8,410 1722,410 1730.5,410 1739.1,410 1747.7,410 1756.3,410 1649,415.5 1674.8,415.5 1700.5,415.5 1709.1,415.5 1717.7,415.5 1726.2,415.5 1734.8,415.5 1743.4,415.5 1752,415.5 1760.6,415.5 1769.2,415.5 1653.3,421 1670.5,421 1679.1,421 1687.6,421 1696.2,421 1704.8,421 1722,421 1730.5,421 1739.1,421 1747.7,421 1773.4,421 1674.8,426.5 1700.5,426.5 1726.2,426.5 1743.4,426.5 1752,426.5 1777.7,426.5 1636.2,432 1644.7,432 1661.9,432 1670.5,432 1679.1,432 1687.6,432 1704.8,432 1713.4,432 1722,432 1730.5,432 1739.1,432 1756.3,432 1764.9,432 1773.4,432 1649,437.5 1657.6,437.5 1674.8,437.5 1683.4,437.5 1691.9,437.5 1717.7,437.5 1734.8,437.5 1743.4,437.5 1752,437.5 1760.6,437.5 1636.2,443 1653.3,443 1670.5,443 1687.6,443 1696.2,443 1722,443 1747.7,443 1756.3,443 1764.9,443 1640.5,448.5 1649,448.5 1657.6,448.5 1666.2,448.5 1674.8,448.5 1683.4,448.5 1691.9,448.5 1700.5,448.5 1709.1,448.5 1726.2,448.5 1743.4,448.5 1760.6,448.5 1653.3,454 1661.9,454 1670.5,454 1679.1,454 1704.8,454 1722,454 1730.5,454 1739.1,454 1945,212 1833.5,256 1760.6,261.5 1640.5,316.5 1636.2,322 1614.7,327.5 1786.3,437.5 1803.5,448.5 1773.4,454"/><polyline class="v42" points="1764.9,146 1786.3,151.5 1764.9,157 1837.8,162.5 1824.9,168 1833.5,168 1863.5,173.5 1880.7,173.5 1756.3,179 1902.1,179 1760.6,184.5 1769.2,184.5 1790.6,190 1850.7,190 1867.8,190 1756.3,201 1833.5,201 1859.2,201 1786.3,206.5 1794.9,206.5 1850.7,212 1859.2,212 1799.2,223 1885,223 1919.3,223 1829.2,228.5 1837.8,228.5 1863.5,228.5 1799.2,234 1824.9,234 1850.7,234 1846.4,239.5 1820.6,250.5 1842.1,256 1859.2,256 1893.6,256 1872.1,261.5 1752,272.5 1752,283.5 1752,294.5 1760.6,294.5 1747.7,300 1640.5,327.5 1726.2,349.5 1700.5,382.5 1683.4,393.5 1691.9,393.5 1700.5,393.5 1709.1,393.5 1696.2,399 1674.8,404.5 1709.1,404.5 1640.5,426.5 1747.7,432 1666.2,437.5 1700.5,437.5 1661.9,443 1679.1,443 1713.4,443 1739.1,443 1687.6,454 1777.7,261.5 1790.6,443 1769.2,448.5"/></g></g>
<g transform="translate(1674.9,652) scale(0.663218) translate(-1530.2,-49.2)"><g clip-path="url(#cpd)"><rect x="1530.2" y="49.2" width="440" height="440" fill="#f4e3f2"/><use href="#tD"/><use href="#tDh"/><polyline class="v40" points="1584.7,69 1593.3,69 1661.9,69 1670.5,69 1679.1,69 1696.2,69 1704.8,69 1713.4,69 1722,69 1730.5,69 1739.1,69 1747.7,69 1756.3,69 1597.5,74.5 1657.6,74.5 1666.2,74.5 1674.8,74.5 1691.9,74.5 1700.5,74.5 1709.1,74.5 1717.7,74.5 1726.2,74.5 1734.8,74.5 1743.4,74.5 1576.1,80 1584.7,80 1601.8,80 1610.4,80 1627.6,80 1661.9,80 1670.5,80 1679.1,80 1687.6,80 1704.8,80 1713.4,80 1730.5,80 1739.1,80 1580.4,85.5 1589,85.5 1606.1,85.5 1614.7,85.5 1623.3,85.5 1657.6,85.5 1666.2,85.5 1683.4,85.5 1691.9,85.5 1700.5,85.5 1709.1,85.5 1717.7,85.5 1726.2,85.5 1734.8,85.5 1743.4,85.5 1567.5,91 1584.7,91 1593.3,91 1601.8,91 1619,91 1627.6,91 1661.9,91 1670.5,91 1679.1,91 1687.6,91 1696.2,91 1704.8,91 1713.4,91 1722,91 1571.8,96.5 1589,96.5 1597.5,96.5 1606.1,96.5 1614.7,96.5 1631.9,96.5 1640.5,96.5 1649,96.5 1657.6,96.5 1666.2,96.5 1674.8,96.5 1683.4,96.5 1691.9,96.5 1700.5,96.5 1709.1,96.5 1576.1,102 1593.3,102 1601.8,102 1610.4,102 1619,102 1627.6,102 1644.7,102 1653.3,102 1661.9,102 1670.5,102 1679.1,102 1687.6,102 1696.2,102 1704.8,102 1713.4,102 1571.8,107.5 1589,107.5 1606.1,107.5 1614.7,107.5 1623.3,107.5 1631.9,107.5 1640.5,107.5 1649,107.5 1657.6,107.5 1666.2,107.5 1683.4,107.5 1691.9,107.5 1700.5,107.5 1576.1,113 1584.7,113 1593.3,113 1601.8,113 1610.4,113 1619,113 1627.6,113 1636.2,113 1644.7,113 1653.3,113 1661.9,113 1670.5,113 1679.1,113 1687.6,113 1696.2,113 1571.8,118.5 1580.4,118.5 1589,118.5 1606.1,118.5 1614.7,118.5 1623.3,118.5 1631.9,118.5 1640.5,118.5 1649,118.5 1657.6,118.5 1674.8,118.5 1683.4,118.5 1576.1,124 1584.7,124 1593.3,124 1610.4,124 1619,124 1627.6,124 1636.2,124 1644.7,124 1653.3,124 1661.9,124 1571.8,129.5 1580.4,129.5 1589,129.5 1597.5,129.5 1606.1,129.5 1614.7,129.5 1631.9,129.5 1640.5,129.5 1649,129.5 1576.1,135 1584.7,135 1593.3,135 1601.8,135 1610.4,135 1619,135 1627.6,135 1636.2,135 1580.4,140.5 1589,140.5 1614.7,140.5 1623.3,140.5 1576.1,146 1584.7,146 1593.3,146 1610.4,146 1589,151.5 1597.5,151.5 1606.1,151.5 1777.7,151.5 1786.3,151.5 1794.9,151.5 1803.5,151.5 1790.6,157 1777.7,162.5 1803.5,162.5 1812.1,162.5 1829.2,162.5 1837.8,162.5 1846.4,162.5 1855,162.5 1880.7,162.5 1889.3,162.5 1799.2,168 1807.8,168 1816.3,168 1859.2,168 1885,168 1902.1,168 1752,173.5 1794.9,173.5 1803.5,173.5 1846.4,173.5 1863.5,173.5 1872.1,173.5 1880.7,173.5 1906.4,173.5 1790.6,179 1799.2,179 1859.2,179 1867.8,179 1885,179 1902.1,179 1752,184.5 1777.7,184.5 1803.5,184.5 1872.1,184.5 1880.7,184.5 1889.3,184.5 1897.9,184.5 1764.9,190 1867.8,190 1786.3,195.5 1820.6,195.5 1872.1,195.5 1880.7,195.5 1889.3,195.5 1897.9,195.5 1756.3,201 1782,201 1824.9,201 1859.2,201 1867.8,201 1876.4,201 1885,201 1893.6,201 1777.7,206.5 1803.5,206.5 1837.8,206.5 1872.1,206.5 1889.3,206.5 1906.4,206.5 1915,206.5 1923.6,206.5 1764.9,212 1790.6,212 1833.5,212 1842.1,212 1859.2,212 1867.8,212 1893.6,212 1910.7,212 1769.2,217.5 1794.9,217.5 1837.8,217.5 1880.7,217.5 1897.9,217.5 1906.4,217.5 1773.4,223 1807.8,223 1833.5,223 1885,223 1919.3,223 1794.9,228.5 1872.1,228.5 1889.3,228.5 1897.9,228.5 1906.4,228.5 1932.2,228.5 1910.7,234 1919.3,234 1846.4,239.5 1872.1,239.5 1880.7,239.5 1906.4,239.5 1842.1,245 1876.4,245 1885,245 1902.1,245 1910.7,245 1820.6,250.5 1829.2,250.5 1863.5,250.5 1872.1,250.5 1897.9,250.5 1906.4,250.5 1876.4,256 1885,256 1902.1,256 1872.1,261.5 1889.3,261.5 1893.6,267 1910.7,267 1752,272.5 1760.6,272.5 1769.2,272.5 1897.9,272.5 1747.7,278 1764.9,278 1773.4,278 1885,278 1893.6,278 1752,283.5 1760.6,283.5 1730.5,289 1747.7,289 1773.4,289 1782,289 1717.7,294.5 1726.2,294.5 1743.4,294.5 1752,294.5 1760.6,294.5 1769.2,294.5 1747.7,300 1764.9,300 1773.4,300 1700.5,305.5 1709.1,305.5 1717.7,305.5 1734.8,305.5 1743.4,305.5 1760.6,305.5 1696.2,311 1704.8,311 1739.1,311 1756.3,311 1683.4,316.5 1717.7,316.5 1726.2,316.5 1743.4,316.5 1752,316.5 1687.6,322 1696.2,322 1704.8,322 1722,322 1709.1,327.5 1717.7,327.5 1743.4,327.5 1619,333 1627.6,333 1636.2,333 1644.7,333 1661.9,333 1670.5,333 1679.1,333 1687.6,333 1696.2,333 1704.8,333 1713.4,333 1722,333 1739.1,333 1756.3,333 1614.7,338.5 1623.3,338.5 1631.9,338.5 1640.5,338.5 1649,338.5 1657.6,338.5 1666.2,338.5 1674.8,338.5 1683.4,338.5 1691.9,338.5 1700.5,338.5 1709.1,338.5 1717.7,338.5 1726.2,338.5 1734.8,338.5 1743.4,338.5 1610.4,344 1619,344 1627.6,344 1644.7,344 1653.3,344 1661.9,344 1670.5,344 1679.1,344 1687.6,344 1696.2,344 1704.8,344 1713.4,344 1722,344 1730.5,344 1606.1,349.5 1614.7,349.5 1623.3,349.5 1631.9,349.5 1640.5,349.5 1657.6,349.5 1674.8,349.5 1683.4,349.5 1691.9,349.5 1700.5,349.5 1709.1,349.5 1717.7,349.5 1726.2,349.5 1601.8,355 1610.4,355 1619,355 1627.6,355 1636.2,355 1644.7,355 1661.9,355 1670.5,355 1679.1,355 1687.6,355 1696.2,355 1704.8,355 1713.4,355 1739.1,355 1597.5,360.5 1606.1,360.5 1614.7,360.5 1623.3,360.5 1631.9,360.5 1640.5,360.5 1649,360.5 1657.6,360.5 1674.8,360.5 1683.4,360.5 1691.9,360.5 1700.5,360.5 1709.1,360.5 1717.7,360.5 1734.8,360.5 1593.3,366 1601.8,366 1610.4,366 1619,366 1627.6,366 1636.2,366 1644.7,366 1653.3,366 1661.9,366 1670.5,366 1679.1,366 1687.6,366 1696.2,366 1704.8,366 1713.4,366 1589,371.5 1597.5,371.5 1606.1,371.5 1614.7,371.5 1623.3,371.5 1640.5,371.5 1649,371.5 1657.6,371.5 1666.2,371.5 1674.8,371.5 1683.4,371.5 1691.9,371.5 1709.1,371.5 1717.7,371.5 1584.7,377 1593.3,377 1601.8,377 1610.4,377 1619,377 1627.6,377 1636.2,377 1644.7,377 1653.3,377 1661.9,377 1670.5,377 1679.1,377 1687.6,377 1704.8,377 1713.4,377 1580.4,382.5 1589,382.5 1597.5,382.5 1606.1,382.5 1614.7,382.5 1631.9,382.5 1640.5,382.5 1649,382.5 1657.6,382.5 1666.2,382.5 1691.9,382.5 1700.5,382.5 1717.7,382.5 1576.1,388 1584.7,388 1593.3,388 1601.8,388 1610.4,388 1619,388 1627.6,388 1636.2,388 1644.7,388 1653.3,388 1661.9,388 1670.5,388 1679.1,388 1687.6,388 1713.4,388 1722,388 1730.5,388 1571.8,393.5 1580.4,393.5 1589,393.5 1597.5,393.5 1606.1,393.5 1614.7,393.5 1623.3,393.5 1631.9,393.5 1640.5,393.5 1649,393.5 1657.6,393.5 1666.2,393.5 1674.8,393.5 1683.4,393.5 1691.9,393.5 1709.1,393.5 1717.7,393.5 1726.2,393.5 1734.8,393.5 1567.5,399 1576.1,399 1584.7,399 1601.8,399 1610.4,399 1619,399 1627.6,399 1636.2,399 1644.7,399 1653.3,399 1661.9,399 1670.5,399 1679.1,399 1687.6,399 1704.8,399 1713.4,399 1722,399 1730.5,399 1747.7,399 1563.2,404.5 1571.8,404.5 1580.4,404.5 1589,404.5 1597.5,404.5 1606.1,404.5 1631.9,404.5 1640.5,404.5 1649,404.5 1657.6,404.5 1666.2,404.5 1674.8,404.5 1726.2,404.5 1734.8,404.5 1743.4,404.5 1567.5,410 1576.1,410 1584.7,410 1593.3,410 1601.8,410 1610.4,410 1619,410 1627.6,410 1644.7,410 1653.3,410 1661.9,410 1670.5,410 1679.1,410 1704.8,410 1722,410 1739.1,410 1756.3,410 1563.2,415.5 1571.8,415.5 1580.4,415.5 1589,415.5 1597.5,415.5 1606.1,415.5 1614.7,415.5 1623.3,415.5 1631.9,415.5 1640.5,415.5 1649,415.5 1657.6,415.5 1666.2,415.5 1683.4,415.5 1691.9,415.5 1717.7,415.5 1734.8,415.5 1752,415.5 1769.2,415.5 1567.5,421 1576.1,421 1584.7,421 1593.3,421 1601.8,421 1610.4,421 1619,421 1627.6,421 1636.2,421 1644.7,421 1653.3,421 1661.9,421 1670.5,421 1679.1,421 1687.6,421 1704.8,421 1722,421 1730.5,421 1739.1,421 1747.7,421 1756.3,421 1563.2,426.5 1571.8,426.5 1580.4,426.5 1589,426.5 1597.5,426.5 1623.3,426.5 1631.9,426.5 1700.5,426.5 1717.7,426.5 1726.2,426.5 1734.8,426.5 1743.4,426.5 1752,426.5 1760.6,426.5 1777.7,426.5 1567.5,432 1576.1,432 1584.7,432 1593.3,432 1601.8,432 1610.4,432 1619,432 1627.6,432 1644.7,432 1661.9,432 1687.6,432 1696.2,432 1730.5,432 1739.1,432 1747.7,432 1764.9,432 1563.2,437.5 1571.8,437.5 1580.4,437.5 1589,437.5 1597.5,437.5 1606.1,437.5 1614.7,437.5 1623.3,437.5 1631.9,437.5 1683.4,437.5 1726.2,437.5 1734.8,437.5 1752,437.5 1760.6,437.5 1769.2,437.5 1567.5,443 1576.1,443 1584.7,443 1593.3,443 1601.8,443 1610.4,443 1619,443 1644.7,443 1653.3,443 1670.5,443 1713.4,443 1739.1,443 1747.7,443 1756.3,443 1764.9,443 1571.8,448.5 1580.4,448.5 1589,448.5 1597.5,448.5 1606.1,448.5 1614.7,448.5 1623.3,448.5 1631.9,448.5 1657.6,448.5 1691.9,448.5 1717.7,448.5 1726.2,448.5 1584.7,454 1593.3,454 1601.8,454 1610.4,454 1619,454 1653.3,454 1661.9,454 1670.5,454 1687.6,454 1713.4,454 1722,454 1550.4,146 1571.8,162.5 1640.5,316.5 1636.2,322 1614.7,327.5"/><polyline class="v41" points="1687.6,69 1580.4,74.5 1589,74.5 1683.4,74.5 1752,74.5 1593.3,80 1696.2,80 1722,80 1747.7,80 1571.8,85.5 1597.5,85.5 1674.8,85.5 1576.1,91 1610.4,91 1730.5,91 1580.4,96.5 1623.3,96.5 1717.7,96.5 1567.5,102 1584.7,102 1636.2,102 1580.4,107.5 1597.5,107.5 1674.8,107.5 1597.5,118.5 1666.2,118.5 1601.8,124 1623.3,129.5 1597.5,140.5 1606.1,140.5 1769.2,140.5 1777.7,140.5 1786.3,140.5 1601.8,146 1619,146 1764.9,146 1773.4,146 1790.6,146 1799.2,146 1571.8,151.5 1580.4,151.5 1760.6,151.5 1769.2,151.5 1756.3,157 1764.9,157 1773.4,157 1782,157 1799.2,157 1807.8,157 1760.6,162.5 1786.3,162.5 1794.9,162.5 1820.6,162.5 1863.5,162.5 1764.9,168 1773.4,168 1782,168 1790.6,168 1824.9,168 1833.5,168 1842.1,168 1850.7,168 1867.8,168 1876.4,168 1893.6,168 1769.2,173.5 1777.7,173.5 1812.1,173.5 1820.6,173.5 1829.2,173.5 1837.8,173.5 1855,173.5 1889.3,173.5 1756.3,179 1764.9,179 1782,179 1807.8,179 1816.3,179 1824.9,179 1833.5,179 1842.1,179 1850.7,179 1876.4,179 1893.6,179 1910.7,179 1760.6,184.5 1769.2,184.5 1786.3,184.5 1794.9,184.5 1812.1,184.5 1820.6,184.5 1829.2,184.5 1837.8,184.5 1846.4,184.5 1855,184.5 1863.5,184.5 1906.4,184.5 1915,184.5 1756.3,190 1773.4,190 1782,190 1790.6,190 1799.2,190 1807.8,190 1816.3,190 1833.5,190 1842.1,190 1850.7,190 1859.2,190 1876.4,190 1885,190 1893.6,190 1902.1,190 1910.7,190 1919.3,190 1760.6,195.5 1769.2,195.5 1777.7,195.5 1794.9,195.5 1803.5,195.5 1812.1,195.5 1829.2,195.5 1837.8,195.5 1846.4,195.5 1855,195.5 1863.5,195.5 1915,195.5 1764.9,201 1773.4,201 1790.6,201 1799.2,201 1807.8,201 1816.3,201 1833.5,201 1842.1,201 1850.7,201 1910.7,201 1760.6,206.5 1769.2,206.5 1786.3,206.5 1794.9,206.5 1812.1,206.5 1820.6,206.5 1829.2,206.5 1846.4,206.5 1855,206.5 1863.5,206.5 1880.7,206.5 1897.9,206.5 1773.4,212 1782,212 1799.2,212 1807.8,212 1816.3,212 1824.9,212 1850.7,212 1876.4,212 1885,212 1902.1,212 1919.3,212 1927.9,212 1777.7,217.5 1786.3,217.5 1803.5,217.5 1820.6,217.5 1829.2,217.5 1846.4,217.5 1855,217.5 1872.1,217.5 1915,217.5 1932.2,217.5 1782,223 1790.6,223 1799.2,223 1816.3,223 1842.1,223 1850.7,223 1859.2,223 1867.8,223 1876.4,223 1893.6,223 1910.7,223 1927.9,223 1777.7,228.5 1786.3,228.5 1803.5,228.5 1812.1,228.5 1820.6,228.5 1829.2,228.5 1837.8,228.5 1846.4,228.5 1863.5,228.5 1880.7,228.5 1923.6,228.5 1782,234 1790.6,234 1799.2,234 1807.8,234 1833.5,234 1850.7,234 1859.2,234 1876.4,234 1893.6,234 1902.1,234 1927.9,234 1794.9,239.5 1803.5,239.5 1812.1,239.5 1820.6,239.5 1829.2,239.5 1837.8,239.5 1855,239.5 1915,239.5 1923.6,239.5 1807.8,245 1816.3,245 1824.9,245 1833.5,245 1850.7,245 1859.2,245 1867.8,245 1893.6,245 1919.3,245 1927.9,245 1837.8,250.5 1846.4,250.5 1855,250.5 1880.7,250.5 1889.3,250.5 1915,250.5 1923.6,250.5 1842.1,256 1850.7,256 1867.8,256 1893.6,256 1910.7,256 1919.3,256 1855,261.5 1863.5,261.5 1880.7,261.5 1897.9,261.5 1906.4,261.5 1915,261.5 1756.3,267 1764.9,267 1773.4,267 1876.4,267 1885,267 1902.1,267 1777.7,272.5 1872.1,272.5 1880.7,272.5 1889.3,272.5 1906.4,272.5 1756.3,278 1782,278 1876.4,278 1743.4,283.5 1769.2,283.5 1777.7,283.5 1739.1,289 1756.3,289 1764.9,289 1734.8,294.5 1777.7,294.5 1704.8,300 1713.4,300 1730.5,300 1739.1,300 1756.3,300 1726.2,305.5 1752,305.5 1769.2,305.5 1687.6,311 1722,311 1747.7,311 1764.9,311 1657.6,316.5 1666.2,316.5 1674.8,316.5 1691.9,316.5 1700.5,316.5 1709.1,316.5 1734.8,316.5 1760.6,316.5 1644.7,322 1653.3,322 1661.9,322 1670.5,322 1679.1,322 1713.4,322 1739.1,322 1747.7,322 1756.3,322 1631.9,327.5 1640.5,327.5 1649,327.5 1666.2,327.5 1674.8,327.5 1683.4,327.5 1691.9,327.5 1700.5,327.5 1726.2,327.5 1653.3,333 1747.7,333 1636.2,344 1739.1,344 1649,349.5 1666.2,349.5 1734.8,349.5 1743.4,349.5 1653.3,355 1722,355 1730.5,355 1666.2,360.5 1726.2,360.5 1722,366 1730.5,366 1631.9,371.5 1700.5,371.5 1726.2,371.5 1696.2,377 1722,377 1623.3,382.5 1674.8,382.5 1683.4,382.5 1709.1,382.5 1696.2,388 1700.5,393.5 1593.3,399 1696.2,399 1614.7,404.5 1623.3,404.5 1683.4,404.5 1691.9,404.5 1700.5,404.5 1709.1,404.5 1717.7,404.5 1752,404.5 1636.2,410 1687.6,410 1696.2,410 1713.4,410 1730.5,410 1747.7,410 1674.8,415.5 1700.5,415.5 1709.1,415.5 1726.2,415.5 1743.4,415.5 1760.6,415.5 1696.2,421 1713.4,421 1764.9,421 1773.4,421 1606.1,426.5 1614.7,426.5 1640.5,426.5 1666.2,426.5 1674.8,426.5 1683.4,426.5 1691.9,426.5 1709.1,426.5 1769.2,426.5 1653.3,432 1670.5,432 1679.1,432 1704.8,432 1713.4,432 1756.3,432 1640.5,437.5 1649,437.5 1657.6,437.5 1674.8,437.5 1691.9,437.5 1700.5,437.5 1709.1,437.5 1717.7,437.5 1743.4,437.5 1627.6,443 1636.2,443 1679.1,443 1687.6,443 1696.2,443 1704.8,443 1722,443 1730.5,443 1640.5,448.5 1649,448.5 1666.2,448.5 1674.8,448.5 1683.4,448.5 1700.5,448.5 1709.1,448.5 1734.8,448.5 1752,448.5 1760.6,448.5 1627.6,454 1679.1,454 1704.8,454 1730.5,454 1739.1,454 1945,212 1833.5,256 1760.6,261.5 1769.2,261.5 1777.7,261.5 1786.3,437.5 1790.6,443 1803.5,448.5 1769.2,448.5 1773.4,454"/><polyline class="v42" points="1782,146 1816.3,157 1769.2,162.5 1872.1,162.5 1756.3,168 1760.6,173.5 1786.3,173.5 1897.9,173.5 1773.4,179 1824.9,190 1906.4,195.5 1902.1,201 1919.3,201 1812.1,217.5 1863.5,217.5 1889.3,217.5 1923.6,217.5 1824.9,223 1902.1,223 1855,228.5 1915,228.5 1816.3,234 1824.9,234 1842.1,234 1867.8,234 1885,234 1863.5,239.5 1889.3,239.5 1897.9,239.5 1859.2,256 1782,267 1867.8,267 1722,300 1713.4,311 1730.5,311 1657.6,327.5 1752,327.5 1704.8,388 1739.1,399 1636.2,432 1722,432 1773.4,432 1666.2,437.5 1661.9,443 1743.4,448.5 1696.2,454 1794.9,448.5"/></g></g>
<text x="131" y="613" font-size="20.4" text-anchor="middle">SPP1+ macro</text><text x="131" y="638" font-size="20.4" text-anchor="middle">score</text><rect x="202.5" y="604.6" width="15.05" height="17" fill="#440154"/><rect x="217.25" y="604.6" width="15.05" height="17" fill="#414487"/><rect x="232" y="604.6" width="15.05" height="17" fill="#2A788E"/><rect x="246.75" y="604.6" width="15.05" height="17" fill="#22A884"/><rect x="261.5" y="604.6" width="15.05" height="17" fill="#7AD151"/><rect x="276.25" y="604.6" width="15.05" height="17" fill="#FDE725"/><text x="213" y="640" font-size="19.5" text-anchor="middle">-2</text><text x="232" y="640" font-size="19.5" text-anchor="middle">0</text><text x="247" y="640" font-size="19.5" text-anchor="middle">2</text><text x="261.5" y="640" font-size="19.5" text-anchor="middle">4</text><text x="276" y="640" font-size="19.5" text-anchor="middle">6</text>
<text x="435" y="613" font-size="20.4" text-anchor="middle">CD8T</text><text x="435" y="638" font-size="20.4" text-anchor="middle">score</text><rect x="496.5" y="604.6" width="22.43" height="17" fill="#440154"/><rect x="518.62" y="604.6" width="22.43" height="17" fill="#31688E"/><rect x="540.75" y="604.6" width="22.43" height="17" fill="#35B779"/><rect x="562.88" y="604.6" width="22.43" height="17" fill="#FDE725"/><text x="518" y="638" font-size="11.5" text-anchor="middle">0.0</text><text x="540.5" y="638" font-size="11.5" text-anchor="middle">2.5</text><text x="563" y="638" font-size="11.5" text-anchor="middle">5.0</text>
<text x="747" y="613" font-size="20.4" text-anchor="middle">CD4T</text><text x="747" y="638" font-size="20.4" text-anchor="middle">score</text><rect x="809.5" y="604.6" width="22.43" height="17" fill="#440154"/><rect x="831.62" y="604.6" width="22.43" height="17" fill="#31688E"/><rect x="853.75" y="604.6" width="22.43" height="17" fill="#35B779"/><rect x="875.88" y="604.6" width="22.43" height="17" fill="#FDE725"/><text x="830" y="640" font-size="19.5" text-anchor="middle">0</text><text x="852.5" y="640" font-size="19.5" text-anchor="middle">3</text><text x="875" y="640" font-size="19.5" text-anchor="middle">6</text>
<text x="1125" y="613" font-size="20.4" text-anchor="middle">SPP1+ macro</text><text x="1125" y="638" font-size="20.4" text-anchor="middle">score</text><rect x="1200" y="604.6" width="22.43" height="17" fill="#440154"/><rect x="1222.12" y="604.6" width="22.43" height="17" fill="#31688E"/><rect x="1244.25" y="604.6" width="22.43" height="17" fill="#35B779"/><rect x="1266.38" y="604.6" width="22.43" height="17" fill="#FDE725"/><text x="1217" y="640" font-size="19.5" text-anchor="middle">-2</text><text x="1243" y="640" font-size="19.5" text-anchor="middle">0</text><text x="1265.5" y="640" font-size="19.5" text-anchor="middle">2</text>
<text x="1432" y="613" font-size="20.4" text-anchor="middle">CD8T</text><text x="1432" y="638" font-size="20.4" text-anchor="middle">score</text><rect x="1495" y="604.6" width="22.43" height="17" fill="#440154"/><rect x="1517.12" y="604.6" width="22.43" height="17" fill="#31688E"/><rect x="1539.25" y="604.6" width="22.43" height="17" fill="#35B779"/><rect x="1561.38" y="604.6" width="22.43" height="17" fill="#FDE725"/><text x="1516" y="640" font-size="19.5" text-anchor="middle">0</text><text x="1538.5" y="640" font-size="19.5" text-anchor="middle">2</text><text x="1561" y="640" font-size="19.5" text-anchor="middle">4</text>
<text x="1745" y="613" font-size="20.4" text-anchor="middle">CD4T</text><text x="1745" y="638" font-size="20.4" text-anchor="middle">score</text><rect x="1808.5" y="604.6" width="22.43" height="17" fill="#440154"/><rect x="1830.62" y="604.6" width="22.43" height="17" fill="#31688E"/><rect x="1852.75" y="604.6" width="22.43" height="17" fill="#35B779"/><rect x="1874.88" y="604.6" width="22.43" height="17" fill="#FDE725"/><text x="1829" y="640" font-size="19.5" text-anchor="middle">0</text><text x="1851.5" y="640" font-size="19.5" text-anchor="middle">2</text><text x="1874" y="640" font-size="19.5" text-anchor="middle">4</text>
<polyline class="gb" points="443.7,1640.9 536.1,1641.8 553.6,1646.2 838.3,1461.3 476.2,1504.9 457.1,1694.3 525.9,1536.5 540.8,1612.4 525.2,1492.4 530.9,1507.8 482.1,1508 650.6,1581.5 441.5,1609 542.1,1669 477,1468.1 635.4,1551.4 496.3,1660.2 494.9,1427.7 418.2,1654.1 387.5,1550.4 552.4,1477.8 461.9,1576.4 523.9,1602.7 512.4,1445.5 464.2,1454.4 574,1595.3 574.5,1523.2 527.4,1632.8 451.7,1695.6 530,1649.4 542.4,1642.5 456.8,1581.6 572.6,1598.3 501.6,1668.7 383.7,1666 490.6,1576.6 470.5,1600.6 427.9,1659.1 569.2,1629.3 468.5,1597.8 571.7,1600.4 584.8,1622.7 561.5,1589.3 511.6,1642.6 491.9,1603.2 556.3,1335.6 614.1,1549.1 384.5,1641.5 481,1431 489.7,1632 460.3,1585.9 526.4,1488.1 507.2,1653.8 505.4,1579 500.2,1625.5 426.8,1697.2 457.8,1645.9 561,1529.6 510.2,1629.4 509.7,1566.5 538.2,1631.4 466.3,1637.9 517.7,1539 474,1649 488.9,1554.2 554.9,1586.3 525.3,1678.1 512.9,1609.6 532.2,1602.8 511.6,1618.9 643.3,1506.8 577.1,1511.4 516.8,1668.4 479.4,1630.3 535.3,1590.6 607.3,1646.9 458.8,1690.4 530.7,1679.1 510.7,1572.5 556.7,1565.6 538.1,1590.1 454.1,1599.4 550.6,1483.2 529.4,1662.3 513.4,1674.2 494.1,1628 580.6,1578.1 431.1,1597.2 489.9,1653.7 508.1,1575.1 550.5,1621.7 508.3,1465.5 477.5,1616.2 550.5,1581.8 666.1,1521.8 480.9,1648.5 513.1,1656.1 560.5,1671.2 547.5,1518.9 527.9,1446.3 506.8,1572.9 507.2,1614.8 378.5,1546.6 461.6,1581.2 559.7,1489.6 555.2,1671.9 633.3,1440.4 530.9,1615.5 509.2,1653.6 581.1,1665.4 500.5,1669.3 422.8,1611.2 582.7,1387.8 448.6,1636.3 549.7,1659.5 528.2,1540.6 575.3,1422.9 524.7,1566 527.1,1554.7 503.4,1570.7 467,1609.1 571.2,1511.4 534.1,1526.1 458.4,1644.6 531.4,1646.8 571,1529.2 567.8,1558.9 558.9,1678.6 557.1,1605.6 543.9,1540.1 598.6,1668.1 440.7,1563 612.1,1391.2 354.7,1485 553.7,1628.3 497.7,1615.7 487,1353.4 537.5,1488.2 553.7,1507 477.5,1622.6 517.1,1557.1 421.7,1522.3 432.8,1635.8 505.9,1603 562.3,1594.5 410.8,1577.5 472.2,1639.4 558.4,1616.2 504.4,1581.3 502.7,1623.1 505.2,1472.4 588.5,1504 538.2,1623.2 572.2,1371.8 442.5,1559.9 611.6,1634 550.3,1618.7 451.4,1695.6 440.5,1668.5 390.2,1589.6 537.9,1647.8 505.2,1478.9 451.2,1651.7 598.4,1599.4 544.2,1701.5 587.3,1645.1 574.7,1578.5 452.2,1602.7 530.6,1590.5 463.8,1640.2 450.8,1587 511.1,1526.8 539.2,1632.6 525.3,1553.8 504,1651.8 507.3,1637.4 393.8,1661 553.9,1528.1 653.4,1409.9 558.8,1538.4 434.1,1637.6 527.8,1620.4 559.4,1580.5 449.6,1548.8 450.2,1537.7 524.8,1594.8 442.3,1503.2 553.9,1459.7 645.2,1685 495.5,1699.3 505.1,1562.8 455.5,1611.1 569.5,1433.9 438.4,1411.7 531.8,1523 403,1704 542.7,1639.1 586.8,1660 408.1,1605.8 411.3,1643.9 472.6,1584.2 469.7,1500.6 563.4,1529 580.8,1583.9 491.4,1644.9 468.8,1636.6 558.5,1523.6 546.7,1609.7 519.4,1453.4 399.5,1633.1 461.6,1607.4 460,1646.5 540,1664 504.2,1663.1 398.1,1594.1 462,1675.7 542.3,1655.9 579.3,1563.3 397.3,1643.3 515.5,1569.5 494.3,1644 522.6,1662.6 521.9,1650.4 500,1657.4 500.6,1616 509.6,1598.7 513.7,1577.8 469.6,1649.4 525.2,1710.1 562.5,1636.5 494,1544.9 394.4,1565.6 440.9,1531.1 401.9,1612 494.7,1559 441.9,1676.7 463.8,1649.2 532.9,1538.7 519.1,1588.8 479.6,1535.5 469.5,1549.1 594.8,1530.2 497.7,1653.6 495.4,1616.2 479.9,1557.3 541.4,1628.7 614.9,1662 605.7,1494.1 436.5,1644.2 654.1,1545.5 555.4,1545.9 461,1674.5 528.9,1684.5 483.7,1643.4 562.6,1559.5 529.3,1637.5 504.2,1669.5 540.7,1581.3 449.1,1635 476.8,1586.4 594.5,1528.2 490.6,1661.4 488.5,1651.9 553.2,1680.8 489,1375.1 571.4,1551.1 578.4,1580.7 410.3,1620.6 564.2,1448.6 555.3,1666.9 532.7,1602.3 587.5,1641.4 462.7,1636 525,1605.7 477,1610.9 481.7,1562.2 484.7,1634.2 456.3,1564.3 519.5,1622.4 599.4,1582.8 500.3,1669 484.2,1499.4 493.9,1606.2 597.8,1563.6 537.8,1559.9 616.8,1632.4 517.7,1540.8 487.1,1534.9 551.7,1637.9 531.5,1539.1 554.8,1599.1 521.9,1567.3 474.1,1617.5 456.3,1586.4 454.8,1596.6 399.9,1686.8 560.8,1553.1 489.5,1674.5 565.1,1455.1 399.5,1358.4 503.4,1541.9 588.2,1638.6 569.5,1582.1 489.7,1609.2 516.5,1568.6 492.3,1531.2 422.4,1634.3 530,1601 501.3,1622.3 538.5,1639.8 446.3,1424.3 537.8,1615.8 482.3,1669.4 491.3,1642.3 600.2,1661.9 561.8,1642.7 581.3,1691.3 459.6,1594.7 479.2,1638.8 437.8,1576.7 707.9,1545.8 548.7,1642.6 553.4,1428.2 498.5,1645.4 566.2,1559.4 421.4,1679.4 395.9,1642.2 543.9,1528.6 465.5,1604 473.9,1468.5 518.7,1603.4 428.9,1634.9 514.6,1644.3 448.6,1668.1 572.8,1610.9 536.9,1354.7 427.2,1680.6 500.4,1539.8 574.5,1655.6 543.2,1540.8 523.6,1490.3 460.8,1599.7 570.5,1588.6 587,1571.8 429.2,1539.3 538,1565.6 441.8,1610.3 504.2,1592.2 524.1,1649.6 597,1562.6 538.8,1600.7 489.1,1568.1 597.5,1497.4 433,1541.1 545.3,1661.5 402.5,1636.9 470.1,1642.2 509.9,1507.1 513.1,1660.7 532.6,1533.6 543.6,1395.5 532.9,1429.3 541.9,1436.1 613.5,1491.8 452.1,1660.5 464.8,1588.9 613.3,1526.5 466.7,1486.4 549,1523 557.4,1462.2 558.9,1663.9 482.2,1457.1 391.4,1654.3 462.7,1503.9 631.6,1466.5 567.6,1570.7 473.2,1630.5 532.3,1607.2 533.3,1670.5 464.1,1550.9 482.2,1579.5 543.3,1612.6 567.1,1575.4 490.7,1602.7 431.4,1563.6 502.5,1605 571.9,1666.5 522.8,1671.1 520,1656 446.3,1494.5 576.6,1538.2 560.4,1643.4 535.6,1542.5 417.6,1607.3 520.9,1563.2 489,1568.1 453.4,1604.4 373.3,1506.8 401.8,1642.4 500.7,1530.1 496,1682.2 560.5,1654.1 557,1591 537.3,1622 621,1672.8 462.9,1529.5 520,1572.3 444,1595.2 535.4,1664.5 499.4,1676.4 574.3,1470 481.1,1685.5 550.2,1596.7 481.9,1589.5 483.5,1658.6 507.1,1578.9 552.4,1615.9 573.1,1594.1 581.8,1577 480.4,1603.8 483.3,1578.8 493.8,1639 522.1,1564.3 556.7,1637.7 508.4,1653.5 559.6,1686.7 536.5,1667.3 523.1,1603.3 523.9,1641.1 554.6,1636.7 497.9,1524.8 453.8,1540.3 457.3,1659.4 544.8,1523 560.8,1606 613.9,1560.9 532.5,1595.7 618.6,1369.8 567.3,1593.2 445.7,1675.6 455.6,1579.1 480.5,1404.4 529.8,1640.4 504,1675.5 595.5,1509 529.2,1660.4 581.1,1569.3 483.9,1662.2 660.3,1645.1 544.7,1510.7 515.5,1621.6 605.1,1585.4 543.1,1596.2 551.2,1563.6 610.6,1598.8 590.6,1586.2 570.9,1681.6 443.2,1653.3 466.3,1537 509.6,1600.2 565.1,1674 565.1,1666.2 622.5,1566.3 473.5,1529.4 399.9,1664.5 608.4,1516.2 503.5,1620.4 490,1550.1 520.5,1544.4 515.6,1582.1 467.9,1678.8 434.2,1577.4 541.9,1637.9 376.8,1676.2 489.7,1525.9 515.2,1564.8 508.9,1537.1 523.7,1673 515.7,1661 611.5,1654.6 543.7,1533 513.2,1554.5 494.5,1588.4 573.5,1630.1 526.3,1592.1 618.9,1407.1 473.2,1611.2 519.5,1636.8 446.3,1562.7 486.1,1507.1 439.2,1478.9 483.1,1700.4 461.9,1546.4 544,1605.4 493,1511 473.7,1664.2 463.5,1557.8 453.7,1603.7 458.3,1647.1 538.6,1638.5 454.8,1661.2 661,1567.8 472,1477.4 500.2,1676.5 481.5,1641.9 597.2,1577.1 468.5,1658.2 575.7,1543.5 470.6,1640 546.6,1560.6 557,1672.3 451.6,1468.9 539.2,1661.8 545.6,1597.9 505.8,1650.3 499,1556.5 555.1,1517 332.7,1620.7 579.3,1566.1 448.2,1559.4 535.4,1653.1 523.2,1669.6 565.4,1393.2 568.3,1540 503.1,1404.1 518.3,1594.9 496,1687.4 460.9,1560.2 516.6,1532.3 585.8,1528.6 381.2,1675.3 446.8,1592.7 539.2,1697.1 531.8,1614.8 426.2,1453.6 431.6,1550.2 492.4,1619.6 612.4,1601.3 429.8,1639.5 472.6,1655.7 621.5,1536.3 553.9,1484 453.5,1629.2 523.4,1442.5 594.1,1623.6 498.4,1671.8 602.2,1663.9 570.5,1569.7 421.9,1461.3 513,1389.5 490.3,1452.8 521.1,1627.9 498.8,1612.8 468.1,1625.6 467.5,1646.2 602.9,1571.6 589.4,1574.1 475.7,1590 511.2,1553.1 520.8,1576.3 551.9,1643.2 656.8,1541.5 378.1,1651.2 528.9,1656.8 463.9,1674.1 550.6,1648.5 468.1,1686.2 429.3,1662.4 523.9,1624.2 496.5,1619.1 558.7,1415.9 511.9,1638.4 526.9,1578.5 619.1,1512.8 537.2,1532.7 613,1615.7 524,1542.3 464.8,1421.9 453.8,1685.4 549,1471.9 365.6,1662.4 392.8,1706.9 693.3,1463.8 564.2,1675.2 504.6,1622.9 575.1,1606.1 451.3,1579.7 577,1474.6 437.6,1533.5 575.6,1575.7 620.2,1370 458.3,1597.3 528,1573.8 508.4,1656.2 572.2,1648.4 618,1522.2 471.9,1661 437.9,1610 534.5,1610.5 550.5,1609.3 535.6,1605.9 482.8,1655.3 429.4,1511 542,1491.7 505,1577.6 547.1,1554.8 488.2,1675.7 592.6,1456.3 533.2,1605 496,1611.6 416.8,1642.2 503.3,1619 562.1,1540.6 494.4,1680.5 526.1,1609 462.7,1478.5 541.5,1659.1 520.6,1672.3 479.1,1610.5 571.2,1556.3 570.2,1541.2 450.9,1617.9 499.8,1506.9 524.1,1656.1 405.1,1648.8 647.3,1424.8 507.3,1622 579.9,1639.7 515.3,1447.5 467.2,1648 539.8,1466.1 505.9,1684.5 512.4,1511.6 519.1,1567.7 485.9,1639.1 519.1,1668.3 482.2,1680.3 553.2,1551.3 417.6,1654.1 493.7,1649.9 516.8,1631 509.8,1591.6 449.5,1686.5 518.3,1662.7 502.2,1597.8 390.5,1688.3 603.7,1534.3 561.8,1396.5 509.6,1661.1 532.7,1626 449.1,1574.1 444.4,1588.2 453.3,1564.8 368,1507.6 555.8,1624.6 487.6,1556.2 389.5,1690.2 694.5,1554.7 475.2,1581.3 584.2,1632.2 503.9,1618.9 535.6,1589.5 435.1,1620.3 483,1634.6 436.8,1642.1 554.2,1526.7 454.3,1701.6 488.3,1569.1 480.4,1652.6 550.6,1660.7 458.2,1585.6 555.1,1583.4 519.5,1594.8 410.6,1667.5 432.3,1647.5 493.3,1553.8 432.9,1649.1 510.1,1659 466.6,1546.1 399.4,1641.8 564.8,1558.1 468.4,1664.8 499.7,1665.4 560.1,1662.7 497.6,1570.1 590.6,1503.4 468.2,1569.6 570.9,1609 499.2,1615.2 588.8,1593.9 582.1,1526.7 497.8,1681.7 548.9,1628.2 503.5,1640.2 455,1691.2 510.1,1593.7 488.8,1575.5 479.3,1533.2 537.4,1535.1 481.4,1615.1 519.3,1582.3 480.7,1671 519.5,1516.8 393.1,1552.3 529.5,1612.7 458.9,1578.5 525.8,1612 439.2,1584.2 500.8,1640.9 625.5,1554.1 640.5,1580.5 487.5,1596.2 484,1649.8 537.3,1577.5 545,1604.7 675.5,1624 482.2,1597 522.3,1562.1 493.3,1413.3 519.8,1601.1 580.1,1621 446,1582.1 558.4,1665.1 461,1647.6 430.7,1617.3 453.7,1630.8 429.3,1619 408.3,1648 486.2,1621.5 558.5,1619.1 465.2,1646.6 504,1593.3 565.6,1515.1 521.1,1566 535.5,1515.3 539,1687.1 461,1664.2 461.9,1687.3 491.8,1515.7 398,1606.7 458.9,1702 526.9,1688.4 440.3,1616.9 566.2,1604.4 528.7,1672.5 524.4,1570.2 485.5,1605.5 461.5,1583.2 531.3,1653.7 556.1,1579.2 553.2,1614.8 537.2,1677.9 494,1659.3 629.9,1540.3 557.9,1539.9 625.1,1554.4 532.6,1703.7 415.5,1673.8 509.7,1604 534.2,1578 444.1,1586.5 562.1,1541.1 595.4,1634.8 496,1542.8 532.8,1581.7 503.7,1516.3 407.7,1586.8 553.2,1551.4 418.8,1584.5 513.2,1529.6 430.1,1670.1 495.3,1562.5 485.7,1565.1 619.8,1615.2 514.9,1645.6 550,1629.4 527.6,1595.1 524,1492.3 603.5,1575.2 493,1678.1 522.1,1485.5 450.9,1635.6 523.8,1620.9 416.3,1563.6 582.4,1552.8 565.5,1519.8 674.6,1545.5 569.4,1602.6 598.6,1357.8 520.2,1600.6 429.6,1706.8 480.3,1632.4 515.2,1616.5 578.4,1390.2 490.2,1498.6 497,1556.9 562.8,1674.7 447.5,1560 451.9,1654.2 578.8,1586 534.5,1700.6 523.1,1692 528.1,1572.2 492.8,1555 562.9,1664.3 495.7,1455.9 503.5,1652.4 535.2,1453.4 448.2,1516.6 575.2,1588.2 527.2,1671.2 532.1,1688.2 426.3,1710.7 475.8,1647.2 477.7,1506.5 533.9,1608.1 520.3,1392 543.5,1655.1 476.2,1586.9 557.3,1494 430.7,1692.1 412.9,1613.9 599.7,1635.9 556.2,1562.6 394.4,1669.2 514.9,1496.6 554.3,1550.7 488,1556.8 501.1,1475.6 584.7,1649.9 435.2,1553.1 435.4,1394 494.5,1671.8 403.2,1607.2 513,1613.9 430.9,1613.7 481.2,1504.6 528.4,1573.9 670.3,1579.6 461.3,1688.2 600,1564.2 428.9,1656.2 494.4,1562.3 441.3,1644.4 563.4,1449.9 368.7,1611.6 461.9,1549 401.3,1651.8 431.4,1496.9 515.6,1454.2 562.4,1515.5 519.6,1627.7 496.6,1646.8 431,1662.5 466.9,1668.1 546.4,1641.3 519.1,1639.5 535.9,1576.4 524.7,1567.2 546.2,1457.2 564.7,1592.5 527.7,1446.9 448.9,1560.9 458,1643.3 579.7,1592.7 510.9,1637.9 514,1666.9 465.7,1590.9 510.4,1472.5 564.4,1689 549.7,1665.7 577.3,1689.8 533.2,1613.9 456.4,1576.7 525.7,1619.4 409.6,1675.2 546.6,1509.6 580,1568.8 575.1,1565.1 513.1,1666.8 445.7,1617.3 413.6,1653.2 428.8,1594.8 457.2,1657.5 461.6,1701.8 515,1616.2 583.3,1673.8 423.8,1446.5 557.4,1618.7 656.3,1436.9 542.8,1647.9 459.6,1596 498.7,1396.6 522.7,1690.7 626.4,1476.4 606.9,1500.7 675.2,1478.5 492.4,1628.3 580.2,1629.4 596.1,1650 611,1392.8 498.8,1686.5 517.1,1566 455.1,1563 533.9,1562.2 585.5,1373 450,1631 524.5,1527.6 520.9,1591.4 430.1,1467 491.9,1417.9 588.4,1599.6 608.8,1630.4 397.1,1680.4 467.5,1676.3 491,1622.6 479,1645.2 471.1,1661.3 564.4,1699 456.4,1661.6 606.4,1636.5 472.8,1579.1 513.6,1592.1 599.7,1478.8 570.8,1620.9 474.5,1614.9 540.1,1620.4 564,1672.2 526,1605.7 477.2,1582.7 566.5,1632.5 587.4,1575.7 442.6,1533.2 506.4,1615.5 597.6,1548.2 517.6,1573.6 519,1546.5 570.3,1505.9 628.5,1545.8 474.2,1688.2 505.2,1612.4 564.3,1559.6 562.5,1625.6 385.4,1672.9 567.2,1439.3 581.3,1612.8 552.6,1651.1 525,1439.2 394.1,1575.1 477.5,1582.2 437.5,1663.8 500.5,1549.8 455.4,1641.7 618.9,1535.2 472.8,1687.9 443.5,1644.7 515.6,1601.9 413.3,1491.4 489.8,1644.3 574.5,1475.6 478.3,1603.3 454.2,1569.7 397.7,1659.3 589.6,1668.4 528.7,1609.6 605,1585.4 531,1645.2 566.9,1649.2 486.5,1699.9 526.5,1421.9 474.6,1438.3 541.1,1466.6 467.9,1583.1 688,1519.2 525.3,1661 610.9,1591.9 493.4,1525.8 563.6,1606.3 483.5,1633.2 533.6,1624.7 442.8,1532.2 555.9,1550.9 475.9,1441.8 577,1642.7 527.1,1589.2 510.5,1597.5 584.1,1631.8 470,1656.4 538.3,1648.9 475.3,1678 482.2,1564.3 549.7,1537.2 378.8,1670.3 542.4,1590.2 507.7,1619.4 514,1615.4 498.2,1688.7 576.1,1474.4 566.3,1615.1 511.5,1550.6 576.5,1579 544.8,1513.9 468.2,1655.1 502.4,1642.7 511.2,1606.8 361.7,1585.9 508.3,1579.5 379.5,1627 533.4,1646.6 468.6,1524.6 471,1666.4 501.7,1615.5 585.2,1514.6 551.7,1596.2 670.1,1382 560.6,1588.9 464.6,1576.9 533.6,1576.4 556.4,1518.8 486.7,1594.9 594.2,1487.4 579.3,1526.6 488.3,1611.7 572,1636.4 567.4,1520.9 526.8,1650.5 584.7,1648.7 504.9,1613.7 486.5,1555.5 609.4,1612.1 482.1,1586 643.9,1605.1 462,1660.3 639.7,1618 582.7,1619.2 437.2,1509.9 576.9,1638.4 513.7,1580.1 482.3,1593.6 464,1635.5 534.3,1630.7 542.3,1637.4 503.2,1502.3 470.2,1704.2 436.9,1644 523.5,1602.3 470.8,1652.2 630.9,1464.1 594.9,1486 471.6,1602.5 501.5,1645.1 502,1671.6 599.7,1533.9 522.1,1675.8 457,1658.2 476.3,1581.2 534,1658 443.7,1630.1 500.3,1626.9 513.8,1631.2 459.1,1647.5 515.5,1538.5 606.1,1562.3 470.5,1571 463.1,1660.6 504.9,1523 434.2,1670.3 546,1637.1 676.7,1568.5 453.3,1638 474.6,1669.8 522,1603.9 525.7,1619 496.7,1654.9 391.5,1415.6 457.3,1551 499.7,1628.6 434.5,1575.5 490.7,1572.1 619.6,1643.4 571.9,1626.2 517.4,1616 496.2,1373.8 639.5,1485.5 500.2,1521.4 479.9,1547.6 509.5,1664.8 470.5,1651 521.9,1641.3 512.3,1451.1 488.6,1637.6 506.3,1674.9 495.7,1588.6 451.3,1637.6 458,1681.4 478.2,1692.6 517.1,1565.1 562.9,1542.6 520.3,1597.9 549.1,1514.6 468.1,1552.3 463.6,1587.8 653.3,1503.9 557.7,1638 433.1,1677.8 538.6,1535.1 561.5,1574.1 472.6,1549.3 551.7,1466.4 466,1648.3 564.5,1673.6 444.2,1604.3 517.5,1662.1 454.5,1607.7 420.8,1688 467.6,1510.1 549.5,1645.7 476.6,1649.5 471.4,1568.3 457,1467.9 506.3,1614.6 588.5,1576.2 487.2,1451.3 556.1,1540.7 475.7,1679.2 539.2,1556.5 485.2,1395.9 418.1,1518.6 529.2,1548.3 536.6,1612.8 609.5,1642.6 544.5,1600.1 567.4,1562.7 424.4,1621.9 471.9,1438.9 433.4,1498.8 377.3,1684.1 534.4,1629 492,1496.6 547.1,1629.2 469.2,1593.4 577.1,1632.9 448.8,1662.6 584.2,1570.2 483.7,1658.3 506.2,1530.9 558,1493 510.4,1533.7 554.7,1613.9 608.1,1473.1 469.5,1631.3 387.5,1677.7 564.3,1642.1 406.6,1689.8 581.4,1430.6 422.8,1713.1 481.5,1489.5 476.9,1689.5 568.6,1575.4 591.4,1404 507.4,1647.3 408,1702.8 499.4,1644 544.4,1670.9 526.5,1666.3 520.2,1671.2 540.3,1583.6 470.9,1629.6 494.5,1669.5 563.1,1508.9 603.4,1569.7 430.7,1537.8 452.6,1573.6 589.4,1595.3 482.8,1681.6 520.5,1601 658.9,1613.1 472.3,1609 587.9,1642.6 435.1,1639.1 509,1583.2 497,1356.7 501.9,1541.5 471.5,1631.8 524.3,1619.8 485.7,1594.8 630.2,1628.1 566.3,1614 613.6,1643.6 536.2,1630.4 479.7,1379.5 589.1,1491.6 602.4,1555.1 581.7,1534.6 512.2,1602.5 476.2,1662.5 524.1,1672.7 452.9,1558.5 535.7,1497.8 538.7,1609.4 482.6,1602.1 525.4,1564.5 482.7,1644.3 418.2,1663.8 372.5,1625.4 568.1,1543.5 534.7,1620.6 497.2,1625 531.1,1710.4 574.6,1664.9 558.9,1649.7 541.3,1568.5 445.4,1675.6 471.2,1610.1 640.6,1444.9 429.7,1679.4 517.5,1609.6 559,1636.7 430.5,1389.4 497.6,1593 488.8,1501.6 390.5,1667.4 429.4,1575.4 515.7,1430.4 547.6,1508.3 571.3,1579.2 464.1,1675.6 572.2,1629.8 557.2,1604.9 391.3,1505.8 473.3,1632.8 530.4,1616.9 515.4,1474.2 500.4,1474.9 448.5,1603.1 490,1682 567.1,1538.1 509.9,1633.2 451.3,1599.2 547.2,1512 586.4,1599.2 468.7,1528.9 418.6,1661.3 615.8,1576.4 588.6,1605.5 533.7,1537.1 486.6,1532.1 521.1,1548.2 625.5,1631.2 547,1635.3 570.4,1608.8 520,1636.8 598,1530.4 421.6,1587.4 572,1564.9 551.9,1629 600.1,1682.2 460.4,1623.6 531.5,1675.3 507.5,1641.1 590.7,1602 425.2,1709.9 465.8,1572 569.9,1425 582.3,1619.5 506,1581.7 542.6,1564.7 450.5,1607.9 465.9,1530.8 472.1,1626.2 605.6,1498.7 602.5,1575 495.9,1621.8 479.3,1635.9 472.9,1639.1 385.8,1537.2 645.4,1592.1 500.1,1438.7 460.6,1573.9 566.7,1624.3 551.2,1527.8 437.1,1695.9 526,1594 477.5,1685.9 481.5,1630.2 500.5,1672.7 511.6,1578.7 528.4,1443.5 497.6,1489.2 551.9,1545.8 530.8,1464.6 419.3,1661.9 467.3,1556.8 596.4,1500.4 470.9,1646.2 427.5,1624.5 614.1,1683.3 563.8,1641.6 488.5,1583.8 468.2,1547.4 395.1,1631.7 530.1,1630.1 461.9,1653.8 467.8,1482 338,1613.3 601.6,1506.1 530.4,1562.3 455.6,1540.8 560.3,1612.7 563.7,1653.5 526.9,1510.7 470.5,1518.9 464.8,1583.1 497.9,1649.8 530.7,1584.5 525.6,1695.7 605.8,1582.9 443.4,1446.9 484.7,1612.6 503.2,1680.9 431.6,1549.8 476.3,1608.2 558.4,1628.8 520.3,1704.8 455.5,1662.3 425.5,1606.3 608.6,1613.7 616.8,1639.4 521.9,1657.1 459.6,1580.7 576.3,1581.3 530.8,1536.3 440.5,1573.6 474.9,1656 541,1544.6 480.1,1620.6 442.4,1665.8 537.4,1513.5 430.5,1558.5 510.1,1680 414.3,1583.7 504.3,1515.6 517.5,1680.1 550.9,1642.9 532.8,1602.1 531.6,1641.3 486.8,1648.8 576.6,1647.8 549.1,1534.5 528,1519.7 559.5,1657.6 370.2,1661.7 558.1,1589.5 558.9,1470.6 608.3,1569.7 409.6,1544.5 537.8,1575.8 396.6,1608.8 548.2,1668 605.7,1541.8 649.6,1428.8 544.6,1655.5 420.5,1647.4 509.4,1569.8 477.6,1604.7 421.1,1651.4 435.9,1592.6 513.3,1571.1 516.9,1494.1 438.6,1667.1 411.6,1670.3 511.1,1608.9 448,1593.3 490.2,1608.4 545,1598.3 672.2,1428.5 559.2,1566.7 452.1,1621.4 542.1,1622.1 475.4,1651.9 600.6,1563.8 512.9,1647 410.6,1541.2 532.8,1580.2 594,1551.3 483.3,1630.7 602.9,1588.3 494.2,1633.9 635.1,1634.3 500.3,1619.7 470.8,1441.9 515.4,1559 555.6,1647.1 507.7,1571.7 481.8,1617.8 537.7,1570.8 572.2,1432.8 493.8,1553.5 522.4,1673.9 496.2,1629.6 579.7,1541.6 578.4,1633.4 603.3,1619.7 567.8,1430.8 505.7,1617.4 535.8,1668.1 560.2,1672.9 517.4,1549.6 558,1678.4 627.8,1660.6 512.7,1467.8 492.6,1499.3 541.8,1640.9 440.7,1545.6 453.1,1526.5 518.8,1646.7 483.6,1629.3 415,1604.3 522.2,1640.9 460.5,1558.7 646.3,1477.3 518.4,1695.5 451.1,1547.6 437.9,1621.5 570.5,1540.9 592.9,1610.6 519.1,1429.7 475.1,1644.2 545.3,1647.5 499.8,1590 589.5,1475.4 444.3,1501.4 583.9,1490.4 453,1643.4 428.7,1656.4 574,1533.7 436.3,1554.4 520.2,1537.1 484.4,1647.9 605.5,1483.2 505.5,1615.6 536.7,1630.9 519.1,1585.2 534.5,1632.9 551.3,1453.5 453.9,1602.3 477.8,1603.1 552.6,1648.8 654.1,1515.8 476,1519.4 499.4,1443.5 503.8,1649.8 501.2,1610.6 462.9,1554.1 549.6,1665.1 535.5,1553.8 389.3,1490.9 577.1,1549.1 494.1,1679.4 510.6,1479.9 551.1,1666 526.9,1617.6 507.8,1528.5 457,1687.1 540.6,1500.2 468.7,1489 517.5,1611.1 563.9,1590.7 437.3,1582.9 511.4,1609.5 522.2,1657.6 550.8,1509.5 614.6,1474.9 491.9,1628.8 465.4,1582.4 548,1596.1 555.1,1559.8 602.3,1526.6 470.7,1385.7 488,1647.5 538.7,1573.4 460.6,1494.5 593,1634.2 467.3,1651.5 642.4,1628.7 472.9,1685.7 504.8,1590.2 475.8,1610.1 493.5,1491.2 544.1,1588 422.8,1544.5 598,1626.9 440.2,1582.8 512.1,1534.8 483,1646.9 512.4,1611.5 540,1559 541.3,1544.8 637,1537.3 458.6,1628.4 548.7,1634.8 539,1557 479.4,1590.5 517.6,1497.7 467.7,1544.8 566.4,1604.6 499.4,1652.9 545.9,1523 560.7,1672.7 475.2,1592.6 576.6,1553.9 509.1,1607.3 437.1,1602.7 482.9,1667.6 419.2,1621.4 505.3,1568.4 476.7,1601.3 519.8,1673.1 482.7,1659.5 465.8,1624 511.1,1664.5 548.7,1625.1 471.2,1655.8 517.2,1540.1 518.3,1572.8 481.1,1682.3 527,1492.7 381.7,1590.1 422.3,1472.8 485.7,1544.5 501.8,1636.9 564.9,1542.6 437.8,1593.6 442.4,1659.8 481.3,1618.4 534.2,1579.3 455.6,1620.2 415.9,1654.3 555.4,1582.1 452.8,1644.1 448.1,1555.1 558.5,1599.2 593.3,1537.2 437.8,1623.2 653.2,1595.3 481.5,1659.4 347.8,1691.9 562.1,1568.5 525.6,1514 439.3,1404.2 530.3,1620.1 553.4,1471.5 412.9,1690.1 530.4,1659.9 527.9,1563.8 588.4,1653.5 525.6,1627.5 535.5,1562.8 631.2,1408.3 553.8,1609.6 491.4,1615.6 526,1377.1 380.4,1495.4 500.7,1658 540.3,1573.6 558.7,1536.3 556.2,1667.1 519.8,1672 475.3,1492.9 543.3,1585.9 551.3,1627.9 569.9,1633.2 533.7,1567 484.4,1659.6 477.1,1617.7 534.3,1663.1 565.2,1525.2 418,1521 627.3,1394.8 433.8,1630.8 585.1,1502.8 537.2,1672.8 407.8,1692.2 502,1699.1 442.4,1688.7 607.2,1561.2 503.5,1572.6 515.4,1650.8 412.8,1675.9 587.9,1635.5 612.2,1583.1 499.6,1586.5 629.4,1630.6 436.6,1610.1 448,1615.2 470.6,1593.7 513.8,1554.7 479.6,1687.1 573.2,1524.5 496.4,1614.5 491.3,1649.3 606.9,1656.4 605.4,1464.4 555.5,1572.8 613.2,1636.1 510,1534.3 599.4,1561.8 484.4,1587.3 568.9,1624.2 488.1,1679 434.9,1681.7 525.5,1598.4 429.3,1638 560,1552.1 551.2,1650.6 605,1569.1 526,1624.5 407.6,1532.5 672.8,1637.4 455.5,1685.6 717.7,1543.1 507.5,1529.5 574.7,1634.3 484.8,1611.4 337.7,1612.7 441.6,1455 413.5,1608.4 452,1702.7 581.2,1634.1 530,1651.2 561.3,1623.5 518.6,1537.4 426.7,1647 390.7,1609.7 443.5,1459.2 455.1,1594.5 535.5,1641.4 460.5,1648.4 466.4,1612.5 472,1649.6 494.1,1488.2 538.5,1630.6 560.6,1594.4 451.4,1572.3 581.1,1533.5 546.1,1573.8 590.2,1574.4 528.3,1357.6 578.7,1476.4 491.4,1652.6 672.1,1512 463.1,1657.8 494.5,1564.3 491.1,1647.6 483.3,1655 586,1623.2 487.6,1580.5 605.1,1455.2 483.2,1609.1 462.9,1642.6 520.3,1511.3 445.7,1619.6 522.8,1559.4 524.9,1629.9 536.3,1668.6 485.6,1629.4 418,1619.8 555.7,1632.7 514.7,1552.7 428.7,1548.9 527,1547.5 539.6,1549.6 442.5,1659.2 614.1,1622.7 555.2,1643.7 386.4,1678.7 433.1,1561.5 550.3,1663.9 475,1659.4 455.8,1610.9 450.4,1594.7 595.3,1595.7 473.1,1515 484.1,1591.1 522.7,1607.5 502,1566.1 628.6,1591.5 464.1,1675.4 569.2,1638.5 546.8,1619.2 527.8,1534.7 523.1,1642.9 525.2,1694.7 552,1640 553.6,1612.8 552.9,1521.5 551.5,1606.6 412.6,1595.9 494.5,1401.7 503.4,1696.9 485.8,1573.1 464.2,1556.2 447.9,1622.7 500.4,1627.9 449.2,1694.3 503.9,1522.9 488.8,1643.2 512.3,1636.6 575.5,1515.3 419.8,1621.6 497.4,1654.9 476.5,1532.7 439.5,1593.1 486.2,1694.6 579.5,1518.4 517.3,1558.3 522.7,1679.2 486.7,1599.7 549.4,1632.4 503,1616.6 528.2,1663.5 514.7,1659.6 514,1619.1 808,1587.4 480.1,1653.2 587.7,1599 492.8,1653.5 530.5,1615.8 528.7,1657.9 554.7,1544.2 523.2,1605.8 493,1581.6 551.5,1587.3 502.3,1465.8 529.8,1524.7 467.6,1614.9 492.8,1650.6 587,1645.6 447.4,1633 417.7,1683.6 527.3,1613.3 486.8,1417.9 553.5,1665.5 530.1,1614.9 483.6,1510.3 608.3,1335.9 510.3,1591.2 523.1,1651.5 511,1593.7 453.9,1519.5 502.1,1562.7 512.2,1458.9 449.7,1589.4 460.4,1676.4 498.8,1540.6 524.3,1576.8 483.7,1448.2 404.8,1532.5 430.1,1617.2 548.5,1621.8 453.6,1512.9 494.4,1614.2 395.5,1593.9 519.4,1586.1 685.5,1540.9 510.5,1575.4 509.3,1474.1 361.2,1562.3 531.4,1667.4 540.6,1643 560,1649.1 545.5,1641.6 591.7,1689.3 583.8,1586.4 407,1585.5 590.9,1645.7 646.8,1599.2 453.8,1654.4 501.7,1600.5 512.7,1632.3 491.8,1630.2 491.1,1507.6 475.3,1606 478.9,1532.9 506.1,1623.6 515.3,1561.1 454.2,1475.4 447.7,1416.9 558.9,1576.3 482.5,1641.2 492.2,1561.8 409,1605.6 586,1652.9 564.2,1649.6 440.2,1668.8 596.2,1604.3 542,1629.2 534.8,1602.5 540.6,1608.7 519.2,1659.9 461.3,1681.2 490.5,1488.7 560.2,1548.4 565.5,1446.3 613.3,1600.3 484.7,1458.6 535.4,1601.7 585.8,1497.2 481.7,1472.3 455.9,1517.2 618.2,1583.1 570.5,1652.6 554.4,1573.6 518.6,1661.2 444,1513.2 474.1,1625.4 466.9,1594.3 505.4,1550.4 497.5,1610.8 488.9,1484.9 428,1608.2 443.8,1649.5 526.1,1630.3 445.3,1644.2 519.9,1602.4 541.6,1554.9 495.3,1641.3 427.8,1715.7 522.5,1440.8 502.8,1498.3 610.7,1609.8 578,1582.7 493.9,1549.8 503.1,1655.7 537.7,1592.1 473,1633 536,1632.3 444.3,1692.5 386.1,1678.4 560.9,1653.9 417.2,1658 471.1,1576.1 557.4,1551.3 481.4,1549.5 638,1669.1 455.4,1668.6 705.4,1640.4 566.6,1566 436.7,1589.5 507.6,1594.5 564,1547.4 541.5,1650.2 540.8,1669.2 516.2,1610.6 602.9,1705.5 523.2,1644.6 498.1,1611 415.8,1690 684.7,1540.1 552.5,1674.5 611.5,1650.4 492.2,1502.8 452,1599 462.1,1628.8 414.4,1648.3 602.9,1398.1 558.6,1432.2 399.9,1591.3 559.3,1626.3 472.8,1535 621.1,1573.4 508.4,1624.2 563.4,1572.1 437.9,1636.6 494.6,1701.2 468.6,1431.1 472.7,1504.7 504.4,1694.5 465.9,1547.2 547.5,1554.2 421.1,1698.6 554.3,1574 527.8,1509.8 462.3,1521.9 423.2,1638.2 468.7,1602.5 619.1,1627.9 565.2,1546.9 448.7,1518.8 623.7,1630.5 571.4,1511.2 562.3,1640.2 415.3,1616.3 592.6,1478.3 498.1,1533.2 499.8,1650.9 521.2,1546.8 508.9,1671.2 506.5,1550.9 529.2,1569.4 459.4,1611.2 541,1619.8 462.5,1687 479.7,1646.4 428.2,1632.3 516.2,1542.3 506.7,1527.7 416.5,1701.6 501.4,1550.6 502.7,1548.3 516.4,1656.1 482.6,1648.7 400.6,1593 524.4,1581.3 648.9,1609.8 511.9,1608.4 441,1631.1 541.6,1624.6 631.8,1517.6 639.2,1617.7 423,1701.1 595,1605.1 486.5,1676.4 509,1564.3 590.9,1477.3 540.5,1587.9 557.2,1536 500.4,1536.3 559.7,1503.6 567.6,1663.5 471,1711.9 499,1675.7 485.4,1494.7 586.8,1591.2 498.1,1666.4 547,1505.9 498.6,1658.5 541.9,1644.3 499.3,1548.5 504.3,1601 536.2,1686 365.1,1701.5 552,1579.1 559.4,1600.8 411.8,1640.4 509.7,1442.4 530,1611 622.3,1533.8 482.6,1619.2 551.7,1630.9 419.9,1457 502.3,1575.9 522.7,1637.5 469.3,1624.3 514.6,1682.8 458.2,1693.8 580.1,1594.8 535.3,1631.9 561.5,1646.6 578.5,1550.1 593.7,1620.1 500.8,1528.3 528,1653.4 531.9,1554.5 576.2,1545.8 535.5,1625.3 457.9,1539.9 603.6,1361.5 549,1572.1 537.5,1564 523.7,1591.8 444.5,1632.3 520.8,1568.9 508.7,1519.6 489,1650 550.2,1567.9 567.2,1586.4 510.9,1605.5 463.5,1624.9 580.2,1595.4 543.6,1561.9 461,1639.6 725.3,1471.6 551.1,1598.5 528.2,1668.6 854.7,1587.6 454.8,1496.9 563,1619.4 559.9,1647.8 588.4,1620 530.5,1633.2 490.4,1527.3 507.2,1656 514.5,1651.4 537,1559.4 508.2,1690 584.9,1457.9 442,1639.5 487.3,1520.8 502.3,1606.4 533,1472.5 530.4,1446.2 530.1,1528 442,1643.5 452.4,1670.1 518.1,1605.4 556.2,1601.8 466.5,1670.6 582.9,1654 580.8,1468.1 465.7,1492.4 462.4,1661.5 509.5,1676.3 449.3,1632 490.3,1626.5 499,1674.7 478.6,1560.2 444.2,1610.3 503.1,1668.6 495.3,1526.7 535.6,1583.3 561.1,1600.2 505.8,1638.7 469.4,1672.6 520.1,1648.9 483.9,1599.4 496.3,1631.6 517.7,1481.1 449.4,1644.1 528.6,1592.1 638.4,1586.2 430,1676.8 645.5,1590.6 443.9,1650.8 498.3,1651.8 469.4,1585.7 485.4,1635.1 590,1597.5 351.4,1627.7 529.5,1613.3 541.2,1554.6 504.9,1608.2 391.4,1672.1 513.4,1566.8 481.3,1544.2 488.9,1562.9 500.6,1613.9 656.5,1566.2 536.1,1523.4 445.5,1607.7 433.3,1516 563.7,1544.6 494.6,1658.4 619.5,1662.3 490.8,1580.1 493.7,1608.9 415.2,1511.7 576.5,1539.6 508.9,1683.2 482.1,1562.2 535.9,1510.7 493.6,1622.1 505,1370.6 493,1570.8 441.9,1546.5 478,1690.4 422.2,1673.9 503.6,1655.3 505,1636.8 379.2,1565.5 558.9,1532.2 519,1680.6 461.9,1676.1 527.9,1579.6 478.5,1569.4 533.2,1615.4 488.2,1615.6 460.9,1571.4 470.3,1595.8 483.4,1504.1 451.6,1655.6 405.6,1568.9 506.4,1643.2 440.6,1668 543.5,1655.3 567.3,1551 502.8,1626.7 420.7,1493.6 595.4,1671.1 528.6,1573.3 535.6,1583.9 557.4,1668.9 547.6,1544.8 509.6,1655.5 539.7,1564.8 466.8,1605 618.2,1588.5 539.5,1704.5 575.1,1680.2 431.3,1556.6 548.5,1111.2 586.5,1107.9 627.2,1107.9 593.7,1137.8 597.6,1185.6 566.9,1200.2 551.9,1236.7 544.6,1254.6 569.7,1265.2 570.8,1263.9 516.1,1275.9 551.3,1295.1 618.3,1291.8 559.1,1327.7 864.5,1462.4 781.9,1467.1 819.3,1509.6 860,1546.1 856.1,1546.1 829.3,1550.8 797,1576 790.8,1612.5 740,1617.2 731.6,1633.1 760.7,1635.8 759.6,1649 332.5,1630.4 346.4,1608.5"/><polyline class="gr" points="492,1527 587.1,1569.2 505.1,1587.3 481.6,1569.5 491.7,1626.3 522.7,1534.8 476.3,1622.9 542.3,1549.5 484.2,1602.7 626.2,1545.7 551.6,1495.8 509.8,1662.6 407.5,1650.1 502.6,1615.9 506.6,1619.7 430,1659.3 610.6,1488 516.3,1619.4 517.2,1591.2 472.1,1598.6 398.3,1685.8 518.2,1650.1 475.1,1569.8 536.7,1637.6 457,1649.1 500.2,1591.3 497.3,1637.6 409.2,1567.8 467.4,1641.3 417.8,1623.6 536.5,1476.8 455.9,1580 478.7,1620.5 621.6,1394.1 496.8,1610.6 516.3,1562.8 500.3,1562 496.3,1547 469.6,1612 580.8,1506.4 543.1,1533 573.1,1513.9 542.6,1520.3 533.4,1618.2 483.4,1615.7 447.5,1678.8 561.6,1522.7 674.6,1446.6 460.3,1670.3 546.6,1628.4 523.8,1525.2 457.4,1621.4 494.2,1610.7 519,1555.2 515.8,1637.3 494.9,1550.2 557.9,1572.7 479.2,1589.8 506.9,1600.7 475.1,1621.7 465.2,1606.1 539.1,1591.1 515.9,1441.4 476.2,1583.9 471.3,1628.2 572.1,1604.3 471.6,1639.2 475.8,1623.3 531.8,1592.4 628,1420.1 498.8,1641.4 505.5,1608.6 382.7,1684.7 504.3,1613 580,1547.8 486.3,1621.2 442.9,1652.2 437.2,1609 543.3,1636.3 511.1,1605 523.7,1548.1 555.8,1578.4 415.3,1653.1 453.9,1699.2 562.1,1575.7 532,1617.5 475.2,1633.8 556.8,1591.9 555.1,1603 476.4,1596.2 438.1,1585.2 563.8,1637.6 389.8,1647.3 541.3,1607.3 525.7,1611.9 564.1,1583.1 411.3,1649.4 508.1,1609 498.7,1634.2 495.2,1596.8 502,1570 556.4,1642.9 585.2,1537.3 503.3,1620.1 540.5,1564.1 486.2,1638.4 542,1586 510.8,1600.4 529.3,1615.3 473.6,1628.3 458.3,1666.4 462.4,1676.9 391.8,1650.1 513.4,1584.1 541.8,1575.5 489,1640.2 537.8,1554.9 496.6,1561.1 614.9,1483.7 493.9,1604.8 414.6,1648.4 485.1,1625.8 504.7,1636 491.8,1635 489.4,1613.7 466.7,1653.6 547.2,1445.9 454.9,1674.3 496.6,1633.8 385.4,1650.2 543,1464.7 452.5,1677.1 480.2,1545.6 587.3,1558.1 492,1591.7 521.9,1668.4 458.2,1621.8 529.2,1580.3 464.2,1450.2 555.1,1557.4 498.9,1646.8 561.1,1626.5 468.3,1642.8 529.8,1582.7 472,1634.3 451.1,1646.1 505.4,1627.6 535.9,1581.6 498.6,1585.1 478.7,1628.5 451.3,1650.3 484.8,1599.3 502.6,1677.9 498.9,1583.7 542.1,1668.2 539.5,1588 538.8,1662.4 454.9,1691.9 569.7,1541.6 451.8,1658.4 501.1,1577.2 445.6,1569.9 455.6,1589.3 543,1636.1 484.2,1587.5 508.3,1603.4 533,1618.2 477,1624.7 507.8,1619.8 602.1,1533.6 434.4,1633.8 536.2,1551.7 445.4,1654.4 507.5,1635.2 444.9,1634.1 487.3,1638.1 479.6,1604.7 509,1672.2 504.3,1532.9 447.8,1650.5 436.1,1622.1 462.4,1634.1 649,1457.8 601.3,1519.4 519.4,1571.8 456.3,1525.8 501.2,1619.4 447.2,1638.2 397,1643.2 624.4,1562.9 459.5,1595.6 616.1,1568.7 528.7,1576.7 539.1,1587.2 430.8,1631.7 512.9,1636.4 425.1,1698.7 486.1,1584.8 528.5,1561.7 494.6,1641.1 487.8,1582.5 451.3,1649.8 475.6,1635.5 465.1,1634.8 608.5,1489.4 523.9,1629.9 429.1,1681.8 573.6,1605.1 474.2,1632.6 453.7,1657.7 537,1532.7 532.6,1619.6 486.3,1643.4 431.3,1579.3 579.2,1566.8 579.6,1507.7 496.1,1579.8 495.1,1607.5 492.8,1642.2 544.9,1560.7 502.5,1625.1 499.7,1632.8 486.3,1569.6 490.5,1652.5 442.8,1622.3 511,1584 478.6,1578 534.4,1549.6 452.8,1666.4 437.8,1664.1 416.9,1680.1 483.6,1647.4 508.2,1574.1 526.4,1577 521.9,1597.3 454.4,1624 481.5,1676.4 507.1,1629.5 475.7,1644.5 505.4,1639.6 508.3,1664.8 564.1,1467.8 410,1647.9 549.2,1568.1 450.2,1620.6 473.9,1604.7 575.9,1510 443.6,1663 562.9,1515.5 546.1,1527.7 494.5,1654 584.9,1413.7 604.3,1402.8 463.8,1591 537,1598.7 513.9,1553.5 568.9,1392.6 471.6,1630.1 423.1,1682.1 536.5,1560.8 482.2,1588.1 578.6,1605.8 452.1,1637.1 492.2,1600.2 528.5,1587.7 568.3,1455.5 430.8,1674.6 555.7,1596.4 435.4,1611.4 411,1692.3 534,1568 446.5,1656.6 486.2,1597.7 501.3,1597.1 461,1595.1 562.1,1407.3 463.8,1635.7 427.4,1704.5 539.1,1580.3 475.4,1639.5 459.3,1637.2 494.7,1645.6 506.7,1578.2 466,1633.1 516.3,1588.3 508.9,1650.8 505.2,1672.9 529,1561.3 465.5,1669 473.5,1561.8 474.9,1662.2 480.1,1581.2 568,1449 494.2,1603.6 464.1,1630.5 530.3,1581.2 457.7,1630.1 412,1653.8 538.7,1628.3 526.2,1547.8 476.7,1666.9 449.5,1623.1 515.6,1591.6 453.9,1618 563.9,1567.8 456.6,1639.3 519,1550.8 450.9,1561.4 473.1,1676.4 474.3,1593.1 530.7,1645.5 492.5,1538.8 394.9,1692.9 386.7,1597.7 487.9,1678.4 458,1677.1 480.3,1498.6 517,1582.6 512.6,1552.7 493,1636.4 479.8,1633.6 515.4,1537.7 462.2,1636.4 534.1,1590.6 477.8,1628.4 467.5,1657.2 463.2,1662 460.9,1667.5 455.9,1658.5 513,1603.4 414.3,1644.7 439.8,1642.3 568.8,1603.6 597.2,1530.9 404.6,1667.9 458.6,1566.1 518.2,1633.6 461.6,1608.1 518.9,1544.5 534.4,1571.3 581.8,1527 483.3,1646.8 632,1512.9 553.7,1475.7 567.8,1623 560.9,1606.5 423,1651.7 440.5,1675.1 476.8,1566.5 446.8,1639.6 459.1,1606.7 481.4,1507.1 654.8,1546.9 522.6,1638.7 555.4,1552.2 541.8,1578.9 469.6,1648.3 526.5,1457.6 453.5,1651.3 473,1618.2 506.5,1565.1 547.4,1605.9 505.5,1639.7 440.1,1603.9 537.9,1578.5 552.6,1628.9 481.2,1628.3 444.7,1674.9 435.7,1544.8 485,1625.2 448.2,1627.1 488.3,1656.3 562.7,1505.8 515.7,1596.1 555.2,1613.9 454.2,1680.5 415.6,1673.8 456.4,1673.6 487.6,1576 483.5,1502.6 470.4,1627.8 550.7,1621.5 437,1610.8 459,1644.1 495.4,1621.3 500.8,1643.6 509.3,1625.6 545.4,1600.3 502.3,1564.6 601.1,1446.4 496.3,1578.1 486.6,1617.6 564,1573.5 494.6,1601.7 478.2,1606.3 424.9,1635.1 422.3,1674.9 519.2,1577.3 535,1572 495.1,1554.2 413.7,1644.7 409.7,1643.8 569.7,1570.3 433.8,1643.6 398.2,1681.2 542.6,1605.4 467.4,1639.8 563.3,1570.2 486.9,1607.3 493.3,1617.6 498.7,1663.4 505.9,1507.3 485.2,1624 413.4,1612.6 492.1,1608.6 416.5,1586.1 494.2,1589.5 532.9,1607.8 531.3,1581.8 533,1611.5 543.8,1614.6 484.8,1637.5 492.4,1610.6 493.7,1570.7 485.6,1640.7 461.9,1674.4 575.5,1509.4 508.1,1606 531.2,1574.6 435,1644.3 510,1652.3 601.8,1496 520.8,1606.3 563.9,1483 471.7,1588 485.9,1630 482.9,1632.5 504.5,1621.8 495.2,1684.6 442.5,1617.5 460,1664 522.5,1635.7 539.4,1621.8 469,1604.3 493.6,1594.7 477.4,1631 512.6,1611.6 468.4,1633.4 534.7,1537.8 481,1665.3 454.7,1661.9 574.2,1478.6 501.7,1599.6 488.7,1524.8 542.5,1477.8 501.6,1623 477.9,1599.6 476.8,1627.8 673.2,1439.6 585.5,1594.1 420.7,1685.3 488.4,1585.3 458.3,1598.3 582.5,1548.8 480.6,1595.2 432.2,1677.1 475.3,1584.8 450,1685.7 447.5,1639.8 593.3,1428.9 434.4,1706.8 467.3,1623.6 548.2,1648.5 527.6,1585.7 535.8,1566 428.4,1627.2 437.1,1650.2 588.8,1560.9 467.9,1660.3 516.6,1610.7 592.7,1549.2 418.9,1677.9 553.3,1603.3 440,1676.3 535.4,1621 550.7,1551.4 493.3,1579.6 559,1578.3 497.2,1666.6 518.7,1526.9 423,1626.4 464.1,1545.4 477,1590 487.7,1620.5 480.4,1616.1 554.7,1596.5 506.6,1664.5 483.1,1607.9 496.8,1591.5 462.4,1637.9 572.7,1483.5 450.1,1524.8 452.5,1583.7 517.2,1626.4 517.2,1598.6 567.8,1590.5 485.8,1598.1 464.9,1648.8 435,1671.7 494.7,1678 453,1648.5 498.3,1585.4 483.1,1594.5 481.9,1618.3 538.4,1607.6 540.1,1634.5 496.4,1619.3 507.3,1614.6 595.2,1463.8 591.4,1563.2 510.5,1649.7 518.6,1619.9 468.6,1534.4 476.9,1663.6 459.6,1458.9 516.6,1581.8 527.9,1553.8 529.2,1646.5 508.4,1608.9 539.7,1556 445.9,1635 551.8,1639.2 400.4,1654 469.6,1643.7 495.3,1619.9 509.1,1677 503.5,1670.4 419.9,1688.3 521.7,1593.1 423.7,1683.9 511.5,1627.4 435.3,1640.8 568.9,1625.4 480.1,1582.8 531.5,1612.3 530,1602.1 566.1,1590.2 525.9,1633.3 492.1,1583.6 522.6,1506.6 583.1,1418.7 463.2,1596.1 403.2,1688.4 416.1,1666.1 507.9,1606.1 472.6,1644.2 510.9,1619.3 402.4,1666.5 539.5,1578.1 433.3,1659.8 541.1,1581.2 507.6,1568.6 557.5,1516.5 489.5,1643.3 601.2,1587.4 542,1654.8 572.2,1509.8 565.2,1592.3 475.8,1592.4 588,1409.8 534.2,1565.3 509.7,1636.2 515.8,1683.3 510.6,1613.1 380.8,1677.4 560,1588.7 476.5,1577.7 415.5,1678 573.6,1506.5 531,1668.9 533.9,1592.5 579.6,1495.8 580.5,1570.1 471.5,1654.3 417.7,1637.4 464.4,1599.1 529.6,1593.7 542.5,1536.6 407.6,1681.3 394,1684.8 458.8,1620.3 531.8,1518.1 507.5,1656.2 479.6,1655 494.2,1644.5 443.6,1566.3 425.1,1602.8 446.9,1624.8 553.5,1608.9 533.9,1587 481.6,1657.7 436.3,1648.5 440.1,1630.3 555.9,1590.3 509,1605.7 522.1,1551.4 528.6,1644.1 467.3,1587.2 494,1629.1 555.3,1592.6 450.4,1616.6 442.8,1573.1 452.1,1657.4 537.8,1594.4 464.8,1655.7 422.1,1658.2 571.4,1616.1 545.2,1581.3 523.6,1647.7 499.6,1641.9 452.7,1622.7 490.4,1604.3 384.1,1635.1 491.7,1619.5 490.5,1591.8 526.5,1538.9 511.1,1613.6 554.7,1563 510.9,1646.8 497.9,1614.7 465.2,1606.5 448.6,1648.2 551.9,1589.5 429.9,1659.2 438.3,1638.7 455.9,1672.4 518.7,1600.4 417,1648.7 478.7,1552 390.5,1662.3 540.2,1572.5 444.4,1634.4 487.3,1639.6 493.1,1618.2 624.5,1547.6 438.3,1614.9 408.3,1667.8 560.9,1558.8 487.4,1610.5 469.4,1618.9 602,1540.3 533.4,1632.9 490.8,1578.5 523.5,1579.8 428.2,1640.8 464.6,1628.7 541,1577.6 535.4,1527.3 594.7,1447 463.6,1700.4 549.9,1570.3 511.8,1691.1 483.8,1599.8 542.3,1520.6 488.2,1587 514.5,1630.5 473.6,1602.1 536.6,1609.1 534.3,1515.6 470.7,1675.2 597.9,1519.5 467,1653.3 471.8,1650.8 412.3,1614 517.6,1623.4 475.4,1598.4 620.2,1539.6 465.5,1679.8 458,1661.8 588.7,1614.5 495.9,1647.2 486.5,1592.8 439.6,1612.5 504.7,1596.3 498.3,1609.2 515.7,1585.3 494,1558.3 518.4,1514.1 618.8,1531.4 541.4,1581.7 479.1,1588.8 517,1640.5 570.3,1530.4 518.9,1549.5 523.8,1525.3 414.3,1683.9 490.4,1636.2 468.2,1603.2 594.5,1546.7 502.3,1629.9 568.6,1538.6 626.1,1544.5 627.4,1457.9 675.8,1450.4 519.7,1600.3 441.3,1668.5 546.2,1571.5 516.9,1625.9 481.8,1685.6 411.7,1649.3 532.4,1606.4 453.6,1655.9 496.6,1635.7 476.4,1609.9 381.8,1672.2 479.7,1660.6 467.5,1594.4 541.6,1608.2 462.2,1666.3 580.7,1608.2 471.9,1621.8 551.2,1536.4 488.6,1659 456.9,1574.4 480.1,1629.5 536,1546.1 507.4,1610.2 606.4,1464.9 425.2,1675.5 548.2,1500.4 533,1613.3 481.6,1595.9 550.2,1635.6 529.6,1573.8 497.6,1643.9 424.5,1669.1 450.8,1631.3 556,1535.7 503.8,1657.6 575.6,1594.1 514.4,1633.3 500.6,1554.2 449.3,1615.4 467.5,1660.5 552.6,1572.6 624.7,1599.6 490.5,1670.6 423.3,1685.3 495.9,1604.1 534.7,1645.3 564.5,1618.2 536.5,1617.6 553.5,1561 506,1577.4 486.5,1666.5 476.2,1586.9 585.4,1573.4 508,1581 515.1,1642.2 523.9,1587.4 460.3,1638.5 457.2,1660.8 535.4,1489.1 545.9,1575.7 431,1653.4 461.4,1687.7 495.5,1514.6 426.9,1591.6 425.4,1673 502.4,1584.3 374.6,1655.8 486.2,1511.7 439.3,1548.1 536.4,1614.5 492.7,1647.5 538,1598.6 510.3,1591.9 589.4,1558.7 482.7,1596.9 467.8,1602 505.3,1630.9 567.7,1584.4 494.6,1592.4 519.1,1568.2 453.5,1688.6 454.4,1586.2 434.5,1602 509.8,1610.3 457.3,1627.8 566.9,1574.2 493.1,1583.5 446.7,1609.1 606.6,1563.7 428,1646.5 506.2,1571.3 493,1638.2 469.3,1630.2 564.5,1597.1 539.3,1572.3 460.6,1643.3 547.7,1591.5 501.2,1634.8 431.5,1653.5 530.3,1626.4 546.9,1546 453.8,1545.4 388.9,1523.2 555,1502.5 449.6,1671.3 392.3,1677.3 508.8,1580.1 467.7,1560.5 482.4,1617.5 497.1,1599.2 600.2,1488.8 512.2,1614.7 444.2,1686.1 445.3,1607.8 572.3,1444.8 503.8,1625 524.6,1640.6 518.7,1636.5 463.7,1598.7 509,1600.8 519,1592.9 485.2,1636.9 434.5,1672.9 473.9,1584.3 424.2,1590.7 586.8,1516 668.7,1441 630.1,1364.2 543,1473.4 522.6,1626 451.3,1659.1 518.9,1572.8 479.6,1621.2 489.1,1608.6 504.8,1580.9 482.7,1679.9 542.9,1552.6 454.8,1624 432.4,1646.5 467.3,1621.5 421,1695.3 505.3,1579 410.6,1618.5 520.1,1540.3 508.9,1658.4 468.3,1665.4 513.2,1635.2 419.1,1662.4 485.8,1642.9 496.3,1608.1 541.4,1586.9 548.2,1528.3 567.3,1605.9 565.4,1582.2 526,1505.3 434.9,1643.4 467.1,1626.4 434.1,1599.6 578.1,1530.4 670.8,1448.3 529,1629.8 447.3,1624.8 415.3,1617.6 419,1651.1 441.3,1661 445.1,1539.4 476.6,1621.7 478.6,1626.4 389.5,1669.7 477.3,1608.3 486.1,1586.3 501.9,1562.1 545.2,1557.2 555.8,1625 513.6,1583.7 564,1590.6 527.9,1637.9 436.1,1691.7 486.8,1619.8 518.9,1577.3 489.5,1581.8 605.5,1464.7 543.4,1566.3 509,1665.3 618.6,1430.4 593,1408.9 423.7,1638.9 504.4,1539.3 553.5,1469.8 543.4,1489.7 530.7,1608.5 513.6,1595.2 443.4,1675.4 528.3,1599 428.2,1686.2 432.3,1662.8 513.4,1628.8 493.5,1633.2 464.4,1666.5 515.7,1632.2 390.4,1677.7 386.7,1676.4 485,1594.9 433,1599.6 398.1,1685.3 494.3,1668.7 487.2,1613.2 579.7,1514.8 480.3,1424.6 577.1,1560.6 586.8,1528.9 539.2,1492 481.4,1676.9 404.6,1696.4 545.9,1619.8 440.4,1641.6 511.7,1647.4 449.7,1646.4 369.1,1649.6 537.5,1515.6 488.9,1596.2 449.9,1629.5 505.2,1613.6 498.6,1621.4 517.7,1628.8 484.5,1656.9 430.9,1634.1 457.8,1529.4 448.7,1582.2 417.6,1555.4 491.8,1637.8 483.8,1584 510.1,1605.9 465.9,1642 410.9,1672.1 487.3,1555.1 539.2,1614.2 480.5,1593.2 578,1652.7 510.1,1515.8 557,1562.7 494.2,1610.6 505.3,1645.7 471.2,1605.5 374.8,1703.6 523.6,1579.6 631.8,1451.9 478.4,1601.5 517.2,1595.5 501.8,1546.6 485.5,1623.6 490,1587.6 563.3,1563.6 458.2,1688.9 478.5,1632.8 588.7,1503.7 433.8,1683.4 460.6,1608 461.2,1659.7 522.7,1502 492.6,1647.5 448,1632.3 527.4,1626.3 476.3,1674.2 495.6,1606 501.5,1619.1 467.6,1623.3 484.3,1624.6 528.7,1473.7 508.3,1611.5 463.8,1601.4 509,1590.3 496.3,1569.9 532,1611.7 454.7,1685 479.4,1673.7 656.4,1525.3 453.1,1649.7 479.7,1617.9 497.9,1667.3 529.4,1557.5 561.5,1596.8 501.6,1604.9 449.6,1664.5 553.6,1578.2 415.9,1691.1 498.3,1587.7 451.1,1661.6 500.9,1566 396.8,1666 495.8,1662.5 535.7,1587.6 447,1654.7 643.8,1439.8 496.6,1572.1 562.6,1565.2 468.7,1616.4 553.9,1521.2 568.5,1495.7 567.8,1556 501.7,1649.4 488.7,1642.5 581.5,1470.9 424.6,1633.5 537.4,1563.3 549.5,1622.6 479.8,1659.7 496.3,1555.6 461,1644.3 507.2,1608.2 510.9,1598.5 509.7,1609.4 493.5,1601.9 437.9,1645.4 624.5,1441.7 453.3,1611.7 507.4,1645.3 471.1,1636.2 437.2,1630.1 495.1,1577.8 510.9,1560.3 587.7,1587.1 479.4,1600.3 462.1,1600.1 436.4,1628.7 525.6,1594.3 573,1471.1 513.6,1637.4 423.5,1627.2 441.5,1662 544.7,1525.2 490.6,1554.6 453.1,1617 477.2,1608.4 456,1656.2 460,1607 530,1627.9 473.5,1570.1 457.2,1650 463,1650.2 525.2,1612.7 509.4,1629.6 565,1556.4 486,1617.6 502.6,1615.2 451.6,1645.5 508.5,1618.1 446.1,1656.8 495.2,1619.5 448.2,1700.1 479.4,1609.2 518.2,1578.4 546.8,1620.2 560.2,1564.3 466.7,1625.9 461.4,1637.3 589.6,1522.2 577.4,1513.5 519.7,1595 559.9,1641.4 440,1631.2 484.5,1606.7 453.9,1654.4 452,1654.8 523.2,1693.6 484.1,1658.2 492.3,1630.6 471.7,1695.5 467.5,1652.1 491,1592.9 535,1594.5 489.6,1579 567.8,1411.8 423.2,1679.5 437.6,1611.8 543.4,1544.2 680.3,1435 529.1,1579.3 622.6,1482.2 426.2,1593.6 427.9,1608.7 531.7,1503.8 468.3,1670 488.9,1652.8 512.2,1649.1 538.5,1628.2 546.7,1449.9 440.2,1642.8 420.9,1660.5 519.9,1624.1 510.3,1615.5 418.9,1655.7 520.2,1573.3 591.4,1474.9 543.7,1631.6 415.7,1668.6 468.2,1508.2 466,1675.9 564.1,1552.7 505.5,1596 560.8,1575.2 479.1,1653.8 452.1,1692.6 536.6,1602 448.8,1656.1 477.9,1607.6 435.4,1619.6 463.8,1676.1 460.7,1625.1 435.3,1615.4 492.1,1572 579,1604.9 499.7,1616.5 513.4,1596.3 404.1,1637.1 446.2,1556.9 399.1,1644.8 497.4,1628.3 539.1,1600.8 567.4,1604.4 442.7,1637.6 548.6,1560.9 480,1616.4 579.8,1644.8 447.6,1593.2 455.8,1638.8 587.8,1511.1 560.5,1578.5 487.9,1616.9 428.5,1683.7 508.8,1596.9 519.8,1579.8 406.8,1602.7 488.6,1616.6 549.7,1621.5 478.7,1619.7 528.3,1553.7 497.5,1611.5 482.1,1589.2 370.9,1692.8 616.8,1415.9 410,1679.5 604.1,1592.3 551.8,1494.2 498.2,1677.2 505.5,1595.4 461.6,1537.3 453.8,1653.2 508,1557.5 501.4,1662.5 434.5,1649.4 367.8,1680.9 470,1556.3 592.6,1546.4 583,1562.7 526.6,1547.8 494.9,1573.3 508.4,1618.2 475.5,1615.5 482.2,1647.9 566.1,1573.2 449.8,1678.9 425.9,1663.4 422.4,1682.5 409,1693.5 524.5,1613.3 511.9,1654.1 502.8,1579.7 549.7,1567.7 570.4,1497.6 468.6,1632 477.3,1630.7 437.4,1599 505.2,1559.4 473.2,1578.1 531.1,1625.8 535.4,1578.8 442.9,1614.2 391.9,1655.2 460,1649.8 464,1621.7 513.5,1645 488.3,1619.2 454.7,1644.5 463.1,1599.4 461.3,1617.3 510.6,1583.7 461.1,1669 498,1650 537.8,1586 477.3,1515.3 510.2,1509.7 529.7,1551.8 502.1,1619.5 458.9,1605 410.7,1671.3 482.7,1683.2 511.6,1541.8 448.1,1602.4 522.5,1540.8 513.1,1520.5 440.9,1580.1 601.1,1555.6 547.3,1604.6 458.5,1675.8 513.3,1561.5 504.6,1649.4 528.3,1600.9 438.4,1645.4 532.7,1424.8 466,1616.4 439.7,1506.6 487.5,1631.4 509.1,1607.8 511.5,1595.5 503.8,1597.4 467.7,1616.7 526.4,1458.5 612.8,1545.1 534.7,1592.7 465.3,1626.4 581.3,1432.7 402,1663.1 487,1555.7 469.2,1679.1 560.7,1545 557.3,1524.9 438.9,1646.2 496.7,1562.9 507.8,1500.4 496.5,1610.8 536.6,1614.4 580.4,1570 498.9,1559.4 535.2,1683.3 515.5,1566.6 487.8,1580.4 648.7,1572.7 437.3,1659.8 549.7,1564.4 545.8,1529.7 548.8,1515.9 556.1,1578.4 456.5,1593.7 509.4,1553 478.6,1603.2 566.9,1252 572.5,1293.8 580.9,1311.7 580.9,1321 476.5,1333.6 597.6,1344.9 623.9,1351.6 667.4,1352.9 543.5,1352.9 554.7,1358.2 730,1418 681.4,1381.4"/><path d="M332.5,1628.8 519.1,1586.6 865.6,1491.3 865.6,1521.3 519.1,1591.6 332.5,1638.8Z" fill="#4292C6" opacity=".4"/><path d="M332.5,1633.8 L865.6,1506.3" stroke="#4292C6" stroke-width="4.6" fill="none"/><path d="M368.7,1696.5 497.1,1602.1 735.5,1416.6 735.5,1432.6 497.1,1607.1 368.7,1706.5Z" fill="#EF3B2C" opacity=".4"/><path d="M368.7,1701.5 L735.5,1424.6" stroke="#EF3B2C" stroke-width="4.6" fill="none"/><path d="M306.3,1077 V1745.2 H890" stroke="#000" stroke-width="2.1" fill="none"/><path d="M402.2,1745.2 v6.5" stroke="#000" stroke-width="2.1"/><text x="401.7" y="1776.2" font-size="20.4" text-anchor="middle">−2</text><path d="M513.9,1745.2 v6.5" stroke="#000" stroke-width="2.1"/><text x="513.4" y="1776.2" font-size="20.4" text-anchor="middle">0</text><path d="M625.6,1745.2 v6.5" stroke="#000" stroke-width="2.1"/><text x="625.1" y="1776.2" font-size="20.4" text-anchor="middle">2</text><path d="M737.2,1745.2 v6.5" stroke="#000" stroke-width="2.1"/><text x="736.7" y="1776.2" font-size="20.4" text-anchor="middle">4</text><path d="M848.9,1745.2 v6.5" stroke="#000" stroke-width="2.1"/><text x="848.4" y="1776.2" font-size="20.4" text-anchor="middle">6</text><path d="M306.3,1092.6 h-6.5" stroke="#000" stroke-width="2.1"/><text x="286" y="1102.5" font-size="20.4" text-anchor="end">7.5</text><path d="M306.3,1258.6 h-6.5" stroke="#000" stroke-width="2.1"/><text x="286" y="1268.5" font-size="20.4" text-anchor="end">5.0</text><path d="M306.3,1424.6 h-6.5" stroke="#000" stroke-width="2.1"/><text x="286" y="1434.5" font-size="20.4" text-anchor="end">2.5</text><path d="M306.3,1590.6 h-6.5" stroke="#000" stroke-width="2.1"/><text x="286" y="1600.5" font-size="20.4" text-anchor="end">0.0</text><text x="573.15" y="1806" font-size="20.3" text-anchor="middle">SPP1+macro_score</text><text transform="translate(244.3,1428.1) rotate(-90)" font-size="20.3" text-anchor="middle">CD8T_score</text>
<polyline class="gb" points="1226.4,1558.1 1126.8,1504.6 1110.9,1577.3 1226.4,1609.9 1218.6,1629.4 1271.6,1544.7 1256.5,1538.5 1251.7,1599.7 1249.3,1548.5 1165.3,1482.4 1199,1455.1 1155.3,1585.9 1240.8,1460.2 1092.5,1577.3 1176.2,1611.7 1202.9,1558.7 1068.9,1595.2 1189.6,1625.2 1140.3,1588.8 1241.9,1582.6 1201.3,1600.5 1232.5,1551.2 1223.6,1649.3 1140.7,1566 1157.2,1563.6 1209.2,1449.6 1110.9,1638.3 1102.2,1613.1 1247.4,1500.8 1076.9,1649.6 1182.3,1597.5 1210.8,1618 1252.7,1565.4 1182.6,1633.3 1144.2,1626.7 1166.5,1616.1 1162.7,1599.3 1271.3,1527.7 1136.7,1625.8 1212.6,1637.4 1187,1513.2 1240.3,1531.4 1181.4,1444.5 1186.1,1597.2 1215.7,1572.4 1190.8,1568.2 1184.6,1641.2 1322.6,1558.9 1164.6,1594.1 1150.2,1645.2 1096,1406.6 1254.4,1469.9 1222,1446.6 1173.7,1592.5 1247.1,1550 1245.7,1440.4 1265.2,1574.7 1239.8,1554.4 1216.2,1528.7 1264.7,1632.8 1235.7,1522.4 1230.3,1514.9 1148.3,1573.8 1261.7,1605.1 1177.7,1599.6 1164.3,1685.4 1247.7,1533.3 1263.5,1571.3 1155.4,1578.6 1290.3,1460.5 1204.6,1618.4 1285.4,1518.7 1236.1,1627.5 1141.9,1545.8 1126.8,1622.8 1113.3,1619.8 1177.7,1603.5 1160.9,1651.4 1394.3,1564.5 1177.4,1591.1 1197.7,1572 1214.8,1521 1142.5,1609.3 1207.5,1600.3 1145.4,1566.4 1263.2,1605.3 1149.9,1636.5 1147.9,1638.2 1151.8,1594 1247,1606 1294.7,1544.6 1166.9,1676.4 1114.1,1503 1164,1575.8 1237.7,1548.1 1076.3,1635.6 1273.8,1624.3 1302.3,1539.7 1257.8,1657 1149.2,1596.2 1190.1,1561.2 1268.2,1539.2 1295.9,1647.6 1260.1,1536.1 1166.2,1612.5 1185.6,1576.1 1129.8,1559.2 1276.8,1627.5 1178.5,1579.4 1107.7,1606.2 1159.3,1628.1 1152.3,1665.9 1237.3,1658.9 1228.7,1508 1269.1,1542 1210.7,1602.9 1198.6,1555.6 1153.3,1631.4 1203.5,1513.9 1203.8,1592 1266.5,1550.1 1160.9,1651.3 1169.2,1604.1 1215.5,1618.2 1198.3,1688.3 1169.7,1637.9 1150.4,1628.9 1237.3,1550.2 1217,1665.2 1186.8,1604.2 1252.5,1587.4 1235.9,1614.3 1264.5,1656.1 1266.4,1654.5 1179.1,1604.9 1139.4,1685.5 1277.8,1595.1 1286.2,1550.2 1181.5,1519.5 1190.4,1596.1 1235.3,1569.9 1200.2,1533.7 1096.7,1613.6 1197.4,1620.7 1213.3,1576.7 1173.9,1631.5 1301,1558.9 1215.4,1633.9 1262.8,1454.1 1212.1,1637.1 1216.8,1643.3 1129.4,1581.2 1274.4,1478.4 1153,1530.9 1234.7,1465.5 1104.1,1637.6 1259.2,1627.2 1264.2,1574.1 1205.7,1633.3 1124.9,1503.2 1200.6,1558.6 1239.9,1524.1 1160.3,1621.6 1206.6,1537.7 1217.5,1484.9 1147.5,1621.8 1245.1,1528.6 1262.8,1642.4 1190.7,1611.4 1158.7,1569.6 1237.2,1560.8 1124,1619.7 1135.2,1586.8 1242.4,1610.7 1186.2,1561.8 1241.4,1597.7 1310.1,1495.8 1102.5,1644.5 1141.7,1562.6 1268.5,1498.3 1198.5,1623.3 1149.3,1572.9 1219.9,1617.6 1266,1558.8 1123,1515.9 1133,1664 1179.1,1577.2 1337.4,1470.3 1158.7,1452.8 1205.3,1593.9 1307.7,1662.8 1254.6,1570.3 1218.1,1581.6 1306.4,1466.9 1147.7,1505 1226.2,1601.9 1197.6,1556.7 1207.8,1427.2 1217.8,1606.8 1260.7,1598.7 1216.3,1652.3 1073.4,1632.9 1217.5,1538.8 1241,1522.8 1188.2,1659 1216.7,1559.8 1140.5,1547.9 1245.5,1518.9 1202.8,1536.1 1162.3,1593.6 1148.4,1653.5 1224.1,1558.1 1282.5,1620.4 1217.3,1436 1423.8,1597.2 1216.6,1624 1243.6,1570.5 1202.2,1601.5 1151,1616.6 1136.8,1616.1 1246.3,1588.6 1132.9,1637.3 1179,1585.6 1262.7,1600 1279.4,1526.7 1165.8,1580.3 1189.8,1523.3 1153.8,1615.5 1243.2,1538.2 1112.5,1664.6 1191.3,1518.6 1286.3,1540.1 1177.1,1630.6 1238.8,1660.9 1249.2,1571 1139.1,1509.8 1232.6,1593.3 1133.7,1546.4 1152.8,1548.9 1521.7,1595.3 1239,1587.1 1352.3,1553.7 1253,1597 1196.2,1604.5 1181,1525.2 1216.5,1574.1 1229,1541.9 1152.8,1597.4 1231.2,1501.6 1146,1582.2 1303.7,1610.6 1250.6,1598.3 1273.1,1655.5 1197.9,1630.6 1229,1603.2 1051.4,1625.6 1214.6,1615.7 1179.2,1566.5 1182,1585.2 1123.9,1595.9 1144.9,1628.6 1184.7,1571.4 1189.7,1594.5 1175,1608.7 1196.9,1498.2 1239.2,1559.6 1184.4,1588.2 1195.9,1582.1 1243.6,1540.4 1081.5,1619.3 1256.7,1637.5 1172.8,1546.5 1183.1,1550.2 1117.5,1569.7 1240.3,1540.1 1158.1,1610.4 1184,1578.3 1173.6,1605.2 1222.4,1622.7 1215,1524 1105.5,1634.8 1034.2,1670.2 1197.4,1492.6 1224.2,1556.4 1197.5,1623.1 1214.5,1550.7 1199,1620.4 1276.1,1532.5 1216.3,1664.7 1253.3,1541.9 1239.5,1625.4 1210.7,1567.7 1141.5,1562.2 1201.8,1602.8 1108.3,1630.3 1252.6,1637.6 1132.6,1552.6 1154,1630.9 1149.4,1521.4 1245.2,1638.1 1200,1607.8 1187.4,1578.8 1176.8,1415.9 1224.7,1601.3 1206.4,1594.2 1197.8,1525.9 1163.3,1425.7 1197.9,1540.6 1213,1533.5 1232.6,1596 1178.6,1628.1 1193.1,1537.9 1156.5,1573 1205.6,1584.2 1202.5,1665 1235.6,1511.8 1130.8,1519.8 1229.2,1578.7 1211.6,1631.2 1081.9,1621.8 1179.8,1633 1213.2,1650.6 1263.7,1565.9 1171.7,1650.9 1252,1542.9 1145.9,1540.8 1219.7,1550.5 1186.7,1545.6 1248.9,1639.1 1122.7,1596.8 1220,1558.4 1191.7,1557.1 1146,1589.1 1258.3,1614.6 1334.3,1479.1 1151.6,1633.2 1251,1575.4 1348.5,1595.1 1176.8,1567.9 1197.2,1525.8 1143.4,1503 1261,1501.2 1178,1568.1 1143.9,1588.8 1173.6,1471.4 1151.1,1598.3 1189.6,1633.5 1209.4,1543.2 1128.3,1588.5 1254,1652.1 1173.1,1596.5 1291.5,1596.4 1207.1,1535.2 1199,1607.5 1109.4,1553.2 1282,1621.2 1167.6,1583.6 1255.9,1568 1198.8,1667.7 1257.5,1662 1135.7,1595.1 1118.9,1555.2 1202,1617.3 1196.6,1575.8 1235.8,1602.6 1275.8,1569.2 1218.9,1562 1233,1541.2 1162.8,1526.4 1262.9,1580.8 1174.1,1614.6 1133.9,1519.3 1198.9,1567.1 1244.4,1618.4 1243.5,1494.3 1194.2,1496 1118.6,1601.2 1117.7,1487.3 1230.8,1606.1 1207.1,1602.7 1199.9,1672.8 1131.3,1498.7 1166.9,1573.1 1205.6,1608.8 1253.2,1522.8 1153.9,1601.6 1277.3,1560.3 1168.4,1591.3 1234.9,1429 1172,1572.4 1050.6,1634.6 1106.8,1491.4 1164.7,1422 1203.2,1493.1 1164.7,1613.7 1138.4,1672.9 1177.1,1644.1 1253.9,1521.8 1171.3,1621.3 1116,1624.8 1102,1528.2 1248.1,1539.5 1205.4,1663.6 1093.1,1607.5 1211.1,1602.8 1206.2,1607 1076.7,1398.3 1144.2,1435.2 1123.3,1522.9 1181.7,1650.3 1338.7,1619.8 1136.1,1593.2 1292.2,1586.5 1091.4,1602.6 1161.8,1549.9 1316.5,1591.2 1210.3,1520.9 1209.5,1459.9 1282.3,1546.3 1196.6,1463.3 1174.5,1606.5 1229,1640.2 1239.9,1521.9 1074.4,1542.8 1168.9,1544.5 1249.1,1656.8 1159,1596.3 1337.8,1617.8 1181.5,1529.8 1119.7,1576 1261.1,1461.4 1136.7,1529.8 1185.3,1643.3 1251.5,1578.5 1100,1533.8 1218.6,1469.6 1094.4,1579.1 1211,1553.2 1253.4,1545.9 1265.7,1598.2 1035.8,1610.1 1236.8,1597.9 1196.7,1433.4 1212.8,1615.2 1156.6,1642.2 1142.7,1556.9 1206.4,1581.4 1237.5,1603.8 1243,1560.1 1143.9,1485.9 1216.8,1629.1 1050.3,1649.4 1142.9,1590 1181.5,1558.3 1206.1,1553.3 1086.2,1628.7 1060.3,1631.5 1186.3,1573.7 1160.5,1473.5 1240.6,1620.4 1129.7,1601.4 1286.2,1543.1 1161.7,1616.9 1299.9,1579.5 1171,1573.7 1187.9,1614.3 1223.1,1629.7 1120.6,1590.4 1235.6,1595.8 1123.2,1647.1 1155.1,1560.5 1128.1,1564.3 1182.8,1640.1 1228.6,1523.8 1156.7,1641.7 1232.3,1631.9 1198.6,1573.5 1195.3,1551.7 1170.8,1552.5 1203.8,1554.2 1235.6,1645.4 1197.7,1566.4 1232.4,1586.1 1232.2,1494.3 1174.3,1606.2 1309.1,1579.6 1270.3,1629.9 1196.7,1591.9 1143.4,1658 1143.2,1563.1 1217.5,1617 1163.4,1581.4 1220,1620.4 1124.3,1606 1218.8,1608 1492.4,1635 1324.8,1399.8 1219.3,1576 1251.8,1545.1 1293.7,1609.5 1132.6,1620.8 1168.7,1547.7 1144.3,1529.4 1152.4,1595.7 1098.7,1549 1193.6,1538.4 1260.9,1604.4 1160.8,1410 1245.7,1568.2 1026.4,1483.4 1210.9,1609.5 1152.2,1553.6 1248.3,1593.7 1183.1,1614.5 1235,1502.6 1261.3,1581 1216.8,1579 1266.7,1581 1249.9,1505.3 1195.6,1649.8 1131.8,1619.2 1306.5,1533.4 1165,1580.4 1287.8,1516.4 1071.9,1632.1 1240.4,1587.3 1141.8,1587.5 1164.5,1513 1125.9,1614.1 1193.7,1548.2 1168.8,1551.2 1240.4,1512.5 1294.8,1531.3 1158.4,1566.7 1238.3,1513.5 1261.8,1596.3 1139.4,1637.2 1285.1,1480.6 1073.6,1552.8 1148,1484.9 1260.3,1462.6 1118.9,1631.8 1398.6,1602.2 1254.3,1654.7 1229.6,1548 1136,1623.5 1199.7,1569.8 1149.7,1595.1 1198.4,1478.3 1244.8,1559.6 1129.1,1575.6 1101.6,1581.5 1152.9,1590.8 1236,1556.3 1248.7,1568.6 1251.4,1602.7 1170.8,1645.3 1178.1,1530.8 1167.3,1635.9 1298.5,1560.1 1148.5,1593.1 1214.1,1534.9 1238.3,1622.6 1239.5,1577.8 1197.2,1629.9 1211,1637.8 1176,1665.4 1168.4,1656.5 1182,1611.4 1227.3,1598.5 1220.5,1581.2 1290.5,1435.4 1173.7,1575.2 1188,1571.7 1159.7,1606.1 1519.1,1601 1195.7,1622 1260.3,1522.5 1239.7,1604.6 1131.6,1639.5 1132,1626.2 1267.7,1536.8 1290.8,1478.9 1201.1,1554.7 1103.3,1549.6 1237.9,1627.5 1231.5,1562.5 1189,1635.3 1292,1555.9 1285.5,1550.1 1492.7,1586.7 1226.4,1649 1173.4,1516.4 1190.2,1550.8 1146.4,1632.4 1273.1,1551.5 1223.7,1595.3 1283.2,1640.1 1283.6,1504.5 1192.9,1642.4 1188.6,1656.8 1212.3,1590.2 1185.3,1500.2 1258.9,1634.5 1171.7,1550.6 1286.6,1641.6 1217.9,1633.7 1243.2,1560.4 1150,1531.2 1271.9,1594.8 1252.3,1463.7 1154.1,1623.6 1309.9,1593.2 1192.2,1643.7 1306.6,1500.5 1226,1581.6 1131.7,1605.5 1162,1593.9 1197.8,1585.4 1192.4,1560.2 1230.2,1532.7 1274.3,1568.5 1159.6,1546.3 1207,1573.6 1214.5,1517.1 1136.3,1604.5 1272.9,1498.3 1164.6,1514 1151.1,1576.7 1191.7,1642.9 1195.1,1647.1 1236.4,1551.1 1217.4,1640.3 1235,1629.2 1189.6,1527.2 1320.2,1661.9 1209.1,1564.8 1243.1,1556.2 1261.8,1546.6 1231.7,1588.7 1167.3,1541.7 1164.4,1517.8 1215.1,1631.7 1351.1,1585.8 1135.8,1587 1268,1679.4 1239,1579.3 1212.3,1589.4 1208,1542.7 1296.4,1500.2 1174.8,1577.3 1129.3,1567.3 1200.7,1482.9 1206,1494.8 1145.7,1549.8 1144,1558 1182.3,1569.7 1156.4,1465.9 1174.9,1565.1 1213,1518.3 1208.1,1598.4 1209.9,1544.5 1131.1,1634.4 1188.1,1602.4 1175,1582.3 1172.5,1595.2 1243.9,1558.5 1249.5,1635 1232.5,1545.3 1237.4,1518.7 1169.7,1508.4 1176.2,1599.2 1216.4,1585.3 1245.2,1560.6 1176,1642.9 1239.9,1586.5 1255.9,1566.2 1236.4,1526.3 1196.2,1546.1 1235.8,1570.7 1199,1555 1327.3,1521.7 1252.1,1550.2 1152.2,1566.9 1155.3,1640.6 1118.8,1640.3 1224.1,1544.2 1189.4,1572.3 1285.8,1540.6 1118.4,1605.5 1131,1476.9 1271.5,1581.5 1223.2,1605.8 1139.1,1477.1 1226.1,1635 1207.9,1580.7 1121.3,1573.4 1267.1,1599.1 1193.6,1596.9 1137.2,1454.2 1159.5,1582.1 1267.5,1612.4 1176.9,1629.1 1175.3,1574.4 1095.1,1592 1183.8,1607 1129.6,1508 1217.8,1566 1253.4,1524.6 1126.6,1543.9 1134.9,1614.3 1264.2,1501.5 1251.8,1536.9 1177.5,1555.3 1118.9,1553.1 1214.9,1531.2 1218,1476.1 1244.1,1581.6 1200.5,1566.8 1289.5,1513.9 1273.9,1526.3 1147.9,1544 1130.9,1528.5 1193.1,1542.5 1203.6,1654.1 1193.8,1506.1 1122.3,1577.9 1198.6,1428.5 1116.1,1619 1172.1,1607.3 1119.2,1612.9 1242.3,1554 1205.6,1601.7 1111.1,1554.6 1097.3,1458.2 1231.4,1576 1207.8,1618.6 1096.1,1625.9 1262.1,1562.5 1033.3,1568.1 1170.5,1642.1 1229.9,1651.8 1282.7,1505.6 1238.1,1686.6 1160.6,1577.4 1171.2,1479.6 1138.3,1547.8 1179.7,1515.6 1055.1,1560.2 1311.3,1634.8 1219.4,1525.4 1251.6,1528.9 1211.5,1542.8 1146.5,1477.9 1147.4,1537.5 1202.4,1573.8 1210.3,1515.9 1131.7,1607.6 1293.2,1581.6 1160.1,1631.7 1170.6,1542.8 1179.7,1503.3 1201.6,1538.1 1250.4,1523.4 1262.3,1423.9 1139.1,1523.2 1202.3,1524 1147.9,1502.5 1195.3,1633.4 1153.1,1610.3 1103.7,1583.6 1304.8,1610.8 1210,1661.2 1227.6,1596.1 1260.9,1431.2 1208.7,1635.7 1139.6,1558.4 1212,1541 1166,1616.8 1201.7,1520.8 1151.4,1554.3 1150.8,1570.1 1292.9,1615.2 1217.9,1527.8 1183.1,1674.6 1143.9,1596.9 1279.6,1566.8 1166.4,1635.2 1085.6,1650.3 1186.7,1589 1198.5,1612.4 1267.5,1617.8 1199.7,1597.5 1233.7,1565 1280.8,1515.9 1194.3,1587.8 1174.6,1546.4 1222.1,1650.9 1145.2,1584.5 1183.2,1561.3 1220.2,1576.1 1225.3,1629.6 1083.8,1601.4 1252.2,1577.8 1153.5,1569.1 1249.6,1556.6 1200.1,1555.5 1139.7,1666.3 1186.8,1628.8 1135.3,1574.6 1160,1529.9 1120.8,1664.6 1303.4,1558.7 1300.6,1584.7 1156.6,1584.5 1159.9,1506.5 1090.3,1668.3 1348.6,1461 1198.6,1600.6 1147.1,1548.1 1172.9,1617.2 1196,1560.8 1303.4,1539.4 1236.5,1657 1152.1,1636.7 1058,1549.6 1177.2,1606.7 1132.9,1632.1 1246.6,1611.2 1119,1578.1 1119.4,1551.7 1225,1571.3 1195.9,1521.3 1020.3,1544.1 1248.6,1617.4 1178.9,1589.2 1124.2,1617 1121.2,1646.3 1138,1578.8 1169.2,1646.2 1232.8,1584.1 1245.5,1576.9 1200.2,1605.3 1093.5,1602.2 1104.1,1636.6 1096.8,1577.4 1242.8,1589 1123.5,1586.7 1153.9,1620.9 1212.8,1595.7 1156.5,1623.9 1200.1,1531.4 1193.9,1634 1212.8,1575.1 1165.3,1544.4 1171.1,1595.3 1145.7,1607.8 1255.2,1542.8 1257.6,1587.9 1208.6,1593.4 1258.9,1630.3 1061.3,1604.3 1149.3,1653.3 1246.9,1575.6 1108.1,1606.2 1234.3,1649.9 1259.6,1541.8 1229,1551.2 1136.2,1581.4 1220.4,1624.9 1182.6,1523.5 1177.9,1630 1176.4,1625.8 1142.8,1575.5 1133.2,1658.2 1097.7,1574.8 1310.9,1589.7 1228.1,1617.3 1140.1,1583.7 1128.3,1442.5 1186.2,1599.7 1200.3,1602.3 1268.8,1556.2 1179.5,1640.3 1208,1554 1141.1,1562.9 1211.1,1530.1 1242.9,1541.3 1164.4,1557 1170.2,1562.7 1151,1525.9 1206.7,1497.9 1179.1,1532.6 1281.9,1527.3 1243.6,1583 1189.4,1586.3 1154.8,1414.7 1228,1629 1185.5,1550 1191.4,1656.9 1173.7,1636.9 1321.5,1602.9 1217.1,1550.4 1258.6,1619.8 1141.8,1582.4 1177.8,1667.3 1184.8,1583.5 1136.3,1582.3 1188,1579.1 1165.3,1554.1 1218.1,1629.3 1171.1,1552.3 1217.8,1591.7 1253.3,1631.2 1167.6,1597.7 1337.5,1574.2 1236.1,1620 1107.4,1524.3 1155.6,1545.7 1294.5,1523.1 1126.6,1606.1 1098.5,1529.7 1113.3,1641.6 1240,1554.4 1189.2,1507.6 1187.9,1534.3 1325.7,1528.5 1258.6,1614.7 1223.4,1571.4 1129.6,1585.8 1175.2,1399 1230.4,1627.2 1139.7,1650.2 1171.8,1676.7 1202.8,1470.6 1177.1,1577.9 1207.1,1533.7 1203.1,1549.8 1142,1479.4 1236,1587.8 1173,1557.2 1213,1623.6 1152.2,1492.2 1267.3,1579.1 1181.6,1552.7 1202,1499.2 1270.8,1495.9 1165.7,1520.7 1171.2,1534.1 1204.8,1663.3 1173.6,1474.3 1181,1484.1 1165.5,1603.1 1269.4,1634.2 1259.4,1418.7 1204.6,1559.9 1158.7,1561.1 1216.9,1522.1 1189,1552.2 1234.4,1581.7 1221.2,1529.4 1166.4,1490.7 1180.5,1552.8 1262,1653.3 1192.9,1534.4 1256.1,1563.8 1183.5,1615.8 1257.4,1548 1211.9,1520.3 1175.9,1606.6 1186.5,1593.1 1183.7,1610.9 1141.4,1642 1102.5,1620.1 1157,1586.6 1147,1555.2 1227.9,1616.9 1265.4,1484.3 1185.4,1601.8 1167.3,1573.4 1133.8,1646.6 1225.8,1456.3 1151.8,1632.1 1326.5,1518.8 1230.8,1512.9 1226.9,1439.6 1188.4,1640.3 1284,1417.9 1225.7,1625.7 1083.1,1540.5 1229.5,1583.2 1191.6,1540.7 1179.1,1500.2 1192.2,1591.6 1128.7,1609.4 1183.2,1602.4 1221.3,1542.3 1153.5,1528.9 1269.9,1635.5 1172.6,1528.8 1080.7,1655.8 1263.8,1503.5 1273,1591.8 1250.4,1573.5 1248.3,1613.9 1211.7,1589.3 1167.5,1593.1 1238.3,1597.5 1151.1,1662.1 1216.7,1591.8 1167.9,1606.4 1470,1632.7 1316.6,1615 1198,1587.1 1194.4,1487.9 1158.5,1574.2 1104.9,1542.3 1204,1444.2 1266.6,1598.8 1124.9,1586.8 1089.1,1637.8 1235.2,1577.6 1260.8,1493.5 1216.9,1599.3 1109.8,1462.9 1250.7,1502.9 1190.2,1610.4 1275.9,1568.2 1226,1578.1 1102.6,1532.2 1127.7,1488.7 1154.5,1511.6 1191.3,1611.4 1183.9,1605.7 1210.5,1675.5 1234.6,1563.9 1154.5,1608.4 1154.8,1631.4 1152.5,1515 1236.8,1552.3 1166.8,1465.7 1214.9,1670.4 1242.8,1587.8 1255.6,1608.8 1194.4,1500.9 1185.3,1626.2 1197.4,1549.5 1221.6,1637.2 1196.3,1583.6 1284.5,1621.6 1063.1,1546.3 1249.8,1639.6 1145.6,1564.1 1251.3,1617.7 1100,1622.4 1203,1500.4 1188.8,1579.4 1069.4,1580.8 1106.9,1610.9 1212.6,1499.3 1119,1626.5 1175.4,1566.1 1262.4,1592.7 1298.8,1639.8 1253.9,1534.1 1164.5,1582.7 1162.7,1565.3 1186.7,1663.6 1187.8,1549.7 1180.7,1501.7 1223.4,1606.3 1235.2,1554.5 1182.2,1572.1 1193.7,1553.6 1185.1,1590.7 1147.7,1512.2 1156.8,1583.9 1314.4,1533.4 1219.2,1632.4 1233.6,1609.6 1237.6,1625.3 1135.3,1641.4 1218.4,1649.9 1225.1,1657.5 1234.3,1577.1 1207.7,1540.6 1153.9,1630.9 1159.2,1640.7 1244.2,1574.9 1317,1554.9 1196.7,1629.2 1184.4,1403.6 1146.4,1522.6 1134.1,1508.9 1128.8,1604.9 1176.5,1503.7 1273.2,1576.8 1285.9,1511.9 1136.9,1521.6 1170.8,1586.6 1455.2,1606.9 1090.4,1641 1205.7,1603.3 1195.4,1602.3 1164.9,1586.7 1127.3,1506.3 1155.2,1582.8 1111,1547.2 1189.9,1587 1228.9,1630.1 1175.6,1637.9 1127.2,1580.8 1158.3,1477.6 1217.3,1649.2 1242.1,1601.6 1262.4,1499.4 1189.6,1657.7 1243,1505.7 1204.7,1596.6 1134,1640.7 1242,1546.8 1246,1533.8 1186.6,1522.5 1251.9,1547.2 1172.1,1558.2 1157.5,1501.2 1202.5,1496.9 1274.4,1586.5 1106.5,1568.2 1314.1,1629.2 1212.2,1658.9 1202,1578.8 1202.2,1521.5 1180.1,1535.5 1163.1,1584 1118.9,1529.5 1215.3,1593.9 1176.5,1526.4 1190.6,1560.9 1132.8,1641.2 1181,1648.1 1160.1,1518.8 1176.4,1610.7 1143.9,1610.6 1228.6,1595.4 1143.4,1559.4 1242,1613.9 1232.3,1465 1202.1,1620.4 1137.6,1589.7 1162.7,1624.5 1161.3,1601.5 1312.2,1616.4 1210.3,1595.3 1187.1,1578.1 1222.1,1544.5 1192,1628.6 1275.4,1647.4 1220.8,1608.9 1185.9,1694.1 1222,1606.6 1265.1,1618.6 1226.8,1655 1255.9,1613.3 1167.8,1627.7 1190.2,1537 1206,1529.9 1167.3,1601.4 1261.4,1608.5 1253.2,1591.4 1244.9,1464 1164.8,1675.3 1203.9,1567.5 1210.6,1622.4 1154.7,1532 1142.8,1579.8 1161.6,1585.4 1196.3,1562.2 1072.8,1578.1 1170.3,1655.7 1247.2,1608.4 1250.8,1586.8 1196.4,1547.7 1198.2,1613.2 1194.3,1569.3 1191,1630 1142.5,1497.3 1200.5,1631 1199.3,1612.5 1113.7,1536.8 1165,1540.8 1181.4,1566 1232.1,1566.2 1092.6,1513.2 1229.7,1612.1 1119.2,1640.9 1288.8,1563.8 1184.6,1628.3 1215.6,1639.6 1296.3,1617 1220.8,1570.1 1146.9,1643 1102.4,1607.2 1201,1568.7 1186.7,1542.6 1125.8,1545.3 1195.9,1519.3 1206.7,1575.4 1243.4,1586 1208.9,1647.6 1372.1,1584.6 1283.5,1648.3 1240.7,1661.5 1052.7,1504.6 1137.9,1580.9 1217.8,1569.1 1244,1599.2 1239.4,1561.4 1179.2,1613.7 1189.8,1701.5 1244.6,1568.5 1218.5,1581.6 1180.6,1589.8 1260.3,1625.3 1226.8,1629 1188.9,1555.1 1171.1,1581.1 1308.1,1656.4 1147,1558 1203.4,1536.3 1165.7,1640.3 1184.6,1604.9 1227.2,1591.4 1196.6,1603.6 1163.2,1540.4 1205.4,1576.3 1163.4,1572.1 1234.7,1562.7 1300.1,1507.3 1266,1594.6 1239,1573.1 1232.2,1637.5 1255.5,1574.2 1248.9,1642 1185.3,1628.3 1241.5,1628.8 1207.6,1556.5 1122.4,1573.7 1185.5,1614.3 1165.7,1523.6 1134,1629.7 1037,1549.5 1217.7,1620.4 1274.3,1663.2 1257,1591.6 1237.7,1618.5 1154.5,1610.9 1194.5,1635.5 1128.8,1533.2 1120.6,1521.3 1271.9,1596.1 1274.3,1615.7 1187.4,1606.3 1132.3,1448.5 1207.9,1616.3 1115.1,1654.1 1163.1,1560.8 1205.5,1654.7 1148,1572.1 1164.1,1558.8 1201.9,1481.6 1208.1,1614.3 1269.9,1578.3 1276,1493.8 1051.7,1644.3 1050.5,1452.5 1171.4,1610.8 1184.2,1552.7 1192.7,1516.5 1209.3,1602.8 1229.8,1576.3 1173.7,1507.3 1207.4,1627.5 1128.1,1416.3 1143.5,1623.5 1121.8,1600 1201,1553.4 1215.6,1566.2 1178.3,1474.1 1230.6,1629.4 1233.4,1641.3 1118.5,1629.5 1204.6,1582.6 1070.2,1652.4 1178.2,1652.5 1164.1,1528.7 1119.6,1598.9 1159.2,1641.1 1193.3,1586.8 1151.5,1614.6 1214,1563.9 1212.9,1688.7 1142.2,1464.9 1219.6,1531.8 1260.5,1567.6 1277.3,1474.4 1156.2,1619.7 1174.8,1481.1 1292.4,1510.8 1101.9,1579 1316.9,1498.5 1189.4,1551.1 1045.2,1678.9 1242.1,1596.8 1149.5,1541.5 1219,1650.5 1197.3,1634.1 1248.3,1531.1 1132.2,1580.7 1211.3,1480.2 1139.5,1588.5 1137.2,1591.6 1181.3,1573.4 1255.1,1629 1193.7,1572.5 1153.3,1492.2 1225.2,1470.1 1195.4,1571.3 1237.4,1611.8 1200.8,1631.2 1207.4,1601.4 1153.8,1579.7 1102.4,1594.6 1231.2,1468.2 1241.4,1618.6 1202.4,1638.9 1231.3,1618.5 1230.7,1609.7 1263,1618.3 1209.9,1558.7 1107.2,1610.9 1147.2,1512.3 1163.2,1624.6 1214.3,1687.7 1124.4,1430.5 1235.5,1658.9 1229.5,1597.2 1149.9,1629 1275.4,1421.1 1314.4,1466.9 1209.9,1575 1219,1597 1192.6,1594.4 1217.1,1598.9 1319.4,1546.7 1125.9,1505.4 1162.6,1619.4 1234.6,1616.3 1133.3,1654.5 1139.5,1533.3 1173.1,1543.1 1243.9,1654.3 1233.8,1554.6 1185.4,1641.6 1288.8,1633.1 1090.5,1536.7 1055.1,1665.3 1215.8,1540.5 1165.3,1499.6 1274.8,1524.7 1181,1572 1097,1579.5 1262.2,1510.7 1236.5,1629.1 1198.1,1674 1270.1,1531.6 1279.8,1556.6 1312.7,1624 1151.7,1600.3 1138.1,1606.6 1167.2,1469.2 1133.9,1536.7 1192.2,1545.4 1207.1,1627.3 1268.4,1598.3 1291,1547.8 1188.8,1567.2 1120.3,1625.1 1222.8,1690.2 1265,1668.7 1106.4,1611.2 1114.7,1607.3 1216,1556.9 1183.4,1650 1185.2,1605.1 1232.4,1549.8 1134.2,1538.7 1097.2,1594.5 1092.3,1570.8 1222,1433.1 1259.8,1604.5 1191.3,1618.7 1176.3,1643.9 1133.7,1562.5 1140.5,1585.6 1178.5,1534.3 1127.4,1555.3 1133.9,1680.4 1126,1449.6 1173.3,1520.9 1193.2,1589.6 1199.4,1653 1159.8,1597.7 1211,1579.3 1218.5,1546.1 1256.2,1491.2 1155.2,1633.6 1191.1,1566.7 1189.2,1623.4 1191.5,1515.3 1181.4,1655.1 1187.6,1501.7 1152.4,1573.1 1259.6,1556.1 1286,1515.3 1268.5,1478.5 1151,1556.9 1351.8,1597.6 1170.1,1566.7 1380.8,1574.7 1239.5,1594.3 1194.1,1596 1230.2,1621.9 1104.6,1497.7 1149.2,1562.2 1166.1,1583.5 1326.9,1574.6 1104.3,1667.3 1269.7,1595.5 1274.6,1528.3 1115.5,1618.9 1210.4,1593.1 1124.5,1456.7 1071.4,1441.9 1077.8,1546.4 1309.2,1508.1 1179.5,1579.3 1219,1572.9 1133.5,1559.2 1216.6,1591 1220.5,1486.1 1152.5,1609.3 1251.2,1602.7 1198.6,1619 1171.4,1673.9 1116.5,1578.4 1260.7,1597 1198.5,1629.1 1042.7,1680 1245.9,1549.9 1242.9,1520.2 1198.3,1518.3 1175.7,1524.9 1193.5,1635.9 1193.2,1579.4 1191.6,1474.9 1165.9,1577.3 1138.9,1419.2 1169,1612.8 1210.2,1593.6 1178.8,1590.6 1271.8,1520.2 1193.6,1502.2 1210.3,1468.9 1178.7,1577.8 1188.4,1623.4 1242.6,1679.5 1181,1518.1 1298.4,1533.4 1143.3,1562.6 1236.9,1651.8 1076,1634.6 1265.1,1614.2 1206.8,1547.5 1252,1607.1 1174.9,1569.8 1229.7,1579.9 1140,1621.2 1118.9,1553.8 1231.1,1550.4 1178.2,1569.8 1168,1591.2 1142.4,1595.3 1168.5,1568.2 1306.5,1541.8 1169.3,1640.3 1206.3,1540.1 1208.9,1621.5 1171.4,1479.6 1104.4,1493.2 1172.7,1462.7 1206.9,1587.6 1252.7,1566.4 1091,1622 1217.7,1502.1 1214.7,1504.6 1352.7,1504.6 1229.1,1626 1199.6,1642.6 1245.5,1595.6 1188.4,1455.3 1212.3,1614.5 1235.6,1603.5 1341.2,1599.6 1266.1,1578.6 1118.4,1580.4 1158.3,1608 1219.3,1591 1236.7,1532 1248.8,1515.9 1133.6,1561.6 1142.6,1511.9 1217,1495.5 1205.4,1539.9 1140.9,1569.7 1157.2,1621.6 1148.6,1571.8 1244.1,1539.3 1140.6,1539.6 1207.9,1595.4 1192.2,1614.1 1142.1,1558.5 1241,1656.4 1128.7,1644.2 1208.3,1505.5 1274.4,1537.5 1153.4,1588.7 1167.2,1537.1 1310.6,1495.6 1135.7,1621.2 1269.5,1594.9 1223.8,1591.2 1247.7,1606.7 1162.3,1570.9 1270.6,1513.1 1259.4,1577.5 1212.4,1667.4 1196.7,1482.3 1190.4,1606.6 1077.4,1514.4 1153.7,1643.3 1074.9,1612.1 1192,1646.5 1208.4,1472.3 1176.9,1658.1 1134.6,1549 1153.1,1588.6 1094.2,1620.8 1298.6,1588.7 1191.4,1446.5 1189.2,1589.8 1118.2,1634.3 1111.2,1675.4 1196.5,1646.2 1282.8,1550.2 1280.3,1587.9 1144.2,1517.1 1232.3,1497 1180.6,1638.3 1169,1587.1 1175.7,1608 1221.4,1393.6 1203.4,1581.3 1359.9,1560.1 1182.6,1654.7 1201.6,1574.1 1152.3,1624.9 1192.5,1587.5 1323.5,1644.7 1313.8,1513.2 1163.6,1567.9 1147.5,1529.6 1189.5,1626.9 1124.9,1482.1 1218.8,1616.7 1201,1676.1 1240.3,1590.3 1191,1442.4 1114.5,1587.3 1291.1,1631.1 1306.7,1533.1 1217.7,1593 1078.4,1602.6 1158.9,1560.5 1306.6,1610.7 1111.4,1472.4 1211.6,1584.4 1090.3,1613.4 1301.6,1570 1207.4,1557 1166.1,1589.8 1089.2,1575.3 1257.7,1527.2 1157.5,1564.6 1161,1618 1267.4,1657 1018.6,1573.3 1222.1,1582.2 1254.9,1488.1 1260.8,1535.9 1205.3,1640.3 1098.2,1554.6 1181.4,1583.6 1101.5,1504.8 1247.3,1627.6 1205.2,1608.2 1296.4,1536.3 1132,1581 1255.2,1570.7 1144.6,1549.8 1191.4,1558.5 1242.7,1543.9 1262.3,1583.3 1183.6,1663.1 1159.9,1540.8 1082.4,1501.2 1272.4,1615.3 1266.2,1606.7 1162.5,1570 1174.8,1536.2 1207.4,1628 1180.7,1661.3 1098.1,1570.1 1224.1,1580.4 1202.2,1628.9 1106.5,1592.9 1193.1,1557.8 1199.8,1637.2 1264,1582.2 1233.7,1516 1257.9,1507.1 1144.5,1444 1272.6,1515.6 1181.1,1586 1171.6,1537.7 1279.2,1610.1 1173.5,1552.3 1147.1,1648.5 1280.6,1595.3 1142.3,1474.7 1219.3,1644.3 1257,1596.2 1150.4,1596.4 1168.8,1615.1 1177.1,1557.9 1233.1,1508.7 1222.5,1618.2 1189.8,1649.1 1252.5,1541.2 1237.5,1583.7 1125.9,1549.8 1155.1,1630.2 1254.6,1598.9 1176.4,1612.5 1131.1,1616.7 1188.5,1515.5 1384.4,1522 1254.2,1619.8 1233.2,1543 1228.9,1584.1 1118.4,1648.2 1147.5,1589.8 1135.8,1495.4 1317.5,1600.6 1175.5,1596.7 1218.1,1601.2 1244.1,1628.4 1122.4,1553.9 1102.8,1656.5 1216.6,1670 1172.6,1650.3 1158.3,1533.9 1180.2,1646.5 1273.7,1533.3 1154.3,1516.4 1266.2,1546.4 1212,1597.4 1181.7,1658.3 1202.7,1637.4 1215.4,1583.4 1298.9,1526.3 1256.6,1615.3 1227.5,1588 1018.2,1626.7 1152,1608.3 1221.5,1557.3 1140.3,1579.3 1257,1555.5 1112.5,1596.3 1117.8,1582.5 1250.7,1597.8 1176.4,1486.3 1163.8,1478.1 1335.5,1569.4 1265.8,1559 1154.8,1582.5 1191.6,1569.1 1300.3,1614.7 1260.6,1555 1197.8,1575.8 1191.8,1408.8 1144.2,1673.1 1175.2,1480.9 1128.2,1621.2 1216,1583.8 1185.9,1486.8 1220.6,1469.7 1089.6,1538.8 1163.8,1511.4 1308.9,1607.6 1128.5,1668.3 1187.8,1617.7 1222.3,1597.6 1127.3,1463 1173.9,1567.7 1133.1,1608.3 1271.3,1584.1 1231.4,1596.7 1161.1,1512.1 1246.8,1529.1 1216.2,1565.5 1090.4,1618.1 1274.6,1553.2 1195.9,1644.9 1290.4,1622.1 1136.2,1453.8 1168.5,1641.9 1190.3,1532.7 1195.9,1626.1 1242.4,1626.6 1195.4,1612.3 1242.2,1646 1182.4,1494 1218.5,1454.2 1255.9,1651.4 1269.7,1641.5 1204.9,1568.5 1213.8,1544.1 1228.8,1585.8 1194.8,1581.5 1235.4,1600.9 1248.3,1613 1120.8,1627.8 1170.5,1546.3 1263.3,1585.8 1186.1,1599.1 1143.3,1545.5 1162.6,1569.2 1193.6,1672.5 1257.5,1626.6 1295.8,1604.7 1131.7,1531.5 1197.9,1613.8 1139.5,1581.7 1146.8,1601.2 1182,1601.9 1305.7,1509 1211.1,1675.1 1251.3,1644 1255.7,1608.7 1267.8,1613.1 1226.6,1628.1 1134.1,1624.1 1199.6,1521.2 1201.6,1617.3 1228.3,1555.5 1197.6,1461.6 1063,1585.8 1295.5,1604.4 1247.4,1525.6 1198.2,1531.8 1180.7,1597.6 1152.7,1652.7 1104.9,1590.7 1145.1,1530 1197,1527.1 1291.3,1481 1270.2,1619.2 1229.9,1561.1 1182.9,1595.5 1277.6,1629.2 1213.8,1585.4 1238.4,1573.2 1217.6,1580.4 1182.3,1587 1182.1,1613.4 1181,1552 1228,1562.2 1247.1,1596.5 1211.6,1556.1 1328.6,1509.5 1183.2,1465.9 1185.3,1570.4 1230.6,1510.9 1249.5,1514.8 1272.1,1653 1164.4,1555.9 1157.2,1626.8 1108.9,1507.9 1198.7,1567.8 1146.9,1698.4 1166.3,1567.9 1138.5,1597.8 1205.4,1560.1 1104.3,1477.9 1324.5,1581.9 1223.2,1556.4 1185,1531.3 1191.3,1578.3 1188.9,1587.9 1293.8,1553.2 1183.4,1539.9 1189.6,1539.5 1185.9,1598.4 1266.9,1578.8 1280.3,1561.4 1259,1550.9 1250.4,1577.1 1278.6,1529.2 1198,1565.3 1179.5,1527.9 1156.9,1578.3 1254,1628.1 1169.2,1397.8 1134.1,1623.5 1221.2,1659.1 1217.2,1610.4 1278,1604.1 1239.7,1589.5 1218.9,1609.4 1163.4,1664 1266.1,1533 1294.3,1619.1 1243.3,1606.7 1266.8,1553 1232.6,1547.2 1204.8,1525.9 1113.6,1439.9 1204.2,1491.5 1279.2,1576.1 1239.3,1605.3 1266.7,1594.9 1123.6,1566.9 1149.8,1551.3 1285.8,1622 1145.5,1521.9 1177.7,1556.4 1177.6,1624 1244.2,1510.7 1236.5,1484.3 1180.5,1661.2 1176.4,1513.8 1269.4,1543.6 1244.7,1529 1190.6,1622.1 1208.4,1623.2 1306,1501.6 1186.5,1467.3 1249.5,1502.7 1149,1627.6 1321.2,1462.7 1206.9,1531.9 1155,1507.3 1198.9,1612.4 1186.3,1648.5 1201,1603.7 1242.4,1614.1 1187.4,1563.9 1259.4,1552.1 1163.3,1604.2 1128,1557.1 1211,1628.4 1191.5,1601.6 1204.8,1566.9 1269.6,1536.1 1249.9,1638.9 1197.3,1579.2 1221.7,1626.2 1254,1605.6 1135.3,1591.5 1297.5,1583.3 1165,1567.3 1206,1454.6 1216.7,1618.6 1224.3,1478.2 1268.1,1576.5 1201.7,1546.3 1173.3,1515.7 1116.8,1547.1 1130.4,1491.7 1258.8,1598.3 1133.6,1550.8 1179.3,1433.8 1235.4,1536.8 1215.8,1564.1 1170.3,1654.4 1195.4,1612.8 1128.4,1613.4 1237.8,1603.1 1241.4,1471.2 1143.1,1542.2 1133.7,1533.3 1113.1,1562.2 1151.2,1618.4 1151.8,1630.6 1182.6,1647.9 1212.5,1452.4 1258.6,1485.5 1148,1551 1222,1621.7 1234.7,1645.2 1350.3,1616.2 1212.7,1626.5 1111,1551.6 1216.7,1600.5 1179.4,1586.3 1075.4,1533.1 1259.7,1510.9 1162,1637.1 1190.6,1552.9 1205.5,1614.1 1167,1531.3 1267.5,1537.2 1139,1537.9 1256.9,1555.8 1190.5,1508.6 1139.8,1588.5 1277.7,1640.3 1118.2,1624.3 1154.9,1566.9 1245.5,1459.2 1049.7,1622.6 1265.5,1582.5 1239.2,1624.3 1128,1428.3 1199.3,1518.6 1254.1,1600.7 1220.9,1510.4 1141.1,1635.3 1176.7,1572.1 1091.4,1582.8 1137.3,1478 1100.5,1604.5 1138.3,1547.3 1243.7,1516.6 1210.6,1559.7 1200.2,1615.5 1188.5,1520.6 1161,1568.4 1184.6,1595.7 1141.5,1648.4 1286.5,1491.1 1214.7,1678.8 1217,1485.9 1285.9,1525.9 1155.4,1662.1 1208.7,1567.4 1137,1611.5 1312.9,1534.2 1199.4,1537 1057.1,1636.2 1141.4,1574 1252.4,1603.5 1122.5,1640.1 1236.7,1566.7 1168.2,1656.1 1268.6,1584.1 1189.7,1636.6 1222.1,1661 1197.2,1552.5 1232.1,1641.2 1215.1,1566 1202.8,1544.7 1217.5,1533.5 1219.2,1641 1286.2,1562.6 1114.2,1632.5 1138.9,1447.6 1182.8,1636.7 1234.4,1617.2 1110.5,1657.3 1145,1532.6 1239.7,1596 1221.5,1647 1208,1644.2 1150.8,1499.1 1240.1,1586.4 1353.4,1593.5 1232.9,1602.7 1236.1,1569.6 1230.4,1576.5 1182.8,1584 1103.4,1491.8 1089.9,1639.4 1220.9,1534.6 1151.8,1618.2 1279.3,1395.2 1115.9,1594.4 1190.4,1672.2 1191.8,1520.4 1205.9,1592.3 1162,1605.5 1171.6,1604.7 1130.5,1577 1240.2,1647.8 1263.4,1626.8 1055.4,1610.9 1221.2,1625 1148.3,1514.1 1157.5,1618.6 1186.1,1660.6 1266.9,1566.6 1178.9,1509.9 1182.9,1631.5 1245.1,1631.7 1132.4,1551.6 1238.8,1552.4 1253.5,1541.5 1181.1,1626.6 1140.9,1558.6 1251.1,1518.7 1228.8,1599 1251.2,1556.5 1345.8,1534.9 1232.1,1615 1132.1,1517.1 1185.1,1523.3 1170.2,1582 1157.9,1606.4 1240.6,1630.3 1101.3,1597.5 1134.2,1606.8 1258.1,1514.9 1197.7,1557.9 1149.1,1427.7 1192.2,1503.3 1250.6,1599.4 1228.5,1613.4 1101.8,1649.2 1284.4,1486.8 1134.3,1643.6 1213,1564.4 1118.5,1553 1240.3,1538.6 1219.7,1636.1 1143.4,1591.6 1230.9,1588.2 1218.5,1497.4 1338.7,1568 1134.9,1605.2 1210.9,1631.8 1212.9,1618.4 1294.7,1545.1 1126.3,1604.6 1152,1539.5 1142.7,1654.4 1230.1,1647.1 1234.2,1582.8 1188.9,1629.9 1299.7,1581.8 1144.1,1654.1 1233.6,1575.5 1148.8,1484.3 1237.9,1497.2 1201.7,1538.3 1138.5,1641.8 1110.1,1572.1 1201.7,1588.7 1062.9,1598.1 1259.3,1597.6 1208.7,1546.4 1359.1,1480.3 1135.9,1592.4 1177.2,1628.6 1243.4,1577 1339.4,1589 1216,1488.9 1103.8,1677.5 1255.1,1632.3 1280.2,1501.6 1188.9,1619.1 1221.3,1606.3 1141,1598.9 1198.1,1616 1214.5,1559.1 1164.7,1636.5 1223.9,1555.2 1051.4,1652.2 1142.9,1509.5 1087.3,1444.6 1160.8,1107.5 1202.7,1306.3 1302.6,1342.5 1232.8,1366.9 1250.1,1376 1166.4,1388.2 1503.7,1445.6 1514.3,1478.5 1545.6,1544.4 1481.4,1550.3 1548.4,1601.8 1475.8,1575.8 1457.9,1578.5 1424.4,1580.6 1445.1,1628.4 1466.3,1631.6 1540.6,1638 1016.7,1600.8 1030.7,1635.9 1283.1,1714"/><polyline class="gr" points="1232.4,1585.4 1230.9,1576.6 1105.3,1605.2 1093.7,1619.9 1119.2,1601.6 1230.1,1535.6 1176.1,1596.9 1239.5,1575.4 1232,1572.4 1149.6,1637.3 1237.9,1586.5 1143.5,1581.1 1245,1550.5 1106.2,1599.9 1153.6,1622.4 1181.1,1591.2 1202.5,1535.8 1190,1584.7 1193.9,1584.6 1165,1520.5 1234.6,1552.9 1187.3,1622 1199.1,1538.7 1162.4,1563.9 1224.5,1548.8 1167.2,1573.6 1210.3,1600.7 1177.1,1505.7 1219.8,1537.5 1163.6,1506.8 1189.1,1628.1 1209.3,1572.4 1261.5,1491.1 1192.7,1647.7 1284.9,1536.5 1240.2,1582.3 1224.5,1491.2 1145,1563.4 1213.8,1582.3 1129.9,1645.2 1231.3,1510.5 1204.8,1566.3 1224.5,1540.3 1216.9,1581.3 1204.3,1639.8 1206,1580.5 1239,1550.4 1161.1,1553.6 1179,1587 1142.3,1523.7 1286.2,1492.2 1219.5,1603.8 1242.3,1538.6 1235.1,1511.7 1185.7,1581 1095.5,1618.6 1176.1,1564.7 1234.1,1544.8 1177.2,1600 1185.7,1611.2 1151.8,1574.6 1145.2,1613.4 1266.3,1445.4 1229.7,1509.7 1268.3,1445.2 1243.2,1618.3 1166.8,1631.9 1233.2,1536.5 1192.1,1611.7 1137.3,1603.1 1265.9,1519.4 1225.5,1540.6 1204.6,1600.8 1130.6,1598.4 1174.4,1568.1 1137.7,1591.8 1116.3,1582.5 1211.6,1486.4 1200.4,1563.8 1197.2,1576.9 1134.5,1639.4 1246.6,1566.3 1274.5,1519 1205.6,1581.6 1273.1,1493.2 1246.4,1503.6 1287.7,1554.5 1128.2,1617.6 1187.5,1534.5 1240.3,1568.1 1163.8,1571.9 1215.3,1518.1 1146.1,1546.8 1164.1,1528.3 1163.5,1612.5 1126,1629.6 1131,1595.9 1238.9,1440.4 1190.6,1571.2 1138.2,1606.2 1161.7,1609.6 1186,1569.3 1117.5,1582.7 1210.1,1520.8 1260.2,1553.2 1093.9,1586.3 1128.4,1554.4 1253.7,1586.7 1156.8,1597.2 1191.7,1528.5 1111.4,1618.1 1228.2,1490.1 1230,1578.9 1179.8,1389.7 1135.6,1581 1126.5,1635.7 1058.2,1641.1 1146.5,1619.9 1229.4,1487.2 1124.2,1614.3 1186.7,1549.4 1149.5,1551.1 1233.4,1559.4 1176.9,1595.8 1152.7,1568.3 1139.5,1643.7 1187.9,1587.7 1234.5,1558.4 1173.1,1599.8 1218.7,1479.4 1216.8,1545.9 1242.9,1574.6 1217.5,1609.1 1215.4,1537.7 1153,1636.1 1140.1,1562.1 1160.1,1589.8 1151,1552.8 1225.1,1539 1119.9,1593.4 1181.8,1559.6 1201.5,1467.7 1183.5,1561.1 1239.6,1536.1 1191.1,1589.1 1242.9,1578.8 1206.9,1526.1 1238.9,1542.1 1243.3,1535.7 1219.3,1565.2 1107.4,1609.8 1095.4,1602.4 1133.1,1616.5 1158.2,1627.7 1193.3,1528.6 1155.8,1607.3 1213.5,1505.4 1088,1601.4 1187.6,1552.1 1147.4,1613.4 1259.9,1512.9 1148,1606.7 1118.4,1505.6 1182.9,1630.8 1299.7,1585.2 1216,1563.3 1167.3,1507.3 1261.4,1627.2 1163.9,1551.4 1107.7,1632 1206.6,1585.3 1169.2,1511.8 1210.5,1528.4 1186.1,1575.2 1175.6,1543.6 1171.1,1577.2 1167.1,1586.8 1233.1,1567.7 1138.8,1629.9 1259.7,1543.8 1140.4,1617.8 1149.4,1572.8 1167.7,1588.7 1163.6,1529.3 1104.7,1574.5 1180,1562.8 1174.6,1560.4 1110.5,1651.2 1152.4,1601.2 1164,1632.1 1228.1,1603.1 1188.7,1540.9 1229.6,1496.1 1170.7,1612.3 1227.6,1572.1 1285.6,1521.1 1218.2,1553.2 1228,1536.5 1117.5,1639.3 1069.2,1565.8 1270.5,1461.4 1178.1,1566.4 1204.6,1598.4 1163.5,1570.3 1109.3,1622.7 1250.4,1591 1149.4,1619.1 1227.1,1527.4 1149.6,1621.7 1139.3,1624.1 1154.3,1628.5 1165.1,1537.4 1218.8,1627.6 1294.1,1477.8 1198.8,1558 1209,1524.8 1202.7,1559.6 1238.2,1568.6 1210.9,1586.8 1194.4,1557.9 1283.9,1537.6 1175.4,1595.4 1176.2,1588.5 1193.2,1595.8 1235.4,1581.3 1124.4,1631.5 1241.9,1490.5 1185.9,1527 1167.8,1579.8 1128.5,1621.9 1330.4,1458.8 1140.1,1577.7 1186.9,1553.8 1141.8,1564.1 1201.4,1564 1153.2,1609.6 1220.8,1536.2 1137.6,1613.2 1145.6,1602.5 1191.1,1599 1136.9,1544.5 1165.3,1624.5 1206.1,1486 1224.5,1501.3 1099.6,1659.5 1236.4,1581.9 1127.5,1652.9 1124.8,1600.4 1116,1604 1269.3,1554 1116.6,1620.6 1075.4,1628.4 1201.5,1542.4 1198.9,1570.6 1161.6,1631.8 1179.3,1588.1 1147.7,1640.8 1192,1536 1198.1,1558.5 1244.3,1536 1164.2,1555.5 1249.5,1509.5 1193.2,1571.6 1111,1592.8 1294.7,1407.8 1152.1,1583.5 1252.9,1509.8 1237.2,1513.7 1155.9,1612 1117.4,1630 1187.3,1646.2 1189.2,1547 1142.6,1585.8 1218.9,1578.7 1174.2,1559.6 1126.5,1622.2 1304.5,1485.8 1201.5,1603.7 1133.1,1647.5 1210.3,1520 1224.1,1549.2 1106.1,1646.2 1262.3,1605.9 1205.8,1575.2 1169.5,1591.1 1117.2,1592.8 1191.7,1591.9 1079.1,1618.4 1248.1,1609.8 1199,1523.6 1133.9,1599.9 1262.9,1410.2 1177.7,1531.8 1176.5,1611.8 1163.8,1607.8 1127,1572.1 1199,1576.2 1169.5,1547.1 1274.3,1528.9 1075.8,1615.5 1198.3,1432.9 1165.5,1599.9 1226.2,1584.1 1224.5,1569.1 1168.9,1575 1232.8,1426.3 1130.2,1521.7 1185.8,1605.1 1203.6,1603.7 1241.2,1576.7 1141.1,1623.3 1181.1,1601.2 1144.4,1626.6 1181.5,1583.3 1145.9,1565.5 1209.6,1548.8 1132.2,1615.2 1253.7,1514.6 1176.9,1588.2 1209.2,1556.3 1152.3,1618.9 1265.4,1473.6 1109.5,1605.3 1146.6,1560.2 1278,1534.7 1206.6,1555.5 1131.2,1535.7 1104.3,1641.2 1147.3,1576.2 1219.7,1593.6 1134.6,1606.3 1250.1,1553.9 1154.2,1555 1133.1,1616.7 1268.9,1575.9 1199.9,1611.2 1222,1633.6 1215.1,1570.4 1183.8,1515.5 1261.4,1451.6 1143.2,1610.3 1139.5,1583.7 1107.7,1638.1 1177.3,1608.8 1248.1,1551.7 1249.5,1573.6 1189.4,1627.3 1162.2,1640.2 1199.8,1551.7 1186.5,1527.4 1173.3,1583.1 1164.7,1571.5 1210.3,1598 1188.2,1583.3 1255.5,1536.7 1203.8,1590 1225.7,1584.7 1221.5,1602.8 1240,1641.6 1202.8,1560.5 1111.1,1554.6 1210.9,1580.3 1152.9,1552 1088.4,1615.4 1190.5,1619.3 1091.2,1623.5 1196.7,1519.4 1109.2,1612.2 1244.4,1527.4 1163.8,1622.8 1168.9,1579.5 1156.3,1638 1201,1522.1 1211.1,1566.6 1118.7,1601 1205.8,1607.1 1150.7,1615.7 1242.1,1603.1 1205.2,1581.5 1205.5,1556 1242.8,1578.7 1192.2,1563.2 1188,1540.5 1225.7,1552.3 1192,1613.5 1231.8,1564.8 1118.8,1611.9 1098.3,1627.4 1232,1539.9 1174.1,1608.2 1111.1,1625.7 1114.3,1576.2 1149.2,1636.5 1210.6,1583.9 1255.6,1491.9 1226.6,1523.4 1148.4,1611.9 1172.9,1579.7 1177,1608.8 1148.4,1631.3 1261.4,1588.5 1146.4,1568.1 1168.9,1630.2 1168,1613.7 1280.3,1452.4 1179.3,1527.7 1187.4,1575.3 1221.7,1584.9 1213.4,1540.5 1139.9,1625.4 1141.2,1571.1 1216.7,1592.5 1337.3,1475.5 1102.7,1583.3 1187.1,1573.5 1161.3,1551 1164.9,1613.7 1140.8,1659.5 1195,1560.1 1208.8,1577 1215.1,1557.6 1205.7,1584.7 1145.5,1634.3 1203.6,1612.4 1155.2,1516.8 1162.1,1607.5 1161,1613.4 1233,1571.4 1231.1,1560.7 1266.9,1451.8 1154.3,1550.8 1229.2,1541.2 1197.4,1548.8 1237.2,1537.2 1249.4,1558.6 1187.4,1510.3 1320.4,1442 1242.9,1496.9 1223.4,1583.2 1202.8,1581.7 1281.1,1497.8 1228.8,1565.4 1143.1,1591.4 1121.7,1607.5 1165,1587.6 1126.2,1636 1227,1613.3 1267.8,1416 1134.7,1618.1 1251.9,1540 1198.6,1620.8 1145.6,1542.3 1145.3,1617 1137.3,1619.6 1113.9,1637.4 1061,1652.3 1165.6,1556.5 1081,1644.8 1142.3,1608.3 1125.7,1614.4 1341.5,1414.2 1232,1564.9 1173.7,1573.8 1142.4,1635.4 1118.4,1588.7 1181.1,1584.4 1110.2,1622.4 1187.6,1548.1 1234.8,1505.1 1117.3,1535.1 1177.8,1581.8 1150.8,1599.8 1223.9,1544.8 1255.5,1579.3 1122.9,1585.5 1202.1,1584.7 1178.8,1608.3 1134.1,1601.7 1113.4,1603.4 1111.8,1602.4 1259.9,1533.5 1174.4,1566.8 1206.2,1611.9 1165.2,1508.9 1177.2,1625.7 1167.9,1570.1 1147.4,1565.6 1161.2,1570.9 1110.2,1615.9 1092.8,1628.7 1169.7,1525.3 1210.1,1551.7 1249.6,1584.3 1215,1502.7 1317.3,1458.3 1130.6,1605.4 1168,1555.9 1145.1,1610.7 1199.6,1590.8 1119.6,1633.6 1248.5,1477.1 1154.3,1554.5 1130.2,1617.3 1129.8,1580 1149,1600.4 1228.2,1534 1105.1,1610 1198.6,1589.7 1184.3,1590.8 1201.6,1561.3 1228.9,1582.4 1234.3,1496.4 1140.8,1619.7 1243.8,1508.9 1203.3,1541 1180.9,1594.8 1174.7,1572.7 1189.3,1592.3 1267,1557.9 1215.4,1579.3 1159.7,1591.9 1093.8,1640 1098.4,1613.3 1214.6,1607 1202.1,1577.6 1195.1,1563.5 1184.1,1545.9 1186.8,1576.7 1172.8,1594.8 1166.9,1552.5 1260,1387.4 1217.4,1539 1194.3,1538.3 1212.1,1496.7 1224,1580.7 1079,1608.3 1174.5,1549 1184.3,1581.2 1226.2,1485.6 1248.7,1588 1153.2,1620.6 1178.8,1576.9 1258.6,1535.3 1192.4,1486.6 1142,1545.5 1163.9,1578.3 1194.7,1528.7 1101.2,1566.2 1130.3,1595.6 1184.9,1586.6 1212.1,1558.6 1207.6,1602.1 1269.2,1497.9 1208.2,1566.8 1153.2,1604.7 1325.1,1435.7 1198.9,1519.3 1189.9,1605.3 1195.3,1641.2 1131.6,1603.4 1201.8,1607.1 1282,1493.3 1230.6,1598.7 1222.5,1554.2 1125.8,1619.8 1277.4,1574.2 1213.7,1545.9 1156.4,1631.2 1203.1,1608 1154.5,1595.2 1247.9,1542.7 1127.7,1614.4 1184.5,1590.7 1193.7,1522.4 1206.2,1546.6 1233,1602.4 1145.8,1578.9 1232.6,1576.2 1166.1,1625.4 1151.4,1557.7 1177.3,1567.8 1164.9,1603.3 1189.2,1571.3 1202.3,1613.2 1227.4,1559 1119.9,1630.5 1130.6,1550.7 1240.1,1528.8 1213.6,1649.1 1191.2,1611 1121.3,1624.8 1241.1,1587.8 1201.6,1530.7 1247.8,1530.7 1115.7,1644.2 1212.9,1555.6 1235.1,1573 1208.6,1630.6 1165.8,1554.4 1153.7,1607.1 1111.7,1595.4 1204.7,1589.3 1284.3,1537.9 1117.8,1626.8 1103.6,1592.9 1146.6,1568.2 1158.7,1584 1206.5,1575.5 1116.6,1548.4 1288.1,1523.5 1169.7,1621.1 1217.4,1610.8 1118.5,1610.3 1112,1585.2 1265,1493.3 1152.8,1602.1 1174.3,1600.5 1218.3,1562.5 1192.8,1587 1137.8,1627.2 1061,1614.5 1138.2,1524.4 1196.2,1565.2 1141.5,1618.1 1207.4,1539.1 1115.9,1586 1249,1557.1 1131,1553.9 1227.3,1520.1 1178.2,1547.7 1148,1480 1287.3,1501.5 1235.5,1562.1 1161.7,1604.9 1153.4,1622 1180.4,1618.4 1167,1561.5 1168.1,1521.3 1201.9,1578.9 1127.5,1589.6 1112,1612 1139.1,1572.6 1156.9,1593 1188.4,1629.3 1164,1606.5 1229.5,1597.1 1194,1575.1 1131.9,1594.3 1109.8,1616.1 1211.4,1541.2 1171.3,1607.9 1269.8,1529.8 1245.9,1578.5 1133.7,1603.8 1217.6,1575.7 1239,1528.9 1130.9,1598.4 1247.3,1540.9 1187.8,1539.9 1245.2,1577 1197.7,1614.1 1153.6,1578.6 1170,1584.7 1265.8,1478.5 1162.6,1591.1 1196.8,1550.3 1098.1,1589.9 1187.7,1505.6 1176.8,1607.2 1182.3,1561.3 1092.8,1622.1 1154.2,1636.4 1242.7,1512.5 1215.7,1560.7 1269.1,1449.3 1235.9,1464.1 1199.4,1566.8 1125,1620.9 1219.8,1518.2 1147.7,1652.9 1192.4,1532.2 1120.8,1613.2 1233.3,1527.3 1190.4,1501.8 1222.2,1513.9 1199.4,1522.4 1254.3,1548.2 1170.1,1589.2 1161.3,1534 1152.5,1592.7 1169.3,1582.8 1181.9,1596.2 1181.6,1568.8 1274,1542.9 1308,1438.7 1169,1592.7 1197.7,1589.5 1262.1,1475.4 1111.5,1602.2 1206.2,1551.6 1187.1,1567.2 1165,1621.1 1095.3,1630.1 1218.5,1557.9 1253.2,1550.2 1368.1,1450 1160.3,1543.5 1107.5,1563.7 1138.1,1584.1 1193,1504.3 1262.2,1564 1130.2,1533.8 1124.1,1607.5 1218.9,1545.4 1205.9,1523.3 1155.5,1646.2 1239.7,1552.7 1189,1617.4 1129,1620.2 1064.5,1565.4 1113.9,1645.3 1175.4,1557.1 1119.8,1600.3 1219.1,1594.4 1287.7,1434.5 1215.7,1573.2 1147,1580.1 1210.2,1580.8 1279.3,1538.9 1194.2,1606.1 1208.8,1559.1 1214.9,1557.7 1105.2,1520.6 1204.7,1586.9 1175.8,1555.8 1188.8,1573.6 1256,1569.6 1159.8,1585.6 1162.3,1574.7 1138.5,1534.7 1214.4,1592.5 1241.5,1549.6 1200.7,1524.4 1281.7,1493.3 1189.4,1591 1202.2,1527.6 1198.5,1526.6 1263.4,1522.9 1183,1537.5 1141.8,1616.7 1203.8,1545.2 1161.9,1584.6 1203.7,1558.8 1278.7,1542.5 1126.6,1604.6 1213.9,1598.3 1144.9,1589.7 1181.8,1630.6 1163.2,1639.4 1150.6,1611.5 1145.3,1592.5 1136.1,1597 1163.4,1569.3 1171.2,1584.5 1203.3,1578.7 1168.2,1467.7 1254.7,1578.7 1251.5,1525.4 1213.5,1540.6 1160.3,1612.1 1161.3,1573.9 1265.1,1547 1084.3,1589.6 1250.1,1460.6 1162.3,1629.3 1183.5,1439.6 1192.5,1614.8 1151.7,1584.1 1236,1623.9 1141,1601.5 1249.3,1536 1171.2,1555.3 1212.4,1558.2 1234.3,1630.4 1117.6,1629.6 1232.4,1559.9 1236.3,1554 1178.2,1582 1214.1,1518.2 1099.9,1552.2 1128.8,1613.1 1192.8,1522.2 1175.7,1531.8 1168.8,1585.6 1313.8,1539.2 1229,1541.8 1193.8,1555.7 1211.9,1589 1211.3,1635 1186,1574.1 1161.9,1571.2 1200.3,1590.7 1244.2,1569.1 1226.1,1569.7 1165.8,1563.7 1197.4,1592.6 1308.4,1541.7 1235.2,1573.1 1227.2,1514.3 1154.3,1572.9 1234.3,1492 1261.5,1628.9 1119.4,1532.6 1270.7,1572 1176.8,1572.2 1159.1,1595.7 1169.3,1594.7 1179.6,1583.5 1186.5,1522 1270.5,1568.5 1248,1573.1 1207.3,1506.7 1106.2,1649.3 1158.2,1581.7 1203,1589.2 1300.5,1577.9 1143.3,1629.4 1119.8,1640.5 1105.8,1589.4 1244.7,1506.9 1185,1595.9 1189,1570.2 1242.3,1633.7 1112,1614.7 1099,1607.6 1169.8,1610.3 1140.1,1634.7 1131.6,1637 1198.8,1511.3 1194.2,1565.6 1101.8,1632.2 1246,1570.1 1089.7,1555.5 1177.6,1586.7 1342.8,1417.5 1058.4,1641.6 1268.8,1474.3 1210.9,1528.3 1215.6,1552.1 1124.1,1598.5 1165.9,1623.4 1163.9,1620.4 1238.9,1461.9 1160.3,1614.5 1170.9,1571.5 1337.4,1450.5 1218.5,1514.4 1105.5,1617.5 1115.5,1571.7 1241.5,1570.7 1230.7,1542.1 1160.5,1630.8 1161.3,1629.3 1242.1,1585.4 1177.3,1551 1134.2,1600.9 1192.8,1596.9 1179.1,1598.7 1118.8,1624 1126.5,1625 1071.9,1604.1 1218.8,1512.8 1175.3,1579.1 1172.7,1564.3 1149.3,1538.9 1148.1,1606.8 1146.9,1607.7 1262.5,1547.1 1175.2,1542 1145.8,1580.5 1178,1574.8 1244.1,1508.4 1198,1572.1 1187.9,1611.6 1194.5,1601.3 1186.3,1570.2 1265.2,1495.2 1132.2,1613.4 1208.1,1578.6 1211.2,1568 1171.3,1599.8 1182.9,1592.7 1283.4,1516.7 1313,1461.8 1087.8,1636.9 1118.6,1608.3 1237.1,1580.9 1152.2,1611.1 1182.4,1593 1142.1,1587.8 1080.8,1593 1113.6,1622.1 1222,1596.7 1093.4,1557.9 1162.7,1586.1 1247,1518.5 1139.7,1600.8 1159.1,1592.1 1220.5,1620 1211.5,1505.1 1132.3,1591.7 1139.4,1576.4 1095.2,1584.3 1118.4,1594.5 1155.6,1589.5 1242.5,1577.3 1293.9,1466.4 1307,1443.4 1190.1,1572.9 1216.1,1499.2 1245.4,1527.5 1239.8,1531.7 1200.9,1528.3 1246.1,1596.2 1254.4,1503.1 1263.5,1542.4 1123.7,1658.2 1251,1555.3 1184.6,1591.4 1191,1558.9 1275.1,1545.3 1180.9,1616.1 1137.2,1596.3 1104,1646.1 1186.2,1564.8 1195.3,1578 1194.2,1577.9 1199.5,1583 1217.3,1536.4 1233.8,1591.9 1268.9,1489.6 1163,1548.3 1217.3,1565.5 1198.6,1568.4 1207,1572.2 1101,1616.2 1186.5,1643 1113.8,1602.9 1220.6,1574.4 1181.4,1570.1 1148.4,1568.9 1183,1586.8 1231.8,1575 1185.4,1591 1221.9,1565.6 1100.8,1635.6 1179.4,1556.7 1133.9,1547.6 1202.2,1593.7 1145.1,1568.5 1224.4,1556.1 1130.7,1575.8 1153.2,1612.2 1122.9,1624.2 1129.1,1626.4 1173.9,1599.7 1209.5,1579.4 1200.1,1548.6 1217,1555.6 1154.6,1430.9 1182.8,1601.5 1159.6,1601 1142.7,1587.9 1216.9,1518.3 1146.5,1597.3 1195.1,1574.2 1147.9,1570.8 1068.1,1615.7 1188.4,1609.2 1254.9,1540.8 1257.2,1518.2 1176.5,1627.7 1120.3,1629 1124.7,1618.2 1167.9,1562.9 1195.7,1605.1 1118.9,1602.1 1266.2,1482.6 1160.5,1578.8 1135.2,1619.6 1207.7,1598.6 1222.3,1521.7 1166.2,1434.6 1227.7,1601.8 1274.4,1564.7 1182.7,1611.4 1134.3,1584.1 1074,1652.1 1137,1589.5 1202.1,1581.9 1208.7,1590.1 1161.7,1604.5 1198.9,1599.5 1186.9,1569.4 1087,1633.9 1221.1,1458.5 1134.7,1600.6 1143.8,1513.8 1215.3,1608.8 1149.4,1611.4 1331.2,1521.8 1208.8,1573.1 1177.5,1530.2 1248.5,1425.9 1263.7,1488.4 1173.7,1554 1231.7,1535.6 1184.7,1574.8 1258.8,1493.2 1196.1,1542.7 1101.7,1598.1 1200.3,1648.2 1252.4,1546.9 1130.8,1606.2 1159.5,1562.4 1133.5,1598.3 1196,1562.1 1140,1577.7 1080.3,1596.6 1149.4,1607.1 1128.5,1615.1 1197.1,1517.7 1098.5,1579.5 1203.5,1575.3 1207.3,1495.2 1120.1,1606.5 1184.4,1574.9 1175.5,1620.4 1287,1551.1 1119.8,1619.3 1220.6,1557.1 1179.4,1573.3 1188,1571.4 1206.9,1532.4 1104.7,1627.7 1263,1539.9 1169.7,1626.1 1116.3,1624.5 1136,1624.2 1139.9,1573.3 1168,1545.1 1127.8,1596.5 1266.2,1545.8 1171.2,1598.2 1174.6,1585.3 1154.9,1633.2 1273.4,1497.1 1121.9,1588.9 1138.4,1515.8 1130.1,1584.4 1167.2,1591 1089.8,1642.4 1190.8,1625.3 1188.6,1585.8 1145,1588 1134,1503.6 1180.8,1603.1 1211.8,1607.3 1138.6,1651.1 1082.3,1629.1 1260.6,1461.8 1093.9,1632.6 1182,1539 1262.3,1464.1 1146.3,1614.2 1178.4,1574.1 1268.8,1540.1 1165.3,1522 1155.4,1628.2 1209.6,1525 1153.8,1567.5 1165.1,1587.6 1146.4,1543.7 1179.8,1559.2 1244.8,1501.2 1193,1537.2 1284.8,1483.1 1139.7,1607.1 1085,1636.9 1239.1,1575.6 1196,1566.3 1258.3,1472.8 1160.3,1622 1313.8,1513.4 1156,1607.8 1206.3,1593.2 1239.4,1579.9 1172.4,1580.1 1258.6,1529 1117,1569.5 1191.8,1561.5 1241.1,1455.4 1253.1,1588.1 1254.7,1560.5 1159.7,1599.7 1199.6,1544.5 1166.1,1579.8 1142.8,1609.5 1136.9,1620.8 1105,1572.8 1186.7,1602.3 1120.3,1573.5 1138.8,1602.8 1185.4,1611.1 1134.1,1584 1195.9,1551.2 1194.5,1613.6 1107.1,1632.3 1251.8,1539.9 1134.9,1587 1126.9,1519.1 1274.4,1424.3 1133.4,1631.3 1184.8,1521.7 1266.8,1589.2 1237.4,1537.1 1175.5,1633.4 1124.7,1584.4 1198.8,1558.9 1228.7,1587.5 1165.8,1566.3 1274.5,1500.6 1128.2,1638.8 1243.9,1507.8 1128.1,1603.9 1251.4,1592.4 1101.9,1608.6 1222.1,1564.2 1178.7,1581.6 1162.6,1581.2 1202.6,1510.2 1222,1551 1169,1612.3 1219.9,1504.4 1226.3,1595.5 1175.9,1606.1 1264.6,1526.7 1160.1,1522.3 1229.9,1566 1176.2,1602.9 1115.2,1596.2 1206.4,1613.2 1142.5,1601.8 1158.3,1629.8 1138.9,1517 1195.8,1579.7 1186.4,1635.5 1178.9,1578.1 1196.7,1605.8 1162.3,1607.7 1294.8,1479 1276.8,1536.7 1170.8,1614 1155,1584.6 1160.5,1579.2 1201.5,1511.4 1193.4,1538.3 1129.1,1588 1149.5,1580.2 1121.2,1610 1113.8,1580.8 1301.4,1567.3 1114.6,1557.7 1164.9,1596.4 1149.1,1579.3 1262.3,1568.6 1128,1593.5 1143.8,1632.4 1094.8,1636.9 1201.3,1564.5 1150.7,1555.2 1174.6,1578.5 1211.5,1591.2 1207.8,1521.5 1153.2,1578.3 1239.5,1560.5 1278.1,1466.1 1089.6,1545.6 1244,1610 1325.8,1464 1288.9,1556.5 1142.5,1593.8 1189.5,1597.1 1079.3,1614.9 1219.2,1554.3 1169,1590.9 1189.1,1528.9 1209.5,1572.3 1214.8,1540.5 1133.7,1640.8 1124.7,1649.1 1267.7,1560.2 1127.6,1597.1 1139.5,1600.8 1141.9,1617.1 1197.2,1601.7 1294.6,1474.2 1241.5,1563.7 1173.1,1601.5 1265.3,1569.8 1118.1,1615.7 1220.3,1580.5 1235.2,1538.4 1149.3,1614.8 1098.5,1655.6 1166,1646.4 1222.6,1488.9 1217.9,1531.5 1203.7,1601.1 1174.8,1568.5 1090,1563 1199.5,1587.5 1224.1,1607.1 1160.7,1614.8 1151,1613 1218,1530.8 1147.9,1596.7 1266.8,1526.4 1199.7,1608 1090.7,1584.2 1141.9,1600.9 1134.5,1559.3 1231.4,1523.7 1188.4,1543.5 1167.8,1604.4 1194.8,1605 1201.9,1570.6 1145.9,1549.6 1216.5,1596.5 1147.1,1598.9 1129,1609.8 1246.4,1575.5 1266.1,1563.4 1173.3,1584 1176.6,1579.5 1177.2,1599.5 1211,1523.1 1143.7,1647.9 1178.6,1576.8 1316,1523.6 1386.4,1329.7 1252.4,1346.7 1298.7,1356.3 1279.2,1372.2 1337.8,1377.5 1240.1,1376 1189.8,1385 1414.3,1459.9 1053,1627.4 1420.5,1575.8"/><path d="M1016.7,1587.2 1203,1567.8 1548.9,1517.6 1548.9,1543.6 1203,1572.8 1016.7,1596.2Z" fill="#4292C6" opacity=".4"/><path d="M1016.7,1591.7 L1548.9,1530.6" stroke="#4292C6" stroke-width="4.6" fill="none"/><path d="M1053,1650 1181.6,1580.9 1420.5,1442.4 1420.5,1458.4 1181.6,1585.9 1053,1660Z" fill="#EF3B2C" opacity=".4"/><path d="M1053,1655 L1420.5,1450.4" stroke="#EF3B2C" stroke-width="4.6" fill="none"/><path d="M990.2,1077 V1745.2 H1574" stroke="#000" stroke-width="2.1" fill="none"/><path d="M1086.5,1745.2 v6.5" stroke="#000" stroke-width="2.1"/><text x="1086" y="1776.2" font-size="20.4" text-anchor="middle">−2</text><path d="M1198.2,1745.2 v6.5" stroke="#000" stroke-width="2.1"/><text x="1197.7" y="1776.2" font-size="20.4" text-anchor="middle">0</text><path d="M1309.9,1745.2 v6.5" stroke="#000" stroke-width="2.1"/><text x="1309.4" y="1776.2" font-size="20.4" text-anchor="middle">2</text><path d="M1421.6,1745.2 v6.5" stroke="#000" stroke-width="2.1"/><text x="1421.1" y="1776.2" font-size="20.4" text-anchor="middle">4</text><path d="M1533.3,1745.2 v6.5" stroke="#000" stroke-width="2.1"/><text x="1532.8" y="1776.2" font-size="20.4" text-anchor="middle">6</text><path d="M990.2,1095.9 h-6.5" stroke="#000" stroke-width="2.1"/><text x="969.9" y="1105.8" font-size="20.4" text-anchor="end">9</text><path d="M990.2,1255.3 h-6.5" stroke="#000" stroke-width="2.1"/><text x="969.9" y="1265.2" font-size="20.4" text-anchor="end">6</text><path d="M990.2,1414.8 h-6.5" stroke="#000" stroke-width="2.1"/><text x="969.9" y="1424.7" font-size="20.4" text-anchor="end">3</text><path d="M990.2,1574.2 h-6.5" stroke="#000" stroke-width="2.1"/><text x="969.9" y="1584.1" font-size="20.4" text-anchor="end">0</text><path d="M990.2,1733.7 h-6.5" stroke="#000" stroke-width="2.1"/><text x="969.9" y="1743.6" font-size="20.4" text-anchor="end">−3</text><text x="1257.1" y="1806" font-size="20.3" text-anchor="middle">SPP1+macro_score</text><text transform="translate(936.2,1428.1) rotate(-90)" font-size="20.3" text-anchor="middle">CD4T_score</text>
<text x="651" y="1153" font-size="20.4" font-weight="bold" fill="#4292C6">R² = 0.04 , p &lt; 2.2e−16</text>
<text x="651" y="1195" font-size="20.4" font-weight="bold" fill="#EF3B2C">R² = 0.44 , p &lt; 2.2e−16</text>
<text x="1313" y="1158" font-size="20.4" font-weight="bold" fill="#4292C6">R² = 0.016 , p = 4.5e−10</text>
<text x="1313" y="1209" font-size="20.4" font-weight="bold" fill="#EF3B2C">R² = 0.38 , p &lt; 2.2e−16</text>
<text x="1615" y="1377" font-size="20.2">Sample</text>
<rect x="1614.5" y="1393.5" width="37.5" height="37.5" fill="#4292C6" opacity=".4"/>
<path d="M1618,1412.2 h30.5" stroke="#4292C6" stroke-width="4.6"/>
<text x="1633" y="1422.8" font-size="15.7" text-anchor="middle" fill="#4292C6">a</text>
<circle cx="1633" cy="1412.2" r="4.1" fill="#4292C6"/>
<text x="1665" y="1418.1" font-size="20.3">CID4290</text>
<rect x="1614.5" y="1431" width="37.5" height="37.5" fill="#EF3B2C" opacity=".4"/>
<path d="M1618,1449.7 h30.5" stroke="#EF3B2C" stroke-width="4.6"/>
<text x="1633" y="1460.3" font-size="15.7" text-anchor="middle" fill="#EF3B2C">a</text>
<path d="M1633,1443.7 l5.4,9 h-10.8z" fill="#EF3B2C"/>
<text x="1665" y="1455.6" font-size="20.3">CID4535</text>
</svg></body></html>
